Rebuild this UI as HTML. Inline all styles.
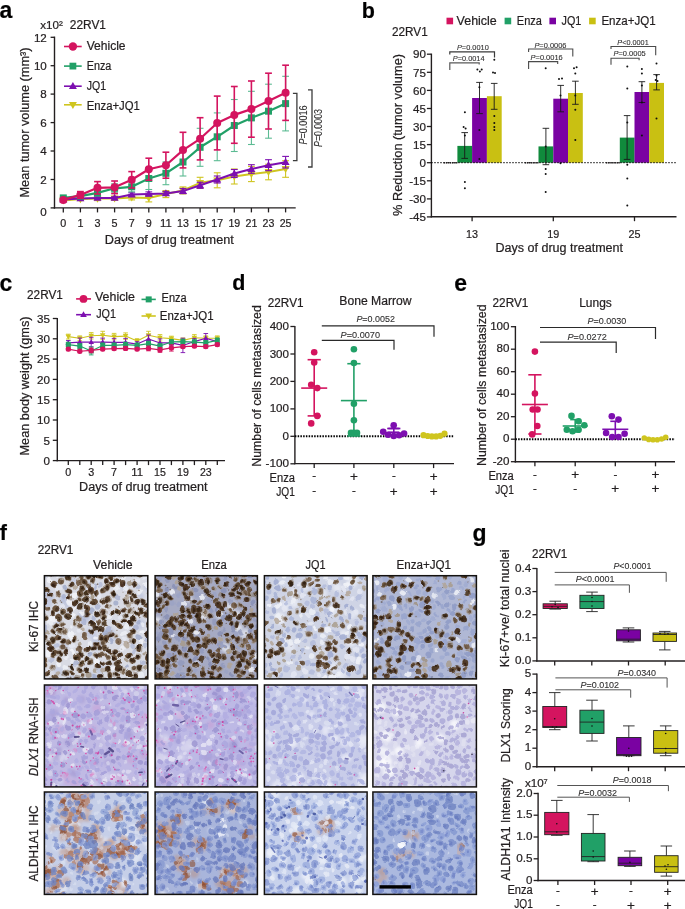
<!DOCTYPE html>
<html lang="en"><head><meta charset="utf-8"><title>Figure</title>
<style>html,body{margin:0;padding:0;background:#fff}svg{display:block}text{font-family:"Liberation Sans",sans-serif;stroke:#231f20;stroke-width:.22px}text.p{stroke-width:.1px}</style></head><body>
<svg width="685" height="909" viewBox="0 0 685 909" fill="#231f20">
<rect x="0" y="0" width="685" height="909" fill="#fff"/>
<g>
<text x="-0.5" y="18" font-size="23" font-weight="700" fill="#000">a</text>
<text x="40.2" y="28.9" font-size="11.5" textLength="22.6" lengthAdjust="spacingAndGlyphs">x10²</text>
<text x="69.8" y="28.9" font-size="12" textLength="36.2" lengthAdjust="spacingAndGlyphs">22RV1</text>
<line x1="54.5" y1="36.6" x2="54.5" y2="208.6" stroke="#231f20" stroke-width="1.4"/>
<line x1="53.8" y1="207.9" x2="295.7" y2="207.9" stroke="#231f20" stroke-width="1.4"/>
<line x1="50.6" y1="207.9" x2="54.5" y2="207.9" stroke="#231f20" stroke-width="1.3"/>
<text x="46.8" y="216.4" font-size="11.6" text-anchor="end">0</text>
<line x1="50.6" y1="179.5" x2="54.5" y2="179.5" stroke="#231f20" stroke-width="1.3"/>
<text x="46.8" y="183.7" font-size="11.6" text-anchor="end">2</text>
<line x1="50.6" y1="151" x2="54.5" y2="151" stroke="#231f20" stroke-width="1.3"/>
<text x="46.8" y="155.2" font-size="11.6" text-anchor="end">4</text>
<line x1="50.6" y1="122.6" x2="54.5" y2="122.6" stroke="#231f20" stroke-width="1.3"/>
<text x="46.8" y="126.8" font-size="11.6" text-anchor="end">6</text>
<line x1="50.6" y1="94.1" x2="54.5" y2="94.1" stroke="#231f20" stroke-width="1.3"/>
<text x="46.8" y="98.3" font-size="11.6" text-anchor="end">8</text>
<line x1="50.6" y1="65.7" x2="54.5" y2="65.7" stroke="#231f20" stroke-width="1.3"/>
<text x="46.8" y="69.9" font-size="11.6" text-anchor="end">10</text>
<line x1="50.6" y1="37.3" x2="54.5" y2="37.3" stroke="#231f20" stroke-width="1.3"/>
<text x="46.8" y="41.5" font-size="11.6" text-anchor="end">12</text>
<line x1="63.3" y1="207.9" x2="63.3" y2="212.4" stroke="#231f20" stroke-width="1.3"/>
<text x="63.3" y="227.3" font-size="11.6" text-anchor="middle" textLength="6" lengthAdjust="spacingAndGlyphs">0</text>
<line x1="80.4" y1="207.9" x2="80.4" y2="212.4" stroke="#231f20" stroke-width="1.3"/>
<text x="80.4" y="227.3" font-size="11.6" text-anchor="middle" textLength="6" lengthAdjust="spacingAndGlyphs">1</text>
<line x1="97.5" y1="207.9" x2="97.5" y2="212.4" stroke="#231f20" stroke-width="1.3"/>
<text x="97.5" y="227.3" font-size="11.6" text-anchor="middle" textLength="6" lengthAdjust="spacingAndGlyphs">3</text>
<line x1="114.6" y1="207.9" x2="114.6" y2="212.4" stroke="#231f20" stroke-width="1.3"/>
<text x="114.6" y="227.3" font-size="11.6" text-anchor="middle" textLength="6" lengthAdjust="spacingAndGlyphs">5</text>
<line x1="131.7" y1="207.9" x2="131.7" y2="212.4" stroke="#231f20" stroke-width="1.3"/>
<text x="131.7" y="227.3" font-size="11.6" text-anchor="middle" textLength="6" lengthAdjust="spacingAndGlyphs">7</text>
<line x1="148.8" y1="207.9" x2="148.8" y2="212.4" stroke="#231f20" stroke-width="1.3"/>
<text x="148.8" y="227.3" font-size="11.6" text-anchor="middle" textLength="6" lengthAdjust="spacingAndGlyphs">9</text>
<line x1="165.9" y1="207.9" x2="165.9" y2="212.4" stroke="#231f20" stroke-width="1.3"/>
<text x="165.9" y="227.3" font-size="11.6" text-anchor="middle" textLength="11.8" lengthAdjust="spacingAndGlyphs">11</text>
<line x1="183" y1="207.9" x2="183" y2="212.4" stroke="#231f20" stroke-width="1.3"/>
<text x="183" y="227.3" font-size="11.6" text-anchor="middle" textLength="11.8" lengthAdjust="spacingAndGlyphs">13</text>
<line x1="200.1" y1="207.9" x2="200.1" y2="212.4" stroke="#231f20" stroke-width="1.3"/>
<text x="200.1" y="227.3" font-size="11.6" text-anchor="middle" textLength="11.8" lengthAdjust="spacingAndGlyphs">15</text>
<line x1="217.2" y1="207.9" x2="217.2" y2="212.4" stroke="#231f20" stroke-width="1.3"/>
<text x="217.2" y="227.3" font-size="11.6" text-anchor="middle" textLength="11.8" lengthAdjust="spacingAndGlyphs">17</text>
<line x1="234.3" y1="207.9" x2="234.3" y2="212.4" stroke="#231f20" stroke-width="1.3"/>
<text x="234.3" y="227.3" font-size="11.6" text-anchor="middle" textLength="11.8" lengthAdjust="spacingAndGlyphs">19</text>
<line x1="251.4" y1="207.9" x2="251.4" y2="212.4" stroke="#231f20" stroke-width="1.3"/>
<text x="251.4" y="227.3" font-size="11.6" text-anchor="middle" textLength="11.8" lengthAdjust="spacingAndGlyphs">21</text>
<line x1="268.5" y1="207.9" x2="268.5" y2="212.4" stroke="#231f20" stroke-width="1.3"/>
<text x="268.5" y="227.3" font-size="11.6" text-anchor="middle" textLength="11.8" lengthAdjust="spacingAndGlyphs">23</text>
<line x1="285.6" y1="207.9" x2="285.6" y2="212.4" stroke="#231f20" stroke-width="1.3"/>
<text x="285.6" y="227.3" font-size="11.6" text-anchor="middle" textLength="11.8" lengthAdjust="spacingAndGlyphs">25</text>
<text x="104.8" y="244.3" font-size="12" textLength="129" lengthAdjust="spacingAndGlyphs">Days of drug treatment</text>
<text font-size="12" textLength="150" lengthAdjust="spacingAndGlyphs" transform="translate(28.8 197.5) rotate(-90)">Mean tumor volume (mm³)</text>
<line x1="63.3" y1="199.4" x2="63.3" y2="201.4" stroke="#cfc51f" stroke-width="1.1"/>
<line x1="59.9" y1="199.4" x2="66.7" y2="199.4" stroke="#cfc51f" stroke-width="1.1"/>
<line x1="59.9" y1="201.4" x2="66.7" y2="201.4" stroke="#cfc51f" stroke-width="1.1"/>
<line x1="80.4" y1="197.6" x2="80.4" y2="200.6" stroke="#cfc51f" stroke-width="1.1"/>
<line x1="77" y1="197.6" x2="83.8" y2="197.6" stroke="#cfc51f" stroke-width="1.1"/>
<line x1="77" y1="200.6" x2="83.8" y2="200.6" stroke="#cfc51f" stroke-width="1.1"/>
<line x1="97.5" y1="196.6" x2="97.5" y2="200.6" stroke="#cfc51f" stroke-width="1.1"/>
<line x1="94.1" y1="196.6" x2="100.9" y2="196.6" stroke="#cfc51f" stroke-width="1.1"/>
<line x1="94.1" y1="200.6" x2="100.9" y2="200.6" stroke="#cfc51f" stroke-width="1.1"/>
<line x1="114.6" y1="196.4" x2="114.6" y2="200.4" stroke="#cfc51f" stroke-width="1.1"/>
<line x1="111.2" y1="196.4" x2="118" y2="196.4" stroke="#cfc51f" stroke-width="1.1"/>
<line x1="111.2" y1="200.4" x2="118" y2="200.4" stroke="#cfc51f" stroke-width="1.1"/>
<line x1="131.7" y1="194.9" x2="131.7" y2="199.9" stroke="#cfc51f" stroke-width="1.1"/>
<line x1="128.3" y1="194.9" x2="135.1" y2="194.9" stroke="#cfc51f" stroke-width="1.1"/>
<line x1="128.3" y1="199.9" x2="135.1" y2="199.9" stroke="#cfc51f" stroke-width="1.1"/>
<line x1="148.8" y1="193.9" x2="148.8" y2="201.9" stroke="#cfc51f" stroke-width="1.1"/>
<line x1="145.4" y1="193.9" x2="152.2" y2="193.9" stroke="#cfc51f" stroke-width="1.1"/>
<line x1="145.4" y1="201.9" x2="152.2" y2="201.9" stroke="#cfc51f" stroke-width="1.1"/>
<line x1="165.9" y1="190.6" x2="165.9" y2="197.6" stroke="#cfc51f" stroke-width="1.1"/>
<line x1="162.5" y1="190.6" x2="169.3" y2="190.6" stroke="#cfc51f" stroke-width="1.1"/>
<line x1="162.5" y1="197.6" x2="169.3" y2="197.6" stroke="#cfc51f" stroke-width="1.1"/>
<line x1="183" y1="186.9" x2="183" y2="193.9" stroke="#cfc51f" stroke-width="1.1"/>
<line x1="179.6" y1="186.9" x2="186.4" y2="186.9" stroke="#cfc51f" stroke-width="1.1"/>
<line x1="179.6" y1="193.9" x2="186.4" y2="193.9" stroke="#cfc51f" stroke-width="1.1"/>
<line x1="200.1" y1="177.3" x2="200.1" y2="188.3" stroke="#cfc51f" stroke-width="1.1"/>
<line x1="196.7" y1="177.3" x2="203.5" y2="177.3" stroke="#cfc51f" stroke-width="1.1"/>
<line x1="196.7" y1="188.3" x2="203.5" y2="188.3" stroke="#cfc51f" stroke-width="1.1"/>
<line x1="217.2" y1="172.8" x2="217.2" y2="187.8" stroke="#cfc51f" stroke-width="1.1"/>
<line x1="213.8" y1="172.8" x2="220.6" y2="172.8" stroke="#cfc51f" stroke-width="1.1"/>
<line x1="213.8" y1="187.8" x2="220.6" y2="187.8" stroke="#cfc51f" stroke-width="1.1"/>
<line x1="234.3" y1="169" x2="234.3" y2="184" stroke="#cfc51f" stroke-width="1.1"/>
<line x1="230.9" y1="169" x2="237.7" y2="169" stroke="#cfc51f" stroke-width="1.1"/>
<line x1="230.9" y1="184" x2="237.7" y2="184" stroke="#cfc51f" stroke-width="1.1"/>
<line x1="251.4" y1="166.4" x2="251.4" y2="181.6" stroke="#cfc51f" stroke-width="1.1"/>
<line x1="248" y1="166.4" x2="254.8" y2="166.4" stroke="#cfc51f" stroke-width="1.1"/>
<line x1="248" y1="181.6" x2="254.8" y2="181.6" stroke="#cfc51f" stroke-width="1.1"/>
<line x1="268.5" y1="164.2" x2="268.5" y2="179.8" stroke="#cfc51f" stroke-width="1.1"/>
<line x1="265.1" y1="164.2" x2="271.9" y2="164.2" stroke="#cfc51f" stroke-width="1.1"/>
<line x1="265.1" y1="179.8" x2="271.9" y2="179.8" stroke="#cfc51f" stroke-width="1.1"/>
<line x1="285.6" y1="160.7" x2="285.6" y2="177.3" stroke="#cfc51f" stroke-width="1.1"/>
<line x1="282.2" y1="160.7" x2="289" y2="160.7" stroke="#cfc51f" stroke-width="1.1"/>
<line x1="282.2" y1="177.3" x2="289" y2="177.3" stroke="#cfc51f" stroke-width="1.1"/>
<polyline points="63.3,200.4 80.4,199.1 97.5,198.6 114.6,198.4 131.7,197.4 148.8,197.9 165.9,194.1 183,190.4 200.1,182.8 217.2,180.3 234.3,176.5 251.4,174 268.5,172 285.6,169" fill="none" stroke="#cfc51f" stroke-width="2" stroke-linejoin="round"/>
<path d="M63.3 204.5L67.3 197.5L59.3 197.5Z" fill="#cfc51f"/>
<path d="M80.4 203.2L84.4 196.2L76.4 196.2Z" fill="#cfc51f"/>
<path d="M97.5 202.7L101.5 195.7L93.5 195.7Z" fill="#cfc51f"/>
<path d="M114.6 202.5L118.6 195.5L110.6 195.5Z" fill="#cfc51f"/>
<path d="M131.7 201.5L135.7 194.5L127.7 194.5Z" fill="#cfc51f"/>
<path d="M148.8 202L152.8 195L144.8 195Z" fill="#cfc51f"/>
<path d="M165.9 198.2L169.9 191.2L161.9 191.2Z" fill="#cfc51f"/>
<path d="M183 194.5L187 187.5L179 187.5Z" fill="#cfc51f"/>
<path d="M200.1 186.9L204.1 179.9L196.1 179.9Z" fill="#cfc51f"/>
<path d="M217.2 184.4L221.2 177.4L213.2 177.4Z" fill="#cfc51f"/>
<path d="M234.3 180.6L238.3 173.6L230.3 173.6Z" fill="#cfc51f"/>
<path d="M251.4 178.1L255.4 171.1L247.4 171.1Z" fill="#cfc51f"/>
<path d="M268.5 176.1L272.5 169.1L264.5 169.1Z" fill="#cfc51f"/>
<path d="M285.6 173.1L289.6 166.1L281.6 166.1Z" fill="#cfc51f"/>
<line x1="63.3" y1="198.6" x2="63.3" y2="200.6" stroke="#7d0fb0" stroke-width="1.1"/>
<line x1="59.9" y1="198.6" x2="66.7" y2="198.6" stroke="#7d0fb0" stroke-width="1.1"/>
<line x1="59.9" y1="200.6" x2="66.7" y2="200.6" stroke="#7d0fb0" stroke-width="1.1"/>
<line x1="80.4" y1="197.4" x2="80.4" y2="199.4" stroke="#7d0fb0" stroke-width="1.1"/>
<line x1="77" y1="197.4" x2="83.8" y2="197.4" stroke="#7d0fb0" stroke-width="1.1"/>
<line x1="77" y1="199.4" x2="83.8" y2="199.4" stroke="#7d0fb0" stroke-width="1.1"/>
<line x1="97.5" y1="196.7" x2="97.5" y2="199.1" stroke="#7d0fb0" stroke-width="1.1"/>
<line x1="94.1" y1="196.7" x2="100.9" y2="196.7" stroke="#7d0fb0" stroke-width="1.1"/>
<line x1="94.1" y1="199.1" x2="100.9" y2="199.1" stroke="#7d0fb0" stroke-width="1.1"/>
<line x1="114.6" y1="196.7" x2="114.6" y2="199.1" stroke="#7d0fb0" stroke-width="1.1"/>
<line x1="111.2" y1="196.7" x2="118" y2="196.7" stroke="#7d0fb0" stroke-width="1.1"/>
<line x1="111.2" y1="199.1" x2="118" y2="199.1" stroke="#7d0fb0" stroke-width="1.1"/>
<line x1="131.7" y1="192.8" x2="131.7" y2="196.4" stroke="#7d0fb0" stroke-width="1.1"/>
<line x1="128.3" y1="192.8" x2="135.1" y2="192.8" stroke="#7d0fb0" stroke-width="1.1"/>
<line x1="128.3" y1="196.4" x2="135.1" y2="196.4" stroke="#7d0fb0" stroke-width="1.1"/>
<line x1="148.8" y1="191.9" x2="148.8" y2="195.9" stroke="#7d0fb0" stroke-width="1.1"/>
<line x1="145.4" y1="191.9" x2="152.2" y2="191.9" stroke="#7d0fb0" stroke-width="1.1"/>
<line x1="145.4" y1="195.9" x2="152.2" y2="195.9" stroke="#7d0fb0" stroke-width="1.1"/>
<line x1="165.9" y1="191.4" x2="165.9" y2="195.4" stroke="#7d0fb0" stroke-width="1.1"/>
<line x1="162.5" y1="191.4" x2="169.3" y2="191.4" stroke="#7d0fb0" stroke-width="1.1"/>
<line x1="162.5" y1="195.4" x2="169.3" y2="195.4" stroke="#7d0fb0" stroke-width="1.1"/>
<line x1="183" y1="188.6" x2="183" y2="193.6" stroke="#7d0fb0" stroke-width="1.1"/>
<line x1="179.6" y1="188.6" x2="186.4" y2="188.6" stroke="#7d0fb0" stroke-width="1.1"/>
<line x1="179.6" y1="193.6" x2="186.4" y2="193.6" stroke="#7d0fb0" stroke-width="1.1"/>
<line x1="200.1" y1="182.3" x2="200.1" y2="188.3" stroke="#7d0fb0" stroke-width="1.1"/>
<line x1="196.7" y1="182.3" x2="203.5" y2="182.3" stroke="#7d0fb0" stroke-width="1.1"/>
<line x1="196.7" y1="188.3" x2="203.5" y2="188.3" stroke="#7d0fb0" stroke-width="1.1"/>
<line x1="217.2" y1="176" x2="217.2" y2="183" stroke="#7d0fb0" stroke-width="1.1"/>
<line x1="213.8" y1="176" x2="220.6" y2="176" stroke="#7d0fb0" stroke-width="1.1"/>
<line x1="213.8" y1="183" x2="220.6" y2="183" stroke="#7d0fb0" stroke-width="1.1"/>
<line x1="234.3" y1="169.5" x2="234.3" y2="177.5" stroke="#7d0fb0" stroke-width="1.1"/>
<line x1="230.9" y1="169.5" x2="237.7" y2="169.5" stroke="#7d0fb0" stroke-width="1.1"/>
<line x1="230.9" y1="177.5" x2="237.7" y2="177.5" stroke="#7d0fb0" stroke-width="1.1"/>
<line x1="251.4" y1="164.7" x2="251.4" y2="173.3" stroke="#7d0fb0" stroke-width="1.1"/>
<line x1="248" y1="164.7" x2="254.8" y2="164.7" stroke="#7d0fb0" stroke-width="1.1"/>
<line x1="248" y1="173.3" x2="254.8" y2="173.3" stroke="#7d0fb0" stroke-width="1.1"/>
<line x1="268.5" y1="159.7" x2="268.5" y2="170.7" stroke="#7d0fb0" stroke-width="1.1"/>
<line x1="265.1" y1="159.7" x2="271.9" y2="159.7" stroke="#7d0fb0" stroke-width="1.1"/>
<line x1="265.1" y1="170.7" x2="271.9" y2="170.7" stroke="#7d0fb0" stroke-width="1.1"/>
<line x1="285.6" y1="156.4" x2="285.6" y2="168" stroke="#7d0fb0" stroke-width="1.1"/>
<line x1="282.2" y1="156.4" x2="289" y2="156.4" stroke="#7d0fb0" stroke-width="1.1"/>
<line x1="282.2" y1="168" x2="289" y2="168" stroke="#7d0fb0" stroke-width="1.1"/>
<polyline points="63.3,199.6 80.4,198.4 97.5,197.9 114.6,197.9 131.7,194.6 148.8,193.9 165.9,193.4 183,191.1 200.1,185.3 217.2,179.5 234.3,173.5 251.4,169 268.5,165.2 285.6,162.2" fill="none" stroke="#7d0fb0" stroke-width="2" stroke-linejoin="round"/>
<path d="M63.3 195.5L67.3 202.5L59.3 202.5Z" fill="#7d0fb0"/>
<path d="M80.4 194.3L84.4 201.3L76.4 201.3Z" fill="#7d0fb0"/>
<path d="M97.5 193.8L101.5 200.8L93.5 200.8Z" fill="#7d0fb0"/>
<path d="M114.6 193.8L118.6 200.8L110.6 200.8Z" fill="#7d0fb0"/>
<path d="M131.7 190.5L135.7 197.5L127.7 197.5Z" fill="#7d0fb0"/>
<path d="M148.8 189.8L152.8 196.8L144.8 196.8Z" fill="#7d0fb0"/>
<path d="M165.9 189.3L169.9 196.3L161.9 196.3Z" fill="#7d0fb0"/>
<path d="M183 187L187 194L179 194Z" fill="#7d0fb0"/>
<path d="M200.1 181.2L204.1 188.2L196.1 188.2Z" fill="#7d0fb0"/>
<path d="M217.2 175.4L221.2 182.4L213.2 182.4Z" fill="#7d0fb0"/>
<path d="M234.3 169.4L238.3 176.4L230.3 176.4Z" fill="#7d0fb0"/>
<path d="M251.4 164.9L255.4 171.9L247.4 171.9Z" fill="#7d0fb0"/>
<path d="M268.5 161.1L272.5 168.1L264.5 168.1Z" fill="#7d0fb0"/>
<path d="M285.6 158.1L289.6 165.1L281.6 165.1Z" fill="#7d0fb0"/>
<line x1="63.3" y1="196.4" x2="63.3" y2="199.4" stroke="#5cbb93" stroke-width="1.1"/>
<line x1="59.9" y1="196.4" x2="66.7" y2="196.4" stroke="#5cbb93" stroke-width="1.1"/>
<line x1="59.9" y1="199.4" x2="66.7" y2="199.4" stroke="#5cbb93" stroke-width="1.1"/>
<line x1="80.4" y1="194.1" x2="80.4" y2="198.1" stroke="#5cbb93" stroke-width="1.1"/>
<line x1="77" y1="194.1" x2="83.8" y2="194.1" stroke="#5cbb93" stroke-width="1.1"/>
<line x1="77" y1="198.1" x2="83.8" y2="198.1" stroke="#5cbb93" stroke-width="1.1"/>
<line x1="97.5" y1="189.9" x2="97.5" y2="195.9" stroke="#5cbb93" stroke-width="1.1"/>
<line x1="94.1" y1="189.9" x2="100.9" y2="189.9" stroke="#5cbb93" stroke-width="1.1"/>
<line x1="94.1" y1="195.9" x2="100.9" y2="195.9" stroke="#5cbb93" stroke-width="1.1"/>
<line x1="114.6" y1="183.8" x2="114.6" y2="192.8" stroke="#5cbb93" stroke-width="1.1"/>
<line x1="111.2" y1="183.8" x2="118" y2="183.8" stroke="#5cbb93" stroke-width="1.1"/>
<line x1="111.2" y1="192.8" x2="118" y2="192.8" stroke="#5cbb93" stroke-width="1.1"/>
<line x1="131.7" y1="181.8" x2="131.7" y2="191.8" stroke="#5cbb93" stroke-width="1.1"/>
<line x1="128.3" y1="181.8" x2="135.1" y2="181.8" stroke="#5cbb93" stroke-width="1.1"/>
<line x1="128.3" y1="191.8" x2="135.1" y2="191.8" stroke="#5cbb93" stroke-width="1.1"/>
<line x1="148.8" y1="167.5" x2="148.8" y2="189.5" stroke="#5cbb93" stroke-width="1.1"/>
<line x1="145.4" y1="167.5" x2="152.2" y2="167.5" stroke="#5cbb93" stroke-width="1.1"/>
<line x1="145.4" y1="189.5" x2="152.2" y2="189.5" stroke="#5cbb93" stroke-width="1.1"/>
<line x1="165.9" y1="161.9" x2="165.9" y2="184.7" stroke="#5cbb93" stroke-width="1.1"/>
<line x1="162.5" y1="161.9" x2="169.3" y2="161.9" stroke="#5cbb93" stroke-width="1.1"/>
<line x1="162.5" y1="184.7" x2="169.3" y2="184.7" stroke="#5cbb93" stroke-width="1.1"/>
<line x1="183" y1="148" x2="183" y2="176" stroke="#5cbb93" stroke-width="1.1"/>
<line x1="179.6" y1="148" x2="186.4" y2="148" stroke="#5cbb93" stroke-width="1.1"/>
<line x1="179.6" y1="176" x2="186.4" y2="176" stroke="#5cbb93" stroke-width="1.1"/>
<line x1="200.1" y1="128.3" x2="200.1" y2="166.3" stroke="#5cbb93" stroke-width="1.1"/>
<line x1="196.7" y1="128.3" x2="203.5" y2="128.3" stroke="#5cbb93" stroke-width="1.1"/>
<line x1="196.7" y1="166.3" x2="203.5" y2="166.3" stroke="#5cbb93" stroke-width="1.1"/>
<line x1="217.2" y1="112.9" x2="217.2" y2="160.7" stroke="#5cbb93" stroke-width="1.1"/>
<line x1="213.8" y1="112.9" x2="220.6" y2="112.9" stroke="#5cbb93" stroke-width="1.1"/>
<line x1="213.8" y1="160.7" x2="220.6" y2="160.7" stroke="#5cbb93" stroke-width="1.1"/>
<line x1="234.3" y1="99.5" x2="234.3" y2="151.5" stroke="#5cbb93" stroke-width="1.1"/>
<line x1="230.9" y1="99.5" x2="237.7" y2="99.5" stroke="#5cbb93" stroke-width="1.1"/>
<line x1="230.9" y1="151.5" x2="237.7" y2="151.5" stroke="#5cbb93" stroke-width="1.1"/>
<line x1="251.4" y1="91.3" x2="251.4" y2="144.5" stroke="#5cbb93" stroke-width="1.1"/>
<line x1="248" y1="91.3" x2="254.8" y2="91.3" stroke="#5cbb93" stroke-width="1.1"/>
<line x1="248" y1="144.5" x2="254.8" y2="144.5" stroke="#5cbb93" stroke-width="1.1"/>
<line x1="268.5" y1="84.2" x2="268.5" y2="138.2" stroke="#5cbb93" stroke-width="1.1"/>
<line x1="265.1" y1="84.2" x2="271.9" y2="84.2" stroke="#5cbb93" stroke-width="1.1"/>
<line x1="265.1" y1="138.2" x2="271.9" y2="138.2" stroke="#5cbb93" stroke-width="1.1"/>
<line x1="285.6" y1="76.3" x2="285.6" y2="130.9" stroke="#5cbb93" stroke-width="1.1"/>
<line x1="282.2" y1="76.3" x2="289" y2="76.3" stroke="#5cbb93" stroke-width="1.1"/>
<line x1="282.2" y1="130.9" x2="289" y2="130.9" stroke="#5cbb93" stroke-width="1.1"/>
<polyline points="63.3,197.9 80.4,196.1 97.5,192.9 114.6,188.3 131.7,186.8 148.8,178.5 165.9,173.3 183,162 200.1,147.3 217.2,136.8 234.3,125.5 251.4,117.9 268.5,111.2 285.6,103.6" fill="none" stroke="#21a067" stroke-width="2.2" stroke-linejoin="round"/>
<rect x="59.8" y="194.4" width="7" height="7" fill="#21a067"/>
<rect x="76.9" y="192.6" width="7" height="7" fill="#21a067"/>
<rect x="94" y="189.4" width="7" height="7" fill="#21a067"/>
<rect x="111.1" y="184.8" width="7" height="7" fill="#21a067"/>
<rect x="128.2" y="183.3" width="7" height="7" fill="#21a067"/>
<rect x="145.3" y="175" width="7" height="7" fill="#21a067"/>
<rect x="162.4" y="169.8" width="7" height="7" fill="#21a067"/>
<rect x="179.5" y="158.5" width="7" height="7" fill="#21a067"/>
<rect x="196.6" y="143.8" width="7" height="7" fill="#21a067"/>
<rect x="213.7" y="133.3" width="7" height="7" fill="#21a067"/>
<rect x="230.8" y="122" width="7" height="7" fill="#21a067"/>
<rect x="247.9" y="114.4" width="7" height="7" fill="#21a067"/>
<rect x="265" y="107.7" width="7" height="7" fill="#21a067"/>
<rect x="282.1" y="100.1" width="7" height="7" fill="#21a067"/>
<line x1="63.3" y1="198.4" x2="63.3" y2="201.4" stroke="#d4145f" stroke-width="1.6"/>
<line x1="59.9" y1="198.4" x2="66.7" y2="198.4" stroke="#d4145f" stroke-width="1.6"/>
<line x1="59.9" y1="201.4" x2="66.7" y2="201.4" stroke="#d4145f" stroke-width="1.6"/>
<line x1="80.4" y1="191.6" x2="80.4" y2="198.2" stroke="#d4145f" stroke-width="1.6"/>
<line x1="77" y1="191.6" x2="83.8" y2="191.6" stroke="#d4145f" stroke-width="1.6"/>
<line x1="77" y1="198.2" x2="83.8" y2="198.2" stroke="#d4145f" stroke-width="1.6"/>
<line x1="97.5" y1="181.6" x2="97.5" y2="194" stroke="#d4145f" stroke-width="1.6"/>
<line x1="94.1" y1="181.6" x2="100.9" y2="181.6" stroke="#d4145f" stroke-width="1.6"/>
<line x1="94.1" y1="194" x2="100.9" y2="194" stroke="#d4145f" stroke-width="1.6"/>
<line x1="114.6" y1="181" x2="114.6" y2="193.6" stroke="#d4145f" stroke-width="1.6"/>
<line x1="111.2" y1="181" x2="118" y2="181" stroke="#d4145f" stroke-width="1.6"/>
<line x1="111.2" y1="193.6" x2="118" y2="193.6" stroke="#d4145f" stroke-width="1.6"/>
<line x1="131.7" y1="171.6" x2="131.7" y2="188" stroke="#d4145f" stroke-width="1.6"/>
<line x1="128.3" y1="171.6" x2="135.1" y2="171.6" stroke="#d4145f" stroke-width="1.6"/>
<line x1="128.3" y1="188" x2="135.1" y2="188" stroke="#d4145f" stroke-width="1.6"/>
<line x1="148.8" y1="158.2" x2="148.8" y2="180.2" stroke="#d4145f" stroke-width="1.6"/>
<line x1="145.4" y1="158.2" x2="152.2" y2="158.2" stroke="#d4145f" stroke-width="1.6"/>
<line x1="145.4" y1="180.2" x2="152.2" y2="180.2" stroke="#d4145f" stroke-width="1.6"/>
<line x1="165.9" y1="152.2" x2="165.9" y2="178.2" stroke="#d4145f" stroke-width="1.6"/>
<line x1="162.5" y1="152.2" x2="169.3" y2="152.2" stroke="#d4145f" stroke-width="1.6"/>
<line x1="162.5" y1="178.2" x2="169.3" y2="178.2" stroke="#d4145f" stroke-width="1.6"/>
<line x1="183" y1="132.3" x2="183" y2="167.9" stroke="#d4145f" stroke-width="1.6"/>
<line x1="179.6" y1="132.3" x2="186.4" y2="132.3" stroke="#d4145f" stroke-width="1.6"/>
<line x1="179.6" y1="167.9" x2="186.4" y2="167.9" stroke="#d4145f" stroke-width="1.6"/>
<line x1="200.1" y1="117.7" x2="200.1" y2="159.9" stroke="#d4145f" stroke-width="1.6"/>
<line x1="196.7" y1="117.7" x2="203.5" y2="117.7" stroke="#d4145f" stroke-width="1.6"/>
<line x1="196.7" y1="159.9" x2="203.5" y2="159.9" stroke="#d4145f" stroke-width="1.6"/>
<line x1="217.2" y1="96.1" x2="217.2" y2="149.9" stroke="#d4145f" stroke-width="1.6"/>
<line x1="213.8" y1="96.1" x2="220.6" y2="96.1" stroke="#d4145f" stroke-width="1.6"/>
<line x1="213.8" y1="149.9" x2="220.6" y2="149.9" stroke="#d4145f" stroke-width="1.6"/>
<line x1="234.3" y1="86.5" x2="234.3" y2="143.3" stroke="#d4145f" stroke-width="1.6"/>
<line x1="230.9" y1="86.5" x2="237.7" y2="86.5" stroke="#d4145f" stroke-width="1.6"/>
<line x1="230.9" y1="143.3" x2="237.7" y2="143.3" stroke="#d4145f" stroke-width="1.6"/>
<line x1="251.4" y1="81" x2="251.4" y2="137.2" stroke="#d4145f" stroke-width="1.6"/>
<line x1="248" y1="81" x2="254.8" y2="81" stroke="#d4145f" stroke-width="1.6"/>
<line x1="248" y1="137.2" x2="254.8" y2="137.2" stroke="#d4145f" stroke-width="1.6"/>
<line x1="268.5" y1="73.2" x2="268.5" y2="129" stroke="#d4145f" stroke-width="1.6"/>
<line x1="265.1" y1="73.2" x2="271.9" y2="73.2" stroke="#d4145f" stroke-width="1.6"/>
<line x1="265.1" y1="129" x2="271.9" y2="129" stroke="#d4145f" stroke-width="1.6"/>
<line x1="285.6" y1="65.2" x2="285.6" y2="120.4" stroke="#d4145f" stroke-width="1.6"/>
<line x1="282.2" y1="65.2" x2="289" y2="65.2" stroke="#d4145f" stroke-width="1.6"/>
<line x1="282.2" y1="120.4" x2="289" y2="120.4" stroke="#d4145f" stroke-width="1.6"/>
<polyline points="63.3,199.9 80.4,194.9 97.5,187.8 114.6,187.3 131.7,179.8 148.8,169.2 165.9,165.2 183,150.1 200.1,138.8 217.2,123 234.3,114.9 251.4,109.1 268.5,101.1 285.6,92.8" fill="none" stroke="#d4145f" stroke-width="2.2" stroke-linejoin="round"/>
<circle cx="63.3" cy="199.9" r="4" fill="#d4145f"/>
<circle cx="80.4" cy="194.9" r="4" fill="#d4145f"/>
<circle cx="97.5" cy="187.8" r="4" fill="#d4145f"/>
<circle cx="114.6" cy="187.3" r="4" fill="#d4145f"/>
<circle cx="131.7" cy="179.8" r="4" fill="#d4145f"/>
<circle cx="148.8" cy="169.2" r="4" fill="#d4145f"/>
<circle cx="165.9" cy="165.2" r="4" fill="#d4145f"/>
<circle cx="183" cy="150.1" r="4" fill="#d4145f"/>
<circle cx="200.1" cy="138.8" r="4" fill="#d4145f"/>
<circle cx="217.2" cy="123" r="4" fill="#d4145f"/>
<circle cx="234.3" cy="114.9" r="4" fill="#d4145f"/>
<circle cx="251.4" cy="109.1" r="4" fill="#d4145f"/>
<circle cx="268.5" cy="101.1" r="4" fill="#d4145f"/>
<circle cx="285.6" cy="92.8" r="4" fill="#d4145f"/>
<line x1="64" y1="46.5" x2="81.7" y2="46.5" stroke="#d4145f" stroke-width="1.6"/>
<circle cx="72.9" cy="46.5" r="4.2" fill="#d4145f"/>
<text x="86.7" y="50.3" font-size="12" textLength="38.9" lengthAdjust="spacingAndGlyphs">Vehicle</text>
<line x1="64" y1="66.1" x2="81.7" y2="66.1" stroke="#21a067" stroke-width="1.6"/>
<rect x="69.5" y="62.7" width="6.8" height="6.8" fill="#21a067"/>
<text x="86.7" y="70.4" font-size="12" textLength="24.6" lengthAdjust="spacingAndGlyphs">Enza</text>
<line x1="64" y1="86.2" x2="81.7" y2="86.2" stroke="#7d0fb0" stroke-width="1.6"/>
<path d="M72.9 82.1L76.9 89.1L68.9 89.1Z" fill="#7d0fb0"/>
<text x="86.7" y="89.9" font-size="12" textLength="19.3" lengthAdjust="spacingAndGlyphs">JQ1</text>
<line x1="64" y1="104.8" x2="81.7" y2="104.8" stroke="#cfc51f" stroke-width="1.6"/>
<path d="M72.9 108.9L76.9 101.9L68.9 101.9Z" fill="#cfc51f"/>
<text x="86.7" y="109.8" font-size="12" textLength="53.2" lengthAdjust="spacingAndGlyphs">Enza+JQ1</text>
<polyline points="292.9,93.3 296.9,93.3 296.9,160.7 292.9,160.7" fill="none" stroke="#3c3c3c" stroke-width="1.3"/>
<polyline points="308,89.8 312,89.8 312,167 308,167" fill="none" stroke="#3c3c3c" stroke-width="1.3"/>
<text font-size="10" textLength="39" lengthAdjust="spacingAndGlyphs" fill="#333" transform="translate(306.5 144.5) rotate(-90)" class="p"><tspan font-style="italic">P</tspan>=0.0016</text>
<text font-size="10" textLength="38" lengthAdjust="spacingAndGlyphs" fill="#333" transform="translate(322.2 147) rotate(-90)" class="p"><tspan font-style="italic">P</tspan>=0.0003</text>
</g>
<g>
<text x="361.8" y="17.6" font-size="21.5" font-weight="700" fill="#000">b</text>
<text x="392" y="35.7" font-size="12" textLength="35.7" lengthAdjust="spacingAndGlyphs">22RV1</text>
<rect x="446.5" y="17.7" width="6.6" height="6.6" fill="#d4145f"/>
<text x="456.6" y="24.5" font-size="12.6" textLength="40.2" lengthAdjust="spacingAndGlyphs">Vehicle</text>
<rect x="504.6" y="17.7" width="6.6" height="6.6" fill="#21a067"/>
<text x="516.8" y="24.5" font-size="12.6" textLength="25.1" lengthAdjust="spacingAndGlyphs">Enza</text>
<rect x="549.4" y="17.7" width="6.6" height="6.6" fill="#7a02a2"/>
<text x="561.5" y="24.5" font-size="12.6" textLength="19.8" lengthAdjust="spacingAndGlyphs">JQ1</text>
<rect x="589.1" y="17.7" width="6.6" height="6.6" fill="#c9c012"/>
<text x="601.4" y="24.5" font-size="12.6" textLength="54.3" lengthAdjust="spacingAndGlyphs">Enza+JQ1</text>
<line x1="431.4" y1="53.6" x2="431.4" y2="217.4" stroke="#231f20" stroke-width="1.4"/>
<line x1="430.7" y1="216.7" x2="676.5" y2="216.7" stroke="#231f20" stroke-width="1.4"/>
<line x1="426.9" y1="216.9" x2="431.4" y2="216.9" stroke="#231f20" stroke-width="1.3"/>
<text x="426" y="221.1" font-size="11.6" text-anchor="end">-45</text>
<line x1="426.9" y1="198.9" x2="431.4" y2="198.9" stroke="#231f20" stroke-width="1.3"/>
<text x="426" y="203.1" font-size="11.6" text-anchor="end">-30</text>
<line x1="426.9" y1="180.8" x2="431.4" y2="180.8" stroke="#231f20" stroke-width="1.3"/>
<text x="426" y="185" font-size="11.6" text-anchor="end">-15</text>
<line x1="426.9" y1="162.7" x2="431.4" y2="162.7" stroke="#231f20" stroke-width="1.3"/>
<text x="426" y="166.9" font-size="11.6" text-anchor="end">0</text>
<line x1="426.9" y1="144.6" x2="431.4" y2="144.6" stroke="#231f20" stroke-width="1.3"/>
<text x="426" y="148.8" font-size="11.6" text-anchor="end">15</text>
<line x1="426.9" y1="126.5" x2="431.4" y2="126.5" stroke="#231f20" stroke-width="1.3"/>
<text x="426" y="130.7" font-size="11.6" text-anchor="end">30</text>
<line x1="426.9" y1="108.5" x2="431.4" y2="108.5" stroke="#231f20" stroke-width="1.3"/>
<text x="426" y="112.7" font-size="11.6" text-anchor="end">45</text>
<line x1="426.9" y1="90.4" x2="431.4" y2="90.4" stroke="#231f20" stroke-width="1.3"/>
<text x="426" y="94.6" font-size="11.6" text-anchor="end">60</text>
<line x1="426.9" y1="72.3" x2="431.4" y2="72.3" stroke="#231f20" stroke-width="1.3"/>
<text x="426" y="76.5" font-size="11.6" text-anchor="end">75</text>
<line x1="426.9" y1="54.2" x2="431.4" y2="54.2" stroke="#231f20" stroke-width="1.3"/>
<text x="426" y="58.4" font-size="11.6" text-anchor="end">90</text>
<text font-size="12" textLength="162" lengthAdjust="spacingAndGlyphs" transform="translate(401.8 216) rotate(-90)">% Reduction (tumor volume)</text>
<text x="495.5" y="251.6" font-size="12" textLength="127.5" lengthAdjust="spacingAndGlyphs">Days of drug treatment</text>
<line x1="472.1" y1="216.7" x2="472.1" y2="221.2" stroke="#231f20" stroke-width="1.3"/>
<text x="472.1" y="237.8" font-size="11.6" text-anchor="middle" textLength="12" lengthAdjust="spacingAndGlyphs">13</text>
<rect x="457.4" y="145.9" width="14.8" height="16.8" fill="#108a3c"/>
<rect x="472.1" y="98" width="14.8" height="64.7" fill="#7a02a2"/>
<rect x="486.9" y="96.2" width="14.8" height="66.5" fill="#c9c012"/>
<line x1="553.3" y1="216.7" x2="553.3" y2="221.2" stroke="#231f20" stroke-width="1.3"/>
<text x="553.3" y="237.8" font-size="11.6" text-anchor="middle" textLength="12" lengthAdjust="spacingAndGlyphs">19</text>
<rect x="538.5" y="146.4" width="14.8" height="16.3" fill="#108a3c"/>
<rect x="553.3" y="98.7" width="14.8" height="64" fill="#7a02a2"/>
<rect x="568" y="93" width="14.8" height="69.7" fill="#c9c012"/>
<line x1="634.5" y1="216.7" x2="634.5" y2="221.2" stroke="#231f20" stroke-width="1.3"/>
<text x="634.5" y="237.8" font-size="11.6" text-anchor="middle" textLength="12" lengthAdjust="spacingAndGlyphs">25</text>
<rect x="619.8" y="137.6" width="14.8" height="25.1" fill="#108a3c"/>
<rect x="634.5" y="92" width="14.8" height="70.7" fill="#7a02a2"/>
<rect x="649.2" y="82.9" width="14.8" height="79.8" fill="#c9c012"/>
<line x1="431.4" y1="162.7" x2="676.5" y2="162.7" stroke="#000" stroke-width="1.2" stroke-dasharray="1.2 1.8"/>
<line x1="443.6" y1="162.7" x2="457.4" y2="162.7" stroke="#231f20" stroke-width="1.6" stroke-dasharray="1.4 0.7"/>
<line x1="524.8" y1="162.7" x2="538.5" y2="162.7" stroke="#231f20" stroke-width="1.6" stroke-dasharray="1.4 0.7"/>
<line x1="606" y1="162.7" x2="619.8" y2="162.7" stroke="#231f20" stroke-width="1.6" stroke-dasharray="1.4 0.7"/>
<line x1="464.7" y1="132.6" x2="464.7" y2="158.4" stroke="#1a1a1a" stroke-width="0.9"/>
<line x1="461.4" y1="132.6" x2="468" y2="132.6" stroke="#1a1a1a" stroke-width="0.9"/>
<line x1="461.4" y1="158.4" x2="468" y2="158.4" stroke="#1a1a1a" stroke-width="0.9"/>
<line x1="479.5" y1="82.4" x2="479.5" y2="113.6" stroke="#1a1a1a" stroke-width="0.9"/>
<line x1="476.2" y1="82.4" x2="482.8" y2="82.4" stroke="#1a1a1a" stroke-width="0.9"/>
<line x1="476.2" y1="113.6" x2="482.8" y2="113.6" stroke="#1a1a1a" stroke-width="0.9"/>
<line x1="494.2" y1="83.4" x2="494.2" y2="109.3" stroke="#1a1a1a" stroke-width="0.9"/>
<line x1="490.9" y1="83.4" x2="497.5" y2="83.4" stroke="#1a1a1a" stroke-width="0.9"/>
<line x1="490.9" y1="109.3" x2="497.5" y2="109.3" stroke="#1a1a1a" stroke-width="0.9"/>
<line x1="545.9" y1="128.3" x2="545.9" y2="164.7" stroke="#1a1a1a" stroke-width="0.9"/>
<line x1="542.6" y1="128.3" x2="549.2" y2="128.3" stroke="#1a1a1a" stroke-width="0.9"/>
<line x1="542.6" y1="164.7" x2="549.2" y2="164.7" stroke="#1a1a1a" stroke-width="0.9"/>
<line x1="560.7" y1="85.4" x2="560.7" y2="111.8" stroke="#1a1a1a" stroke-width="0.9"/>
<line x1="557.4" y1="85.4" x2="564" y2="85.4" stroke="#1a1a1a" stroke-width="0.9"/>
<line x1="557.4" y1="111.8" x2="564" y2="111.8" stroke="#1a1a1a" stroke-width="0.9"/>
<line x1="575.4" y1="81.2" x2="575.4" y2="104.3" stroke="#1a1a1a" stroke-width="0.9"/>
<line x1="572.1" y1="81.2" x2="578.7" y2="81.2" stroke="#1a1a1a" stroke-width="0.9"/>
<line x1="572.1" y1="104.3" x2="578.7" y2="104.3" stroke="#1a1a1a" stroke-width="0.9"/>
<line x1="627.1" y1="115.6" x2="627.1" y2="159.4" stroke="#1a1a1a" stroke-width="0.9"/>
<line x1="623.8" y1="115.6" x2="630.4" y2="115.6" stroke="#1a1a1a" stroke-width="0.9"/>
<line x1="623.8" y1="159.4" x2="630.4" y2="159.4" stroke="#1a1a1a" stroke-width="0.9"/>
<line x1="641.9" y1="81.7" x2="641.9" y2="102.5" stroke="#1a1a1a" stroke-width="0.9"/>
<line x1="638.6" y1="81.7" x2="645.2" y2="81.7" stroke="#1a1a1a" stroke-width="0.9"/>
<line x1="638.6" y1="102.5" x2="645.2" y2="102.5" stroke="#1a1a1a" stroke-width="0.9"/>
<line x1="656.6" y1="74.6" x2="656.6" y2="89.9" stroke="#1a1a1a" stroke-width="0.9"/>
<line x1="653.3" y1="74.6" x2="659.9" y2="74.6" stroke="#1a1a1a" stroke-width="0.9"/>
<line x1="653.3" y1="89.9" x2="659.9" y2="89.9" stroke="#1a1a1a" stroke-width="0.9"/>
<circle cx="464.9" cy="112.3" r="1" fill="#111"/>
<circle cx="463.6" cy="127" r="1" fill="#111"/>
<circle cx="465.6" cy="128.6" r="1" fill="#111"/>
<circle cx="464.9" cy="135.6" r="1" fill="#111"/>
<circle cx="464.9" cy="182" r="1" fill="#111"/>
<circle cx="464.9" cy="188.3" r="1" fill="#111"/>
<circle cx="477.4" cy="69.6" r="1" fill="#111"/>
<circle cx="479.9" cy="71.6" r="1" fill="#111"/>
<circle cx="481.7" cy="69.6" r="1" fill="#111"/>
<circle cx="479.4" cy="87.2" r="1" fill="#111"/>
<circle cx="479.4" cy="130" r="1" fill="#111"/>
<circle cx="479.4" cy="158.9" r="1" fill="#111"/>
<circle cx="494.3" cy="59.8" r="1" fill="#111"/>
<circle cx="493" cy="72.4" r="1" fill="#111"/>
<circle cx="495" cy="72.9" r="1" fill="#111"/>
<circle cx="494.3" cy="116" r="1" fill="#111"/>
<circle cx="494.3" cy="123" r="1" fill="#111"/>
<circle cx="494.3" cy="127" r="1" fill="#111"/>
<circle cx="494.3" cy="130" r="1" fill="#111"/>
<circle cx="545.7" cy="68.3" r="1" fill="#111"/>
<circle cx="545.7" cy="169" r="1" fill="#111"/>
<circle cx="545.7" cy="174" r="1" fill="#111"/>
<circle cx="545.7" cy="192.1" r="1" fill="#111"/>
<circle cx="545.7" cy="146.4" r="1" fill="#111"/>
<circle cx="559" cy="79.1" r="1" fill="#111"/>
<circle cx="562" cy="78.4" r="1" fill="#111"/>
<circle cx="560.5" cy="95.5" r="1" fill="#111"/>
<circle cx="560.5" cy="163.2" r="1" fill="#111"/>
<circle cx="574" cy="68.3" r="1" fill="#111"/>
<circle cx="576.6" cy="67.3" r="1" fill="#111"/>
<circle cx="575.3" cy="73.6" r="1" fill="#111"/>
<circle cx="575.3" cy="95.5" r="1" fill="#111"/>
<circle cx="575.3" cy="109.8" r="1" fill="#111"/>
<circle cx="575.3" cy="140.1" r="1" fill="#111"/>
<circle cx="627.3" cy="66.6" r="1" fill="#111"/>
<circle cx="627.3" cy="88.4" r="1" fill="#111"/>
<circle cx="627.3" cy="122.5" r="1" fill="#111"/>
<circle cx="627.3" cy="164.7" r="1" fill="#111"/>
<circle cx="627.3" cy="178.5" r="1" fill="#111"/>
<circle cx="627.3" cy="205.4" r="1" fill="#111"/>
<circle cx="641.9" cy="69.1" r="1" fill="#111"/>
<circle cx="641.9" cy="73.4" r="1" fill="#111"/>
<circle cx="641.9" cy="85.4" r="1" fill="#111"/>
<circle cx="641.9" cy="102.5" r="1" fill="#111"/>
<circle cx="641.9" cy="135.6" r="1" fill="#111"/>
<circle cx="656.5" cy="63.6" r="1" fill="#111"/>
<circle cx="656.5" cy="75.4" r="1" fill="#111"/>
<circle cx="655.7" cy="79.9" r="1" fill="#111"/>
<circle cx="657.5" cy="81" r="1" fill="#111"/>
<circle cx="656.5" cy="118.6" r="1" fill="#111"/>
<polyline points="449.8,54.6 449.8,51.8 494.5,51.8 494.5,57.4" fill="none" stroke="#3a3a3a" stroke-width="1.2"/>
<text x="456.9" y="50" font-size="7.7" textLength="31.9" lengthAdjust="spacingAndGlyphs" fill="#333" class="p"><tspan font-style="italic">P</tspan>=0.0010</text>
<polyline points="449.8,69.9 449.8,62.9 479.2,62.9 479.2,64.4" fill="none" stroke="#5a5a5a" stroke-width="1.2"/>
<text x="452.8" y="60.8" font-size="7.7" textLength="31.7" lengthAdjust="spacingAndGlyphs" fill="#333" class="p"><tspan font-style="italic">P</tspan>=0.0014</text>
<polyline points="528.6,52 528.6,49 572.8,49 572.8,56.5" fill="none" stroke="#4a4a4a" stroke-width="1.1"/>
<text x="534.4" y="47.7" font-size="7.8" textLength="32.1" lengthAdjust="spacingAndGlyphs" fill="#333" class="p"><tspan font-style="italic">P</tspan>=0.0006</text>
<polyline points="528.6,69.1 528.6,61.6 557.7,61.6 557.7,64.1" fill="none" stroke="#4a4a4a" stroke-width="1.1"/>
<text x="530.6" y="59.8" font-size="7.8" textLength="32.1" lengthAdjust="spacingAndGlyphs" fill="#333" class="p"><tspan font-style="italic">P</tspan>=0.0016</text>
<polyline points="611,49 611,46.5 655.7,46.5 655.7,55.3" fill="none" stroke="#4a4a4a" stroke-width="1.1"/>
<text x="617.3" y="44.5" font-size="7.6" textLength="31.4" lengthAdjust="spacingAndGlyphs" fill="#333" class="p"><tspan font-style="italic">P</tspan>&lt;0.0001</text>
<polyline points="611,64.8 611,58.3 639.1,58.3 639.1,60.3" fill="none" stroke="#4a4a4a" stroke-width="1.1"/>
<text x="613.5" y="55.8" font-size="7.8" textLength="32.2" lengthAdjust="spacingAndGlyphs" fill="#333" class="p"><tspan font-style="italic">P</tspan>=0.0005</text>
</g>
<g>
<text x="-0.5" y="290.6" font-size="23" font-weight="700" fill="#000">c</text>
<text x="27.1" y="298.9" font-size="12" textLength="35.7" lengthAdjust="spacingAndGlyphs">22RV1</text>
<line x1="57.3" y1="317.9" x2="57.3" y2="461.3" stroke="#231f20" stroke-width="1.4"/>
<line x1="56.6" y1="460.6" x2="225" y2="460.6" stroke="#231f20" stroke-width="1.4"/>
<line x1="52.8" y1="460.6" x2="57.3" y2="460.6" stroke="#231f20" stroke-width="1.3"/>
<text x="50" y="464.8" font-size="11.6" text-anchor="end">0</text>
<line x1="52.8" y1="440.3" x2="57.3" y2="440.3" stroke="#231f20" stroke-width="1.3"/>
<text x="50" y="444.5" font-size="11.6" text-anchor="end">5</text>
<line x1="52.8" y1="420" x2="57.3" y2="420" stroke="#231f20" stroke-width="1.3"/>
<text x="50" y="424.2" font-size="11.6" text-anchor="end">10</text>
<line x1="52.8" y1="399.7" x2="57.3" y2="399.7" stroke="#231f20" stroke-width="1.3"/>
<text x="50" y="403.9" font-size="11.6" text-anchor="end">15</text>
<line x1="52.8" y1="379.4" x2="57.3" y2="379.4" stroke="#231f20" stroke-width="1.3"/>
<text x="50" y="383.6" font-size="11.6" text-anchor="end">20</text>
<line x1="52.8" y1="359.1" x2="57.3" y2="359.1" stroke="#231f20" stroke-width="1.3"/>
<text x="50" y="363.3" font-size="11.6" text-anchor="end">25</text>
<line x1="52.8" y1="338.8" x2="57.3" y2="338.8" stroke="#231f20" stroke-width="1.3"/>
<text x="50" y="343" font-size="11.6" text-anchor="end">30</text>
<line x1="52.8" y1="318.5" x2="57.3" y2="318.5" stroke="#231f20" stroke-width="1.3"/>
<text x="50" y="322.7" font-size="11.6" text-anchor="end">35</text>
<line x1="68.3" y1="460.6" x2="68.3" y2="465.1" stroke="#231f20" stroke-width="1.3"/>
<text x="68.3" y="475.9" font-size="11.6" text-anchor="middle" textLength="6" lengthAdjust="spacingAndGlyphs">0</text>
<line x1="79.8" y1="460.6" x2="79.8" y2="465.1" stroke="#231f20" stroke-width="1.3"/>
<line x1="91.2" y1="460.6" x2="91.2" y2="465.1" stroke="#231f20" stroke-width="1.3"/>
<text x="91.2" y="475.9" font-size="11.6" text-anchor="middle" textLength="6" lengthAdjust="spacingAndGlyphs">3</text>
<line x1="102.7" y1="460.6" x2="102.7" y2="465.1" stroke="#231f20" stroke-width="1.3"/>
<line x1="114.1" y1="460.6" x2="114.1" y2="465.1" stroke="#231f20" stroke-width="1.3"/>
<text x="114.1" y="475.9" font-size="11.6" text-anchor="middle" textLength="6" lengthAdjust="spacingAndGlyphs">7</text>
<line x1="125.6" y1="460.6" x2="125.6" y2="465.1" stroke="#231f20" stroke-width="1.3"/>
<line x1="137.1" y1="460.6" x2="137.1" y2="465.1" stroke="#231f20" stroke-width="1.3"/>
<text x="137.1" y="475.9" font-size="11.6" text-anchor="middle" textLength="11.8" lengthAdjust="spacingAndGlyphs">11</text>
<line x1="148.5" y1="460.6" x2="148.5" y2="465.1" stroke="#231f20" stroke-width="1.3"/>
<line x1="160" y1="460.6" x2="160" y2="465.1" stroke="#231f20" stroke-width="1.3"/>
<text x="160" y="475.9" font-size="11.6" text-anchor="middle" textLength="11.8" lengthAdjust="spacingAndGlyphs">15</text>
<line x1="171.4" y1="460.6" x2="171.4" y2="465.1" stroke="#231f20" stroke-width="1.3"/>
<line x1="182.9" y1="460.6" x2="182.9" y2="465.1" stroke="#231f20" stroke-width="1.3"/>
<text x="182.9" y="475.9" font-size="11.6" text-anchor="middle" textLength="11.8" lengthAdjust="spacingAndGlyphs">19</text>
<line x1="194.4" y1="460.6" x2="194.4" y2="465.1" stroke="#231f20" stroke-width="1.3"/>
<line x1="205.8" y1="460.6" x2="205.8" y2="465.1" stroke="#231f20" stroke-width="1.3"/>
<text x="205.8" y="475.9" font-size="11.6" text-anchor="middle" textLength="11.8" lengthAdjust="spacingAndGlyphs">23</text>
<line x1="217.3" y1="460.6" x2="217.3" y2="465.1" stroke="#231f20" stroke-width="1.3"/>
<text x="79.1" y="491" font-size="12" textLength="128.5" lengthAdjust="spacingAndGlyphs">Days of drug treatment</text>
<text font-size="12" textLength="139" lengthAdjust="spacingAndGlyphs" transform="translate(29.4 455.5) rotate(-90)">Mean body weight (gms)</text>
<line x1="68.3" y1="334.2" x2="68.3" y2="339" stroke="#cfc51f" stroke-width="0.9"/>
<line x1="66" y1="334.2" x2="70.6" y2="334.2" stroke="#cfc51f" stroke-width="0.9"/>
<line x1="66" y1="339" x2="70.6" y2="339" stroke="#cfc51f" stroke-width="0.9"/>
<line x1="79.8" y1="335.9" x2="79.8" y2="340.7" stroke="#cfc51f" stroke-width="0.9"/>
<line x1="77.5" y1="335.9" x2="82.1" y2="335.9" stroke="#cfc51f" stroke-width="0.9"/>
<line x1="77.5" y1="340.7" x2="82.1" y2="340.7" stroke="#cfc51f" stroke-width="0.9"/>
<line x1="91.2" y1="332.6" x2="91.2" y2="339" stroke="#cfc51f" stroke-width="0.9"/>
<line x1="88.9" y1="332.6" x2="93.5" y2="332.6" stroke="#cfc51f" stroke-width="0.9"/>
<line x1="88.9" y1="339" x2="93.5" y2="339" stroke="#cfc51f" stroke-width="0.9"/>
<line x1="102.7" y1="331.3" x2="102.7" y2="339.3" stroke="#cfc51f" stroke-width="0.9"/>
<line x1="100.4" y1="331.3" x2="105" y2="331.3" stroke="#cfc51f" stroke-width="0.9"/>
<line x1="100.4" y1="339.3" x2="105" y2="339.3" stroke="#cfc51f" stroke-width="0.9"/>
<line x1="114.1" y1="333.4" x2="114.1" y2="339.8" stroke="#cfc51f" stroke-width="0.9"/>
<line x1="111.8" y1="333.4" x2="116.4" y2="333.4" stroke="#cfc51f" stroke-width="0.9"/>
<line x1="111.8" y1="339.8" x2="116.4" y2="339.8" stroke="#cfc51f" stroke-width="0.9"/>
<line x1="125.6" y1="332.9" x2="125.6" y2="339.3" stroke="#cfc51f" stroke-width="0.9"/>
<line x1="123.3" y1="332.9" x2="127.9" y2="332.9" stroke="#cfc51f" stroke-width="0.9"/>
<line x1="123.3" y1="339.3" x2="127.9" y2="339.3" stroke="#cfc51f" stroke-width="0.9"/>
<line x1="137.1" y1="338.7" x2="137.1" y2="343.5" stroke="#cfc51f" stroke-width="0.9"/>
<line x1="134.8" y1="338.7" x2="139.4" y2="338.7" stroke="#cfc51f" stroke-width="0.9"/>
<line x1="134.8" y1="343.5" x2="139.4" y2="343.5" stroke="#cfc51f" stroke-width="0.9"/>
<line x1="148.5" y1="331.3" x2="148.5" y2="339.3" stroke="#cfc51f" stroke-width="0.9"/>
<line x1="146.2" y1="331.3" x2="150.8" y2="331.3" stroke="#cfc51f" stroke-width="0.9"/>
<line x1="146.2" y1="339.3" x2="150.8" y2="339.3" stroke="#cfc51f" stroke-width="0.9"/>
<line x1="160" y1="334.6" x2="160" y2="341" stroke="#cfc51f" stroke-width="0.9"/>
<line x1="157.7" y1="334.6" x2="162.3" y2="334.6" stroke="#cfc51f" stroke-width="0.9"/>
<line x1="157.7" y1="341" x2="162.3" y2="341" stroke="#cfc51f" stroke-width="0.9"/>
<line x1="171.4" y1="336.2" x2="171.4" y2="341" stroke="#cfc51f" stroke-width="0.9"/>
<line x1="169.1" y1="336.2" x2="173.7" y2="336.2" stroke="#cfc51f" stroke-width="0.9"/>
<line x1="169.1" y1="341" x2="173.7" y2="341" stroke="#cfc51f" stroke-width="0.9"/>
<line x1="182.9" y1="338" x2="182.9" y2="342.8" stroke="#cfc51f" stroke-width="0.9"/>
<line x1="180.6" y1="338" x2="185.2" y2="338" stroke="#cfc51f" stroke-width="0.9"/>
<line x1="180.6" y1="342.8" x2="185.2" y2="342.8" stroke="#cfc51f" stroke-width="0.9"/>
<line x1="194.4" y1="334.6" x2="194.4" y2="341" stroke="#cfc51f" stroke-width="0.9"/>
<line x1="192.1" y1="334.6" x2="196.7" y2="334.6" stroke="#cfc51f" stroke-width="0.9"/>
<line x1="192.1" y1="341" x2="196.7" y2="341" stroke="#cfc51f" stroke-width="0.9"/>
<line x1="205.8" y1="335.9" x2="205.8" y2="340.7" stroke="#cfc51f" stroke-width="0.9"/>
<line x1="203.5" y1="335.9" x2="208.1" y2="335.9" stroke="#cfc51f" stroke-width="0.9"/>
<line x1="203.5" y1="340.7" x2="208.1" y2="340.7" stroke="#cfc51f" stroke-width="0.9"/>
<line x1="217.3" y1="335.9" x2="217.3" y2="340.7" stroke="#cfc51f" stroke-width="0.9"/>
<line x1="215" y1="335.9" x2="219.6" y2="335.9" stroke="#cfc51f" stroke-width="0.9"/>
<line x1="215" y1="340.7" x2="219.6" y2="340.7" stroke="#cfc51f" stroke-width="0.9"/>
<polyline points="68.3,336.6 79.8,338.3 91.2,335.8 102.7,335.3 114.1,336.6 125.6,336.1 137.1,341.1 148.5,335.3 160,337.8 171.4,338.6 182.9,340.4 194.4,337.8 205.8,338.3 217.3,338.3" fill="none" stroke="#cfc51f" stroke-width="1.1" stroke-linejoin="round"/>
<path d="M68.3 339.5L71 334.6L65.5 334.6Z" fill="#cfc51f"/>
<path d="M79.8 341.2L82.5 336.3L77 336.3Z" fill="#cfc51f"/>
<path d="M91.2 338.7L94 333.8L88.5 333.8Z" fill="#cfc51f"/>
<path d="M102.7 338.2L105.4 333.3L99.9 333.3Z" fill="#cfc51f"/>
<path d="M114.1 339.5L116.9 334.6L111.4 334.6Z" fill="#cfc51f"/>
<path d="M125.6 339L128.3 334.1L122.8 334.1Z" fill="#cfc51f"/>
<path d="M137.1 344L139.8 339.1L134.3 339.1Z" fill="#cfc51f"/>
<path d="M148.5 338.2L151.3 333.3L145.8 333.3Z" fill="#cfc51f"/>
<path d="M160 340.7L162.7 335.8L157.2 335.8Z" fill="#cfc51f"/>
<path d="M171.4 341.5L174.2 336.6L168.7 336.6Z" fill="#cfc51f"/>
<path d="M182.9 343.2L185.7 338.4L180.2 338.4Z" fill="#cfc51f"/>
<path d="M194.4 340.7L197.1 335.8L191.6 335.8Z" fill="#cfc51f"/>
<path d="M205.8 341.2L208.6 336.3L203.1 336.3Z" fill="#cfc51f"/>
<path d="M217.3 341.2L220 336.3L214.5 336.3Z" fill="#cfc51f"/>
<line x1="68.3" y1="340.5" x2="68.3" y2="345.3" stroke="#7d0fb0" stroke-width="0.9"/>
<line x1="66" y1="340.5" x2="70.6" y2="340.5" stroke="#7d0fb0" stroke-width="0.9"/>
<line x1="66" y1="345.3" x2="70.6" y2="345.3" stroke="#7d0fb0" stroke-width="0.9"/>
<line x1="79.8" y1="338.1" x2="79.8" y2="346.1" stroke="#7d0fb0" stroke-width="0.9"/>
<line x1="77.5" y1="338.1" x2="82.1" y2="338.1" stroke="#7d0fb0" stroke-width="0.9"/>
<line x1="77.5" y1="346.1" x2="82.1" y2="346.1" stroke="#7d0fb0" stroke-width="0.9"/>
<line x1="91.2" y1="337.3" x2="91.2" y2="346.9" stroke="#7d0fb0" stroke-width="0.9"/>
<line x1="88.9" y1="337.3" x2="93.5" y2="337.3" stroke="#7d0fb0" stroke-width="0.9"/>
<line x1="88.9" y1="346.9" x2="93.5" y2="346.9" stroke="#7d0fb0" stroke-width="0.9"/>
<line x1="102.7" y1="338.1" x2="102.7" y2="346.1" stroke="#7d0fb0" stroke-width="0.9"/>
<line x1="100.4" y1="338.1" x2="105" y2="338.1" stroke="#7d0fb0" stroke-width="0.9"/>
<line x1="100.4" y1="346.1" x2="105" y2="346.1" stroke="#7d0fb0" stroke-width="0.9"/>
<line x1="114.1" y1="338.4" x2="114.1" y2="346.4" stroke="#7d0fb0" stroke-width="0.9"/>
<line x1="111.8" y1="338.4" x2="116.4" y2="338.4" stroke="#7d0fb0" stroke-width="0.9"/>
<line x1="111.8" y1="346.4" x2="116.4" y2="346.4" stroke="#7d0fb0" stroke-width="0.9"/>
<line x1="125.6" y1="338.4" x2="125.6" y2="346.4" stroke="#7d0fb0" stroke-width="0.9"/>
<line x1="123.3" y1="338.4" x2="127.9" y2="338.4" stroke="#7d0fb0" stroke-width="0.9"/>
<line x1="123.3" y1="346.4" x2="127.9" y2="346.4" stroke="#7d0fb0" stroke-width="0.9"/>
<line x1="137.1" y1="341.7" x2="137.1" y2="346.5" stroke="#7d0fb0" stroke-width="0.9"/>
<line x1="134.8" y1="341.7" x2="139.4" y2="341.7" stroke="#7d0fb0" stroke-width="0.9"/>
<line x1="134.8" y1="346.5" x2="139.4" y2="346.5" stroke="#7d0fb0" stroke-width="0.9"/>
<line x1="148.5" y1="335.1" x2="148.5" y2="343.1" stroke="#7d0fb0" stroke-width="0.9"/>
<line x1="146.2" y1="335.1" x2="150.8" y2="335.1" stroke="#7d0fb0" stroke-width="0.9"/>
<line x1="146.2" y1="343.1" x2="150.8" y2="343.1" stroke="#7d0fb0" stroke-width="0.9"/>
<line x1="160" y1="338.9" x2="160" y2="346.9" stroke="#7d0fb0" stroke-width="0.9"/>
<line x1="157.7" y1="338.9" x2="162.3" y2="338.9" stroke="#7d0fb0" stroke-width="0.9"/>
<line x1="157.7" y1="346.9" x2="162.3" y2="346.9" stroke="#7d0fb0" stroke-width="0.9"/>
<line x1="171.4" y1="340.5" x2="171.4" y2="345.3" stroke="#7d0fb0" stroke-width="0.9"/>
<line x1="169.1" y1="340.5" x2="173.7" y2="340.5" stroke="#7d0fb0" stroke-width="0.9"/>
<line x1="169.1" y1="345.3" x2="173.7" y2="345.3" stroke="#7d0fb0" stroke-width="0.9"/>
<line x1="182.9" y1="338.2" x2="182.9" y2="352.6" stroke="#7d0fb0" stroke-width="0.9"/>
<line x1="180.6" y1="338.2" x2="185.2" y2="338.2" stroke="#7d0fb0" stroke-width="0.9"/>
<line x1="180.6" y1="352.6" x2="185.2" y2="352.6" stroke="#7d0fb0" stroke-width="0.9"/>
<line x1="194.4" y1="338.4" x2="194.4" y2="344.8" stroke="#7d0fb0" stroke-width="0.9"/>
<line x1="192.1" y1="338.4" x2="196.7" y2="338.4" stroke="#7d0fb0" stroke-width="0.9"/>
<line x1="192.1" y1="344.8" x2="196.7" y2="344.8" stroke="#7d0fb0" stroke-width="0.9"/>
<line x1="205.8" y1="333.5" x2="205.8" y2="343.1" stroke="#7d0fb0" stroke-width="0.9"/>
<line x1="203.5" y1="333.5" x2="208.1" y2="333.5" stroke="#7d0fb0" stroke-width="0.9"/>
<line x1="203.5" y1="343.1" x2="208.1" y2="343.1" stroke="#7d0fb0" stroke-width="0.9"/>
<line x1="217.3" y1="339.2" x2="217.3" y2="344" stroke="#7d0fb0" stroke-width="0.9"/>
<line x1="215" y1="339.2" x2="219.6" y2="339.2" stroke="#7d0fb0" stroke-width="0.9"/>
<line x1="215" y1="344" x2="219.6" y2="344" stroke="#7d0fb0" stroke-width="0.9"/>
<polyline points="68.3,342.9 79.8,342.1 91.2,342.1 102.7,342.1 114.1,342.4 125.6,342.4 137.1,344.1 148.5,339.1 160,342.9 171.4,342.9 182.9,345.4 194.4,341.6 205.8,338.3 217.3,341.6" fill="none" stroke="#7d0fb0" stroke-width="1.1" stroke-linejoin="round"/>
<path d="M68.3 340L71 344.9L65.5 344.9Z" fill="#7d0fb0"/>
<path d="M79.8 339.2L82.5 344.1L77 344.1Z" fill="#7d0fb0"/>
<path d="M91.2 339.2L94 344.1L88.5 344.1Z" fill="#7d0fb0"/>
<path d="M102.7 339.2L105.4 344.1L99.9 344.1Z" fill="#7d0fb0"/>
<path d="M114.1 339.5L116.9 344.4L111.4 344.4Z" fill="#7d0fb0"/>
<path d="M125.6 339.5L128.3 344.4L122.8 344.4Z" fill="#7d0fb0"/>
<path d="M137.1 341.2L139.8 346.1L134.3 346.1Z" fill="#7d0fb0"/>
<path d="M148.5 336.2L151.3 341.1L145.8 341.1Z" fill="#7d0fb0"/>
<path d="M160 340L162.7 344.9L157.2 344.9Z" fill="#7d0fb0"/>
<path d="M171.4 340L174.2 344.9L168.7 344.9Z" fill="#7d0fb0"/>
<path d="M182.9 342.5L185.7 347.4L180.2 347.4Z" fill="#7d0fb0"/>
<path d="M194.4 338.7L197.1 343.6L191.6 343.6Z" fill="#7d0fb0"/>
<path d="M205.8 335.5L208.6 340.3L203.1 340.3Z" fill="#7d0fb0"/>
<path d="M217.3 338.7L220 343.6L214.5 343.6Z" fill="#7d0fb0"/>
<line x1="68.3" y1="342.2" x2="68.3" y2="347" stroke="#21a067" stroke-width="0.9"/>
<line x1="66" y1="342.2" x2="70.6" y2="342.2" stroke="#21a067" stroke-width="0.9"/>
<line x1="66" y1="347" x2="70.6" y2="347" stroke="#21a067" stroke-width="0.9"/>
<line x1="79.8" y1="343.7" x2="79.8" y2="348.5" stroke="#21a067" stroke-width="0.9"/>
<line x1="77.5" y1="343.7" x2="82.1" y2="343.7" stroke="#21a067" stroke-width="0.9"/>
<line x1="77.5" y1="348.5" x2="82.1" y2="348.5" stroke="#21a067" stroke-width="0.9"/>
<line x1="91.2" y1="346.9" x2="91.2" y2="354.9" stroke="#21a067" stroke-width="0.9"/>
<line x1="88.9" y1="346.9" x2="93.5" y2="346.9" stroke="#21a067" stroke-width="0.9"/>
<line x1="88.9" y1="354.9" x2="93.5" y2="354.9" stroke="#21a067" stroke-width="0.9"/>
<line x1="102.7" y1="343" x2="102.7" y2="347.8" stroke="#21a067" stroke-width="0.9"/>
<line x1="100.4" y1="343" x2="105" y2="343" stroke="#21a067" stroke-width="0.9"/>
<line x1="100.4" y1="347.8" x2="105" y2="347.8" stroke="#21a067" stroke-width="0.9"/>
<line x1="114.1" y1="343" x2="114.1" y2="347.8" stroke="#21a067" stroke-width="0.9"/>
<line x1="111.8" y1="343" x2="116.4" y2="343" stroke="#21a067" stroke-width="0.9"/>
<line x1="111.8" y1="347.8" x2="116.4" y2="347.8" stroke="#21a067" stroke-width="0.9"/>
<line x1="125.6" y1="342.2" x2="125.6" y2="347" stroke="#21a067" stroke-width="0.9"/>
<line x1="123.3" y1="342.2" x2="127.9" y2="342.2" stroke="#21a067" stroke-width="0.9"/>
<line x1="123.3" y1="347" x2="127.9" y2="347" stroke="#21a067" stroke-width="0.9"/>
<line x1="137.1" y1="343" x2="137.1" y2="347.8" stroke="#21a067" stroke-width="0.9"/>
<line x1="134.8" y1="343" x2="139.4" y2="343" stroke="#21a067" stroke-width="0.9"/>
<line x1="134.8" y1="347.8" x2="139.4" y2="347.8" stroke="#21a067" stroke-width="0.9"/>
<line x1="148.5" y1="341.2" x2="148.5" y2="346" stroke="#21a067" stroke-width="0.9"/>
<line x1="146.2" y1="341.2" x2="150.8" y2="341.2" stroke="#21a067" stroke-width="0.9"/>
<line x1="146.2" y1="346" x2="150.8" y2="346" stroke="#21a067" stroke-width="0.9"/>
<line x1="160" y1="343.7" x2="160" y2="348.5" stroke="#21a067" stroke-width="0.9"/>
<line x1="157.7" y1="343.7" x2="162.3" y2="343.7" stroke="#21a067" stroke-width="0.9"/>
<line x1="157.7" y1="348.5" x2="162.3" y2="348.5" stroke="#21a067" stroke-width="0.9"/>
<line x1="171.4" y1="339.5" x2="171.4" y2="344.3" stroke="#21a067" stroke-width="0.9"/>
<line x1="169.1" y1="339.5" x2="173.7" y2="339.5" stroke="#21a067" stroke-width="0.9"/>
<line x1="169.1" y1="344.3" x2="173.7" y2="344.3" stroke="#21a067" stroke-width="0.9"/>
<line x1="182.9" y1="339.2" x2="182.9" y2="344" stroke="#21a067" stroke-width="0.9"/>
<line x1="180.6" y1="339.2" x2="185.2" y2="339.2" stroke="#21a067" stroke-width="0.9"/>
<line x1="180.6" y1="344" x2="185.2" y2="344" stroke="#21a067" stroke-width="0.9"/>
<line x1="194.4" y1="339.7" x2="194.4" y2="344.5" stroke="#21a067" stroke-width="0.9"/>
<line x1="192.1" y1="339.7" x2="196.7" y2="339.7" stroke="#21a067" stroke-width="0.9"/>
<line x1="192.1" y1="344.5" x2="196.7" y2="344.5" stroke="#21a067" stroke-width="0.9"/>
<line x1="205.8" y1="340.5" x2="205.8" y2="345.3" stroke="#21a067" stroke-width="0.9"/>
<line x1="203.5" y1="340.5" x2="208.1" y2="340.5" stroke="#21a067" stroke-width="0.9"/>
<line x1="203.5" y1="345.3" x2="208.1" y2="345.3" stroke="#21a067" stroke-width="0.9"/>
<line x1="217.3" y1="338" x2="217.3" y2="342.8" stroke="#21a067" stroke-width="0.9"/>
<line x1="215" y1="338" x2="219.6" y2="338" stroke="#21a067" stroke-width="0.9"/>
<line x1="215" y1="342.8" x2="219.6" y2="342.8" stroke="#21a067" stroke-width="0.9"/>
<polyline points="68.3,344.6 79.8,346.1 91.2,350.9 102.7,345.4 114.1,345.4 125.6,344.6 137.1,345.4 148.5,343.6 160,346.1 171.4,341.9 182.9,341.6 194.4,342.1 205.8,342.9 217.3,340.4" fill="none" stroke="#21a067" stroke-width="1.1" stroke-linejoin="round"/>
<rect x="65.8" y="342.1" width="5" height="5" fill="#21a067"/>
<rect x="77.3" y="343.6" width="5" height="5" fill="#21a067"/>
<rect x="88.7" y="348.4" width="5" height="5" fill="#21a067"/>
<rect x="100.2" y="342.9" width="5" height="5" fill="#21a067"/>
<rect x="111.6" y="342.9" width="5" height="5" fill="#21a067"/>
<rect x="123.1" y="342.1" width="5" height="5" fill="#21a067"/>
<rect x="134.6" y="342.9" width="5" height="5" fill="#21a067"/>
<rect x="146" y="341.1" width="5" height="5" fill="#21a067"/>
<rect x="157.5" y="343.6" width="5" height="5" fill="#21a067"/>
<rect x="168.9" y="339.4" width="5" height="5" fill="#21a067"/>
<rect x="180.4" y="339.1" width="5" height="5" fill="#21a067"/>
<rect x="191.9" y="339.6" width="5" height="5" fill="#21a067"/>
<rect x="203.3" y="340.4" width="5" height="5" fill="#21a067"/>
<rect x="214.8" y="337.9" width="5" height="5" fill="#21a067"/>
<line x1="68.3" y1="347.5" x2="68.3" y2="350.7" stroke="#d4145f" stroke-width="0.9"/>
<line x1="66" y1="347.5" x2="70.6" y2="347.5" stroke="#d4145f" stroke-width="0.9"/>
<line x1="66" y1="350.7" x2="70.6" y2="350.7" stroke="#d4145f" stroke-width="0.9"/>
<line x1="79.8" y1="349.6" x2="79.8" y2="352.8" stroke="#d4145f" stroke-width="0.9"/>
<line x1="77.5" y1="349.6" x2="82.1" y2="349.6" stroke="#d4145f" stroke-width="0.9"/>
<line x1="77.5" y1="352.8" x2="82.1" y2="352.8" stroke="#d4145f" stroke-width="0.9"/>
<line x1="91.2" y1="348" x2="91.2" y2="352.8" stroke="#d4145f" stroke-width="0.9"/>
<line x1="88.9" y1="348" x2="93.5" y2="348" stroke="#d4145f" stroke-width="0.9"/>
<line x1="88.9" y1="352.8" x2="93.5" y2="352.8" stroke="#d4145f" stroke-width="0.9"/>
<line x1="102.7" y1="347.5" x2="102.7" y2="350.7" stroke="#d4145f" stroke-width="0.9"/>
<line x1="100.4" y1="347.5" x2="105" y2="347.5" stroke="#d4145f" stroke-width="0.9"/>
<line x1="100.4" y1="350.7" x2="105" y2="350.7" stroke="#d4145f" stroke-width="0.9"/>
<line x1="114.1" y1="347" x2="114.1" y2="350.2" stroke="#d4145f" stroke-width="0.9"/>
<line x1="111.8" y1="347" x2="116.4" y2="347" stroke="#d4145f" stroke-width="0.9"/>
<line x1="111.8" y1="350.2" x2="116.4" y2="350.2" stroke="#d4145f" stroke-width="0.9"/>
<line x1="125.6" y1="346.8" x2="125.6" y2="350" stroke="#d4145f" stroke-width="0.9"/>
<line x1="123.3" y1="346.8" x2="127.9" y2="346.8" stroke="#d4145f" stroke-width="0.9"/>
<line x1="123.3" y1="350" x2="127.9" y2="350" stroke="#d4145f" stroke-width="0.9"/>
<line x1="137.1" y1="347.5" x2="137.1" y2="350.7" stroke="#d4145f" stroke-width="0.9"/>
<line x1="134.8" y1="347.5" x2="139.4" y2="347.5" stroke="#d4145f" stroke-width="0.9"/>
<line x1="134.8" y1="350.7" x2="139.4" y2="350.7" stroke="#d4145f" stroke-width="0.9"/>
<line x1="148.5" y1="346" x2="148.5" y2="350.8" stroke="#d4145f" stroke-width="0.9"/>
<line x1="146.2" y1="346" x2="150.8" y2="346" stroke="#d4145f" stroke-width="0.9"/>
<line x1="146.2" y1="350.8" x2="150.8" y2="350.8" stroke="#d4145f" stroke-width="0.9"/>
<line x1="160" y1="347.5" x2="160" y2="352.3" stroke="#d4145f" stroke-width="0.9"/>
<line x1="157.7" y1="347.5" x2="162.3" y2="347.5" stroke="#d4145f" stroke-width="0.9"/>
<line x1="157.7" y1="352.3" x2="162.3" y2="352.3" stroke="#d4145f" stroke-width="0.9"/>
<line x1="171.4" y1="344.7" x2="171.4" y2="351.1" stroke="#d4145f" stroke-width="0.9"/>
<line x1="169.1" y1="344.7" x2="173.7" y2="344.7" stroke="#d4145f" stroke-width="0.9"/>
<line x1="169.1" y1="351.1" x2="173.7" y2="351.1" stroke="#d4145f" stroke-width="0.9"/>
<line x1="182.9" y1="345" x2="182.9" y2="348.2" stroke="#d4145f" stroke-width="0.9"/>
<line x1="180.6" y1="345" x2="185.2" y2="345" stroke="#d4145f" stroke-width="0.9"/>
<line x1="180.6" y1="348.2" x2="185.2" y2="348.2" stroke="#d4145f" stroke-width="0.9"/>
<line x1="194.4" y1="344.5" x2="194.4" y2="347.7" stroke="#d4145f" stroke-width="0.9"/>
<line x1="192.1" y1="344.5" x2="196.7" y2="344.5" stroke="#d4145f" stroke-width="0.9"/>
<line x1="192.1" y1="347.7" x2="196.7" y2="347.7" stroke="#d4145f" stroke-width="0.9"/>
<line x1="205.8" y1="345" x2="205.8" y2="348.2" stroke="#d4145f" stroke-width="0.9"/>
<line x1="203.5" y1="345" x2="208.1" y2="345" stroke="#d4145f" stroke-width="0.9"/>
<line x1="203.5" y1="348.2" x2="208.1" y2="348.2" stroke="#d4145f" stroke-width="0.9"/>
<line x1="217.3" y1="343" x2="217.3" y2="346.2" stroke="#d4145f" stroke-width="0.9"/>
<line x1="215" y1="343" x2="219.6" y2="343" stroke="#d4145f" stroke-width="0.9"/>
<line x1="215" y1="346.2" x2="219.6" y2="346.2" stroke="#d4145f" stroke-width="0.9"/>
<polyline points="68.3,349.1 79.8,351.2 91.2,350.4 102.7,349.1 114.1,348.6 125.6,348.4 137.1,349.1 148.5,348.4 160,349.9 171.4,347.9 182.9,346.6 194.4,346.1 205.8,346.6 217.3,344.6" fill="none" stroke="#d4145f" stroke-width="1.1" stroke-linejoin="round"/>
<circle cx="68.3" cy="349.1" r="2.7" fill="#d4145f"/>
<circle cx="79.8" cy="351.2" r="2.7" fill="#d4145f"/>
<circle cx="91.2" cy="350.4" r="2.7" fill="#d4145f"/>
<circle cx="102.7" cy="349.1" r="2.7" fill="#d4145f"/>
<circle cx="114.1" cy="348.6" r="2.7" fill="#d4145f"/>
<circle cx="125.6" cy="348.4" r="2.7" fill="#d4145f"/>
<circle cx="137.1" cy="349.1" r="2.7" fill="#d4145f"/>
<circle cx="148.5" cy="348.4" r="2.7" fill="#d4145f"/>
<circle cx="160" cy="349.9" r="2.7" fill="#d4145f"/>
<circle cx="171.4" cy="347.9" r="2.7" fill="#d4145f"/>
<circle cx="182.9" cy="346.6" r="2.7" fill="#d4145f"/>
<circle cx="194.4" cy="346.1" r="2.7" fill="#d4145f"/>
<circle cx="205.8" cy="346.6" r="2.7" fill="#d4145f"/>
<circle cx="217.3" cy="344.6" r="2.7" fill="#d4145f"/>
<line x1="76.1" y1="298.9" x2="91" y2="298.9" stroke="#d4145f" stroke-width="1.6"/>
<circle cx="83.5" cy="298.9" r="3.9" fill="#d4145f"/>
<text x="95" y="300.7" font-size="12" textLength="40" lengthAdjust="spacingAndGlyphs">Vehicle</text>
<line x1="141.5" y1="299.4" x2="155.8" y2="299.4" stroke="#21a067" stroke-width="1.6"/>
<rect x="145.7" y="296.4" width="6" height="6" fill="#21a067"/>
<text x="161.6" y="301.9" font-size="12" textLength="25.1" lengthAdjust="spacingAndGlyphs">Enza</text>
<line x1="76.1" y1="314.7" x2="91" y2="314.7" stroke="#7d0fb0" stroke-width="1.6"/>
<path d="M83.5 311.2L86.8 317.1L80.2 317.1Z" fill="#7d0fb0"/>
<text x="96.2" y="317.7" font-size="12" textLength="19.8" lengthAdjust="spacingAndGlyphs">JQ1</text>
<line x1="141.5" y1="316" x2="155.8" y2="316" stroke="#cfc51f" stroke-width="1.6"/>
<path d="M148.7 319.4L152 313.6L145.3 313.6Z" fill="#cfc51f"/>
<text x="159.8" y="320.3" font-size="12" textLength="53.8" lengthAdjust="spacingAndGlyphs">Enza+JQ1</text>
</g>
<g>
<text x="232.3" y="290.1" font-size="21.5" font-weight="700" fill="#000">d</text>
<text x="267.8" y="306.5" font-size="12" textLength="35.7" lengthAdjust="spacingAndGlyphs">22RV1</text>
<text x="339.3" y="304.7" font-size="12" textLength="72.3" lengthAdjust="spacingAndGlyphs">Bone Marrow</text>
<line x1="294.9" y1="326" x2="294.9" y2="464.3" stroke="#231f20" stroke-width="1.4"/>
<line x1="294.2" y1="463.6" x2="454" y2="463.6" stroke="#231f20" stroke-width="1.4"/>
<line x1="290.4" y1="463.8" x2="294.9" y2="463.8" stroke="#231f20" stroke-width="1.3"/>
<text x="289" y="467.2" font-size="11.6" text-anchor="end" textLength="23.5" lengthAdjust="spacingAndGlyphs">-100</text>
<line x1="290.4" y1="436.3" x2="294.9" y2="436.3" stroke="#231f20" stroke-width="1.3"/>
<text x="289" y="439.8" font-size="11.6" text-anchor="end">0</text>
<line x1="290.4" y1="408.9" x2="294.9" y2="408.9" stroke="#231f20" stroke-width="1.3"/>
<text x="289" y="412.4" font-size="11.6" text-anchor="end">100</text>
<line x1="290.4" y1="381.4" x2="294.9" y2="381.4" stroke="#231f20" stroke-width="1.3"/>
<text x="289" y="384.9" font-size="11.6" text-anchor="end">200</text>
<line x1="290.4" y1="354" x2="294.9" y2="354" stroke="#231f20" stroke-width="1.3"/>
<text x="289" y="357.5" font-size="11.6" text-anchor="end">300</text>
<line x1="290.4" y1="326.5" x2="294.9" y2="326.5" stroke="#231f20" stroke-width="1.3"/>
<text x="289" y="330" font-size="11.6" text-anchor="end">400</text>
<text font-size="12" textLength="161.5" lengthAdjust="spacingAndGlyphs" transform="translate(260.8 466.7) rotate(-90)">Number of cells metastasized</text>
<line x1="314.2" y1="463.6" x2="314.2" y2="468.1" stroke="#231f20" stroke-width="1.3"/>
<line x1="353.9" y1="463.6" x2="353.9" y2="468.1" stroke="#231f20" stroke-width="1.3"/>
<line x1="393.8" y1="463.6" x2="393.8" y2="468.1" stroke="#231f20" stroke-width="1.3"/>
<line x1="433.6" y1="463.6" x2="433.6" y2="468.1" stroke="#231f20" stroke-width="1.3"/>
<line x1="294.9" y1="436.3" x2="454" y2="436.3" stroke="#000" stroke-width="2" stroke-dasharray="1.5 1.25"/>
<line x1="314.2" y1="359.7" x2="314.2" y2="415.9" stroke="#d4145f" stroke-width="1.6"/>
<line x1="307.6" y1="359.7" x2="320.8" y2="359.7" stroke="#d4145f" stroke-width="1.6"/>
<line x1="307.6" y1="415.9" x2="320.8" y2="415.9" stroke="#d4145f" stroke-width="1.6"/>
<line x1="301.2" y1="388.1" x2="327.2" y2="388.1" stroke="#d4145f" stroke-width="1.6"/>
<circle cx="314.2" cy="352.2" r="3.3" fill="#d4145f"/>
<circle cx="314.2" cy="362.5" r="3.3" fill="#d4145f"/>
<circle cx="311.2" cy="384.8" r="3.3" fill="#d4145f"/>
<circle cx="317.3" cy="388.1" r="3.3" fill="#d4145f"/>
<circle cx="317.3" cy="415.9" r="3.3" fill="#d4145f"/>
<circle cx="311.2" cy="423.4" r="3.3" fill="#d4145f"/>
<line x1="353.9" y1="363.7" x2="353.9" y2="436" stroke="#21a067" stroke-width="1.6"/>
<line x1="347.3" y1="363.7" x2="360.5" y2="363.7" stroke="#21a067" stroke-width="1.6"/>
<line x1="347.3" y1="436" x2="360.5" y2="436" stroke="#21a067" stroke-width="1.6"/>
<line x1="340.9" y1="400.6" x2="366.9" y2="400.6" stroke="#21a067" stroke-width="1.6"/>
<circle cx="353.9" cy="349.2" r="3.3" fill="#21a067"/>
<circle cx="353.9" cy="363" r="3.3" fill="#21a067"/>
<circle cx="353.9" cy="403.8" r="3.3" fill="#21a067"/>
<circle cx="353.9" cy="420.2" r="3.3" fill="#21a067"/>
<circle cx="351" cy="432.9" r="3.3" fill="#21a067"/>
<circle cx="353.9" cy="432.9" r="3.3" fill="#21a067"/>
<circle cx="357" cy="432.9" r="3.3" fill="#21a067"/>
<line x1="393.8" y1="428.5" x2="393.8" y2="432.2" stroke="#7d0fb0" stroke-width="1.6"/>
<line x1="388.3" y1="428.5" x2="399.3" y2="428.5" stroke="#7d0fb0" stroke-width="1.6"/>
<line x1="388.3" y1="432.2" x2="399.3" y2="432.2" stroke="#7d0fb0" stroke-width="1.6"/>
<line x1="387.2" y1="428.5" x2="400.4" y2="428.5" stroke="#7d0fb0" stroke-width="1.6"/>
<circle cx="393.7" cy="425.3" r="3.3" fill="#7d0fb0"/>
<circle cx="383.2" cy="431.7" r="3.3" fill="#7d0fb0"/>
<circle cx="388" cy="434.7" r="3.3" fill="#7d0fb0"/>
<circle cx="393.7" cy="436" r="3.3" fill="#7d0fb0"/>
<circle cx="399.2" cy="435.2" r="3.3" fill="#7d0fb0"/>
<circle cx="404.1" cy="433.5" r="3.3" fill="#7d0fb0"/>
<line x1="433.6" y1="436.2" x2="433.6" y2="436.2" stroke="#cfc51f" stroke-width="1.6"/>
<circle cx="423.5" cy="435.2" r="3.1" fill="#cfc51f"/>
<circle cx="427.7" cy="436" r="3.1" fill="#cfc51f"/>
<circle cx="431.9" cy="436.4" r="3.1" fill="#cfc51f"/>
<circle cx="436.1" cy="436.4" r="3.1" fill="#cfc51f"/>
<circle cx="440.3" cy="435.8" r="3.1" fill="#cfc51f"/>
<circle cx="444.5" cy="433.7" r="3.1" fill="#cfc51f"/>
<polyline points="321.8,325.8 434,325.8 434,336.7" fill="none" stroke="#2a2a2a" stroke-width="1.2"/>
<text x="356.4" y="322.2" font-size="9.3" textLength="38.5" lengthAdjust="spacingAndGlyphs" fill="#333" class="p"><tspan font-style="italic">P</tspan>=0.0052</text>
<polyline points="321.8,340.4 394,340.4 394,349.8" fill="none" stroke="#2a2a2a" stroke-width="1.2"/>
<text x="340.6" y="338.4" font-size="9.6" textLength="39.4" lengthAdjust="spacingAndGlyphs" fill="#333" class="p"><tspan font-style="italic">P</tspan>=0.0070</text>
<text x="294.9" y="481.7" font-size="12" text-anchor="end" textLength="25.4" lengthAdjust="spacingAndGlyphs">Enza</text>
<text x="294.9" y="496" font-size="12" text-anchor="end" textLength="18.6" lengthAdjust="spacingAndGlyphs">JQ1</text>
<text x="314.2" y="479.2" font-size="11.5" text-anchor="middle">-</text>
<text x="314.2" y="493.8" font-size="11.5" text-anchor="middle">-</text>
<text x="353.9" y="481" font-size="13.5" text-anchor="middle">+</text>
<text x="353.9" y="493.8" font-size="11.5" text-anchor="middle">-</text>
<text x="393.8" y="479.2" font-size="11.5" text-anchor="middle">-</text>
<text x="393.8" y="495.6" font-size="13.5" text-anchor="middle">+</text>
<text x="433.6" y="481" font-size="13.5" text-anchor="middle">+</text>
<text x="433.6" y="495.6" font-size="13.5" text-anchor="middle">+</text>
</g>
<g>
<text x="454.3" y="291.2" font-size="23" font-weight="700" fill="#000">e</text>
<text x="492.6" y="307" font-size="12" textLength="35.7" lengthAdjust="spacingAndGlyphs">22RV1</text>
<text x="579.2" y="307" font-size="12" textLength="32.6" lengthAdjust="spacingAndGlyphs">Lungs</text>
<line x1="515.4" y1="326" x2="515.4" y2="462.5" stroke="#231f20" stroke-width="1.4"/>
<line x1="514.7" y1="461.8" x2="675" y2="461.8" stroke="#231f20" stroke-width="1.4"/>
<line x1="510.9" y1="461.7" x2="515.4" y2="461.7" stroke="#231f20" stroke-width="1.3"/>
<text x="509.5" y="464.9" font-size="11.6" text-anchor="end">-20</text>
<line x1="510.9" y1="439.2" x2="515.4" y2="439.2" stroke="#231f20" stroke-width="1.3"/>
<text x="509.5" y="442.4" font-size="11.6" text-anchor="end">0</text>
<line x1="510.9" y1="416.7" x2="515.4" y2="416.7" stroke="#231f20" stroke-width="1.3"/>
<text x="509.5" y="419.9" font-size="11.6" text-anchor="end">20</text>
<line x1="510.9" y1="394.2" x2="515.4" y2="394.2" stroke="#231f20" stroke-width="1.3"/>
<text x="509.5" y="397.4" font-size="11.6" text-anchor="end">40</text>
<line x1="510.9" y1="371.7" x2="515.4" y2="371.7" stroke="#231f20" stroke-width="1.3"/>
<text x="509.5" y="374.9" font-size="11.6" text-anchor="end">60</text>
<line x1="510.9" y1="349.2" x2="515.4" y2="349.2" stroke="#231f20" stroke-width="1.3"/>
<text x="509.5" y="352.4" font-size="11.6" text-anchor="end">80</text>
<line x1="510.9" y1="326.7" x2="515.4" y2="326.7" stroke="#231f20" stroke-width="1.3"/>
<text x="509.5" y="329.9" font-size="11.6" text-anchor="end">100</text>
<text font-size="12" textLength="161.5" lengthAdjust="spacingAndGlyphs" transform="translate(485.5 466) rotate(-90)">Number of cells metastasized</text>
<line x1="534.9" y1="461.8" x2="534.9" y2="466.3" stroke="#231f20" stroke-width="1.3"/>
<line x1="575.2" y1="461.8" x2="575.2" y2="466.3" stroke="#231f20" stroke-width="1.3"/>
<line x1="615.3" y1="461.8" x2="615.3" y2="466.3" stroke="#231f20" stroke-width="1.3"/>
<line x1="655.5" y1="461.8" x2="655.5" y2="466.3" stroke="#231f20" stroke-width="1.3"/>
<line x1="515.4" y1="439.2" x2="675" y2="439.2" stroke="#000" stroke-width="2" stroke-dasharray="1.5 1.25"/>
<line x1="534.9" y1="374.8" x2="534.9" y2="434" stroke="#d4145f" stroke-width="1.6"/>
<line x1="528.3" y1="374.8" x2="541.5" y2="374.8" stroke="#d4145f" stroke-width="1.6"/>
<line x1="528.3" y1="434" x2="541.5" y2="434" stroke="#d4145f" stroke-width="1.6"/>
<line x1="521.9" y1="404.5" x2="547.9" y2="404.5" stroke="#d4145f" stroke-width="1.6"/>
<circle cx="534.9" cy="351.6" r="3.3" fill="#d4145f"/>
<circle cx="534.9" cy="393.6" r="3.3" fill="#d4145f"/>
<circle cx="532.7" cy="409.5" r="3.3" fill="#d4145f"/>
<circle cx="537.5" cy="409.5" r="3.3" fill="#d4145f"/>
<circle cx="537.3" cy="426" r="3.3" fill="#d4145f"/>
<circle cx="532.2" cy="434.4" r="3.3" fill="#d4145f"/>
<line x1="575.2" y1="419.6" x2="575.2" y2="432" stroke="#21a067" stroke-width="1.6"/>
<line x1="570.2" y1="419.6" x2="580.2" y2="419.6" stroke="#21a067" stroke-width="1.6"/>
<line x1="570.2" y1="432" x2="580.2" y2="432" stroke="#21a067" stroke-width="1.6"/>
<line x1="562.7" y1="426" x2="587.7" y2="426" stroke="#21a067" stroke-width="1.6"/>
<circle cx="571.5" cy="415.9" r="3.3" fill="#21a067"/>
<circle cx="578.6" cy="421.3" r="3.3" fill="#21a067"/>
<circle cx="584.3" cy="425.3" r="3.3" fill="#21a067"/>
<circle cx="566.8" cy="429.7" r="3.3" fill="#21a067"/>
<circle cx="572.5" cy="431.3" r="3.3" fill="#21a067"/>
<circle cx="578.6" cy="429.7" r="3.3" fill="#21a067"/>
<line x1="615.3" y1="421.3" x2="615.3" y2="437" stroke="#7d0fb0" stroke-width="1.6"/>
<line x1="610.3" y1="421.3" x2="620.3" y2="421.3" stroke="#7d0fb0" stroke-width="1.6"/>
<line x1="610.3" y1="437" x2="620.3" y2="437" stroke="#7d0fb0" stroke-width="1.6"/>
<line x1="602.3" y1="429.3" x2="628.3" y2="429.3" stroke="#7d0fb0" stroke-width="1.6"/>
<circle cx="611.8" cy="416.2" r="3.3" fill="#7d0fb0"/>
<circle cx="618.5" cy="419.6" r="3.3" fill="#7d0fb0"/>
<circle cx="606.1" cy="433" r="3.3" fill="#7d0fb0"/>
<circle cx="612.2" cy="437" r="3.3" fill="#7d0fb0"/>
<circle cx="618.5" cy="437" r="3.3" fill="#7d0fb0"/>
<circle cx="624.6" cy="433.7" r="3.3" fill="#7d0fb0"/>
<line x1="655.5" y1="439" x2="655.5" y2="439" stroke="#cfc51f" stroke-width="1.6"/>
<circle cx="644.3" cy="438" r="2.8" fill="#cfc51f"/>
<circle cx="648.7" cy="439.4" r="2.8" fill="#cfc51f"/>
<circle cx="653" cy="439.8" r="2.8" fill="#cfc51f"/>
<circle cx="657.3" cy="439.8" r="2.8" fill="#cfc51f"/>
<circle cx="661.6" cy="439" r="2.8" fill="#cfc51f"/>
<circle cx="665.7" cy="437.3" r="2.8" fill="#cfc51f"/>
<polyline points="540,327.5 655.5,327.5 655.5,338.9" fill="none" stroke="#2a2a2a" stroke-width="1.2"/>
<text x="587.6" y="324.1" font-size="9.4" textLength="38.7" lengthAdjust="spacingAndGlyphs" fill="#333" class="p"><tspan font-style="italic">P</tspan>=0.0030</text>
<polyline points="540,342.2 616.2,342.2 616.2,353" fill="none" stroke="#2a2a2a" stroke-width="1.2"/>
<text x="567.5" y="339.5" font-size="9.5" textLength="39.3" lengthAdjust="spacingAndGlyphs" fill="#333" class="p"><tspan font-style="italic">P</tspan>=0.0272</text>
<text x="513.8" y="479.7" font-size="12" text-anchor="end" textLength="25.4" lengthAdjust="spacingAndGlyphs">Enza</text>
<text x="513.8" y="494.1" font-size="12" text-anchor="end" textLength="18.6" lengthAdjust="spacingAndGlyphs">JQ1</text>
<text x="534.9" y="477.5" font-size="11.5" text-anchor="middle">-</text>
<text x="534.9" y="491.5" font-size="11.5" text-anchor="middle">-</text>
<text x="575.2" y="479.3" font-size="13.5" text-anchor="middle">+</text>
<text x="575.2" y="491.5" font-size="11.5" text-anchor="middle">-</text>
<text x="615.3" y="477.5" font-size="11.5" text-anchor="middle">-</text>
<text x="615.3" y="493.3" font-size="13.5" text-anchor="middle">+</text>
<text x="655.5" y="479.3" font-size="13.5" text-anchor="middle">+</text>
<text x="655.5" y="493.3" font-size="13.5" text-anchor="middle">+</text>
</g>
<g>
<text x="472.6" y="540.6" font-size="23" font-weight="700" fill="#000">g</text>
<text x="532.1" y="557.6" font-size="12" textLength="35.2" lengthAdjust="spacingAndGlyphs">22RV1</text>
<line x1="536.9" y1="568" x2="536.9" y2="661.6" stroke="#231f20" stroke-width="1.4"/>
<line x1="536.2" y1="661" x2="685" y2="661" stroke="#231f20" stroke-width="1.4"/>
<line x1="532.4" y1="660.9" x2="536.9" y2="660.9" stroke="#231f20" stroke-width="1.3"/>
<text x="531.3" y="663.9" font-size="11.6" text-anchor="end" textLength="16.3" lengthAdjust="spacingAndGlyphs">0.0</text>
<line x1="532.4" y1="637.8" x2="536.9" y2="637.8" stroke="#231f20" stroke-width="1.3"/>
<text x="531.3" y="640.8" font-size="11.6" text-anchor="end" textLength="16.3" lengthAdjust="spacingAndGlyphs">0.1</text>
<line x1="532.4" y1="614.7" x2="536.9" y2="614.7" stroke="#231f20" stroke-width="1.3"/>
<text x="531.3" y="617.7" font-size="11.6" text-anchor="end" textLength="16.3" lengthAdjust="spacingAndGlyphs">0.2</text>
<line x1="532.4" y1="591.6" x2="536.9" y2="591.6" stroke="#231f20" stroke-width="1.3"/>
<text x="531.3" y="594.6" font-size="11.6" text-anchor="end" textLength="16.3" lengthAdjust="spacingAndGlyphs">0.3</text>
<line x1="532.4" y1="568.5" x2="536.9" y2="568.5" stroke="#231f20" stroke-width="1.3"/>
<text x="531.3" y="571.5" font-size="11.6" text-anchor="end" textLength="16.3" lengthAdjust="spacingAndGlyphs">0.4</text>
<line x1="554.7" y1="661" x2="554.7" y2="665.5" stroke="#231f20" stroke-width="1.3"/>
<line x1="591.8" y1="661" x2="591.8" y2="665.5" stroke="#231f20" stroke-width="1.3"/>
<line x1="628.5" y1="661" x2="628.5" y2="665.5" stroke="#231f20" stroke-width="1.3"/>
<line x1="665.2" y1="661" x2="665.2" y2="665.5" stroke="#231f20" stroke-width="1.3"/>
<text font-size="12" textLength="117.7" lengthAdjust="spacingAndGlyphs" transform="translate(509.3 667.2) rotate(-90)">Ki-67+ve/ total nuclei</text>
<line x1="555.2" y1="601.2" x2="555.2" y2="603.8" stroke="#222" stroke-width="0.9"/>
<line x1="555.2" y1="608.5" x2="555.2" y2="609.1" stroke="#222" stroke-width="0.9"/>
<line x1="549.4" y1="601.2" x2="561" y2="601.2" stroke="#222" stroke-width="0.9"/>
<line x1="549.4" y1="609.1" x2="561" y2="609.1" stroke="#222" stroke-width="0.9"/>
<rect x="543.1" y="603.8" width="24.2" height="4.7" fill="#d4145f" stroke="#222" stroke-width="0.9"/>
<line x1="543.1" y1="606.3" x2="567.3" y2="606.3" stroke="#222" stroke-width="0.9"/>
<circle cx="552" cy="606.8" r="0.8" fill="#111"/>
<circle cx="555.2" cy="604.5" r="0.8" fill="#111"/>
<circle cx="558" cy="607.5" r="0.8" fill="#111"/>
<line x1="592" y1="592.1" x2="592" y2="595.3" stroke="#222" stroke-width="0.9"/>
<line x1="592" y1="608.5" x2="592" y2="611.6" stroke="#222" stroke-width="0.9"/>
<line x1="586.2" y1="592.1" x2="597.8" y2="592.1" stroke="#222" stroke-width="0.9"/>
<line x1="586.2" y1="611.6" x2="597.8" y2="611.6" stroke="#222" stroke-width="0.9"/>
<rect x="579.9" y="595.3" width="24.1" height="13.2" fill="#21a067" stroke="#222" stroke-width="0.9"/>
<line x1="579.9" y1="601.6" x2="604" y2="601.6" stroke="#222" stroke-width="0.9"/>
<circle cx="592" cy="597.5" r="0.8" fill="#111"/>
<circle cx="592" cy="601.5" r="0.8" fill="#111"/>
<circle cx="592" cy="606" r="0.8" fill="#111"/>
<line x1="628.5" y1="627.9" x2="628.5" y2="629.8" stroke="#222" stroke-width="0.9"/>
<line x1="628.5" y1="640.8" x2="628.5" y2="642" stroke="#222" stroke-width="0.9"/>
<line x1="622.7" y1="627.9" x2="634.3" y2="627.9" stroke="#222" stroke-width="0.9"/>
<line x1="622.7" y1="642" x2="634.3" y2="642" stroke="#222" stroke-width="0.9"/>
<rect x="616.6" y="629.8" width="23.8" height="11" fill="#7a02a2" stroke="#222" stroke-width="0.9"/>
<line x1="616.6" y1="639.2" x2="640.4" y2="639.2" stroke="#222" stroke-width="0.9"/>
<circle cx="628.5" cy="631" r="0.8" fill="#111"/>
<circle cx="628.5" cy="641" r="0.8" fill="#111"/>
<line x1="664.8" y1="631.4" x2="664.8" y2="633" stroke="#222" stroke-width="0.9"/>
<line x1="664.8" y1="641.4" x2="664.8" y2="649.9" stroke="#222" stroke-width="0.9"/>
<line x1="659" y1="631.4" x2="670.5" y2="631.4" stroke="#222" stroke-width="0.9"/>
<line x1="659" y1="649.9" x2="670.5" y2="649.9" stroke="#222" stroke-width="0.9"/>
<rect x="653" y="633" width="23.5" height="8.4" fill="#c9c012" stroke="#222" stroke-width="0.9"/>
<line x1="653" y1="634.5" x2="676.5" y2="634.5" stroke="#222" stroke-width="0.9"/>
<circle cx="660" cy="633.5" r="0.8" fill="#111"/>
<circle cx="664.8" cy="634.3" r="0.8" fill="#111"/>
<circle cx="668" cy="633.8" r="0.8" fill="#111"/>
<polyline points="554.7,572.4 666.2,572.4 666.2,581.8" fill="none" stroke="#555" stroke-width="1"/>
<text x="613.4" y="568.6" font-size="9.2" textLength="38" lengthAdjust="spacingAndGlyphs" fill="#333" class="p"><tspan font-style="italic">P</tspan>&lt;0.0001</text>
<polyline points="554.7,584.9 629.4,584.9 629.4,592.8" fill="none" stroke="#555" stroke-width="1"/>
<text x="575.8" y="582.1" font-size="9.4" textLength="38.6" lengthAdjust="spacingAndGlyphs" fill="#333" class="p"><tspan font-style="italic">P</tspan>&lt;0.0001</text>
<line x1="536.9" y1="673.5" x2="536.9" y2="767.4" stroke="#231f20" stroke-width="1.4"/>
<line x1="536.2" y1="766.7" x2="685" y2="766.7" stroke="#231f20" stroke-width="1.4"/>
<line x1="532.4" y1="766.7" x2="536.9" y2="766.7" stroke="#231f20" stroke-width="1.3"/>
<text x="531.3" y="769.7" font-size="11.6" text-anchor="end">0</text>
<line x1="532.4" y1="748.2" x2="536.9" y2="748.2" stroke="#231f20" stroke-width="1.3"/>
<text x="531.3" y="751.2" font-size="11.6" text-anchor="end">1</text>
<line x1="532.4" y1="729.7" x2="536.9" y2="729.7" stroke="#231f20" stroke-width="1.3"/>
<text x="531.3" y="732.7" font-size="11.6" text-anchor="end">2</text>
<line x1="532.4" y1="711.1" x2="536.9" y2="711.1" stroke="#231f20" stroke-width="1.3"/>
<text x="531.3" y="714.1" font-size="11.6" text-anchor="end">3</text>
<line x1="532.4" y1="692.6" x2="536.9" y2="692.6" stroke="#231f20" stroke-width="1.3"/>
<text x="531.3" y="695.6" font-size="11.6" text-anchor="end">4</text>
<line x1="532.4" y1="674.1" x2="536.9" y2="674.1" stroke="#231f20" stroke-width="1.3"/>
<text x="531.3" y="677.1" font-size="11.6" text-anchor="end">5</text>
<line x1="554.7" y1="766.7" x2="554.7" y2="771.2" stroke="#231f20" stroke-width="1.3"/>
<line x1="591.8" y1="766.7" x2="591.8" y2="771.2" stroke="#231f20" stroke-width="1.3"/>
<line x1="628.5" y1="766.7" x2="628.5" y2="771.2" stroke="#231f20" stroke-width="1.3"/>
<line x1="665.2" y1="766.7" x2="665.2" y2="771.2" stroke="#231f20" stroke-width="1.3"/>
<text font-size="12" textLength="74.4" lengthAdjust="spacingAndGlyphs" transform="translate(509.6 762.6) rotate(-90)">DLX1 Scoring</text>
<line x1="554.8" y1="692.6" x2="554.8" y2="706.5" stroke="#222" stroke-width="0.9"/>
<line x1="554.8" y1="727.5" x2="554.8" y2="729.7" stroke="#222" stroke-width="0.9"/>
<line x1="549" y1="692.6" x2="560.5" y2="692.6" stroke="#222" stroke-width="0.9"/>
<line x1="549" y1="729.7" x2="560.5" y2="729.7" stroke="#222" stroke-width="0.9"/>
<rect x="542.8" y="706.5" width="23.9" height="21" fill="#d4145f" stroke="#222" stroke-width="0.9"/>
<line x1="542.8" y1="726.5" x2="566.7" y2="726.5" stroke="#222" stroke-width="0.9"/>
<circle cx="554.7" cy="718.8" r="0.8" fill="#111"/>
<circle cx="552.5" cy="727" r="0.8" fill="#111"/>
<circle cx="556.5" cy="727" r="0.8" fill="#111"/>
<line x1="592" y1="700.2" x2="592" y2="710.2" stroke="#222" stroke-width="0.9"/>
<line x1="592" y1="733.4" x2="592" y2="741" stroke="#222" stroke-width="0.9"/>
<line x1="586.2" y1="700.2" x2="597.8" y2="700.2" stroke="#222" stroke-width="0.9"/>
<line x1="586.2" y1="741" x2="597.8" y2="741" stroke="#222" stroke-width="0.9"/>
<rect x="579.9" y="710.2" width="24.1" height="23.2" fill="#21a067" stroke="#222" stroke-width="0.9"/>
<line x1="579.9" y1="722.1" x2="604" y2="722.1" stroke="#222" stroke-width="0.9"/>
<circle cx="592" cy="718.5" r="0.8" fill="#111"/>
<circle cx="592" cy="726" r="0.8" fill="#111"/>
<line x1="628.8" y1="725.9" x2="628.8" y2="737.5" stroke="#222" stroke-width="0.9"/>
<line x1="628.8" y1="755.7" x2="628.8" y2="755.7" stroke="#222" stroke-width="0.9"/>
<line x1="623" y1="725.9" x2="634.6" y2="725.9" stroke="#222" stroke-width="0.9"/>
<line x1="623" y1="755.7" x2="634.6" y2="755.7" stroke="#222" stroke-width="0.9"/>
<rect x="616.6" y="737.5" width="24.4" height="18.2" fill="#7a02a2" stroke="#222" stroke-width="0.9"/>
<line x1="616.6" y1="754.6" x2="641" y2="754.6" stroke="#222" stroke-width="0.9"/>
<circle cx="628.8" cy="748.2" r="0.8" fill="#111"/>
<circle cx="626.5" cy="756.2" r="0.8" fill="#111"/>
<circle cx="629" cy="756.4" r="0.8" fill="#111"/>
<circle cx="631.5" cy="756.2" r="0.8" fill="#111"/>
<line x1="665.7" y1="725.9" x2="665.7" y2="730.6" stroke="#222" stroke-width="0.9"/>
<line x1="665.7" y1="753.2" x2="665.7" y2="755.7" stroke="#222" stroke-width="0.9"/>
<line x1="659.9" y1="725.9" x2="671.5" y2="725.9" stroke="#222" stroke-width="0.9"/>
<line x1="659.9" y1="755.7" x2="671.5" y2="755.7" stroke="#222" stroke-width="0.9"/>
<rect x="653.6" y="730.6" width="24.2" height="22.6" fill="#c9c012" stroke="#222" stroke-width="0.9"/>
<line x1="653.6" y1="748.5" x2="677.8" y2="748.5" stroke="#222" stroke-width="0.9"/>
<circle cx="665.7" cy="733.5" r="0.8" fill="#111"/>
<circle cx="665.7" cy="748.5" r="0.8" fill="#111"/>
<circle cx="665.7" cy="752.5" r="0.8" fill="#111"/>
<polyline points="555.4,677.9 667.1,677.9 667.1,687.6" fill="none" stroke="#555" stroke-width="1"/>
<text x="617.5" y="676.3" font-size="9.4" textLength="38.6" lengthAdjust="spacingAndGlyphs" fill="#333" class="p"><tspan font-style="italic">P</tspan>=0.0340</text>
<polyline points="555.4,689.8 630.7,689.8 630.7,697.7" fill="none" stroke="#555" stroke-width="1"/>
<text x="580.5" y="687.6" font-size="9.4" textLength="38.6" lengthAdjust="spacingAndGlyphs" fill="#333" class="p"><tspan font-style="italic">P</tspan>=0.0102</text>
<line x1="538.1" y1="792.8" x2="538.1" y2="881.2" stroke="#231f20" stroke-width="1.4"/>
<line x1="537.4" y1="880.5" x2="685" y2="880.5" stroke="#231f20" stroke-width="1.4"/>
<line x1="533.6" y1="880.5" x2="538.1" y2="880.5" stroke="#231f20" stroke-width="1.3"/>
<text x="532.5" y="883.5" font-size="11.6" text-anchor="end">0</text>
<line x1="533.6" y1="858.8" x2="538.1" y2="858.8" stroke="#231f20" stroke-width="1.3"/>
<text x="532.5" y="861.8" font-size="11.6" text-anchor="end" textLength="16.3" lengthAdjust="spacingAndGlyphs">0.5</text>
<line x1="533.6" y1="837" x2="538.1" y2="837" stroke="#231f20" stroke-width="1.3"/>
<text x="532.5" y="840" font-size="11.6" text-anchor="end" textLength="16.3" lengthAdjust="spacingAndGlyphs">1.0</text>
<line x1="533.6" y1="815.2" x2="538.1" y2="815.2" stroke="#231f20" stroke-width="1.3"/>
<text x="532.5" y="818.2" font-size="11.6" text-anchor="end" textLength="16.3" lengthAdjust="spacingAndGlyphs">1.5</text>
<line x1="533.6" y1="793.5" x2="538.1" y2="793.5" stroke="#231f20" stroke-width="1.3"/>
<text x="532.5" y="796.5" font-size="11.6" text-anchor="end" textLength="16.3" lengthAdjust="spacingAndGlyphs">2.0</text>
<line x1="557.9" y1="880.5" x2="557.9" y2="885" stroke="#231f20" stroke-width="1.3"/>
<line x1="594.6" y1="880.5" x2="594.6" y2="885" stroke="#231f20" stroke-width="1.3"/>
<line x1="631" y1="880.5" x2="631" y2="885" stroke="#231f20" stroke-width="1.3"/>
<line x1="667.7" y1="880.5" x2="667.7" y2="885" stroke="#231f20" stroke-width="1.3"/>
<text x="524.9" y="787.1" font-size="11.5" textLength="22.9" lengthAdjust="spacingAndGlyphs">x10⁷</text>
<text font-size="12" textLength="102.7" lengthAdjust="spacingAndGlyphs" transform="translate(509.6 880.5) rotate(-90)">ALDH1A1 Intensity</text>
<line x1="556.8" y1="800.4" x2="556.8" y2="812.4" stroke="#222" stroke-width="0.9"/>
<line x1="556.8" y1="834.7" x2="556.8" y2="835.3" stroke="#222" stroke-width="0.9"/>
<line x1="551" y1="800.4" x2="562.6" y2="800.4" stroke="#222" stroke-width="0.9"/>
<line x1="551" y1="835.3" x2="562.6" y2="835.3" stroke="#222" stroke-width="0.9"/>
<rect x="544.7" y="812.4" width="24.2" height="22.3" fill="#d4145f" stroke="#222" stroke-width="0.9"/>
<line x1="544.7" y1="831.8" x2="568.9" y2="831.8" stroke="#222" stroke-width="0.9"/>
<circle cx="556.8" cy="823.7" r="0.8" fill="#111"/>
<circle cx="556.8" cy="832" r="0.8" fill="#111"/>
<line x1="593.2" y1="814.6" x2="593.2" y2="833.4" stroke="#222" stroke-width="0.9"/>
<line x1="593.2" y1="861" x2="593.2" y2="861.7" stroke="#222" stroke-width="0.9"/>
<line x1="587.4" y1="814.6" x2="599" y2="814.6" stroke="#222" stroke-width="0.9"/>
<line x1="587.4" y1="861.7" x2="599" y2="861.7" stroke="#222" stroke-width="0.9"/>
<rect x="581.4" y="833.4" width="23.6" height="27.6" fill="#21a067" stroke="#222" stroke-width="0.9"/>
<line x1="581.4" y1="856.6" x2="605" y2="856.6" stroke="#222" stroke-width="0.9"/>
<circle cx="593.2" cy="851" r="0.8" fill="#111"/>
<circle cx="593.2" cy="857" r="0.8" fill="#111"/>
<line x1="629.9" y1="851" x2="629.9" y2="857.3" stroke="#222" stroke-width="0.9"/>
<line x1="629.9" y1="865.7" x2="629.9" y2="866.4" stroke="#222" stroke-width="0.9"/>
<line x1="624.1" y1="851" x2="635.7" y2="851" stroke="#222" stroke-width="0.9"/>
<line x1="624.1" y1="866.4" x2="635.7" y2="866.4" stroke="#222" stroke-width="0.9"/>
<rect x="618.1" y="857.3" width="23.6" height="8.4" fill="#7a02a2" stroke="#222" stroke-width="0.9"/>
<line x1="618.1" y1="863.2" x2="641.7" y2="863.2" stroke="#222" stroke-width="0.9"/>
<circle cx="629.9" cy="862.4" r="0.8" fill="#111"/>
<line x1="666.4" y1="846" x2="666.4" y2="855.7" stroke="#222" stroke-width="0.9"/>
<line x1="666.4" y1="872.3" x2="666.4" y2="876.1" stroke="#222" stroke-width="0.9"/>
<line x1="660.6" y1="846" x2="672.1" y2="846" stroke="#222" stroke-width="0.9"/>
<line x1="660.6" y1="876.1" x2="672.1" y2="876.1" stroke="#222" stroke-width="0.9"/>
<rect x="654.6" y="855.7" width="23.5" height="16.6" fill="#c9c012" stroke="#222" stroke-width="0.9"/>
<line x1="654.6" y1="866.7" x2="678.1" y2="866.7" stroke="#222" stroke-width="0.9"/>
<circle cx="665" cy="866" r="0.8" fill="#111"/>
<circle cx="668" cy="864.8" r="0.8" fill="#111"/>
<circle cx="666.4" cy="869.3" r="0.8" fill="#111"/>
<polyline points="557.3,785.5 668.4,785.5 668.4,791.2" fill="none" stroke="#555" stroke-width="1"/>
<text x="612.8" y="783.4" font-size="9.4" textLength="38.6" lengthAdjust="spacingAndGlyphs" fill="#333" class="p"><tspan font-style="italic">P</tspan>=0.0018</text>
<polyline points="557.3,797.2 629.4,797.2 629.4,801.9" fill="none" stroke="#555" stroke-width="1"/>
<text x="578.3" y="795.6" font-size="9.4" textLength="38.6" lengthAdjust="spacingAndGlyphs" fill="#333" class="p"><tspan font-style="italic">P</tspan>=0.0032</text>
<text x="532.8" y="894" font-size="12" text-anchor="end" textLength="25.4" lengthAdjust="spacingAndGlyphs">Enza</text>
<text x="532.8" y="908.1" font-size="12" text-anchor="end" textLength="18.6" lengthAdjust="spacingAndGlyphs">JQ1</text>
<text x="557.9" y="894.3" font-size="11.5" text-anchor="middle">-</text>
<text x="557.9" y="907.9" font-size="11.5" text-anchor="middle">-</text>
<text x="594.6" y="896.1" font-size="13.5" text-anchor="middle">+</text>
<text x="594.6" y="907.9" font-size="11.5" text-anchor="middle">-</text>
<text x="631" y="894.3" font-size="11.5" text-anchor="middle">-</text>
<text x="631" y="909.7" font-size="13.5" text-anchor="middle">+</text>
<text x="667.7" y="896.1" font-size="13.5" text-anchor="middle">+</text>
<text x="667.7" y="909.7" font-size="13.5" text-anchor="middle">+</text>
</g>
<g>
<text x="-0.3" y="540" font-size="21.5" font-weight="700" fill="#000">f</text>
<text x="37.7" y="553.9" font-size="12" textLength="35.7" lengthAdjust="spacingAndGlyphs">22RV1</text>
<text x="93" y="569" font-size="12" textLength="39.7" lengthAdjust="spacingAndGlyphs">Vehicle</text>
<text x="201.2" y="569" font-size="12" textLength="25.7" lengthAdjust="spacingAndGlyphs">Enza</text>
<text x="305.5" y="569" font-size="12" textLength="20" lengthAdjust="spacingAndGlyphs">JQ1</text>
<text x="396.5" y="569" font-size="12" textLength="54.5" lengthAdjust="spacingAndGlyphs">Enza+JQ1</text>
<text font-size="12" textLength="51" lengthAdjust="spacingAndGlyphs" transform="translate(37.5 652) rotate(-90)">Ki-67 IHC</text>
<text font-size="12" textLength="78.5" lengthAdjust="spacingAndGlyphs" transform="translate(37.5 776) rotate(-90)"><tspan font-style="italic">DLX1</tspan> RNA-ISH</text>
<text font-size="12" textLength="76" lengthAdjust="spacingAndGlyphs" transform="translate(37.5 881.5) rotate(-90)">ALDH1A1 IHC</text>
<defs><filter id="bl" x="-40%" y="-40%" width="180%" height="180%"><feTurbulence type="fractalNoise" baseFrequency="0.11" numOctaves="2" seed="3" result="n"/><feDisplacementMap in="SourceGraphic" in2="n" scale="4" xChannelSelector="R" yChannelSelector="G"/><feGaussianBlur stdDeviation="0.55"/></filter>
<filter id="b2" x="-60%" y="-60%" width="220%" height="220%"><feGaussianBlur stdDeviation="1.6"/></filter>
<filter id="b0" x="-40%" y="-40%" width="180%" height="180%"><feGaussianBlur stdDeviation="0.45"/></filter>
<clipPath id="cp0"><rect x="44.4" y="575.7" width="103.4" height="103.2"/></clipPath>
<clipPath id="cp1"><rect x="155.1" y="575.7" width="102.3" height="103.2"/></clipPath>
<clipPath id="cp2"><rect x="264.4" y="575.7" width="102.7" height="103.2"/></clipPath>
<clipPath id="cp3"><rect x="372.9" y="575.7" width="103.5" height="103.2"/></clipPath>
<clipPath id="cp4"><rect x="44.4" y="685" width="103.4" height="101.9"/></clipPath>
<clipPath id="cp5"><rect x="155.1" y="685" width="102.3" height="101.9"/></clipPath>
<clipPath id="cp6"><rect x="264.4" y="685" width="102.7" height="101.9"/></clipPath>
<clipPath id="cp7"><rect x="372.9" y="685" width="103.5" height="101.9"/></clipPath>
<clipPath id="cp8"><rect x="44.4" y="792" width="103.4" height="102.4"/></clipPath>
<clipPath id="cp9"><rect x="155.1" y="792" width="102.3" height="102.4"/></clipPath>
<clipPath id="cp10"><rect x="264.4" y="792" width="102.7" height="102.4"/></clipPath>
<clipPath id="cp11"><rect x="372.9" y="792" width="103.5" height="102.4"/></clipPath>
</defs>
<g clip-path="url(#cp0)" fill="none" stroke-linecap="round">
<rect x="44.4" y="575.7" width="103.4" height="103.2" fill="#d9dbe4"/>
<g filter="url(#b2)">
<path stroke="#b3bedd" stroke-opacity="0.5" stroke-width="4.5" d="M111.1 639.4l3.2 0.6"/>
<path stroke="#b3bedd" stroke-opacity="0.5" stroke-width="5" d="M63.1 597l0.5 3.4"/>
<path stroke="#b3bedd" stroke-opacity="0.5" stroke-width="5.5" d="M123.7 584.9l0.3 2.7"/>
<path stroke="#b3bedd" stroke-opacity="0.5" stroke-width="6" d="M73.2 580.5l0.9 0.7"/>
<path stroke="#b3bedd" stroke-opacity="0.5" stroke-width="6.5" d="M64.8 646l-2.2 0.2M94.5 646.2l0.4 1.4"/>
<path stroke="#b3bedd" stroke-opacity="0.5" stroke-width="7" d="M87.7 584.7l-0.1 0.1"/>
<path stroke="#b3bedd" stroke-opacity="0.5" stroke-width="8" d="M57.6 670.4l2.7 1.5M147 586.7l0.9 1.1"/>
<path stroke="#b3bedd" stroke-opacity="0.5" stroke-width="9" d="M89.9 633l2.2 1.4M140.6 622.7l-0.6 2.8M85.7 618.5l-2.5 0.6M138.4 678.3l-0.4 1.2"/>
<path stroke="#b3bedd" stroke-opacity="0.5" stroke-width="9.5" d="M47.3 603.8l0.1 0.1"/>
<path stroke="#b3bedd" stroke-opacity="0.5" stroke-width="10" d="M43.5 593.6l2 0.3"/>
<path stroke="#a9b5d8" stroke-opacity="0.5" stroke-width="5" d="M140.3 594.8l1.5 1.5"/>
<path stroke="#a9b5d8" stroke-opacity="0.5" stroke-width="5.5" d="M63 598.8l-0.5 1.6"/>
<path stroke="#a9b5d8" stroke-opacity="0.5" stroke-width="6" d="M57.9 620.6l0.4 1M49.5 594.1l1.6 3.8"/>
<path stroke="#a9b5d8" stroke-opacity="0.5" stroke-width="6.5" d="M66.6 604.5l0.8 0.3"/>
<path stroke="#a9b5d8" stroke-opacity="0.5" stroke-width="7" d="M95.6 640.4l3.6 1.7M86.1 616l-5 0"/>
<path stroke="#a9b5d8" stroke-opacity="0.5" stroke-width="8" d="M90.5 676.2l1.2 0.8M110.4 632l-0.8 2.3"/>
<path stroke="#a9b5d8" stroke-opacity="0.5" stroke-width="8.5" d="M101.1 669.2l-1.7 0.2"/>
<path stroke="#a9b5d8" stroke-opacity="0.5" stroke-width="11" d="M72 680.4l0.5 0.8"/>
</g>
<g filter="url(#bl)">
<path stroke="#85725c" stroke-opacity="0.5" stroke-width="3.5" d="M87 669.3l-0.4 2.8M42.6 612.6l-0.3 2.5M95.9 666.5l2.9 0.3"/>
<path stroke="#85725c" stroke-opacity="0.5" stroke-width="4" d="M125.2 610.4l-3.3 0.1M131.8 599.6l0.5 3.3M65.1 640.6l-3.4 0.7M69.6 596.1l1 2.5M71.6 666.5l0.6 2M69 609.5l0.7 2.2M58.6 658.6l0.6 3.2M135.9 596.2l-2.1 0.3"/>
<path stroke="#85725c" stroke-opacity="0.5" stroke-width="4.5" d="M90.9 622.8l1.8 1.6M70.6 672.4l1.3 1.2M117.4 581.3l-2.1 0.6M52.5 584.3l2 1.5M148.4 624.1l0.2 2.7M129.9 622.1l1.4 1.4M41.9 583.7l0.9 1.9M110.1 674.4l0.1 1.8M138.5 573.7l1.6 0.6M105.4 572.8l0.9 1.4"/>
<path stroke="#85725c" stroke-opacity="0.5" stroke-width="5" d="M128.3 673.6l1.6 0.8M70 680.1l-2.5 0.6M74.7 638.6l-0.7 1.9M115.6 623.5l-1.3 0.1M97.7 643.9l-2.7 0.3M138.9 656.1l-1 2.3"/>
<path stroke="#85725c" stroke-opacity="0.5" stroke-width="5.5" d="M44.9 638l0 1.2M49.7 594.8l0.9 0.3M108.2 670.1l-1.3 0.4M54.3 653.8l-1.3 1M146.2 604.6l1.6 0.8M112.7 593.5l1.4 1.8M140.7 609.2l0.2 0.9M104.9 680.5l0.5 0.5M67.3 590.5l2.1 0.6M149.4 609.5l1.8 0.1"/>
<path stroke="#85725c" stroke-opacity="0.5" stroke-width="6" d="M81 605.8l-0.3 1.1M86.7 609l0.1 0.6M133.7 619.3l-0 0.1M81.2 662.8l0.5 1.1"/>
<path stroke="#85725c" stroke-opacity="0.5" stroke-width="6.5" d="M133.1 640.3l-0.2 0.9M103.3 611.7l-0.1 0.3M107 587.4l-0.4 0.9M68.1 577.8l0.7 0.3M41.5 593.1l0.5 0.3M80.4 593.7l0.1 0.7"/>
<path stroke="#85725c" stroke-opacity="0.5" stroke-width="7" d="M135.2 675.4l-0.2 0M84.1 582.2l0.2 0.3M138.9 648.2l-0 0.3M148.4 657.3l-0 0.2M103.4 601l-0.6 0.4M108 599l0.3 0.5M109.9 635l-0.3 0.2"/>
<path stroke="#85725c" stroke-opacity="0.5" stroke-width="7.5" d="M94.6 575.5l0.1 0M73.6 574.4l0.2 0.2M52.8 640l-0.1 0.2"/>
<path stroke="#7a6852" stroke-opacity="0.5" stroke-width="3.5" d="M102.4 676.4l-2.7 0.3M49.3 672.8l-2.4 1"/>
<path stroke="#7a6852" stroke-opacity="0.5" stroke-width="4" d="M122.6 620.6l2.6 0.3M101.9 662.9l2.3 1.2M108.7 650.6l1.6 1.7M52.9 611.6l-0.1 2.9M107.1 579.7l-0.5 2.4"/>
<path stroke="#7a6852" stroke-opacity="0.5" stroke-width="4.5" d="M125.3 599.9l0.4 3.2M120.9 654.5l-1.6 1.1M117.4 668l1.7 1M66.8 649.6l-1.5 2.5M88.6 648.2l-2.1 2M122.9 581.4l-0.4 3"/>
<path stroke="#7a6852" stroke-opacity="0.5" stroke-width="5" d="M86.1 593.2l-0.7 0.7M103.5 590.8l-1.3 0.3M46.8 589.6l-2.8 0.2M96.7 627l-1.5 0.6M80.8 653.5l0.7 0.9M104.2 622.2l0.3 1.2M125.7 680.2l-2.4 0.4M112.6 655.6l1.4 2M136 613l1.5 0.3M47.9 643.4l1.9 1.2M127 615.1l-2.2 1.2"/>
<path stroke="#7a6852" stroke-opacity="0.5" stroke-width="5.5" d="M93.7 580.7l-0.4 1.6M96.4 654.9l0.4 0.9M58.3 637.1l-0.4 0.4M75.6 602.1l-1.1 0.6M44.6 680.7l0.5 0.2M58.3 616.4l1.4 1.5M132.7 631.3l1 0.2M109.5 663l-0.9 0.5M147.8 634.1l-1 0.4M150.1 577.2l0.2 0.7M59.5 629.9l2 0.7"/>
<path stroke="#7a6852" stroke-opacity="0.5" stroke-width="6" d="M101.3 628.5l-0.7 1.5M90.8 662.1l-0.3 0.1M63.3 611.6l-0.2 0.5M150.4 588l0 0.2M148.4 678.7l-0.1 0.3M42.3 673.4l-0.2 0.1"/>
<path stroke="#7a6852" stroke-opacity="0.5" stroke-width="6.5" d="M146.5 614.3l-0.5 0.6M117 663.3l-0.3 0.1M76.9 656.1l-0.7 0.3"/>
<path stroke="#7a6852" stroke-opacity="0.5" stroke-width="7" d="M65.3 673.1l0.1 0M41.9 632.6l-0.3 0.2M77.3 679.8l-0.6 0.2M88.8 576.1l-0.5 0.4M138.9 668.1l0.2 0.5"/>
<path stroke="#7a6852" stroke-opacity="0.5" stroke-width="7.5" d="M86.3 613.9l0 0.2"/>
<path stroke="#8c7a65" stroke-opacity="0.5" stroke-width="3.5" d="M109.2 577.4l2.4 0.5M114.2 571.8l1.4 2.3"/>
<path stroke="#8c7a65" stroke-opacity="0.5" stroke-width="4" d="M51 574.1l0.1 2M103.5 647.4l2.3 0.8M116.1 611.2l1.9 1M96.1 591.8l0.6 2.1"/>
<path stroke="#8c7a65" stroke-opacity="0.5" stroke-width="4.5" d="M141.4 600.2l2.9 1.5M99.4 646.8l0.6 1.4M118 678.8l0.9 2.2M56.5 608.1l-1.7 0.9M118 625.5l2.7 1.5M149.6 644.3l1.4 2.7M138.1 601.4l-2.5 1.4M44.3 657.5l1.8 2.8M85.6 658l-0.1 2.2M50.7 649.4l2.4 0.2"/>
<path stroke="#8c7a65" stroke-opacity="0.5" stroke-width="5" d="M56.8 624.9l-2 1.6M92.7 631.3l-1.2 0.5M106.3 636.8l-1.6 2.1M94.6 648.3l-1.8 0.4M51 681l1.9 0.5M110.4 583.8l0.8 0.9"/>
<path stroke="#8c7a65" stroke-opacity="0.5" stroke-width="5.5" d="M82 587.6l-0.3 2.2M66.5 616.1l1.7 1.1M130.2 654.5l-1.6 1.4M115.8 650.9l-0.6 1.2M53.2 631l0.9 0.6M111.8 612.9l-0.1 0.9M99.6 576.3l1.2 0.4M44 600.7l0.1 0.6M134.3 582.9l-0.6 0.6M93.2 601.3l1.3 1M71.8 584.4l-1.3 0.6M129.7 591.2l2.1 0.8M115.7 674l0.7 0.4M91.2 590.7l-0.6 0.8"/>
<path stroke="#8c7a65" stroke-opacity="0.5" stroke-width="6" d="M80.2 669.6l0 0.7M149 661.5l-0.7 0.8M120.9 574.4l-0.9 0.1M132.9 660.7l0.3 0.1M100.7 637.2l-0.1 0.6M45.5 617.5l-0.8 0.3M150.7 651.9l0.3 0.6M97.1 614.4l-0.1 0M44.3 665.4l-0.7 0.4"/>
<path stroke="#8c7a65" stroke-opacity="0.5" stroke-width="6.5" d="M131.7 680.1l1 0.6"/>
<path stroke="#8c7a65" stroke-opacity="0.5" stroke-width="7" d="M85.9 599.7l-0.2 0.1M59.5 653.8l0.3 0.1M103.9 616.6l-0.3 0.3M41.6 606.3l0.6 0.2"/>
<path stroke="#a19281" stroke-opacity="0.55" stroke-width="3.5" d="M117.2 641.9l1.8 0.9"/>
<path stroke="#a19281" stroke-opacity="0.55" stroke-width="4.5" d="M78.2 580.5l0.7 2.4M75.6 621.9l-0.5 1.4M105.8 656.2l1.9 1.1"/>
<path stroke="#a19281" stroke-opacity="0.55" stroke-width="5" d="M96.4 681l-0.2 0.4M108.6 606l-0.3 0.5M84.7 635.2l-0.3 1.5M131.1 573.1l1.1 1.2M79.8 599.3l0.6 0.4M80 625.5l-0.9 0.7"/>
<path stroke="#a19281" stroke-opacity="0.55" stroke-width="5.5" d="M81.4 577.1l-0.1 0.2M133.9 668.7l-0.3 0.1M87.8 585.5l0.4 0.3M58.4 593.1l-0 0.9M47.8 608.6l0.1 0"/>
<path stroke="#a19281" stroke-opacity="0.55" stroke-width="6" d="M115.4 636.5l-0.1 0"/>
<path stroke="#a19281" stroke-opacity="0.55" stroke-width="6.5" d="M103.2 642.4l0.1 0"/>
<path stroke="#a19281" stroke-opacity="0.55" stroke-width="7" d="M131 610.5l0.1 0"/>
<path stroke="#9a8a77" stroke-opacity="0.55" stroke-width="4" d="M55.1 600.6l-1.2 0.9"/>
<path stroke="#9a8a77" stroke-opacity="0.55" stroke-width="4.5" d="M98.6 621.5l0.9 1.8M82.9 675l-0.8 1.5"/>
<path stroke="#9a8a77" stroke-opacity="0.55" stroke-width="5" d="M68.3 642.2l0.5 0.4M78.5 618.3l1.1 0.5M63.1 647.4l-1.7 0.3M61.4 623.2l0.3 0.5M79 648.6l0.7 0.4"/>
<path stroke="#9a8a77" stroke-opacity="0.55" stroke-width="5.5" d="M55 677.6l0.7 0.7M52.2 667.4l-0.3 0.6M149.3 593l0.6 1.1"/>
<path stroke="#9a8a77" stroke-opacity="0.55" stroke-width="6" d="M61.5 580.5l-0.2 0.8M101.5 654.1l-0.2 0"/>
<path stroke="#9a8a77" stroke-opacity="0.55" stroke-width="6.5" d="M64.8 632.1l0.1 0M122.5 671.5l0.1 0M129.9 635.2l-0 0.3"/>
<path stroke="#b0a392" stroke-opacity="0.8" stroke-width="3.5" d="M82.2 629.3l1.8 0.2M126.9 595.8l-0 2.2"/>
<path stroke="#b0a392" stroke-opacity="0.8" stroke-width="4" d="M76.1 586.9l-1.4 0.9M58.4 673.3l-0.9 0.4"/>
<path stroke="#b0a392" stroke-opacity="0.8" stroke-width="4.5" d="M102.4 670.1l0.5 0.5"/>
<path stroke="#b0a392" stroke-opacity="0.8" stroke-width="5.5" d="M126.7 644.6l-0.5 0.1"/>
<path stroke="#9f907d" stroke-opacity="0.8" stroke-width="3" d="M144.5 652.9l-0.6 0.9M125.9 659.6l2.3 1.2"/>
<path stroke="#9f907d" stroke-opacity="0.8" stroke-width="3.5" d="M146.5 667.1l-1.8 1.3"/>
<path stroke="#9f907d" stroke-opacity="0.8" stroke-width="4" d="M128.8 583.1l0.9 0.9"/>
<path stroke="#9f907d" stroke-opacity="0.8" stroke-width="4.5" d="M92.2 595.8l-0.5 1.3M149.8 572.9l-0.2 0.4"/>
<path stroke="#9f907d" stroke-opacity="0.8" stroke-width="6" d="M88.6 675l-0.1 0"/>
<path stroke="#a89a88" stroke-opacity="0.8" stroke-width="3" d="M46.1 631l2.4 2"/>
<path stroke="#a89a88" stroke-opacity="0.8" stroke-width="3.5" d="M80.2 643.5l-0.6 0.6"/>
<path stroke="#a89a88" stroke-opacity="0.8" stroke-width="4" d="M129.1 604.9l-1 0.7"/>
<path stroke="#a89a88" stroke-opacity="0.8" stroke-width="4.5" d="M95 670.4l0 0.4"/>
<path stroke="#a9b2cf" stroke-opacity="0.8" stroke-width="3" d="M96.5 586l-1.1 2.4"/>
<path stroke="#a9b2cf" stroke-opacity="0.8" stroke-width="4" d="M45.2 626.5l-0 2.4M84.1 620.6l0.3 2M93.4 618.2l0.5 0.6"/>
<path stroke="#a9b2cf" stroke-opacity="0.8" stroke-width="4.5" d="M63.8 596.3l-0.2 0.2"/>
<path stroke="#a9b2cf" stroke-opacity="0.8" stroke-width="5" d="M97.3 606.8l0.1 0.5M108.8 628.3l-0.8 1.3M75.7 663l1.1 0.1M63.2 574.7l-1.2 0.1"/>
<path stroke="#a9b2cf" stroke-opacity="0.8" stroke-width="5.5" d="M142.8 663.2l0.1 0M117.6 597.1l0.7 0.4M146.6 639.3l1 0.1M135.9 627.3l0.1 0.2"/>
<path stroke="#9fa9c8" stroke-opacity="0.8" stroke-width="3" d="M139.2 621.4l-1.5 1.5"/>
<path stroke="#9fa9c8" stroke-opacity="0.8" stroke-width="3.5" d="M127 666.1l-1.3 1.2M110.8 640.9l0.6 1.5"/>
<path stroke="#9fa9c8" stroke-opacity="0.8" stroke-width="4" d="M64.6 586.8l0.3 0.9M149.8 599.2l0.6 0.7M137.4 636.3l2.1 0.9"/>
<path stroke="#9fa9c8" stroke-opacity="0.8" stroke-width="4.5" d="M90.6 654.3l-0.9 0.2"/>
<path stroke="#9fa9c8" stroke-opacity="0.8" stroke-width="5" d="M115.8 602.9l0.1 0M94.7 676.5l0.8 0.2"/>
<path stroke="#9fa9c8" stroke-opacity="0.8" stroke-width="5.5" d="M105.1 633l-0 0.1"/>
<path stroke="#9fa9c8" stroke-opacity="0.8" stroke-width="6" d="M91.7 610.5l-0.4 0.4"/>
<path stroke="#b3bbd6" stroke-opacity="0.8" stroke-width="2.5" d="M60.6 681l-1 1.9"/>
<path stroke="#b3bbd6" stroke-opacity="0.8" stroke-width="3" d="M89.8 680.3l1.2 1.9"/>
<path stroke="#b3bbd6" stroke-opacity="0.8" stroke-width="3.5" d="M134.4 650.2l-1.2 2.5"/>
<path stroke="#b3bbd6" stroke-opacity="0.8" stroke-width="4" d="M44.5 576.2l-0.4 0.6M100.5 584l0.2 1.2M146.3 644.8l-2.3 0.5M132.4 645.4l0.9 1"/>
<path stroke="#b3bbd6" stroke-opacity="0.8" stroke-width="4.5" d="M138.2 586.6l0.3 0.2"/>
<path stroke="#b3bbd6" stroke-opacity="0.8" stroke-width="5" d="M52 659l-0.2 0.5M57.1 645.7l-1.1 0.5M136.6 681.1l0.7 0"/>
<path stroke="#eef0f6" stroke-opacity="0.8" stroke-width="3" d="M142.5 623.8l0.6 1.9"/>
<path stroke="#eef0f6" stroke-opacity="0.8" stroke-width="3.5" d="M66.9 656.8l-1.6 1.2M70.9 626.9l-0 1.2M124 577.7l-0.9 1.3"/>
<path stroke="#eef0f6" stroke-opacity="0.8" stroke-width="4" d="M150.9 671l-0.4 0.5M124.5 633.1l-1.8 0.8M140.2 591.3l-1.1 1.4M122.7 647.4l-1.6 1.9"/>
<path stroke="#eef0f6" stroke-opacity="0.8" stroke-width="4.5" d="M49 621.8l1 1.5M71.7 660.9l-0.1 0M127.1 626.4l-1 0.6"/>
<path stroke="#eef0f6" stroke-opacity="0.8" stroke-width="5" d="M65.3 666.9l-0.2 0.3M89.3 643l0.5 0.9M125.1 588l1.1 0.6M109.8 616.8l-0.4 0.7"/>
<path stroke="#eef0f6" stroke-opacity="0.8" stroke-width="5.5" d="M116.2 587.7l-0.5 0.2"/>
<path stroke="#eef0f6" stroke-opacity="0.8" stroke-width="6.5" d="M140.7 675.2l0.1 0"/>
<path stroke="#f5f6fa" stroke-opacity="0.8" stroke-width="3" d="M143.1 631.8l-2.2 0.5M94.6 637l2 0"/>
<path stroke="#f5f6fa" stroke-opacity="0.8" stroke-width="3.5" d="M41.8 644.5l1.8 0.4M140.9 641l0.4 1.4M80.8 613l0.8 1.1M56.3 575.4l1 0.5M75.5 607.5l-1.9 1.1"/>
<path stroke="#f5f6fa" stroke-opacity="0.8" stroke-width="4" d="M49 579.9l1.2 1.2M58.2 664.7l0.7 0.5M73 651.4l1.5 2.2M114.1 668.1l-1.6 0.3"/>
<path stroke="#f5f6fa" stroke-opacity="0.8" stroke-width="4.5" d="M73.3 615.3l0.1 0.1"/>
<path stroke="#f5f6fa" stroke-opacity="0.8" stroke-width="5" d="M48.2 653.5l0 0.2"/>
<path stroke="#f5f6fa" stroke-opacity="0.8" stroke-width="5.5" d="M146.4 584.8l0.2 0.6M69 602l0.5 1M74.4 595.4l-0.1 0.1M96.7 661.3l-0.3 0.3"/>
<path stroke="#f5f6fa" stroke-opacity="0.8" stroke-width="6.5" d="M52.9 618.9l0.1 0.1M71 635.2l0.2 0.2"/>
<path stroke="#e6e9f2" stroke-opacity="0.8" stroke-width="2.5" d="M145.5 577.1l-1.5 1.3"/>
<path stroke="#e6e9f2" stroke-opacity="0.8" stroke-width="3" d="M63.6 606.4l-2 0.6"/>
<path stroke="#e6e9f2" stroke-opacity="0.8" stroke-width="3.5" d="M99.7 595.2l-0.2 2.3M124.5 638.5l1.1 1.6"/>
<path stroke="#e6e9f2" stroke-opacity="0.8" stroke-width="4" d="M120.7 617.6l-0.8 0.1M136.9 580.4l2.5 0.3"/>
<path stroke="#e6e9f2" stroke-opacity="0.8" stroke-width="4.5" d="M78.9 631.4l0.2 0"/>
<path stroke="#e6e9f2" stroke-opacity="0.8" stroke-width="5" d="M72.8 646l-0.4 0.2M110.6 679.7l-0.1 1.7"/>
<path stroke="#e6e9f2" stroke-opacity="0.8" stroke-width="5.5" d="M59.3 588l-1 0.7"/>
<path stroke="#e6e9f2" stroke-opacity="0.8" stroke-width="6" d="M84.5 681.7l0.1 0"/>
<path stroke="#463322" stroke-opacity="0.92" stroke-width="2.5" d="M125 600.3l0.3 2.5"/>
<path stroke="#463322" stroke-opacity="0.92" stroke-width="3" d="M118 678.1l0.9 2M92.8 574.8l2.3 1.8M134 618.1l-0.5 1.9M93.5 631l-2.6 1.1M46.1 617.9l-1.7 0.6M95.1 647.9l-2.7 0.6"/>
<path stroke="#463322" stroke-opacity="0.92" stroke-width="3.5" d="M111.6 611.4l-0.2 2.4M101.4 676l-1.7 0.2M142.2 600.5l1.6 0.8M112.7 593.3l1.2 1.5M57.4 625l-2.3 1.8M58.4 653.5l2.9 1.2M72.1 665.9l0.8 2.9M85.9 612.1l0.4 3.1"/>
<path stroke="#463322" stroke-opacity="0.92" stroke-width="4" d="M80.4 605.1l-0.6 2.4M131 599.3l0.3 1.9M86.8 669.2l-0.3 1.9M80.6 653.7l0.5 0.7M104.2 572.2l1.6 2.4M109.6 662.9l-2.2 1.1M147.6 656.8l-0.1 2.2"/>
<path stroke="#463322" stroke-opacity="0.92" stroke-width="4.5" d="M66.8 650.9l-0.9 1.6M44.9 680.4l0.3 0.1M137.9 601.1l-1 0.5M150.7 652.7l0.2 0.3M115.2 623.5l-0.6 0M106.5 581.4l-0.1 0.3"/>
<path stroke="#463322" stroke-opacity="0.92" stroke-width="5" d="M135.6 676.2l-0.2 0M98 614.1l-1.2 0.5M67.3 577.6l0.1 0.1"/>
<path stroke="#463322" stroke-opacity="0.92" stroke-width="5.5" d="M95.8 627.6l-0.4 0.1M52.8 639.8l-0.4 0.6M70.1 609.8l0.1 0.2"/>
<path stroke="#463322" stroke-opacity="0.92" stroke-width="6" d="M118 668l0.5 0.3M67.9 680.4l0.1 0M148.2 633.5l-0.2 0.1"/>
<path stroke="#644c35" stroke-opacity="0.92" stroke-width="2.5" d="M99 646.2l0.9 2.2M95.8 655.2l1.1 2.2"/>
<path stroke="#644c35" stroke-opacity="0.92" stroke-width="3" d="M64.9 672.1l1.5 1.4M120.7 573.9l-1.9 0.3M42.1 613l-0.3 2.5M91.5 662.1l-2.2 0.7M131.4 679.4l1.8 1M59 629.6l2.2 0.8"/>
<path stroke="#644c35" stroke-opacity="0.92" stroke-width="3.5" d="M98.3 576.2l3.3 1M52.9 612.1l-0.1 1.3M48 644l1.4 0.9M50.9 681.6l1.3 0.4M110.7 583l2 2.3"/>
<path stroke="#644c35" stroke-opacity="0.92" stroke-width="4" d="M86.6 592.8l-0.7 0.7M103.6 590.8l-1.4 0.3M145.7 605.1l1.2 0.6M107.8 586.5l-0.5 1.2M127.3 615.1l-1.2 0.7M96.2 591.5l0.5 2"/>
<path stroke="#644c35" stroke-opacity="0.92" stroke-width="4.5" d="M44.6 636.6l0 2.1M116.7 580.5l-2.4 0.6M101.2 636.8l-0.2 1.4M105.1 622l0.4 1.5M48.1 673.4l-1.2 0.5M69.2 596.3l0.2 0.5M81.6 663l0.7 1.5"/>
<path stroke="#644c35" stroke-opacity="0.92" stroke-width="5" d="M45.9 589.4l-1.1 0.1M63.2 611.5l-0.1 0.2M114 656.6l0.4 0.5M116.3 611.2l0.9 0.5"/>
<path stroke="#644c35" stroke-opacity="0.92" stroke-width="5.5" d="M129.6 655.1l-0.7 0.6M119.2 625.6l1.2 0.6M110.3 674.5l0 0.9"/>
<path stroke="#644c35" stroke-opacity="0.92" stroke-width="6" d="M87.1 607.9l0.1 0.8M55.6 608.4l-0.1 0.1M58.2 636.7l-0.4 0.4M106.1 638.2l-0.5 0.7M44.5 659.3l0.3 0.6M130 592.6l0.3 0.1M79.9 593.1l0.1 0.5"/>
<path stroke="#644c35" stroke-opacity="0.92" stroke-width="6.5" d="M104.6 648l0.2 0.1M141.1 609.9l0.1 0.4M58.4 617.3l0.2 0.3M114.2 573.3l0.3 0.4"/>
<path stroke="#644c35" stroke-opacity="0.92" stroke-width="7" d="M90.6 590.3l0.1 0"/>
<path stroke="#5a422d" stroke-opacity="0.92" stroke-width="3" d="M79.8 669.3l0.1 2.5M77.9 680.3l-1.8 0.5M101.4 663.2l2 1M103.7 610.7l-0.6 1.8M73.6 573.7l1.2 2M149.6 644.4l1.2 2.3M103.9 616.5l-1.3 1.4M111.6 635.2l-1.8 1.2"/>
<path stroke="#5a422d" stroke-opacity="0.92" stroke-width="3.5" d="M52.4 630.9l2.2 1.3M70.9 672.6l2.1 1.9M123.8 621l1.9 0.2M74.3 638.6l-0.7 1.8M41.4 605.9l2 0.6M149.3 609.8l1.7 0.1"/>
<path stroke="#5a422d" stroke-opacity="0.92" stroke-width="4" d="M93.9 580.1l-0.6 2M124.8 610.3l-1 0M43.1 632.3l-2.2 1.2M55.2 652.8l-2.2 1.7M42.1 583.7l1 2.2M136 612.9l2.3 0.5M96.8 665.7l1.8 0.2"/>
<path stroke="#5a422d" stroke-opacity="0.92" stroke-width="4.5" d="M132.7 660.6l0.7 0.2M110.6 577.4l0.4 0.1"/>
<path stroke="#5a422d" stroke-opacity="0.92" stroke-width="5" d="M84.5 581.8l0.2 0.3M88.4 648.4l-1 1M96.6 643.9l-0.8 0.1M148.5 678.6l-0.8 1.4M86.1 658.9l-0 0.4M150.2 577.4l0.4 1.5M41.1 593.9l0.4 0.3"/>
<path stroke="#5a422d" stroke-opacity="0.92" stroke-width="5.5" d="M63.3 641.1l-0.3 0M139 574.4l0.9 0.3M41.7 674l-0.5 0.2M122.7 582.8l-0 0.1M59.3 660.2l0.1 0.5"/>
<path stroke="#5a422d" stroke-opacity="0.92" stroke-width="6" d="M94.4 601.5l0.4 0.3M44 664.9l-0.3 0.2"/>
<path stroke="#5a422d" stroke-opacity="0.92" stroke-width="6.5" d="M54.1 584.2l0.3 0.2M76.3 656.9l0.1 0"/>
<path stroke="#4f3926" stroke-opacity="0.92" stroke-width="2.5" d="M115.8 673.7l2 1.2"/>
<path stroke="#4f3926" stroke-opacity="0.92" stroke-width="3" d="M115.9 650.1l-1.3 2.5"/>
<path stroke="#4f3926" stroke-opacity="0.92" stroke-width="3.5" d="M81.3 587.3l-0.2 1.6M148.9 662.1l-0.9 1M44.6 599.6l0.5 2.7M124.5 679.8l-1.4 0.2M150.4 586.4l0.2 2.6"/>
<path stroke="#4f3926" stroke-opacity="0.92" stroke-width="4" d="M134.2 639.6l-0.5 2.2M108.6 669.5l-1.7 0.5M134.2 582.9l-0.8 0.7M139.1 647.1l-0.4 2.7M138.2 657.4l-0.5 1M67.4 590.9l2.9 0.8M135.6 595.7l-1.2 0.2"/>
<path stroke="#4f3926" stroke-opacity="0.92" stroke-width="4.5" d="M51.1 574.3l0 0.7M109.1 650.8l0.5 0.5M146.7 614l-0.8 0.9M148.6 624.7l0.1 1.6M72.2 584.1l-0.9 0.4M138.9 667l0.6 1.4"/>
<path stroke="#4f3926" stroke-opacity="0.92" stroke-width="5" d="M49.9 594.3l0.1 0M120.4 655.1l-0.6 0.4M89 576.2l-0.5 0.4M130.5 623.1l0.7 0.7M75.8 602.3l-1 0.5M102.8 601.2l-0.4 0.3M107.4 598.8l0.4 0.8"/>
<path stroke="#4f3926" stroke-opacity="0.92" stroke-width="5.5" d="M91.2 622.9l1 0.8M67.1 616.2l1.2 0.8M131.9 631.2l0.8 0.1M51.4 649l0.3 0"/>
<path stroke="#4f3926" stroke-opacity="0.92" stroke-width="6" d="M128.5 673.7l0.7 0.3M85.6 599.7l-0.5 0.3M117.8 662.8l-0.8 0.3M105.6 681.5l0.6 0.7"/>
<path stroke="#4f3926" stroke-opacity="0.92" stroke-width="6.5" d="M101 629.2l0.1 0"/>
<path stroke="#644d38" stroke-opacity="0.88" stroke-width="3" d="M131.2 609.5l-0.8 1.5M107.9 605.5l-0.7 1.1M79 599l1.1 0.8"/>
<path stroke="#644d38" stroke-opacity="0.88" stroke-width="4" d="M81.5 577.4l-0.4 1.2M134.2 667.8l-0.4 0.2M87.1 585.6l0.4 0.4"/>
<path stroke="#644d38" stroke-opacity="0.88" stroke-width="4.5" d="M131.2 573.7l0.1 0.1"/>
<path stroke="#644d38" stroke-opacity="0.88" stroke-width="5" d="M55.2 677.2l0.8 0.7M62.8 646.8l0.1 0"/>
<path stroke="#644d38" stroke-opacity="0.88" stroke-width="5.5" d="M101.4 654.5l-0.3 0.1"/>
<path stroke="#644d38" stroke-opacity="0.88" stroke-width="6" d="M60.9 581.4l-0 0.1"/>
<path stroke="#6f5842" stroke-opacity="0.88" stroke-width="2.5" d="M75 621.5l-0.6 1.7"/>
<path stroke="#6f5842" stroke-opacity="0.88" stroke-width="3" d="M116.3 636.5l-1.2 0.4M82.5 674.7l-0.7 1.3"/>
<path stroke="#6f5842" stroke-opacity="0.88" stroke-width="3.5" d="M130 634.7l-0.2 1.7"/>
<path stroke="#6f5842" stroke-opacity="0.88" stroke-width="4" d="M96.6 680.4l-0.8 1.5M47.6 608l-0.8 0.5M62.2 623.9l0.4 0.6"/>
<path stroke="#6f5842" stroke-opacity="0.88" stroke-width="4.5" d="M103.3 642.3l0 0.3M84.4 635.2l-0.3 1.6M149.7 592.8l0.4 0.7"/>
<path stroke="#6f5842" stroke-opacity="0.88" stroke-width="5" d="M98.7 621.9l0.2 0.4M80.1 624.9l-0.4 0.3"/>
<path stroke="#6f5842" stroke-opacity="0.88" stroke-width="5.5" d="M78.8 581.8l0.2 0.8M79.8 649.3l0.8 0.4"/>
<path stroke="#7a634d" stroke-opacity="0.88" stroke-width="2.5" d="M52.2 666.2l-0.7 1.5M65.2 631.3l0.6 1.7"/>
<path stroke="#7a634d" stroke-opacity="0.88" stroke-width="4" d="M53.9 601l-0.1 0.1M105.8 656.7l1.9 1.1M122.6 671.7l0.1 0.8"/>
<path stroke="#7a634d" stroke-opacity="0.88" stroke-width="4.5" d="M68.4 641.6l0.7 0.6M78.3 619l0.7 0.3M58.4 593.4l-0 0.6"/>
<path stroke="#7a634d" stroke-opacity="0.88" stroke-width="5.5" d="M118.3 641.8l0.3 0.2"/>
<path stroke="#54402c" stroke-opacity="0.85" stroke-width="2" d="M131.3 598.8l0.4 2.8M70.4 673.9l1.1 1M73.9 573.5l1.3 2M93.4 631.7l-1.9 0.8M49.9 674.4l-2 0.8M107.1 598.2l0.9 1.7M57.8 658.3l0.3 1.5"/>
<path stroke="#54402c" stroke-opacity="0.85" stroke-width="2.5" d="M80.8 606.8l-0.2 0.8M52.2 573.3l0.1 1.2M86.8 670l-0.2 1.4M45.4 590.2l-1.8 0.1M110 578.3l1.1 0.2M136 583.6l-1.8 1.6M105.3 621.6l0.4 1.6M119.7 626.2l0.9 0.5M106.2 637.9l-0.6 0.7M43.2 681.4l1.2 0.4M105.3 573.2l0.8 1.2M116.6 611.8l2.2 1.1M80.1 593.4l0.4 2.2"/>
<path stroke="#54402c" stroke-opacity="0.85" stroke-width="3" d="M66.1 616.2l1 0.7M111.5 611.6l-0.1 1.2M119.9 654.5l-0.8 0.5M103.1 589.8l-1.2 0.3M44.2 601l0.4 2.1M95.5 626.6l-1 0.4M54.2 654.5l-0.4 0.3M53.5 641.3l-0.6 1M57.6 617.5l0.7 0.8M117.6 663.4l-0.6 0.3M106.2 680.1l0.7 0.8M81.9 662.1l0.4 0.8M103.8 600.1l-1.2 0.9M67.7 578.5l1.1 0.5M40.2 593.3l0.5 0.3"/>
<path stroke="#54402c" stroke-opacity="0.85" stroke-width="3.5" d="M92.1 580l-0.3 1M80.8 670.3l0 0.6M103.6 648l1.4 0.5M123.7 681.6l-0.7 0.1M62.6 612.5l-0.2 0.5M110.1 663.5l-1 0.6M147.2 657.6l-0.1 1.1"/>
<path stroke="#54402c" stroke-opacity="0.85" stroke-width="4" d="M82.3 589.3l-0 0.3M83.4 581.2l0.5 0.9M46.5 618.5l-1 0.3M140.5 574.6l0.8 0.3"/>
<path stroke="#54402c" stroke-opacity="0.85" stroke-width="4.5" d="M129.3 672.3l0.3 0.2M107.4 668.9l0.1 0M104.4 616.2l0.1 0M132.7 631.4l0.6 0.1"/>
<path stroke="#3e2b1b" stroke-opacity="0.85" stroke-width="1.5" d="M74.2 639.6l-0.7 1.8"/>
<path stroke="#3e2b1b" stroke-opacity="0.85" stroke-width="2" d="M126.7 601.8l0.2 1.4M98.5 648l0.5 1.3M42.4 611.8l-0.3 2.4M64.3 641.7l-1.8 0.3M146.6 613.4l-1 1.2M136 613l1.7 0.3M114.7 572.5l1.1 1.8M132.4 678.5l1.2 0.7M60.3 628.9l1.1 0.4"/>
<path stroke="#3e2b1b" stroke-opacity="0.85" stroke-width="2.5" d="M46.1 636.5l0 1.3M133.5 638.7l-0.5 2.1M54.2 632.1l0.7 0.4M90 576l-1.8 1.4M101.1 662.5l1.2 0.6M87.4 599.7l-1.1 0.6M112.2 656.3l1 1.4M151.1 644l0.6 1.1M109.5 674.4l0 1M98.9 613.1l-1.7 0.7M73.3 667.9l0.4 1.4M42.2 674.2l-0.9 0.4M115.7 673.4l1.2 0.7M136.2 596.8l-1.4 0.2M97.4 666.6l2.5 0.2"/>
<path stroke="#3e2b1b" stroke-opacity="0.85" stroke-width="3" d="M91.2 622.4l1.1 0.9M85.4 592.9l-0.3 0.3M69.2 679.8l-0.7 0.2M96.8 642.9l-0.9 0.1M148.6 609.6l1.3 0M150.2 578.6l0.2 0.8M75.5 657.7l-0.4 0.2"/>
<path stroke="#3e2b1b" stroke-opacity="0.85" stroke-width="3.5" d="M142.3 602.2l0.6 0.3M123.7 621.3l1 0.1M132.4 659.8l1.4 0.4M117.7 580.9l-1.5 0.4M148.1 624.6l0 0.1M138.6 667.5l0.6 1.4M107.2 588.5l-0.2 0.4M94.8 648.2l-0.6 0.1M41.9 606.8l1.4 0.4M106 580l-0.1 0.3"/>
<path stroke="#3e2b1b" stroke-opacity="0.85" stroke-width="4" d="M113.5 593.6l0.4 0.5M141.7 609.9l0.3 0.9M88.9 647.6l-0.1 0.1M147.5 634.9l-0.6 0.3"/>
<path stroke="#3e2b1b" stroke-opacity="0.85" stroke-width="4.5" d="M129.9 656l-0.2 0.2M133.2 618.3l-0.1 0.5M148.4 680.3l0.1 0"/>
<path stroke="#3e2b1b" stroke-opacity="0.85" stroke-width="5" d="M149.8 653.3l0.1 0M86.9 659.1l0.1 0"/>
<path stroke="#4a3423" stroke-opacity="0.85" stroke-width="2" d="M135.9 674.7l-2.5 0.3M149 660.4l-1.6 1.8M99.8 576.5l1.8 0.5M101.2 675.2l-1.5 0.1M76.5 678.9l-1.2 0.3M118.8 679.1l0.8 1.8M109.9 650.9l1.2 1.3M92 573.4l2.1 1.7M101.2 636.6l-0.3 1.8M137.8 646.7l-0.2 1.3M151.1 588.4l0.1 1.3M110.4 583.6l0.9 1.1M43.6 665.8l-1.2 0.7"/>
<path stroke="#4a3423" stroke-opacity="0.85" stroke-width="2.5" d="M101.2 629.4l-0.5 1.1M124 611.1l-2.5 0.1M79.8 653.7l1.1 1.4M89.7 663.2l-1.3 0.4M59.3 637.2l-0.7 0.7M59.5 652.9l1.9 0.8M43.8 658.5l0.7 1.1M68.2 596l0.8 1.8M47.4 644.9l1.3 0.8M137.4 656.3l-0.7 1.7"/>
<path stroke="#4a3423" stroke-opacity="0.85" stroke-width="3" d="M85.5 606.8l0.3 2.2M42.7 632.6l-0.9 0.5M53.9 584.2l1.7 1.2M92.3 602.4l1.5 1.2M129.5 622.6l0.7 0.6M57.9 624.8l-1.7 1.3M74.6 602.5l-1.1 0.5M53.1 612.8l-0.1 2M126.6 615.4l-0.4 0.2M122 583.7l-0.1 0.9M95.4 591.5l0.1 0.3M112.1 634.2l-1.4 1"/>
<path stroke="#4a3423" stroke-opacity="0.85" stroke-width="3.5" d="M66.1 673.9l0.2 0.2M116.5 651l-0.6 1.2M116.5 669.4l1.2 0.7M103 612.6l0.1 0M57.7 609.6l-1 0.6M147.3 603.9l1.2 0.6M71.3 584.8l-0.2 0.1M41.5 583.2l0.6 1.3M114.8 623.4l-1.3 0.1M69.3 610.9l0.3 1.1M52.4 681.7l0.2 0.1M87.3 614.8l0 0.4M67.9 590.7l1.6 0.5"/>
<path stroke="#4a3423" stroke-opacity="0.85" stroke-width="4" d="M49.5 594.5l0.9 0.3M119.5 573.9l-1.1 0.2M97.7 655.7l0.1 0.3M50.1 649.7l0.6 0.1"/>
<path stroke="#4a3423" stroke-opacity="0.85" stroke-width="4.5" d="M66.5 651.4l-0.2 0.3M137 602.9l-0.5 0.3M129.9 592.6l0.5 0.2"/>
<path stroke="#4a3423" stroke-opacity="0.85" stroke-width="5" d="M90.7 590.1l-0 0.1"/>
<path stroke="#58422e" stroke-opacity="0.6" stroke-width="1" d="M117.5 642.1l1.1 0.5M84.1 635l-0.2 1M62.8 646.1l-1.1 0.2"/>
<path stroke="#58422e" stroke-opacity="0.6" stroke-width="1.5" d="M81.8 578.1l-0.2 0.8M79.7 582l0.1 0.5M96.4 680.8l-0.6 1.1M53.4 666l-0.6 1.1M61.5 581.4l-0.5 1.7M49.1 606.7l-1.2 0.8"/>
<path stroke="#58422e" stroke-opacity="0.6" stroke-width="2" d="M53.9 677.7l1 1M69.7 641.8l0.5 0.4M130.1 610.7l-0.3 0.5M108.2 605.9l-0.2 0.3M132 572.9l0.9 1M149.7 592l0.5 1M81.2 626.1l-0.8 0.7"/>
<path stroke="#58422e" stroke-opacity="0.6" stroke-width="2.5" d="M54.9 600.5l-0.8 0.7M82.8 675.2l-0.5 0.9"/>
<path stroke="#58422e" stroke-opacity="0.6" stroke-width="3" d="M58.8 593.3l-0 0.3"/>
<path stroke="#4f3a27" stroke-opacity="0.6" stroke-width="1.5" d="M134.6 668.9l-0.5 0.2M122.8 670.4l0.1 0.7M61.8 623.9l0.6 0.9M101.2 655l-1 0.2"/>
<path stroke="#4f3a27" stroke-opacity="0.6" stroke-width="2" d="M77.6 618.3l0.1 0M64.1 631.6l0.3 0.9M116.1 636.8l-0.3 0.1M75 622.3l-0.2 0.6M98.6 622.5l0.2 0.3M79.7 648l0.6 0.3"/>
<path stroke="#4f3a27" stroke-opacity="0.6" stroke-width="2.5" d="M86.5 584.8l0.4 0.4M79.5 599.5l0.3 0.2"/>
<path stroke="#4f3a27" stroke-opacity="0.6" stroke-width="3" d="M102.5 643l0.1 0.7M106.9 656.8l0.4 0.2"/>
<path stroke="#4f3a27" stroke-opacity="0.6" stroke-width="3.5" d="M128.5 634.6l-0 0.3"/>
<path stroke="#24170c" stroke-opacity="0.7" stroke-width="1" d="M123.7 610.9l-0.9 0M101.2 663.9l1 0.5M110.7 578l1.1 0.2M57 607.7l-1 0.5M42.5 583.2l0.4 0.9M76.6 601.2l-1.1 0.5"/>
<path stroke="#24170c" stroke-opacity="0.7" stroke-width="1.5" d="M115.5 651.4l-0.5 1M99.1 577l1.1 0.3M83.9 581.3l0.6 1.2M105.3 648l0.4 0.1M102.6 589.7l-0.8 0.2M104.5 611.4l-0.4 1.1M57.9 625.1l-1.7 1.3M62.1 611.6l-0.2 0.6M49.6 673.4l-1.5 0.6M151.3 644.8l0.9 1.7M43.5 680.6l0.4 0.1M107.4 587.2l-0.1 0.3M110.2 662.2l-1.5 0.8M80.7 662.6l0.6 1.4M127.6 615.5l-0.9 0.5M41.9 673.9l-1.4 0.6M86.2 613.4l0.1 1M134.1 595.2l-0.5 0.1M97.6 665.4l0.5 0"/>
<path stroke="#24170c" stroke-opacity="0.7" stroke-width="2" d="M81.6 607.2l-0 0.1M92.7 581.3l-0 0.2M134.7 675.5l-0.3 0M66.5 616.2l1 0.7M87.5 668.7l-0.2 1.7M43.1 632.9l-0.3 0.1M47.2 589.2l-1.4 0.1M116.6 581.4l-1.4 0.4M53.5 653l-0.8 0.7M92.1 631.4l-0.4 0.2M111 674.6l0 0.6M138.2 602.3l-0.3 0.1M74.2 640l-0.3 0.7M135.5 612.5l0.4 0.1M94 649l-0.5 0.1M138.4 656.8l-0.6 1.2M114.9 611.6l1.3 0.7M151.6 577.6l0 0.1M80 592.8l0.2 1.1"/>
<path stroke="#24170c" stroke-opacity="0.7" stroke-width="2.5" d="M133.2 640.9l-0.1 0.3M86.9 600l-1 0.5M95.5 626.9l0.1 0M62.4 641.2l-0.2 0M94.9 576.2l0.9 0.7M52.6 585l1 0.7M134.7 584.3l0.1 0M113.8 594.1l0.4 0.4M59.1 636.7l-0.1 0.1M73.9 575.7l0.2 0.3M119.7 625.7l0.6 0.3M137.9 647.2l-0.1 0.5M47.6 644.1l0.5 0.3M76.4 656.7l-1.1 0.5"/>
<path stroke="#24170c" stroke-opacity="0.7" stroke-width="3" d="M99.5 630.1l-0 0.1M64.2 672.9l0.5 0.4M41.6 614.1l-0.1 0.5M67.6 681l-0.4 0.1M103.6 617.3l0.1 0M114.3 622.3l-0.2 0M105.8 572l0.4 0.6M71.4 666l0.2 0.6M129.3 592.7l0.2 0.1"/>
<path stroke="#24170c" stroke-opacity="0.7" stroke-width="3.5" d="M101.6 638.8l0.1 0M130.7 622.7l0.2 0.2M147.5 678.1l0.1 0"/>
<path stroke="#2e1d10" stroke-opacity="0.7" stroke-width="1" d="M44.2 638l0 1.2M129.3 673.2l1.2 0.6M132.2 660.4l1 0.3M147.7 625.2l0.1 0.9M103.8 622.2l0.4 1.4M125 680.8l-1 0.1M70.4 611l0.3 0.9M69.1 592.3l1.1 0.3"/>
<path stroke="#2e1d10" stroke-opacity="0.7" stroke-width="1.5" d="M81.8 587.3l-0.1 1.1M149.6 661.1l-0.3 0.4M86.8 594.2l-0.7 0.7M124.9 601.4l0 0.3M52.8 631.2l1 0.6M130.4 600.7l0.1 0.5M142.6 600.6l0.9 0.4M89.3 576.1l-0.9 0.7M122.7 620.8l1.9 0.2M118.5 678l0.6 1.3M108 650.7l1.1 1.2M145.9 604.4l0.6 0.3M145.4 613.3l-0.8 0.9M93.7 602.6l0.3 0.2M67.5 649.3l-1 1.6M79.8 653.3l0.7 0.9M90.4 662.9l-0.7 0.2M139.6 668l0.4 0.8M58.8 617.8l0.6 0.7M118.2 662.4l-0.7 0.3M140.1 574.7l0.4 0.1M88.1 649l-1 0.9M147.1 632.9l-0.4 0.2M147.1 656.9l-0 0.5M130.6 679l1.1 0.6M106.1 599l0.8 1.6M124.3 582.9l-0.1 0.7M42.2 605.2l0.5 0.1M60.9 628.8l0.4 0.1"/>
<path stroke="#2e1d10" stroke-opacity="0.7" stroke-width="2" d="M86 608.6l0 0.2M129.8 655.8l-1 0.8M48.7 595.4l0.5 0.2M120.1 655l-0.5 0.3M78 679.6l0.1 0M72 673.8l0.3 0.3M99.9 646.6l0.4 1.1M133.8 618.5l-0.3 1.1M70.9 584.2l-1 0.5M140.4 608.3l0.2 0.6M45.3 618.3l-0.6 0.2M53.7 640.1l-0.7 1.1M59.3 653.8l1.6 0.7M43.4 658.7l0.1 0.1M104.6 681.8l0.6 0.7M132.7 631.1l1.4 0.2M52.4 611.5l-0 1M68.9 596.7l0.3 0.8M51.5 682.7l0.8 0.2M102 601.2l-0.3 0.2M50.5 649.2l1.4 0.1M95.4 593l0.1 0.5"/>
<path stroke="#2e1d10" stroke-opacity="0.7" stroke-width="2.5" d="M80.8 669.9l0.1 0M101.3 676.1l-0.4 0M120.1 574l-0.6 0.1M119.3 669.8l0.1 0M97.4 655.8l0.1 0.1M112.8 657.2l0.7 1M150.8 587.8l0.1 0.9M151.5 651.1l0.3 0.6M97 613.4l-0.8 0.3M113.5 572.3l0.4 0.6M67.5 577.8l0.1 0M115.7 674.4l0.4 0.2M149.3 610.6l1.2 0M41.7 592.5l0.1 0.1"/>
<path stroke="#2e1d10" stroke-opacity="0.7" stroke-width="3" d="M52.2 576.1l0.1 0M111.3 613.2l-0 0.1M105.7 639.2l-0.1 0.1M97 643.5l-0.7 0.1M112.2 583l0.4 0.5M86.8 659l-0 0.6M59.4 658.8l0.1 0.4M43.5 664.3l0.1 0M106.7 582.5l-0 0.1M90.9 589.9l-0.3 0.4"/>
<path stroke="#2e1d10" stroke-opacity="0.7" stroke-width="3.5" d="M91.1 622.2l0.2 0.2M45.5 601.2l0 0.3M108.2 668.9l-0.3 0.1M110.1 636.5l-0.1 0"/>
</g>
<g filter="url(#b0)">
<path stroke="#4a3420" stroke-opacity="0.6" stroke-width="0.5" d="M123 592.1l0 0.5M58.7 578.8l0.5 0.1M59.6 615.1l-0.5 0M121.2 649.1l0.6 0.3"/>
<path stroke="#4a3420" stroke-opacity="0.6" stroke-width="1" d="M123.6 617l0.3 0.2M118.6 606.5l0.2 0.6M124.7 607.7l0.8 0.4M88.9 653.3l-0.1 0M99.5 657.4l-0.2 0.2M88.9 658.3l-0.5 0.5M105.5 611.8l-0.1 0.2M78.2 640.2l-0.2 0.5M125.9 595.7l0.5 0.2M59.6 593l0.8 0.4M149.9 609.6l-0.1 0.1M60.5 610.3l0.1 0"/>
<path stroke="#4a3420" stroke-opacity="0.6" stroke-width="1.5" d="M61.5 602.2l0.1 0M43.1 647.2l-0.2 0.2M68.9 666.3l0.2 0.2M133 661.1l0.1 0M63.3 627.7l0.3 0.1M44.3 591.8l0 0.1M148.9 645.6l0.1 0M97.7 584.1l-0.3 0.2M69.5 643.3l0.1 0"/>
<path stroke="#6b523a" stroke-opacity="0.6" stroke-width="0.5" d="M84.6 664.9l-0.2 0.5"/>
<path stroke="#6b523a" stroke-opacity="0.6" stroke-width="1" d="M118.7 625.5l0.2 0M88.5 624.9l0.2 0.4M85 596.4l0.1 0.2M128.2 642.6l-0.1 0.7M147.5 606.3l0 0.1M45.2 595.7l-0 0.1M144.6 601.5l-0.1 0.1M66.2 647.5l-0.2 0M122 582.6l0.3 0.2M135.8 584.1l0.1 0"/>
<path stroke="#6b523a" stroke-opacity="0.6" stroke-width="1.5" d="M78.8 645.2l0.2 0.1M139 590.6l-0.1 0M86.3 611.2l0.1 0M110.9 605.5l0.2 0.2M93.9 627.9l0.1 0M133.6 607.8l0.1 0"/>
<path stroke="#5a422c" stroke-opacity="0.6" stroke-width="0.5" d="M55.4 602.4l0.5 0.3"/>
<path stroke="#5a422c" stroke-opacity="0.6" stroke-width="1" d="M98.5 631.6l-0.2 0.1M66.8 608.9l-0 0.2M138.1 607.9l-0.1 0.1M60.4 600.6l-0.1 0.5M70.8 607.6l0.2 0.5M136.9 654.1l-0.2 0.1M105.8 668.4l0.1 0.3M116.8 630.4l0.3 0M56.8 602.6l0.2 0.6M104.7 680.9l-0.1 0.1M63 627.9l0.1 0M93.3 600.9l0.1 0.6"/>
<path stroke="#5a422c" stroke-opacity="0.6" stroke-width="1.5" d="M87.2 575.3l0.2 0.1M149.8 632.9l-0.1 0M146.7 617.3l0.2 0M139.6 617.5l0.1 0M146.3 614.7l-0.2 0.2"/>
</g>
</g>
<g clip-path="url(#cp1)" fill="none" stroke-linecap="round">
<rect x="155.1" y="575.7" width="102.3" height="103.2" fill="#a6aac3"/>
<g filter="url(#b2)">
<path stroke="#e4e7f0" stroke-opacity="0.8" stroke-width="6" d="M195.9 664l0.3 0.1"/>
<path stroke="#e4e7f0" stroke-opacity="0.8" stroke-width="6.5" d="M222.1 614.1l-2.4 1.7"/>
<path stroke="#e4e7f0" stroke-opacity="0.8" stroke-width="7" d="M245.5 632.1l-1.9 2.4"/>
<path stroke="#e4e7f0" stroke-opacity="0.8" stroke-width="8" d="M224.8 647.5l2 1.4"/>
<path stroke="#e4e7f0" stroke-opacity="0.8" stroke-width="9.5" d="M231.5 606.1l-0.6 0.6"/>
<path stroke="#eceef4" stroke-opacity="0.8" stroke-width="5.5" d="M189.7 599.6l-0.7 0M158.4 619.9l-2.5 0.2M237.4 613.3l-0.8 2.1"/>
<path stroke="#eceef4" stroke-opacity="0.8" stroke-width="7" d="M238.8 627.6l-1.2 0.6"/>
<path stroke="#eceef4" stroke-opacity="0.8" stroke-width="9.5" d="M203.7 614.9l0.1 0.1"/>
</g>
<g filter="url(#bl)">
<path stroke="#8c7a65" stroke-opacity="0.5" stroke-width="4" d="M227.7 634.4l-2.8 0M182.4 608.5l-0.8 2.4M209.6 649.8l-0.2 2.9M154.1 648l-1.1 1.7M248.5 583.3l-0.6 2M234.4 589.5l-1.7 1.3"/>
<path stroke="#8c7a65" stroke-opacity="0.5" stroke-width="4.5" d="M190.5 582.4l1.6 2.2M257.7 636.6l0.4 2.3M206.2 589.6l1.2 2M214.3 654l-2.7 1.8M228 574.2l2.3 1M189.9 660.8l1.5 0.3M248.6 617.5l0.9 1.9"/>
<path stroke="#8c7a65" stroke-opacity="0.5" stroke-width="5" d="M202.8 672.6l0.2 2M172.1 680.1l-2.5 0.5M203.1 574.3l0.8 0.9M254.8 580.8l1.5 2.2M236.5 682.2l1.9 0"/>
<path stroke="#8c7a65" stroke-opacity="0.5" stroke-width="5.5" d="M237.4 585.9l-1.1 1M210.8 672.2l1 0M194 608.6l0.1 1.5M243.8 653l1.8 0.9M195.5 664.9l1.1 0.2M209.4 626.5l0.2 0.6M190 633.9l0.1 2M218 655.7l0.4 1.1M219.4 604.3l0 1.8M160 584.6l-0.5 1.3M196.4 651.4l-1 1.2M254.5 614.7l-2 0.3"/>
<path stroke="#8c7a65" stroke-opacity="0.5" stroke-width="6" d="M259.9 642.8l0.2 0.2M167 672.3l-0.8 0.9M215.1 667.5l0.3 0.2M232.6 647.9l0 0.1"/>
<path stroke="#8c7a65" stroke-opacity="0.5" stroke-width="6.5" d="M220.1 623.1l-0.5 0.4M258.1 606.6l0.9 0M162.5 652.7l-0.2 0.5M184.3 593.2l0.1 0M253.1 572.4l-0.1 0.1"/>
<path stroke="#8c7a65" stroke-opacity="0.5" stroke-width="7.5" d="M160.7 600.4l-0 0.1M169.4 623l0.1 0"/>
<path stroke="#7a6852" stroke-opacity="0.5" stroke-width="4" d="M186.2 586.1l-0.7 1.9M241.7 587l1.3 2.2M196.8 573.1l-2 0.4M218.1 612.6l1.4 2.2M167.6 659.8l-0.7 2.4M190.2 648.3l1.3 2.6M233.5 652.3l3.2 1.3M153 598l-0.3 2M180 583.3l2.7 1.5M237.8 592.1l3.5 0.5"/>
<path stroke="#7a6852" stroke-opacity="0.5" stroke-width="4.5" d="M181.8 576.9l-1.1 1.2M248.5 599.4l-3 0.2M232 622.9l-0.8 1.8M179 652l1.7 1.8M161.2 675.1l0.5 1.8M157.7 662.1l-0.3 1.7"/>
<path stroke="#7a6852" stroke-opacity="0.5" stroke-width="5" d="M256.8 670l1.3 0.4M234.4 612.4l0.2 1.6M239.5 617l-1 0.9M199.4 646.5l-0.3 1.5M232.4 593.7l-1.2 0.1M181.7 615.7l1.3 1.4M249.2 661.5l-0.3 1.5M222.4 608.1l-0.1 1.1"/>
<path stroke="#7a6852" stroke-opacity="0.5" stroke-width="5.5" d="M216.6 579.5l0.6 1.2M193.5 602.8l0.5 0.1M172 618.5l-0.8 1.5M255.8 661.8l0.6 0.4M196.6 638.6l1 1.8M155.8 674.9l0.2 0.7M257.5 632.3l-1.4 0.3M228.3 617.6l1 0.5M153.2 610l1.1 0.9"/>
<path stroke="#7a6852" stroke-opacity="0.5" stroke-width="6" d="M238.6 663.8l0.4 1.1M215.6 660.4l0.4 0.2M188.4 579.4l-0.3 0.1M199 610.1l1 0.1M163.9 635.8l1.3 0.8M243 672.2l-1.1 1.3M236.7 624.3l-0.5 1.3M249.1 636.3l1.3 0.3M192.9 628.3l-0.9 0.8"/>
<path stroke="#7a6852" stroke-opacity="0.5" stroke-width="6.5" d="M243.5 659.6l0.8 0.2M245.2 622.9l0.7 0.1M210.1 616.2l0.1 0.1M168 576l0.1 0.1M188.1 610.5l0.9 0.5M213.5 641.2l0.3 0.2"/>
<path stroke="#7a6852" stroke-opacity="0.5" stroke-width="7" d="M189.7 669.7l-0.1 0.7M260 615l-0.1 0.2M174.4 657.7l0.2 0.6M168 666.4l-0.5 0.5M238.6 639.3l-0.7 0.3"/>
<path stroke="#7a6852" stroke-opacity="0.5" stroke-width="7.5" d="M257.3 594.2l-0.2 0"/>
<path stroke="#85725c" stroke-opacity="0.5" stroke-width="3.5" d="M166.6 625.5l-2.7 1.5M243.8 608l2.8 0.8"/>
<path stroke="#85725c" stroke-opacity="0.5" stroke-width="4" d="M176.2 618.1l1.5 1.3M179.6 634.5l2.6 0.1M167 595.3l-2.2 0.9M200.3 630l1.8 2.5M201.4 657.6l-1.2 1.8M227.1 583.7l-2 0.3M233 635.8l1.2 1.7"/>
<path stroke="#85725c" stroke-opacity="0.5" stroke-width="4.5" d="M159.1 608.7l-0.9 1.8M190.5 616l-2.5 0M208.5 605.7l-1.8 1M186.4 598.3l1.7 0.4M188.6 573.2l-2.4 0.6M223.7 655.5l-0.8 3.1M151.8 677.9l1.1 3M195.7 679.3l0.9 2.2M169.7 597.8l1.9 0.8"/>
<path stroke="#85725c" stroke-opacity="0.5" stroke-width="5" d="M259.4 588.1l-0.7 1.2M236.8 597.5l2.2 0.6M204.2 643.5l1.3 2.1M243 613.1l-0.9 1.2M162.8 661l0.1 2.7M259 674.3l0.7 1.1M186.1 625.4l1 1.2M209.2 594.7l2.3 0.7M239.8 656l-1.9 0.4"/>
<path stroke="#85725c" stroke-opacity="0.5" stroke-width="5.5" d="M210.8 677.7l0.6 0.4M167.2 602.1l0.1 1.3M250.4 675.2l1.5 0.5M224.2 603.9l-0 0.5M221 595l2 1.2M256.8 573.5l1.8 0.3M198.5 614.8l-0.4 0.9M251.1 625.7l-0.7 0.4"/>
<path stroke="#85725c" stroke-opacity="0.5" stroke-width="6" d="M157.2 603.7l0.1 0.2M208.9 640.7l-0.6 1.2M173.8 626.1l-0.3 1.5M185.6 654.4l-0.4 1.2M217.6 677.8l-0.3 0.2M198.5 619.2l0.5 1.6M232.6 658l-0.2 0.2M253.9 681.5l-0.9 1.5M192.5 639.4l0.4 0.5"/>
<path stroke="#85725c" stroke-opacity="0.5" stroke-width="6.5" d="M252.3 651.6l0 0.5M243.8 581.7l-0.2 0.1M200.6 583l0.1 0M155.9 581.1l0.3 0.8M182.3 622.5l-0.3 0.9"/>
<path stroke="#85725c" stroke-opacity="0.5" stroke-width="7" d="M237.2 670.6l0.2 0.1"/>
<path stroke="#85725c" stroke-opacity="0.5" stroke-width="7.5" d="M174.7 647.7l-0.1 0.2M207.6 580.6l0.1 0.2M259.5 599.1l0.2 0.1"/>
<path stroke="#9a8a77" stroke-opacity="0.55" stroke-width="3.5" d="M165.9 646.3l2.2 1.8M248.4 588.1l0.8 2.2"/>
<path stroke="#9a8a77" stroke-opacity="0.55" stroke-width="4" d="M205.6 620.8l-2.4 0.8M154 584.9l-0.2 1.5M216.8 571.7l1.9 1.2M233.7 604.5l1 1.4M186 630.6l-1.8 0.6"/>
<path stroke="#9a8a77" stroke-opacity="0.55" stroke-width="4.5" d="M153.2 639.7l-0.8 1.8M160.5 589.3l-1.1 2.2M246.2 667.3l1.2 0.3"/>
<path stroke="#9a8a77" stroke-opacity="0.55" stroke-width="5" d="M244.1 574.6l-1.6 1M233.8 681.1l-1.6 1M239.9 605.6l1.7 1M219.5 586.1l0.9 0.7M260.4 618.9l-1.3 1.7M244.2 591.7l1.3 1.2M236.1 578.5l-0.1 0.6M153.1 661.3l0 1.1"/>
<path stroke="#9a8a77" stroke-opacity="0.55" stroke-width="6" d="M250.2 594.2l0.3 0.4M155.2 656.6l-0.5 0.1M190.9 592.4l0 0.8M153 627.5l0.4 0.7"/>
<path stroke="#9a8a77" stroke-opacity="0.55" stroke-width="6.5" d="M234.3 573.2l-0.1 0.1M159.8 658.6l0.4 0.1"/>
<path stroke="#9a8a77" stroke-opacity="0.55" stroke-width="7" d="M162 681.9l0.1 0"/>
<path stroke="#a19281" stroke-opacity="0.55" stroke-width="3.5" d="M153 665.2l-0.2 2.4M217.5 650.1l1.8 1.2M195.1 674.3l-2.8 1.2"/>
<path stroke="#a19281" stroke-opacity="0.55" stroke-width="4" d="M245 639.6l0.5 1.7M188.3 674.6l-1.6 0.9M203.1 666.9l0.1 2.2M238.2 675.9l2.2 1.2M215.2 599.6l1.9 0.4M248.1 646l0.7 1.9M163.7 606l-1.9 1.9"/>
<path stroke="#a19281" stroke-opacity="0.55" stroke-width="4.5" d="M169.3 639.8l-0.4 1.8M174.5 664.6l0.9 0.5M253 657.2l-1 0.4M247.9 678.9l-1.1 0.3M167.1 677.7l-1.3 1.5"/>
<path stroke="#a19281" stroke-opacity="0.55" stroke-width="5" d="M200.4 602.9l-0.4 0.8M213 587.4l0.3 1M229.6 609.5l0.3 0.7M166.1 631l-1.5 0.1"/>
<path stroke="#a19281" stroke-opacity="0.55" stroke-width="5.5" d="M253.6 641l-0.2 0.1M153.2 576.8l-0.1 0.2"/>
<path stroke="#a19281" stroke-opacity="0.55" stroke-width="6" d="M188.2 644.1l0.1 0M242.8 645.1l-0.1 0.2M220.3 669.2l-0.4 0.4M203.3 587.4l0.3 0M204.4 638.7l0.5 0.5"/>
<path stroke="#a19281" stroke-opacity="0.55" stroke-width="6.5" d="M228.5 640.5l0.3 0.2M195.4 580.2l0.2 0.1"/>
<path stroke="#a19281" stroke-opacity="0.55" stroke-width="7" d="M205.1 612.7l-0 0.1M156.3 623.8l0.1 0"/>
<path stroke="#b0a392" stroke-opacity="0.8" stroke-width="3" d="M252.1 609.6l-1 1.7M178 581.5l-1.9 1.2"/>
<path stroke="#b0a392" stroke-opacity="0.8" stroke-width="4" d="M176.8 613.6l-1.9 0.7M172.9 673.2l-0.5 0.8M175.2 576.8l-1.4 1.4"/>
<path stroke="#b0a392" stroke-opacity="0.8" stroke-width="4.5" d="M229.4 664.8l-0.2 0.6M178.2 588.2l1.1 0.5"/>
<path stroke="#b0a392" stroke-opacity="0.8" stroke-width="5" d="M220.4 640l0.1 0.4"/>
<path stroke="#9f907d" stroke-opacity="0.8" stroke-width="3" d="M224 678.8l1.8 2.5"/>
<path stroke="#9f907d" stroke-opacity="0.8" stroke-width="3.5" d="M209.8 574.3l1 0.5"/>
<path stroke="#9f907d" stroke-opacity="0.8" stroke-width="4" d="M208.3 635.7l-0.5 0.2"/>
<path stroke="#9f907d" stroke-opacity="0.8" stroke-width="4.5" d="M229 651.1l-1.1 0.7"/>
<path stroke="#a89a88" stroke-opacity="0.8" stroke-width="3.5" d="M179.4 627.3l0.6 1.1"/>
<path stroke="#a89a88" stroke-opacity="0.8" stroke-width="4" d="M215.4 627.8l0.6 0.1"/>
<path stroke="#a89a88" stroke-opacity="0.8" stroke-width="5.5" d="M182.6 643.1l-0.1 0.3"/>
<path stroke="#878fb4" stroke-opacity="0.8" stroke-width="2.5" d="M216.4 608.2l-0.4 2.3"/>
<path stroke="#878fb4" stroke-opacity="0.8" stroke-width="3" d="M224.1 646.1l1.6 0.7M206.9 681.6l1.6 0.7"/>
<path stroke="#878fb4" stroke-opacity="0.8" stroke-width="3.5" d="M172.9 585.5l1.9 1.4M206.9 659l1 0.8M160.3 669.5l-1.6 0.4M230.5 673.8l1.8 1.5M183.2 677.9l-1.1 2.1"/>
<path stroke="#878fb4" stroke-opacity="0.8" stroke-width="4" d="M210.4 663.5l0.7 0.4M153.1 619.4l0.7 0.8M202.5 678.5l-0.3 0.7M253.3 601.7l-0.7 0.9M161.8 621.4l-0.1 0.8M166.8 589.1l-0.1 0.7M161.7 628.1l-0.8 0"/>
<path stroke="#878fb4" stroke-opacity="0.8" stroke-width="4.5" d="M248.1 575.1l1.1 0.6M220.1 633.5l-0.4 0.3M250.1 631l0.1 0.1M258.6 626l-1.6 0.4M166.2 616.4l-0.5 0.9M158 638.5l0.6 0.7"/>
<path stroke="#878fb4" stroke-opacity="0.8" stroke-width="5" d="M195.7 589.5l0.2 0.5M195.7 658.2l-0.8 0.5M184 648.2l0.4 0.1M223.1 617.2l-0 1.6M177.2 676.4l0.9 1.1M232.7 627.6l0.6 1.3"/>
<path stroke="#878fb4" stroke-opacity="0.8" stroke-width="5.5" d="M223.9 590.6l-0.5 0.2M184.7 638.4l0.3 0.1"/>
<path stroke="#878fb4" stroke-opacity="0.8" stroke-width="6" d="M170.4 631.1l-0.1 0.1"/>
<path stroke="#9199bc" stroke-opacity="0.8" stroke-width="3" d="M224 628.9l-1.1 1.9M253.9 619.4l1.5 1.2M163.5 642l0.8 2.4"/>
<path stroke="#9199bc" stroke-opacity="0.8" stroke-width="3.5" d="M163.7 573.8l-0.9 0.9M182.3 674.1l-1.6 0M240.7 631.7l1.3 2"/>
<path stroke="#9199bc" stroke-opacity="0.8" stroke-width="4" d="M178 572.2l-1.2 1.6"/>
<path stroke="#9199bc" stroke-opacity="0.8" stroke-width="4.5" d="M167 608.7l-0.2 0.7M211.1 610.2l0.3 0.4M225.1 578.4l-0 0.1M214.4 621.8l0.1 1.4M202.3 651.1l-0.3 0.3"/>
<path stroke="#9199bc" stroke-opacity="0.8" stroke-width="5" d="M222.8 665.5l-0.1 0.1M167.3 580.2l0 0.3M177.3 638.3l0.3 0.9M230.5 601.3l0.4 0.6"/>
<path stroke="#9199bc" stroke-opacity="0.8" stroke-width="5.5" d="M169.1 655.5l0.1 0M180.8 662.8l0.1 0.3"/>
<path stroke="#9199bc" stroke-opacity="0.8" stroke-width="6" d="M160.7 634.9l-0.4 0.3"/>
<path stroke="#9199bc" stroke-opacity="0.8" stroke-width="6.5" d="M220.1 645.6l0.1 0"/>
<path stroke="#9ba3c4" stroke-opacity="0.8" stroke-width="2.5" d="M157.2 632.8l-2.1 0.1"/>
<path stroke="#9ba3c4" stroke-opacity="0.8" stroke-width="3" d="M260.5 664.2l-1.2 1.6"/>
<path stroke="#9ba3c4" stroke-opacity="0.8" stroke-width="3.5" d="M195.3 643.8l-0.9 1.1M190.5 681.1l-2.2 0.2M257.8 647.1l-2.1 1.5M214.6 593.3l0.8 2.6M224.9 613.7l1.5 1"/>
<path stroke="#9ba3c4" stroke-opacity="0.8" stroke-width="4" d="M226.5 671l-0.4 1.1M154.2 592.1l-1 1.3M196 670.3l0.8 0.5M198.6 594.5l-2.6 0.1"/>
<path stroke="#9ba3c4" stroke-opacity="0.8" stroke-width="4.5" d="M238 647.2l-0.1 0.9M178.7 595.5l-0.8 0.4M208.7 600.8l1.8 0M195.4 625.8l0 0.8M180.2 668.5l0.5 0.4M159.8 577.2l-0.1 0.9M173.9 652.5l-0.3 1.6"/>
<path stroke="#9ba3c4" stroke-opacity="0.8" stroke-width="5" d="M171.9 602.6l0.3 0.7M178.4 604l-0.6 0.7"/>
<path stroke="#9ba3c4" stroke-opacity="0.8" stroke-width="5.5" d="M159.8 648l-0 0.4"/>
<path stroke="#9ba3c4" stroke-opacity="0.8" stroke-width="6" d="M236.4 633.2l0 0.2"/>
<path stroke="#eef0f6" stroke-opacity="0.8" stroke-width="4" d="M158.3 594.6l-0 1.3"/>
<path stroke="#eef0f6" stroke-opacity="0.8" stroke-width="5.5" d="M183.8 603.6l0.8 0M190.4 621.3l-0.4 0.3"/>
<path stroke="#eef0f6" stroke-opacity="0.8" stroke-width="6" d="M257.5 655.7l0.1 0.4"/>
<path stroke="#f5f6fa" stroke-opacity="0.8" stroke-width="4" d="M195.4 631.6l1.4 0.2"/>
<path stroke="#f5f6fa" stroke-opacity="0.8" stroke-width="4.5" d="M250.4 669l1 2"/>
<path stroke="#f5f6fa" stroke-opacity="0.8" stroke-width="5" d="M202.2 597.6l0.3 0.7"/>
<path stroke="#f5f6fa" stroke-opacity="0.8" stroke-width="5.5" d="M172.1 591.9l0.1 0.2"/>
<path stroke="#e6e9f2" stroke-opacity="0.8" stroke-width="3" d="M173.9 635.6l-2 0.3"/>
<path stroke="#463322" stroke-opacity="0.92" stroke-width="2.5" d="M254.8 581.1l1.4 2.2"/>
<path stroke="#463322" stroke-opacity="0.92" stroke-width="3" d="M160.9 599.7l-0.4 1.8M233.5 652.3l1.7 0.7"/>
<path stroke="#463322" stroke-opacity="0.92" stroke-width="3.5" d="M166.4 595.2l-1.9 0.8M225.1 602.8l-0.2 3.2M237 624.1l-0.7 2M180.3 583.2l2.1 1.1M193.2 627.9l-2.2 1.9"/>
<path stroke="#463322" stroke-opacity="0.92" stroke-width="4" d="M191.7 583.1l0.8 1.1M239.6 663.8l0.5 1.3M181.9 577.3l-1.2 1.4M227.8 574.9l2.1 0.9M251.5 625.5l-1.6 0.9"/>
<path stroke="#463322" stroke-opacity="0.92" stroke-width="4.5" d="M194.1 602.1l1 0.2M242.3 588.1l0.2 0.3M206.7 590.7l0.5 0.8M187.5 597.3l0.6 0.1M171.2 680.7l-2.4 0.5M198.9 619.2l0.6 1.7M232.4 594.4l-1.9 0.2M182 616.4l0.2 0.2M153.3 610l0.6 0.5"/>
<path stroke="#463322" stroke-opacity="0.92" stroke-width="5" d="M215.3 660.4l1.6 0.9M196.3 573l-1.5 0.3M201.1 581.4l0.5 1.8M246.8 599.4l-0.3 0"/>
<path stroke="#463322" stroke-opacity="0.92" stroke-width="5.5" d="M239.1 617.9l-0.3 0.2M160.7 675.1l0.2 0.6"/>
<path stroke="#463322" stroke-opacity="0.92" stroke-width="6" d="M186.1 587.1l-0.3 0.7M244.6 653.7l0.3 0.2M198.4 615l-0.2 0.6"/>
<path stroke="#463322" stroke-opacity="0.92" stroke-width="6.5" d="M153 648.1l0.1 0M168.8 576.3l0.1 0.1M228.8 617.7l0.2 0.1"/>
<path stroke="#5a422d" stroke-opacity="0.92" stroke-width="2.5" d="M231.3 622.1l-0.9 2.2M227.6 583.5l-2.5 0.4"/>
<path stroke="#5a422d" stroke-opacity="0.92" stroke-width="3" d="M200.3 629.9l1.3 1.8M156 602.8l1.4 2.7M188.5 573.8l-2.4 0.7"/>
<path stroke="#5a422d" stroke-opacity="0.92" stroke-width="3.5" d="M252.3 651.3l0.1 1.6M208.4 606l-2.3 1.3M222.3 595.3l1.3 0.8M207.5 579.2l0.5 2M186.7 625.1l1.6 1.9M208.5 595.4l2.9 0.9"/>
<path stroke="#5a422d" stroke-opacity="0.92" stroke-width="4" d="M166.1 625.5l-0.9 0.5M164 636.8l1.6 1M216.5 579.6l0.7 1.4M219 676.3l-2 1.9M168.4 660.5l-0.6 2.1M168 666.1l-0.9 0.9M238.9 638.4l-1.9 1M254 615.1l-1.4 0.2"/>
<path stroke="#5a422d" stroke-opacity="0.92" stroke-width="4.5" d="M259.4 588.3l-0.4 0.7M256.4 670l2 0.6M185.8 654.1l-0.4 1.2M247.9 583.7l-0.3 0.8M184.5 593.3l0.7 0.9M160.1 584.8l-0.5 1.2M170.5 597.8l0.4 0.2M157.6 662.3l-0.1 0.9"/>
<path stroke="#5a422d" stroke-opacity="0.92" stroke-width="5" d="M242.4 659.1l1.2 0.4M238.1 586l-1.4 1.4M202.6 672.4l0.1 1.5M213.1 654.5l-1.2 0.8M182.3 622.2l-0.6 1.8"/>
<path stroke="#5a422d" stroke-opacity="0.92" stroke-width="5.5" d="M189.4 616.8l-1 0M255.9 662.6l0.5 0.3M243.1 672.9l0.1 0M199.2 646.4l0.1 0M257 632.2l0.1 0M253.6 572.3l-0.2 0.4M248.1 617.1l0.6 1.2M213.8 641.5l0.4 0.2"/>
<path stroke="#5a422d" stroke-opacity="0.92" stroke-width="6" d="M155.9 675.4l0.2 0.5M152.5 598.3l-0.1 0.9"/>
<path stroke="#5a422d" stroke-opacity="0.92" stroke-width="6.5" d="M169.4 623.5l0.1 0.2"/>
<path stroke="#4f3926" stroke-opacity="0.92" stroke-width="3" d="M227.5 634.8l-2.1 0M188.9 668.1l-0.3 3M250.6 675.7l2.3 0.8"/>
<path stroke="#4f3926" stroke-opacity="0.92" stroke-width="3.5" d="M210.2 676.5l2.7 2M244 581.2l-2.4 1.7M209.2 640.6l-1 2M209.4 615.5l1.4 1.6M258.8 673.5l1.8 2.8M195.8 679.4l0.7 1.8M232.3 636.1l1.2 1.7M238.5 592.7l1.9 0.3"/>
<path stroke="#4f3926" stroke-opacity="0.92" stroke-width="4" d="M218.2 612.9l0.6 0.8M257.4 573.8l1.7 0.2M173.6 626.2l-0.3 1.7M163.1 652l-0.8 2.2M244.7 608.8l1.5 0.4"/>
<path stroke="#4f3926" stroke-opacity="0.92" stroke-width="4.5" d="M180 634.6l2.1 0.1M243.6 613.3l-0.7 0.9M209.9 650.5l-0 0.6M190.6 648.9l0.3 0.6M214.2 666.6l0.9 0.6M155.4 581l0.5 1.2M253.7 681.3l-0.8 1.2M192.1 638.4l0.9 1.2M232.3 646l0.4 2.1"/>
<path stroke="#4f3926" stroke-opacity="0.92" stroke-width="5" d="M199.3 609.9l0.4 0.1M182.3 609.3l-0.3 0.9M204.7 644.9l0.2 0.3M259.3 614.7l-0.2 0.4M201.8 658.1l-0.6 1M162.9 662l0.1 1.4M152.8 679.4l0.5 1.4M218.5 603.7l0 2M239.5 656.4l-0.3 0.1"/>
<path stroke="#4f3926" stroke-opacity="0.92" stroke-width="5.5" d="M257.5 636.9l0.2 1.1M171.2 619l0.1 0M236.6 670.7l0.2 0.2M197 639.3l0.3 0.6M190.6 633.7l0.1 1.3M218.9 655.3l0.1 0.4"/>
<path stroke="#4f3926" stroke-opacity="0.92" stroke-width="6.5" d="M194.3 609l0 0.4M174.5 648.1l-0.2 0.2"/>
<path stroke="#644c35" stroke-opacity="0.92" stroke-width="3" d="M237.5 597.2l1.8 0.5M178.9 651.7l1.7 1.8M224.3 655.7l-0.5 2.2M188.7 661.5l2.3 0.4"/>
<path stroke="#644c35" stroke-opacity="0.92" stroke-width="3.5" d="M259.3 642.2l0.9 1M209.2 671.9l3.1 0.1M174.3 657.2l0.3 1.3M232.5 657.7l-1 1.4M258.9 598.4l2.3 0.6M233.9 588.9l-1 0.8"/>
<path stroke="#644c35" stroke-opacity="0.92" stroke-width="4" d="M175.9 618.3l1.6 1.4M159.6 609.5l-0.8 1.6M203.6 573.5l1.1 1.3M187.7 610.4l0.8 0.4M236.7 681.6l2.4 0"/>
<path stroke="#644c35" stroke-opacity="0.92" stroke-width="4.5" d="M166.9 602.7l0 0.9M195.4 664.9l1.8 0.3M208.8 626.8l0.4 1.5M258.3 593.2l-1.5 0.2"/>
<path stroke="#644c35" stroke-opacity="0.92" stroke-width="5" d="M258.9 607.3l0.6 0M167.4 671.6l-0.8 1M245.4 622.6l0.1 0M249 636.7l1.4 0.3M248.8 661.3l-0.3 1.8"/>
<path stroke="#644c35" stroke-opacity="0.92" stroke-width="5.5" d="M188.7 578.9l-0.6 0.1M234 613l0.2 1.2M222.1 609.4l-0 0.1"/>
<path stroke="#644c35" stroke-opacity="0.92" stroke-width="6" d="M220.2 622.4l-0.7 0.5M196.5 652.6l-0.1 0.1"/>
<path stroke="#6f5842" stroke-opacity="0.88" stroke-width="3" d="M200.1 602l-1.4 2.7M153.2 639.9l-0.7 1.5M212 587.1l0.4 1.2M152.9 665.7l-0.1 1.2M240.4 606l0.9 0.5M253.3 656.7l-1.9 0.9M202.8 667.4l0 1.1M194.7 675.3l-1.9 0.8"/>
<path stroke="#6f5842" stroke-opacity="0.88" stroke-width="3.5" d="M244.7 574.5l-1.3 0.8M230.3 609l0.2 0.6M238.3 676.8l1.2 0.7M247.6 645.6l0.6 1.7M217.2 650l2.2 1.4"/>
<path stroke="#6f5842" stroke-opacity="0.88" stroke-width="4" d="M205.2 620.5l-1 0.3M165.5 646.5l1.3 1.1M190.8 593.3l0 0.7M215.2 600.3l0.7 0.2M235.1 572.2l-0.5 1M245.2 592.1l0.4 0.4M235.5 578.9l-0.2 1"/>
<path stroke="#6f5842" stroke-opacity="0.88" stroke-width="4.5" d="M174.3 664.9l0.9 0.5M217.5 572.6l0.6 0.4"/>
<path stroke="#6f5842" stroke-opacity="0.88" stroke-width="5" d="M165.1 630.9l-0.6 0"/>
<path stroke="#6f5842" stroke-opacity="0.88" stroke-width="5.5" d="M205.1 639.4l0.2 0.2M234 605.1l0.4 0.7"/>
<path stroke="#7a634d" stroke-opacity="0.88" stroke-width="2.5" d="M205.5 611.2l-0.1 2M157.3 624.1l-1.5 0.1M218.8 585.8l1.4 1.1M226.7 640.1l2 1.3"/>
<path stroke="#7a634d" stroke-opacity="0.88" stroke-width="3" d="M152.9 660l0 3.1"/>
<path stroke="#7a634d" stroke-opacity="0.88" stroke-width="3.5" d="M188 643.1l0.9 0.7M202.7 587.6l0.9 0.1"/>
<path stroke="#7a634d" stroke-opacity="0.88" stroke-width="4" d="M220.2 668.8l-1.6 1.4M232.3 680.8l-0.2 0.1M246.3 667l1.4 0.3M159.1 657.9l0.8 0.2M166 677.2l-0.8 0.9"/>
<path stroke="#7a634d" stroke-opacity="0.88" stroke-width="4.5" d="M162.9 681.9l-1.7 0.2M153.8 576.8l-0.2 0.6"/>
<path stroke="#7a634d" stroke-opacity="0.88" stroke-width="5" d="M254.2 639.9l-0.6 0.2"/>
<path stroke="#7a634d" stroke-opacity="0.88" stroke-width="5.5" d="M245.2 640.7l0.1 0.5M160 590.7l-0.2 0.5"/>
<path stroke="#644d38" stroke-opacity="0.88" stroke-width="2.5" d="M243.1 644.7l-0.5 1.6M164 605.6l-1.6 1.6M186.4 630.5l-2.3 0.8"/>
<path stroke="#644d38" stroke-opacity="0.88" stroke-width="3" d="M168.9 639.9l-0.2 1.1M153.7 585.2l-0.3 2.1M188.1 674.7l-1.6 0.9"/>
<path stroke="#644d38" stroke-opacity="0.88" stroke-width="3.5" d="M261.2 619.1l-1.1 1.5M194.5 579l1.5 1.2"/>
<path stroke="#644d38" stroke-opacity="0.88" stroke-width="4" d="M249.4 593.7l0.1 0.1M247.7 679.7l-0.1 0M153.1 627.5l0.3 0.4"/>
<path stroke="#644d38" stroke-opacity="0.88" stroke-width="5" d="M156 656.1l-1.3 0.4M249.4 589.5l0.2 0.6"/>
<path stroke="#54402c" stroke-opacity="0.85" stroke-width="1.5" d="M259.1 586.8l-0.9 1.5M170.2 623.3l0.7 1.8"/>
<path stroke="#54402c" stroke-opacity="0.85" stroke-width="2" d="M244.3 671.5l-0.8 0.9M195.1 664.4l2.3 0.4M163.8 652.6l-0.6 1.6M219.6 654.4l0.6 1.6M232.6 635.4l0.8 1.1"/>
<path stroke="#54402c" stroke-opacity="0.85" stroke-width="2.5" d="M190.7 583.6l1.2 1.7M252.6 650.2l0.1 1.7M190.1 668.7l-0.1 1.1M204.5 644.6l0.9 1.5M173.4 618.3l-1.2 2.2M254.6 662.6l1.6 1M239 584.9l-1.6 1.6M201.5 658.6l-0.5 0.7M257.6 608l1.8 0M208.6 651l-0.1 1M243.2 623.5l1.1 0.2M199.7 620.7l0.4 1.3M199.8 647.4l-0.2 0.9M232.8 653.4l1.4 0.6M213.8 665.8l0.6 0.4M247.8 617.3l0.3 0.7"/>
<path stroke="#54402c" stroke-opacity="0.85" stroke-width="3" d="M180.1 633.7l0.5 0M241.9 612.8l-0.2 0.3M196.6 572.7l-1.4 0.3M243.6 654.5l0.7 0.3M167.4 667.4l-0.2 0.2M232.8 659.4l-0.2 0.3M208 580.9l0.1 0.2M184.4 594l1.3 1.6M230.3 618.9l0.2 0.1M210.5 596.1l0.9 0.3M190.2 660l0.4 0.1"/>
<path stroke="#54402c" stroke-opacity="0.85" stroke-width="3.5" d="M182.5 608.4l-0.5 1.4M201.4 631.1l0.9 1.3M179.2 651.2l0.8 0.9M182.6 622.6l-0.4 1.1M169 597.5l0.5 0.2"/>
<path stroke="#54402c" stroke-opacity="0.85" stroke-width="4" d="M198.9 609.6l0.1 0M165.2 635.7l0.3 0.2M166.7 671.3l-0.2 0.3M257.5 593.9l-0.3 0M152.8 647.9l-0.2 0.3M224.7 657.9l-0 0.1M180.5 616l0.7 0.8"/>
<path stroke="#54402c" stroke-opacity="0.85" stroke-width="4.5" d="M208.6 641.6l-0.2 0.3M173.5 658.8l0 0.1M186.8 573.5l-0.3 0.1"/>
<path stroke="#54402c" stroke-opacity="0.85" stroke-width="5" d="M208.2 606.8l-0.1 0.1"/>
<path stroke="#3e2b1b" stroke-opacity="0.85" stroke-width="1.5" d="M209.9 676.6l1.6 1.2M167.6 575.1l1.5 1.1"/>
<path stroke="#3e2b1b" stroke-opacity="0.85" stroke-width="2" d="M250.1 675.9l1.4 0.5M189.4 615.7l-2.2 0M193.7 609.1l0.1 2.6M245.3 608.7l1.7 0.5M160.2 601.3l-0.3 1.7M153.6 598.9l-0.2 1.2"/>
<path stroke="#3e2b1b" stroke-opacity="0.85" stroke-width="2.5" d="M190.1 578.9l-1.5 0.4M165.8 594.7l-2.2 0.9M241.1 587.2l0.5 0.9M208.7 673.1l2.5 0M256.1 573.4l1.4 0.2M237.2 625.1l-0.3 0.9M256.2 633.4l-0.9 0.2M249.3 662.5l-0.2 0.9M212.6 641.6l0.9 0.4"/>
<path stroke="#3e2b1b" stroke-opacity="0.85" stroke-width="3" d="M241.9 660.5l0.5 0.2M215.2 659.3l1 0.6M165.6 625.2l-0.9 0.5M217.1 580.6l0.2 0.4M222 595l1.5 0.9M256.7 669.4l1.9 0.6M207.8 625.7l0.5 1.7M219.7 677.7l-1.4 1.3M198.4 638.7l0.1 0.2M185.9 625.4l0.4 0.5M196.8 651.3l-0.2 0.2M234.7 589.8l-0.4 0.3M238.3 592l0.9 0.1M192.2 628.5l-1.1 1M237.6 681.3l1.5 0"/>
<path stroke="#3e2b1b" stroke-opacity="0.85" stroke-width="3.5" d="M220.5 622l-0.2 0.2M201.8 672.5l0.1 0.9M228.5 575.1l0.1 0M185.3 654.6l-0.3 0.8M156.4 581.7l0.5 1.2"/>
<path stroke="#3e2b1b" stroke-opacity="0.85" stroke-width="4" d="M205.5 591.9l0.4 0.6M169.6 679.5l-1.1 0.2M252.1 573.2l-0.2 0.3M251.3 626.2l-0.8 0.4"/>
<path stroke="#3e2b1b" stroke-opacity="0.85" stroke-width="4.5" d="M239.3 665.1l0.2 0.4M168.4 660.3l-0.1 0.4M196.7 615.4l-0 0.1M157 661.7l-0.1 0.6"/>
<path stroke="#4a3423" stroke-opacity="0.85" stroke-width="2" d="M236.1 596.7l1.5 0.4M235.4 670l0.9 0.8M181.4 577.1l-1 1.1M213.7 655.1l-1.1 0.7M231.9 622.2l-0.9 2.2M162.6 661.7l0.1 2.5M258.2 674.3l0.7 1.1M239.5 656.7l-2.1 0.5M233.7 646.2l0.4 2"/>
<path stroke="#4a3423" stroke-opacity="0.85" stroke-width="2.5" d="M259.2 641.9l1.6 1.7M260.7 614.3l-1 1.7M157.5 602l1.1 2.2M174.6 626.5l-0.1 0.7M155.6 675.6l0.4 1.3M159.7 673.6l0.7 2.5M248.1 582.5l-0.6 2M232.6 595l-1.8 0.2M194.8 679.9l0.8 2M193.2 637.9l0.9 1.2M153 608.2l1.7 1.4M187.9 611.2l1.8 1M252.5 614l-1.7 0.3"/>
<path stroke="#4a3423" stroke-opacity="0.85" stroke-width="3" d="M177 617.9l0.4 0.3M227.5 634.7l-1.7 0M166.6 602.7l0.1 1.5M225.3 604.6l-0.1 1.2M242.1 581.5l-0.2 0.2M209.2 615.1l1.1 1.3M240.7 616.6l-1.2 1.1M190.9 647.8l0.7 1.5M260.9 597.6l0.3 0.1M253.1 682.4l-0.3 0.4M180.5 584.4l1.8 0.9M223.4 609.5l-0.1 1.3"/>
<path stroke="#4a3423" stroke-opacity="0.85" stroke-width="3.5" d="M158 610.9l0.1 0M194.4 601.6l0.7 0.1M247 600.1l-0.4 0M190.2 634l0 0.3M203.5 574.3l0.6 0.7M255 581l0.8 1.3M152.5 678.7l0.4 1M159.7 585.1l-0.1 0.2"/>
<path stroke="#4a3423" stroke-opacity="0.85" stroke-width="4" d="M258.8 636.7l0.1 0.8M186 586.4l-0.3 0.7M218.2 613.9l0.3 0.4M233.6 614.5l0.1 0M188.3 599l0.1 0M174.8 647.1l-0.4 0.5M238.5 639.7l-0.8 0.4"/>
<path stroke="#4a3423" stroke-opacity="0.85" stroke-width="4.5" d="M199.8 581.8l0.2 0.6M227.4 583.5l-0.6 0.1M219.1 605.2l0 0.3M249 635.9l0.1 0"/>
<path stroke="#58422e" stroke-opacity="0.6" stroke-width="1" d="M248.8 645.8l0.4 1"/>
<path stroke="#58422e" stroke-opacity="0.6" stroke-width="1.5" d="M188.4 643l0.8 0.6M232.4 680.7l-0.9 0.6M156.8 623l-1.2 0.1M244.2 592.4l1 0.9M204.3 639.2l1.4 1.4M248.9 588.5l0.5 1.3"/>
<path stroke="#58422e" stroke-opacity="0.6" stroke-width="2" d="M243.3 574.5l-0.3 0.2M200.5 602.9l-0.2 0.4M174.2 665.4l0.2 0.1M212.7 589l0 0.1M188.6 675.2l-1.5 0.8M230.3 608.4l0.2 0.5M234.9 572l-0.3 0.5M165.3 632.2l-1.8 0.1M216.5 573.2l0.4 0.3M159 658.2l0.5 0.1M193.4 674.8l-0.4 0.2"/>
<path stroke="#58422e" stroke-opacity="0.6" stroke-width="2.5" d="M235.2 604.6l0.3 0.5M152.6 576.6l-0.3 0.8"/>
<path stroke="#58422e" stroke-opacity="0.6" stroke-width="3" d="M152.7 661.6l0 0.7M184.7 630.9l-0.1 0"/>
<path stroke="#4f3a27" stroke-opacity="0.6" stroke-width="1" d="M204.4 611.9l-0 1.2M202.1 667.1l0 1"/>
<path stroke="#4f3a27" stroke-opacity="0.6" stroke-width="1.5" d="M168.3 639.1l-0.2 1M205.1 619.8l-0.8 0.3M202.6 588.2l1.1 0.1M220.1 586.6l0.5 0.4M192.3 593.6l0 1.1M163 681.1l-1.3 0.1M163.6 607.1l-1 1"/>
<path stroke="#4f3a27" stroke-opacity="0.6" stroke-width="2" d="M243.2 644.4l-0 0.1M220.3 669l-0.2 0.2M249.8 594.2l0.6 0.7M244.2 639.3l0.3 1.1M165.7 645.9l0.7 0.6M159.5 590.7l0.1 0M239.5 605l1.5 0.9M248.1 679.7l-0.9 0.3M238.7 676.2l0.4 0.2M259.5 619.9l-0.4 0.5M153.5 627.9l0.3 0.6M166.1 678.4l-0.7 0.8"/>
<path stroke="#4f3a27" stroke-opacity="0.6" stroke-width="2.5" d="M155.1 586.1l-0.1 0.7M152.4 665.5l-0 0.4M155 655.2l-1.2 0.3M252.6 656.7l-0.9 0.4M245.8 666.9l1.1 0.2M227.4 641.4l0.1 0M193.6 578.6l0.7 0.5"/>
<path stroke="#4f3a27" stroke-opacity="0.6" stroke-width="3" d="M253 639.4l-0.3 0.1M215.8 599.6l0.7 0.1M235.8 579.7l-0 0.1"/>
<path stroke="#4f3a27" stroke-opacity="0.6" stroke-width="3.5" d="M152.2 640.1l-0.1 0.2M219.6 649.1l0.1 0.1"/>
<path stroke="#24170c" stroke-opacity="0.7" stroke-width="1" d="M228.2 633.8l-1.3 0M237.7 597.3l0.9 0.3M218.4 656.1l0.5 1.5"/>
<path stroke="#24170c" stroke-opacity="0.7" stroke-width="1.5" d="M176.1 618.2l0.8 0.7M258.5 638.3l0.1 0.7M220.4 621.9l-1.5 1M258.6 587.1l-0.4 0.6M167.1 625.2l-1.3 0.7M249.8 675.3l1.1 0.4M216.3 580.5l0.5 1M192.9 602.1l1.2 0.2M204.1 643.6l0.4 0.7M170.7 618.9l-0.5 0.9M241.9 587.1l0.4 0.8M210.9 672.6l1.3 0M256.7 669l0.8 0.3M207.9 642l-0.3 0.6M187.2 598.3l0.6 0.1M172.4 625.1l-0.2 1.2M174.3 657.6l0.3 1.1M173.3 647.5l-0.2 0.3M155.8 675.7l0.2 0.4M159.8 599.8l-0.1 0.4M162.6 662.2l0 0.6M189.2 635.3l0 0.3M223.2 657.9l-0.2 0.7M186.8 625.2l1.1 1.4M252.9 626.1l-1.7 1M208.2 594.3l0.9 0.3M250.5 636.6l0.5 0.1M182 584.1l1.4 0.8M239.3 592.6l1.5 0.2"/>
<path stroke="#24170c" stroke-opacity="0.7" stroke-width="2" d="M191.2 583.9l0.1 0.2M259.8 642.1l0.2 0.2M189.6 616.4l-1.5 0M236.6 586.8l-0.8 0.8M182.6 576.6l-0.9 1.1M228 575.7l1.1 0.5M163.4 651.8l-0.6 1.5M188.4 574.4l0.1 0M197.3 615.2l-0.5 1.2M226.1 584.1l0.1 0M233.7 646.7l0.1 0.4M159.5 584.8l-0.4 1.1M197.4 651.3l0.1 0M158.2 662.4l-0 0.1"/>
<path stroke="#24170c" stroke-opacity="0.7" stroke-width="2.5" d="M211.1 678l0.1 0M252.5 652.4l0 0.6M158.1 610l-0.1 0.3M180 633.7l1 0M208.2 605.8l-1 0.6M195.5 663.5l0.8 0.2M167.3 662l-0.1 0.4M189 649.9l0.6 1.1M208.5 581.5l0.2 0.9M248.6 582.9l-0.2 0.7M184.2 593.5l0.8 1M214.6 666.5l1 0.6M187.5 610.1l0.8 0.4M170.6 598l0.1 0"/>
<path stroke="#24170c" stroke-opacity="0.7" stroke-width="3" d="M188.8 579.4l-0.6 0.2M155.7 602.9l0.2 0.4M234.8 612.1l0.1 0.4M219 676.3l-0.6 0.5M198.1 645.5l-0.1 0.4M203.8 574.6l0.1 0.1M255.7 581.7l0.3 0.5M182.6 623.3l-0.2 0.7M254 614.4l-0.2 0"/>
<path stroke="#24170c" stroke-opacity="0.7" stroke-width="3.5" d="M231.5 623.8l-0 0.1"/>
<path stroke="#2e1d10" stroke-opacity="0.7" stroke-width="1" d="M242.7 581.5l-1.3 0.9M201 659.1l-0.9 1.4M206.5 591.6l0.4 0.7M185.1 654.7l-0.4 1.1M245.7 607.7l1.1 0.3M209.3 625.5l0.2 0.8M156.5 580.9l0.5 1.2"/>
<path stroke="#2e1d10" stroke-opacity="0.7" stroke-width="1.5" d="M241.7 659.7l1.3 0.4M224.1 603.9l-0.1 1.6M200.9 630.8l0.3 0.4M195.2 573.7l-0.7 0.2M218.7 613.3l0.4 0.6M237.1 670.1l0.4 0.4M209.7 651.6l-0.1 1.4M203.2 674.5l0 0.3M237.1 624.6l-0.2 0.4M171 680.5l-0.8 0.2M213.6 655.4l-0.6 0.4M199.4 619.5l0.5 1.4M198.1 638.7l0.3 0.4M153.4 648.6l-0.8 1.2M238.5 638.5l-1.2 0.6M233.3 653.8l0.9 0.4M153.9 678.4l0.3 0.7M192 639l0.2 0.3M151.6 597.1l-0.2 1.3"/>
<path stroke="#2e1d10" stroke-opacity="0.7" stroke-width="2" d="M214.4 659.7l0.2 0.1M166.6 603.5l0 0.5M165.6 636.3l0.3 0.2M185.3 588l-0.1 0.3M244.3 671.8l-0.8 0.9M200.4 580.8l0.4 1.6M167 670.9l-0.9 1.1M244.2 623.5l1.4 0.2M258.2 573.1l0.8 0.1M240.2 618.4l-0.5 0.5M247.1 598.7l-0.2 0M169 575.3l0.2 0.2M178.9 652l1 1.1M258.2 631.4l-0.4 0.1M233.3 594l-1.5 0.2M228.4 617.4l0.2 0.1M253.7 572.3l0.1 0M182.4 615.1l0.6 0.6M218.9 603.3l0 0.3M239.7 655.4l-0.4 0.1M248.9 618.6l0.1 0.2M234.1 589.1l-1.1 0.8M236.8 680.8l0.9 0"/>
<path stroke="#2e1d10" stroke-opacity="0.7" stroke-width="2.5" d="M239.8 664.3l0.1 0.3M189.4 669.8l-0.1 0.9M182.9 610.1l-0.2 0.7M165.6 596.7l-0.9 0.4M258.9 613.4l-0.2 0.4M194.4 609.6l0 0.9M221.9 594.7l0.7 0.4M258.3 592.7l-0.7 0.1M167.6 667.3l-0.6 0.6M231.3 656.8l-0.7 0.9M260.5 599.7l0.7 0.2M253.5 682l-0.5 0.9M197.5 681.5l0.1 0.1M188.7 660.1l0.6 0.1M152.8 610.4l0.1 0.1M232.6 635.8l0.6 0.9M248.1 661.9l-0.2 1.1M215 642l0.3 0.1M192.5 629.6l-0.1 0.1"/>
<path stroke="#2e1d10" stroke-opacity="0.7" stroke-width="3" d="M243.5 614.9l-0.3 0.4M255.7 662.3l0.1 0.1M259.2 606.1l0.6 0M243.7 654.2l0.5 0.2M210.5 615.7l0.2 0.3M259.9 676.3l0.3 0.4M160.2 674.6l0.2 0.7M170 622.7l0.3 0.7"/>
<path stroke="#2e1d10" stroke-opacity="0.7" stroke-width="3.5" d="M198.4 609.3l0.1 0M221.3 608.7l-0 0.3"/>
</g>
<g filter="url(#b0)">
<path stroke="#4a3420" stroke-opacity="0.6" stroke-width="0.5" d="M227 588.2l0.2 0.5M250.8 632.1l0.1 0.5"/>
<path stroke="#4a3420" stroke-opacity="0.6" stroke-width="1" d="M155.3 659.1l0.2 0.4M208.8 668.2l0.1 0.6M250.6 606.7l0.1 0M230.1 639.3l-0 0.1M186.1 587.6l-0.1 0.5M250.8 583.3l-0.3 0.1M226.5 623.4l-0.5 0.1M238.1 583.5l-0.2 0.1M256.8 616.4l0.4 0.1M180.8 637.5l0.1 0M218.5 656.5l0.1 0M159.7 668.7l-0.1 0.1M159.1 660.6l0.1 0.2M244 614.7l0.4 0.1"/>
<path stroke="#4a3420" stroke-opacity="0.6" stroke-width="1.5" d="M187.6 587.8l0 0.3M259.4 615.5l-0.1 0M161.5 614.9l0.1 0M180.7 630.7l0.1 0M177.2 659l0.1 0.1M245 626.6l-0.1 0.1M228.4 620.6l0 0.1M232.9 652.8l0.2 0.1M218.3 598.3l-0.1 0.1M190.8 600.7l0.1 0M196.6 576.2l-0.2 0.2M245.8 633l0.5 0"/>
<path stroke="#6b523a" stroke-opacity="0.6" stroke-width="1" d="M175.3 655.2l0.1 0.1M164.5 602.8l-0.1 0M212.8 630.7l-0.3 0.1M257 654.7l0.2 0.1M158.5 641.8l0 0.2M217.6 649.6l-0.6 0.1M192.3 588.9l0.1 0M175 657.6l-0.1 0.1"/>
<path stroke="#6b523a" stroke-opacity="0.6" stroke-width="1.5" d="M250.9 661.8l-0.1 0.3M252.4 576.2l0.1 0M165.8 585.4l-0.4 0M183.3 665.9l0.1 0.4M173.2 653.9l-0.1 0.1M192.8 594.8l0.1 0M180.6 675.1l0.4 0.2M191.8 617.6l0.1 0"/>
<path stroke="#5a422c" stroke-opacity="0.6" stroke-width="0.5" d="M182.8 647.4l-0.1 0.6"/>
<path stroke="#5a422c" stroke-opacity="0.6" stroke-width="1" d="M188.7 581.3l-0.2 0M181.4 617.5l0.1 0M212.4 599.9l-0.4 0.4M155.1 585.5l0.1 0.3M167 637.1l0.1 0.8M175.6 658.9l0.1 0.3M221.3 635.5l0.2 0.6M228.7 589.7l-0.1 0.6M167.8 587.6l0.1 0.1M180.8 576.3l-0.3 0.1M231.4 649.4l0.1 0M235.1 640.6l0.4 0.1M159.1 627.9l0.4 0.5M183.5 593.1l0.3 0.1"/>
<path stroke="#5a422c" stroke-opacity="0.6" stroke-width="1.5" d="M226.1 618.5l0.3 0.1M159.7 625.1l0.1 0.1M257.6 632.7l-0.4 0M231.4 578l-0.1 0M238.1 655.8l0.3 0.2M170.2 589.6l0 0.1M225.6 613l0.2 0.4M195.8 676.2l0.2 0.2M220.9 668.9l-0.3 0.1M188.1 650.7l-0.1 0"/>
<path stroke="#5a422c" stroke-opacity="0.6" stroke-width="2" d="M212.4 666.9l0.1 0"/>
<path stroke="#c9a46a" stroke-opacity="0.7" stroke-width="0.5" d="M242.2 668.8l-0.3 0.5"/>
<path stroke="#c9a46a" stroke-opacity="0.7" stroke-width="1" d="M238.7 645.4l0.1 0M241.5 646l-0.1 0.2M224.9 647.3l-0.4 0.3M219.4 645.6l0.6 0.3M247.3 648.1l0.1 0.3M246.9 665.6l0.3 0.2"/>
<path stroke="#c9a46a" stroke-opacity="0.7" stroke-width="1.5" d="M231.2 642.8l0.2 0M216.7 627.7l-0.1 0M228.2 652.6l0.1 0"/>
<path stroke="#b8935c" stroke-opacity="0.7" stroke-width="1" d="M236.4 648.4l0.6 0.5M216.7 663.3l-0.2 0.3M251.6 657.2l0.1 0M243.4 644.5l0.2 0.1"/>
</g>
</g>
<g clip-path="url(#cp2)" fill="none" stroke-linecap="round">
<rect x="264.4" y="575.7" width="102.7" height="103.2" fill="#cfd4e5"/>
<g filter="url(#b2)">
<path stroke="#edf0f8" stroke-opacity="0.6" stroke-width="6.5" d="M306.1 587.2l-2.8 1"/>
<path stroke="#edf0f8" stroke-opacity="0.6" stroke-width="7" d="M333.7 665.4l-0.3 3.2M354.7 612.5l-2.3 2.7"/>
<path stroke="#edf0f8" stroke-opacity="0.6" stroke-width="7.5" d="M341.9 673.8l0.1 3.5M323.5 593.1l-0.4 0.1"/>
<path stroke="#edf0f8" stroke-opacity="0.6" stroke-width="8.5" d="M285.6 605.3l-0.7 0"/>
<path stroke="#edf0f8" stroke-opacity="0.6" stroke-width="9" d="M280.8 619.7l-1 0.1"/>
<path stroke="#edf0f8" stroke-opacity="0.6" stroke-width="10" d="M290.2 647l-0.2 0.4"/>
<path stroke="#f3f5fa" stroke-opacity="0.6" stroke-width="4.5" d="M339.8 672.6l-1.1 2.5"/>
<path stroke="#f3f5fa" stroke-opacity="0.6" stroke-width="5.5" d="M352.2 576.5l2.4 2"/>
<path stroke="#f3f5fa" stroke-opacity="0.6" stroke-width="6.5" d="M321.7 653.4l-0.1 1.2M294.1 591.8l-0.7 2.2M349.1 642.3l2.9 1.2M294.7 600.8l-0.2 3.5"/>
<path stroke="#f3f5fa" stroke-opacity="0.6" stroke-width="7" d="M343.5 633.2l-0.9 1.9"/>
<path stroke="#f3f5fa" stroke-opacity="0.6" stroke-width="8" d="M337.1 587.2l0.4 1.1"/>
<path stroke="#f3f5fa" stroke-opacity="0.6" stroke-width="8.5" d="M332.8 610.2l-0.8 1.2M285.2 639.2l-0.4 1.4"/>
<path stroke="#f3f5fa" stroke-opacity="0.6" stroke-width="10.5" d="M351.7 582.6l-0.4 0.2"/>
<path stroke="#f3f5fa" stroke-opacity="0.6" stroke-width="11" d="M279.3 617.9l0.3 0.2"/>
</g>
<g filter="url(#bl)">
<path stroke="#7a6852" stroke-opacity="0.5" stroke-width="4" d="M263.4 650l2.3 1.6"/>
<path stroke="#7a6852" stroke-opacity="0.5" stroke-width="4.5" d="M350.2 650.7l-1.1 1.4M303.8 609l-0.9 2.6"/>
<path stroke="#7a6852" stroke-opacity="0.5" stroke-width="5" d="M295.2 622l1.8 1.4M279.3 632.5l-2.4 0.7"/>
<path stroke="#7a6852" stroke-opacity="0.5" stroke-width="5.5" d="M291.2 582.1l-0.5 0.3"/>
<path stroke="#7a6852" stroke-opacity="0.5" stroke-width="6" d="M263.2 644.8l-0.8 1.3"/>
<path stroke="#7a6852" stroke-opacity="0.5" stroke-width="6.5" d="M327.9 642.8l0.6 1.1M281.2 649.6l-0 0.5M351.5 668.3l-0.4 0.2"/>
<path stroke="#7a6852" stroke-opacity="0.5" stroke-width="7" d="M366.2 634.5l0.1 0"/>
<path stroke="#7a6852" stroke-opacity="0.5" stroke-width="7.5" d="M354.9 630.1l-0.1 0.2"/>
<path stroke="#85725c" stroke-opacity="0.5" stroke-width="4" d="M317.3 618.2l-1.3 2.1M263.8 637.2l-3.1 1.1M273.1 673.8l2.9 0.7"/>
<path stroke="#85725c" stroke-opacity="0.5" stroke-width="4.5" d="M353.2 635.8l-1.5 0.6M270.1 584.9l-1.7 1.6"/>
<path stroke="#85725c" stroke-opacity="0.5" stroke-width="5.5" d="M333.8 649l1.1 0.6M326.9 665.2l-2.2 0.3"/>
<path stroke="#8c7a65" stroke-opacity="0.5" stroke-width="3.5" d="M313.9 647.8l1.5 2.8M357.1 641l-2.4 1"/>
<path stroke="#8c7a65" stroke-opacity="0.5" stroke-width="4.5" d="M278 652.6l-2.3 0.5M269.5 656.5l1.9 0.6M319.2 662.3l-1.5 2.3"/>
<path stroke="#8c7a65" stroke-opacity="0.5" stroke-width="5.5" d="M304.8 582.5l-0.2 2M328.3 649.3l-0.2 0.4"/>
<path stroke="#8c7a65" stroke-opacity="0.5" stroke-width="6.5" d="M335.9 605l-0.1 0.1M271.5 650.6l0.3 1.1"/>
<path stroke="#a19281" stroke-opacity="0.55" stroke-width="3.5" d="M290.6 613.3l-2.2 1.1M353.7 580.9l-1.8 1.9"/>
<path stroke="#a19281" stroke-opacity="0.55" stroke-width="4" d="M318 579.5l-2.5 0.4M297.1 610.1l-0.2 2.5M312.4 582.8l-2 2.3M336.1 666.5l-2.4 1M339.1 611.1l2.7 1.3"/>
<path stroke="#a19281" stroke-opacity="0.55" stroke-width="4.5" d="M336.2 582.8l-0.8 0.4M285.3 589.2l-1.4 0.7M360.7 627.4l0.9 0.1M277.7 643.6l2.1 1M326 657.8l-1.6 0.3"/>
<path stroke="#a19281" stroke-opacity="0.55" stroke-width="5" d="M365.2 675.6l-0.9 1.8M343 597.2l-0.4 0.3M333.7 598.8l-0.1 1.6M335.2 641.8l0.6 0.5M278.4 598.7l-0.6 1.4"/>
<path stroke="#a19281" stroke-opacity="0.55" stroke-width="5.5" d="M369.5 614.5l-0.8 1.1M316.5 574l0.1 0.9M370.4 640.4l-0.2 0.6M307.6 579l-0.1 0.7M342.2 625.2l0.6 1.2M309.7 593.6l-0.3 0.6"/>
<path stroke="#a19281" stroke-opacity="0.55" stroke-width="6" d="M284.3 618.5l0.5 0.5M319.3 657.4l-0.8 0.4M369.1 645.8l-0.8 0.6"/>
<path stroke="#a19281" stroke-opacity="0.55" stroke-width="7" d="M308.5 633.8l-0.1 0"/>
<path stroke="#9a8a77" stroke-opacity="0.55" stroke-width="3" d="M295.5 590.2l0 2.7"/>
<path stroke="#9a8a77" stroke-opacity="0.55" stroke-width="3.5" d="M305 624.9l-2.5 1"/>
<path stroke="#9a8a77" stroke-opacity="0.55" stroke-width="4" d="M287.7 637.5l1.5 0.7M317.5 585.5l1.5 0.2M354.6 575.4l-1 2.1M301.6 663.6l1.5 0.2"/>
<path stroke="#9a8a77" stroke-opacity="0.55" stroke-width="5" d="M328.1 603.7l-1.3 1.5M279.1 679.2l-1 1.6M319.2 602.8l0.4 0.8M265.1 623.3l-1.4 0.6M273.1 600.7l0.1 0.6"/>
<path stroke="#9a8a77" stroke-opacity="0.55" stroke-width="5.5" d="M320.3 630.3l1.6 0.1"/>
<path stroke="#9a8a77" stroke-opacity="0.55" stroke-width="6" d="M337 658l-0.6 0.7M330.2 672.2l-0.5 0.3"/>
<path stroke="#9a8a77" stroke-opacity="0.55" stroke-width="6.5" d="M348 640.3l0 0.2M320.4 591.5l-0 0.1M296.2 596.7l0.2 0.1"/>
<path stroke="#a89a88" stroke-opacity="0.8" stroke-width="2" d="M329.7 622.7l-0.7 2"/>
<path stroke="#a89a88" stroke-opacity="0.8" stroke-width="2.5" d="M284.5 653.6l-1.5 1.2M321.5 596.7l-1.4 1.5"/>
<path stroke="#a89a88" stroke-opacity="0.8" stroke-width="3" d="M267.8 630.1l1.2 0.6M337 614.7l-1.8 1.2M320.9 646.4l-0.1 1.1"/>
<path stroke="#a89a88" stroke-opacity="0.8" stroke-width="3.5" d="M283.6 659.6l0.8 1.1M339.5 663.3l-0.4 0.5M261.2 590l2.2 0.2"/>
<path stroke="#a89a88" stroke-opacity="0.8" stroke-width="4" d="M261.6 608.9l2 0M329.5 637.1l2 0.5M318.9 669.7l-0.9 0.1"/>
<path stroke="#a89a88" stroke-opacity="0.8" stroke-width="4.5" d="M364.9 588.6l-0.2 0.3M321 652.7l1.4 0.9"/>
<path stroke="#a89a88" stroke-opacity="0.8" stroke-width="5" d="M269 675.2l0.8 0.2M298.5 668.2l0.1 0M335.4 624.3l-0.2 0.7"/>
<path stroke="#9f907d" stroke-opacity="0.8" stroke-width="2.5" d="M283.5 624.6l0.2 1.9"/>
<path stroke="#9f907d" stroke-opacity="0.8" stroke-width="3" d="M266.6 639.4l1.2 1.1M278.3 662.3l0.9 1.3"/>
<path stroke="#9f907d" stroke-opacity="0.8" stroke-width="3.5" d="M308.8 679.5l-1.8 0.5"/>
<path stroke="#9f907d" stroke-opacity="0.8" stroke-width="4.5" d="M299.6 605.1l0.8 0.2M360.8 616.5l-0.1 0.2M294.1 651.8l-0.6 0.1M293.2 576.2l0.2 0.2"/>
<path stroke="#9f907d" stroke-opacity="0.8" stroke-width="6" d="M366.9 577.5l0 0.2M290 594.2l-0 0.1"/>
<path stroke="#b0a392" stroke-opacity="0.8" stroke-width="3" d="M327.9 595.9l-1.3 1.1M271.2 642.4l1.2 1.7M301.3 573.3l-1.6 0.7M277.9 637.8l-0.8 1.3M346.5 620.8l1.2 1.1"/>
<path stroke="#b0a392" stroke-opacity="0.8" stroke-width="3.5" d="M360.1 583.1l0.5 0.4M283.3 596.9l0.8 2.2"/>
<path stroke="#b0a392" stroke-opacity="0.8" stroke-width="4" d="M350 592.6l-2 0.7"/>
<path stroke="#b0a392" stroke-opacity="0.8" stroke-width="4.5" d="M279.9 669.5l-0.2 0.3M321.1 609.7l0.4 0.2M276.2 620.9l0.9 0.9"/>
<path stroke="#a6b1d5" stroke-opacity="0.8" stroke-width="3" d="M320.6 680.4l-1.8 0.1M301 629.8l-1.8 0"/>
<path stroke="#a6b1d5" stroke-opacity="0.8" stroke-width="3.5" d="M268.5 576.9l-0.1 1.2M270.9 617.5l1.7 0.1M341.2 578.3l-1.7 0.1M295 680.5l0.2 1.1M285.8 644l0.3 1.4M261.2 655.8l1.8 0.7M329.5 661.2l1 0.4"/>
<path stroke="#a6b1d5" stroke-opacity="0.8" stroke-width="4" d="M266.8 597.6l-0.6 1.4M274.4 573.5l1.3 0.3M359.2 633.7l0.8 1.9M323.8 670.1l0.3 1M274.6 594.6l1.5 1.8M261.3 627.8l0.7 2.5M341.5 645l0.7 2.1M284 634.7l-0.1 0.6M347.9 673.5l1.8 1.1"/>
<path stroke="#a6b1d5" stroke-opacity="0.8" stroke-width="4.5" d="M302.2 650.5l-0.4 0.6M356.7 654.2l0 0.5M329.7 587l0.1 1.2M332.5 572.9l-0.4 0.1M337.3 681.2l-0.2 0.1"/>
<path stroke="#a6b1d5" stroke-opacity="0.8" stroke-width="5" d="M358.6 671.9l-0.7 0.4M291.9 618.3l-0.8 1M337.9 633.5l-1.1 0.2"/>
<path stroke="#a6b1d5" stroke-opacity="0.8" stroke-width="5.5" d="M314.7 591.2l-0.3 1M287.7 629.4l-0.3 0.4"/>
<path stroke="#a6b1d5" stroke-opacity="0.8" stroke-width="6" d="M313.3 599.6l0.5 0.3"/>
<path stroke="#9ca8ce" stroke-opacity="0.8" stroke-width="2.5" d="M325.7 618.4l1.1 1.8"/>
<path stroke="#9ca8ce" stroke-opacity="0.8" stroke-width="3" d="M349.7 615.5l-0 2.5"/>
<path stroke="#9ca8ce" stroke-opacity="0.8" stroke-width="3.5" d="M288.9 571.9l0.2 2.5M273.2 626.6l-1.5 0.4M313.9 664.5l-1.3 0M366.2 660.1l-1.6 1.7M270.2 663.4l0.2 1.3"/>
<path stroke="#9ca8ce" stroke-opacity="0.8" stroke-width="4" d="M361.6 576.1l-0.4 1.5M340.7 619.2l1.3 0.7M330.7 613.6l-1.1 1.3M351.8 607.3l0.7 2.3M351.7 587.5l-0.2 0.6M272.1 668.4l2.4 0.8M273.7 609.4l0.5 1.4"/>
<path stroke="#9ca8ce" stroke-opacity="0.8" stroke-width="4.5" d="M294.3 629.5l-0.5 0.8M345.8 606l-0.5 0.1M359.8 666.5l0.4 1.4M323.4 625.6l-0.4 0.4M343.8 636.4l-1.6 0.1M363.8 638.2l-0.5 1.2"/>
<path stroke="#9ca8ce" stroke-opacity="0.8" stroke-width="5" d="M363.8 656l0.1 0M276.2 581.6l-0.1 0.1M365.1 619.4l0.5 0.1M262.4 681.2l-0.5 1M330.9 654.7l-1.1 0.4"/>
<path stroke="#9ca8ce" stroke-opacity="0.8" stroke-width="5.5" d="M277.8 588.1l0.9 0.4M300 635.3l-0.6 0.7M370 652.2l-0.6 0.2M282 640.3l0.2 0.3"/>
<path stroke="#b0badb" stroke-opacity="0.8" stroke-width="2.5" d="M268.1 612l-1.2 1.8"/>
<path stroke="#b0badb" stroke-opacity="0.8" stroke-width="3" d="M325.1 585.7l-1.3 2.2M291.5 607.4l-1.7 0.2M282.5 674.3l-1.8 0.9M271.5 636.8l1.7 0.9M332.7 631.2l0.9 1.3"/>
<path stroke="#b0badb" stroke-opacity="0.8" stroke-width="3.5" d="M341.6 671.1l1.5 0.8M302.6 588.8l-0.3 1.6M369.9 596.9l-0.9 2.7M293.6 656.5l-2 0.5M370 663.6l0.2 1.2M367.1 625.6l0.1 2.1"/>
<path stroke="#b0badb" stroke-opacity="0.8" stroke-width="4" d="M265.1 671.9l-1.1 0.4M264.1 582.1l-1.4 1M286.2 602.9l-0.2 0.6M346.1 664.9l-1.5 2.1M368.7 671.9l0.5 0.9M261.9 574.5l0.2 1.1M300.4 656.6l-0.5 0.4"/>
<path stroke="#b0badb" stroke-opacity="0.8" stroke-width="4.5" d="M362.2 649.7l-0.7 0.4M355.8 621.5l0.3 1.9M336.8 592.8l-0.2 2.1M264.3 664.5l-0.1 1.1M305.2 641.7l-1.1 0.1M295.8 663.4l0.5 0M312.9 605.5l-0.8 0.5"/>
<path stroke="#b0badb" stroke-opacity="0.8" stroke-width="5" d="M308.2 662.5l-1.2 0.2M314.8 636.1l0 1.3M285.8 681.2l0.1 0M307.1 603.1l-0.3 0.8M268.9 591.2l0 0.7M317 613.9l0.1 0M326.1 610.8l0.3 1.3"/>
<path stroke="#b0badb" stroke-opacity="0.8" stroke-width="5.5" d="M313.1 643.9l-0.3 0.1M322.8 572.7l-0.5 0.1M301.6 678.6l0.2 0.7M308.7 628.6l0 0.1"/>
<path stroke="#b0badb" stroke-opacity="0.8" stroke-width="6" d="M311.9 672.4l-0.1 0.2M286.2 669l-0.1 0.4M358.8 596.9l-0.3 0.3"/>
<path stroke="#f5f6fa" stroke-opacity="0.8" stroke-width="3" d="M313.5 627.1l1.2 1.4"/>
<path stroke="#f5f6fa" stroke-opacity="0.8" stroke-width="3.5" d="M360.1 644.5l2.2 0.2M345.5 680.9l-1.2 0.2M270.7 604.8l-1 0.5"/>
<path stroke="#f5f6fa" stroke-opacity="0.8" stroke-width="4" d="M279.1 605.2l-1.8 1.5M350.1 627l-0 1M272.3 680l-0 1.4M331.7 608.3l0.5 1.5"/>
<path stroke="#f5f6fa" stroke-opacity="0.8" stroke-width="4.5" d="M324.9 677l-1.1 1.3M283.9 576.3l0.3 0M369.6 582.5l0.2 1M347.5 584.6l-2 1M311.8 681.1l1.5 1.7M359 658.8l-0.8 2.1"/>
<path stroke="#f5f6fa" stroke-opacity="0.8" stroke-width="5" d="M298.1 641l-0.5 0.4M309 573.2l0.3 0.3"/>
<path stroke="#f5f6fa" stroke-opacity="0.8" stroke-width="6" d="M327.9 629.7l-0.4 0.4M333 677.5l-0.5 0M346.4 577.1l0.1 0"/>
<path stroke="#f5f6fa" stroke-opacity="0.8" stroke-width="6.5" d="M368.5 681l0.1 0.2"/>
<path stroke="#e6e9f2" stroke-opacity="0.8" stroke-width="3" d="M299.7 583.8l-1.4 0.3M311.6 623.1l-1.7 0.4"/>
<path stroke="#e6e9f2" stroke-opacity="0.8" stroke-width="3.5" d="M352.7 598.1l-1.5 1.9M345.4 611.3l0.7 2.5M370.3 605.2l-2.2 0.7M307.4 614.4l1.6 1.9"/>
<path stroke="#e6e9f2" stroke-opacity="0.8" stroke-width="4" d="M342.7 588.5l1.7 1.8M349.4 571.4l-0.3 2.5M318.5 674.8l-0.4 0.6"/>
<path stroke="#e6e9f2" stroke-opacity="0.8" stroke-width="4.5" d="M355.4 681.4l-0.6 1.8"/>
<path stroke="#e6e9f2" stroke-opacity="0.8" stroke-width="5" d="M369.2 572.1l0.6 0.7M302.5 595.5l0.1 0M305.5 670.1l-0 1.8M356.8 649.1l-0.7 0.2M284.3 608.5l0.7 0.7M356.4 612.1l0.6 0"/>
<path stroke="#e6e9f2" stroke-opacity="0.8" stroke-width="5.5" d="M347.1 656.2l0.3 0.5M294.1 673.9l-0.2 0.1M358.9 591.3l-0.1 0.4"/>
<path stroke="#e6e9f2" stroke-opacity="0.8" stroke-width="6.5" d="M352.2 659.8l0.1 0"/>
<path stroke="#eef0f6" stroke-opacity="0.8" stroke-width="3" d="M305.9 647.7l2.4 0.4M261.6 617.2l-0.1 1.8M347.8 632.6l-1.6 0.7"/>
<path stroke="#eef0f6" stroke-opacity="0.8" stroke-width="3.5" d="M300.8 615.5l1.2 1.2M362.1 605.6l2 1"/>
<path stroke="#eef0f6" stroke-opacity="0.8" stroke-width="4" d="M289.2 662.4l0.9 0.4M322.3 635.3l1.8 1.1M337.8 674.8l-0.1 0.8"/>
<path stroke="#eef0f6" stroke-opacity="0.8" stroke-width="4.5" d="M322 641.7l0.3 0.1M293.8 600.9l-0.6 0.2M279 615l-1.6 1.3M329.7 581.3l0.8 1.2"/>
<path stroke="#eef0f6" stroke-opacity="0.8" stroke-width="5" d="M339.1 572.7l1.3 1.1"/>
<path stroke="#eef0f6" stroke-opacity="0.8" stroke-width="5.5" d="M311.7 655.8l-0.1 0.4M326.1 577.2l0.1 0.5M291.3 642.1l0 0.3M282.4 583l0.4 0"/>
<path stroke="#eef0f6" stroke-opacity="0.8" stroke-width="6.5" d="M312.2 611.6l0.1 0"/>
<path stroke="#463322" stroke-opacity="0.92" stroke-width="2.5" d="M294.6 621.8l2.3 1.8"/>
<path stroke="#463322" stroke-opacity="0.92" stroke-width="3.5" d="M279.3 631.6l-2.7 0.8M354.8 629.5l-0.7 1.6M349.6 650.3l-1.2 1.5"/>
<path stroke="#463322" stroke-opacity="0.92" stroke-width="4.5" d="M263.2 644.6l-0.5 0.8M262 637l-1 0.3"/>
<path stroke="#463322" stroke-opacity="0.92" stroke-width="5" d="M305 583.9l-0 0.4"/>
<path stroke="#463322" stroke-opacity="0.92" stroke-width="5.5" d="M335.8 605.4l-0 0.1"/>
<path stroke="#4f3926" stroke-opacity="0.92" stroke-width="4" d="M269.3 584.6l-1 0.9"/>
<path stroke="#4f3926" stroke-opacity="0.92" stroke-width="4.5" d="M281.9 649.6l-0 0.3"/>
<path stroke="#4f3926" stroke-opacity="0.92" stroke-width="5" d="M290.6 583l-0.2 0.2M278 652.8l-1.9 0.4"/>
<path stroke="#4f3926" stroke-opacity="0.92" stroke-width="6.5" d="M351.1 668.7l-0.2 0.1"/>
<path stroke="#644c35" stroke-opacity="0.92" stroke-width="3.5" d="M353.8 635.4l-1.9 0.8"/>
<path stroke="#644c35" stroke-opacity="0.92" stroke-width="4" d="M333.8 649l1.3 0.7M356.5 640.1l-2.5 1M274.6 673.6l1.4 0.3"/>
<path stroke="#644c35" stroke-opacity="0.92" stroke-width="4.5" d="M329 643.9l0.3 0.6"/>
<path stroke="#644c35" stroke-opacity="0.92" stroke-width="5" d="M303.7 609.6l-0.3 0.7"/>
<path stroke="#644c35" stroke-opacity="0.92" stroke-width="5.5" d="M326.2 665.3l-1.3 0.2"/>
<path stroke="#5a422d" stroke-opacity="0.92" stroke-width="3" d="M263.3 649.3l2.3 1.6"/>
<path stroke="#5a422d" stroke-opacity="0.92" stroke-width="4" d="M271 649.8l0.6 2.5M364.4 633.6l2 1.1M269.1 655.5l2.2 0.7"/>
<path stroke="#5a422d" stroke-opacity="0.92" stroke-width="5.5" d="M314.7 647.8l0.7 1.3M316 619.6l0.1 0M327.7 649.1l-0.1 0.1"/>
<path stroke="#5a422d" stroke-opacity="0.92" stroke-width="6.5" d="M319 663.9l0.1 0"/>
<path stroke="#6f5842" stroke-opacity="0.88" stroke-width="2.5" d="M333.6 598.2l-0.1 2.3M330.3 671.9l-1.5 1M309.3 593l-0.8 1.9"/>
<path stroke="#6f5842" stroke-opacity="0.88" stroke-width="3" d="M284.5 618.8l0.9 0.8"/>
<path stroke="#6f5842" stroke-opacity="0.88" stroke-width="3.5" d="M369.6 640l-0.6 1.5"/>
<path stroke="#6f5842" stroke-opacity="0.88" stroke-width="4" d="M288.5 637l0.3 0.1"/>
<path stroke="#6f5842" stroke-opacity="0.88" stroke-width="4.5" d="M289.6 613l-0.1 0M336.7 658.1l-0.7 0.9"/>
<path stroke="#6f5842" stroke-opacity="0.88" stroke-width="5.5" d="M319.4 657l-0.6 0.3"/>
<path stroke="#644d38" stroke-opacity="0.88" stroke-width="3" d="M369.7 614.6l-0.9 1.2M365.1 676.2l-0.8 1.6M335.5 666.7l-2.8 1.2M326.5 657.7l-2.5 0.4M295.6 595.8l1 1M279.2 598.5l-0.7 1.7"/>
<path stroke="#644d38" stroke-opacity="0.88" stroke-width="3.5" d="M369.5 645.8l-1.9 1.4"/>
<path stroke="#644d38" stroke-opacity="0.88" stroke-width="4" d="M352.9 581.7l-0.8 0.8M341.9 624.4l0.9 1.9M317.3 585.9l1.6 0.2"/>
<path stroke="#644d38" stroke-opacity="0.88" stroke-width="4.5" d="M302 663l0.8 0.1"/>
<path stroke="#644d38" stroke-opacity="0.88" stroke-width="5" d="M265.1 623l-0.9 0.4M334.7 641.7l0.7 0.6"/>
<path stroke="#644d38" stroke-opacity="0.88" stroke-width="5.5" d="M278.7 643.8l0.2 0.1"/>
<path stroke="#644d38" stroke-opacity="0.88" stroke-width="6" d="M348.3 640.3l0 0.1"/>
<path stroke="#7a634d" stroke-opacity="0.88" stroke-width="2.5" d="M297.4 610.3l-0.1 2M295.5 590.5l0 2.3"/>
<path stroke="#7a634d" stroke-opacity="0.88" stroke-width="3" d="M279.3 678.9l-0.7 1.2M284.9 589.3l-1.4 0.7"/>
<path stroke="#7a634d" stroke-opacity="0.88" stroke-width="3.5" d="M327.5 603.5l-0.9 1.1M343.3 596.6l-1.1 0.9M316.7 574.3l0.1 0.6M318.1 579.6l-1.4 0.2M312.2 583.2l-1 1.1M319.7 630.2l2.7 0.2M354.8 575.6l-0.8 1.7"/>
<path stroke="#7a634d" stroke-opacity="0.88" stroke-width="4" d="M361 628.2l0.1 0M321 591.3l-0.6 1.4"/>
<path stroke="#7a634d" stroke-opacity="0.88" stroke-width="4.5" d="M318.6 602l0.6 1.4M308.5 578.3l-0.2 1.2M339.5 611.7l1.2 0.6"/>
<path stroke="#7a634d" stroke-opacity="0.88" stroke-width="5" d="M304.2 625.5l-1 0.4M308.8 633.9l-0.3 0M273.4 600.4l0 0.2"/>
<path stroke="#7a634d" stroke-opacity="0.88" stroke-width="6" d="M336 582l-0.4 0.2"/>
<path stroke="#3e2b1b" stroke-opacity="0.85" stroke-width="2" d="M276.8 653l-1.3 0.3M313.3 646.7l1 2M268.6 657l2 0.6"/>
<path stroke="#3e2b1b" stroke-opacity="0.85" stroke-width="2.5" d="M290.5 581.9l-1.5 1.1M355.5 630.9l-0.4 0.9"/>
<path stroke="#3e2b1b" stroke-opacity="0.85" stroke-width="3" d="M294.4 622.3l0.8 0.6M348.6 651.6l-0.7 0.9M353.7 635l-0.3 0.1M364.3 633.6l0.6 0.3"/>
<path stroke="#3e2b1b" stroke-opacity="0.85" stroke-width="3.5" d="M264 649l1.4 0.9M305.6 582.9l0.1 0M304 610.2l-0.1 0.3"/>
<path stroke="#54402c" stroke-opacity="0.85" stroke-width="3" d="M328 643.6l0.5 0.8M281.5 650.4l-0 0.3M355.4 639.6l-0.8 0.3M327.2 663.9l-0.6 0.1M262.9 637.1l-2 0.7"/>
<path stroke="#54402c" stroke-opacity="0.85" stroke-width="3.5" d="M278.5 631.7l-0.5 0.2M318 663.7l-0.1 0.1"/>
<path stroke="#54402c" stroke-opacity="0.85" stroke-width="4" d="M268.9 586.4l-0.4 0.4"/>
<path stroke="#4a3423" stroke-opacity="0.85" stroke-width="2" d="M332.8 649l2.3 1.2M262.8 644.9l-0.7 1.1"/>
<path stroke="#4a3423" stroke-opacity="0.85" stroke-width="2.5" d="M336.2 603.6l-0.8 1.2M352.7 668.8l-2.2 0.9M274.7 673.1l1.6 0.4"/>
<path stroke="#4a3423" stroke-opacity="0.85" stroke-width="3" d="M271.4 649.9l0.1 0.4"/>
<path stroke="#4a3423" stroke-opacity="0.85" stroke-width="4" d="M328.4 648.8l-0.2 0.4"/>
<path stroke="#4a3423" stroke-opacity="0.85" stroke-width="4.5" d="M316.5 618.5l-0.3 0.4"/>
<path stroke="#4f3a27" stroke-opacity="0.6" stroke-width="1" d="M320.8 656.5l-1.1 0.5M360.6 628.5l1.5 0.2M277.6 643.4l0.9 0.4M320.6 590.6l-0.5 1.2"/>
<path stroke="#4f3a27" stroke-opacity="0.6" stroke-width="1.5" d="M285.6 617.8l0.6 0.5M290.2 614.2l-0.7 0.3M297.2 610.9l-0.1 1.2M329.4 672.4l-1 0.7M309.7 594.4l-0.4 1.1"/>
<path stroke="#4f3a27" stroke-opacity="0.6" stroke-width="2" d="M343.9 597l-0.4 0.3M355.6 576.1l0.1 0M348.4 638.9l0.2 1.2M334.7 642.5l1.2 1.1"/>
<path stroke="#4f3a27" stroke-opacity="0.6" stroke-width="2.5" d="M321 630l1.1 0.1"/>
<path stroke="#4f3a27" stroke-opacity="0.6" stroke-width="3" d="M320.1 602.2l0.1 0M335.7 668.2l-0.3 0.1"/>
<path stroke="#58422e" stroke-opacity="0.6" stroke-width="1" d="M307.4 577.1l-0.2 1.1"/>
<path stroke="#58422e" stroke-opacity="0.6" stroke-width="1.5" d="M326.5 603.5l-1 1.2M304 624l-0.7 0.3M312.8 583.8l-1.2 1.3M340.4 612.3l0.8 0.4M301.1 663.1l1.2 0.1M272.2 599.3l0.4 2.1"/>
<path stroke="#58422e" stroke-opacity="0.6" stroke-width="2" d="M364.7 675.3l-0.3 0.6M264.1 622.6l-1.3 0.5M353.8 580.6l-0.6 0.6M317.8 586.3l1.7 0.2M336.5 657.4l-1.1 1.4"/>
<path stroke="#58422e" stroke-opacity="0.6" stroke-width="2.5" d="M369.1 614.9l-0.6 0.9M336.6 581.8l-1.1 0.5M279.8 678.7l0.1 0M308.7 634.8l0.1 0M370.4 640.1l-0.3 0.7M343.2 625l0.5 1.1M296.2 590.7l0 0.3M288.3 636.2l0.9 0.4M325.8 656.9l-1.3 0.2"/>
<path stroke="#58422e" stroke-opacity="0.6" stroke-width="3" d="M316.1 574.8l0.1 0.6M318.2 580l-0.2 0M284.8 590.1l0.1 0M333.1 599.9l-0 0.6M368 646.8l-0.3 0.3M295.7 595.4l0.1 0M278 598.9l-0.3 0.7"/>
<path stroke="#24170c" stroke-opacity="0.7" stroke-width="1" d="M355.5 639.9l-1.1 0.4"/>
<path stroke="#24170c" stroke-opacity="0.7" stroke-width="1.5" d="M336.2 605.7l-0.2 0.3M355.4 629.1l-0.5 1.1M315.1 649.3l0.6 1.3M316.9 618.6l-0.2 0.4M302.4 610l-0.6 1.8M326.1 664.1l-0.5 0.1M327.2 648.6l-0.7 1.2"/>
<path stroke="#24170c" stroke-opacity="0.7" stroke-width="2" d="M295.7 624.2l0.1 0.1M271.8 651.2l0.2 0.9M349.7 649.6l-1 1.2M270 585.5l-0.4 0.4M350.1 669l-0.6 0.2M274.8 674.8l1.2 0.3"/>
<path stroke="#24170c" stroke-opacity="0.7" stroke-width="2.5" d="M364.9 633.3l0.1 0.1M280.6 648.6l-0 0.9"/>
<path stroke="#24170c" stroke-opacity="0.7" stroke-width="3" d="M291.9 583.5l-0.6 0.5M261.8 637.3l0.1 0"/>
<path stroke="#2e1d10" stroke-opacity="0.7" stroke-width="1" d="M334.4 648.4l1 0.6"/>
<path stroke="#2e1d10" stroke-opacity="0.7" stroke-width="1.5" d="M327.4 641.7l1 1.7M277.6 653.6l-1.3 0.3"/>
<path stroke="#2e1d10" stroke-opacity="0.7" stroke-width="2" d="M265.2 651l0.1 0.1M305.3 582.5l-0.1 0.9M270.5 656.7l0.1 0"/>
<path stroke="#2e1d10" stroke-opacity="0.7" stroke-width="2.5" d="M262.6 644.9l-0.1 0.1"/>
<path stroke="#2e1d10" stroke-opacity="0.7" stroke-width="3" d="M278.3 632.3l-0.4 0.1M352.3 635.3l0.1 0M318.8 662.4l-0.4 0.7"/>
</g>
<g filter="url(#b0)">
<path stroke="#6b523a" stroke-opacity="0.5" stroke-width="1" d="M345 659.5l0.5 0.4M283.8 619l0.1 0M364.4 589l0.1 0.2M319.4 666.9l0.1 0M290.9 610.9l-0 0.6M305.1 646.8l0.1 0M294.3 587.5l0 0.1M341.9 591l0.3 0.3"/>
<path stroke="#6b523a" stroke-opacity="0.5" stroke-width="1.5" d="M304.6 653.4l0.1 0M291.8 660l-0.1 0M279.9 621.1l0.1 0.2M357.5 644l0.1 0M300.8 599.4l0.1 0"/>
<path stroke="#4a3420" stroke-opacity="0.5" stroke-width="1" d="M322.4 621.7l-0.2 0.7M303.1 605.5l-0.1 0.3M298.6 645.9l0.4 0.1M366.5 644.9l0.1 0M300.5 650.5l0.3 0.3M291.5 646.1l-0.2 0.2M331.5 617.6l0.3 0.3M324.5 596.6l0 0.3M363.7 611.7l0.1 0"/>
<path stroke="#4a3420" stroke-opacity="0.5" stroke-width="1.5" d="M266.6 650.4l-0.2 0M334 674.5l0 0.1"/>
<path stroke="#5a422c" stroke-opacity="0.5" stroke-width="1" d="M366.6 651.5l0.7 0.4M307.5 620.8l0.1 0.2M300.7 628.4l-0.1 0.2M332.6 605.9l-0 0.1M324.7 588.4l0.3 0.4"/>
<path stroke="#5a422c" stroke-opacity="0.5" stroke-width="1.5" d="M334.7 650.9l0.1 0"/>
</g>
</g>
<g clip-path="url(#cp3)" fill="none" stroke-linecap="round">
<rect x="372.9" y="575.7" width="103.5" height="103.2" fill="#b0b8d5"/>
<g filter="url(#bl)">
<path stroke="#7a6852" stroke-opacity="0.5" stroke-width="3.5" d="M378.9 631.8l1.1 2.3"/>
<path stroke="#7a6852" stroke-opacity="0.5" stroke-width="4" d="M477.9 673.1l0.2 2.3M402.7 585.1l2.3 1.4M426.6 612.3l2.8 0.4"/>
<path stroke="#7a6852" stroke-opacity="0.5" stroke-width="4.5" d="M406.6 634.1l2.1 0.4M429.4 588.3l-1.9 2.5M427.8 600l-0.9 1.6M401.6 652.6l-1.9 1.5"/>
<path stroke="#7a6852" stroke-opacity="0.5" stroke-width="5" d="M381.6 649.2l0.3 1.1M387.2 642.6l1.1 2.4M442.4 632.8l-1.5 2.3M395.6 669.9l-0.1 1.7M387.3 675.8l-1.1 0.4M411.7 583.8l-0.6 1.3M390.3 637.4l-0 2.5M375.4 622l-1 1"/>
<path stroke="#7a6852" stroke-opacity="0.5" stroke-width="5.5" d="M403.1 647.1l0.2 1.2M415.4 597l1.5 0.7M423.6 675.5l1.6 0.4M475 608l1.8 0.9"/>
<path stroke="#7a6852" stroke-opacity="0.5" stroke-width="6" d="M394.4 588.1l0.2 0.4M441.1 644.5l-0.4 0.1M381.6 617.8l0.5 0.1M444.2 616.4l0.2 0M428.7 639.5l-0.4 0.3"/>
<path stroke="#7a6852" stroke-opacity="0.5" stroke-width="6.5" d="M377.6 574.9l-0.1 0.2M463.9 575l0.3 0.9"/>
<path stroke="#7a6852" stroke-opacity="0.5" stroke-width="7" d="M422.8 681.1l-0.2 0"/>
<path stroke="#85725c" stroke-opacity="0.5" stroke-width="4" d="M478.6 636.1l-2 2.3M376.3 617.2l-2 0.2M377.7 653.6l1.2 1.6M459.3 630.3l-1.5 2.5M371.5 572.4l-0.7 2"/>
<path stroke="#85725c" stroke-opacity="0.5" stroke-width="4.5" d="M388.1 616.9l1.6 0.2M451.6 638.1l2.2 0.4"/>
<path stroke="#85725c" stroke-opacity="0.5" stroke-width="5" d="M410.9 613.9l-0.9 1.2M398.5 623.8l-0.1 1.2M402.1 632.7l-1.1 1.1M414 664.2l-1.1 1.3"/>
<path stroke="#85725c" stroke-opacity="0.5" stroke-width="5.5" d="M399.1 600.2l1.2 1.9M411.9 638.2l0.5 0.5M459.1 648l0.4 0.4M456.9 667.7l1.1 0.2"/>
<path stroke="#85725c" stroke-opacity="0.5" stroke-width="6" d="M424.9 583.9l0 0.1M375.7 669l-0.4 0.4M418.3 664.3l0.2 0.1M436.9 631l0 0.2"/>
<path stroke="#85725c" stroke-opacity="0.5" stroke-width="6.5" d="M436.2 668l-0.8 0.6M465.3 662.8l-0.1 0.9M372.1 627.5l-0.1 0.9"/>
<path stroke="#8c7a65" stroke-opacity="0.5" stroke-width="3.5" d="M416.6 678.6l-1 2.5M452.4 668l1.1 2.7"/>
<path stroke="#8c7a65" stroke-opacity="0.5" stroke-width="4.5" d="M390.7 658.5l-2.3 1.6M467.9 589.6l0.7 2.6M425.6 606.9l3.1 0.1M395.8 628.7l2.5 0.7"/>
<path stroke="#8c7a65" stroke-opacity="0.5" stroke-width="5" d="M390.9 581.9l-1.6 1.7M462.8 617.5l-0 2.4M385.2 681.1l2.3 0.1"/>
<path stroke="#8c7a65" stroke-opacity="0.5" stroke-width="5.5" d="M399.1 660.1l-2 0.8M370.7 677.5l-0.9 1.2"/>
<path stroke="#8c7a65" stroke-opacity="0.5" stroke-width="6" d="M389.5 670.7l0.3 0.2"/>
<path stroke="#8c7a65" stroke-opacity="0.5" stroke-width="6.5" d="M409.9 648.7l0.4 0.1M459.5 678.2l0.4 0.4"/>
<path stroke="#8c7a65" stroke-opacity="0.5" stroke-width="7" d="M385.6 631.1l-0.5 0.1"/>
<path stroke="#9a8a77" stroke-opacity="0.55" stroke-width="3" d="M473.6 678.4l-0.8 2.6"/>
<path stroke="#9a8a77" stroke-opacity="0.55" stroke-width="3.5" d="M454.6 655l-0.9 2.3"/>
<path stroke="#9a8a77" stroke-opacity="0.55" stroke-width="4" d="M401.9 680.1l-0.6 1.6"/>
<path stroke="#9a8a77" stroke-opacity="0.55" stroke-width="4.5" d="M383.3 595.7l-0.2 2.5M479.6 681.2l-0.9 0.4"/>
<path stroke="#9a8a77" stroke-opacity="0.55" stroke-width="5" d="M374.7 606.6l-1.9 0.3M419.1 671l-2 0.1M390.4 575.3l2 0.8"/>
<path stroke="#9a8a77" stroke-opacity="0.55" stroke-width="5.5" d="M388.1 665l0.6 0.6M470.4 649.7l-0.2 0.4"/>
<path stroke="#9a8a77" stroke-opacity="0.55" stroke-width="6" d="M376.9 646.6l0.1 0.3M466.3 646.3l0.2 0.4"/>
<path stroke="#9a8a77" stroke-opacity="0.55" stroke-width="7" d="M449.7 644.6l0.1 0"/>
<path stroke="#a19281" stroke-opacity="0.55" stroke-width="4" d="M422.9 598.2l-1.6 1.3M459.2 605.7l2.1 1.7M465.1 668.6l-0.6 1.4M479.8 655.5l-1.5 1.5"/>
<path stroke="#a19281" stroke-opacity="0.55" stroke-width="4.5" d="M408.3 599.4l0.9 1.9M384.4 583.7l-0.4 2.2M390.5 629.3l1.8 0.7M458.3 612.8l1.7 1.3"/>
<path stroke="#a19281" stroke-opacity="0.55" stroke-width="5" d="M380 667.5l-0 0.6M434.2 573.5l1.3 0.1M404.7 641.1l0 1M445 577l0.2 0.9M375.4 676.6l0.1 2"/>
<path stroke="#a19281" stroke-opacity="0.55" stroke-width="5.5" d="M454.4 620l0.3 0.6"/>
<path stroke="#a19281" stroke-opacity="0.55" stroke-width="6" d="M468 610.8l0.5 1"/>
<path stroke="#b0a392" stroke-opacity="0.8" stroke-width="2.5" d="M460.4 598.7l-2 0.7"/>
<path stroke="#b0a392" stroke-opacity="0.8" stroke-width="3" d="M423.6 669.5l1.7 1.9"/>
<path stroke="#b0a392" stroke-opacity="0.8" stroke-width="3.5" d="M438.5 622.8l0.3 1.4M470 605.1l0.6 1.9"/>
<path stroke="#b0a392" stroke-opacity="0.8" stroke-width="4" d="M444.7 584.7l0.9 0.9M390.1 621.6l1.1 0.3"/>
<path stroke="#b0a392" stroke-opacity="0.8" stroke-width="5" d="M425 664.6l0.1 0.9M390.1 611.3l-0.2 0.6"/>
<path stroke="#a89a88" stroke-opacity="0.8" stroke-width="2.5" d="M441 572l-1.5 1.1"/>
<path stroke="#a89a88" stroke-opacity="0.8" stroke-width="3.5" d="M449.9 584.6l1.3 0.8M470.4 638.7l-0.3 1.2M370.9 660.8l0.4 0.4"/>
<path stroke="#a89a88" stroke-opacity="0.8" stroke-width="4.5" d="M475.2 585.4l-0.1 0"/>
<path stroke="#a89a88" stroke-opacity="0.8" stroke-width="5" d="M434.7 641.9l0.3 0M449.3 664l-0.7 0.2"/>
<path stroke="#9f907d" stroke-opacity="0.8" stroke-width="2.5" d="M453.2 632.6l-0.9 1.3"/>
<path stroke="#9f907d" stroke-opacity="0.8" stroke-width="3" d="M398.5 615.2l-1.4 0.2M469.2 623.1l-0.8 2.2"/>
<path stroke="#9f907d" stroke-opacity="0.8" stroke-width="3.5" d="M415.3 603.9l1.6 0.5M424 658.7l1.9 1.8"/>
<path stroke="#9f907d" stroke-opacity="0.8" stroke-width="4" d="M457.3 673.6l0.5 0"/>
<path stroke="#8c98c4" stroke-opacity="0.8" stroke-width="3" d="M391 648.2l2 0.7M412.7 670.2l-2.4 0M374.3 655.5l-1.8 0.3"/>
<path stroke="#8c98c4" stroke-opacity="0.8" stroke-width="3.5" d="M412 627.9l0.2 2.5M472.2 672.4l-1.7 1.6M380.6 680.8l-1.9 1.7M371.6 596.7l-1 1.1M453.4 572.1l-1.1 0.5M420.4 636.7l1.3 0.8M444.7 647.4l0.7 1.5"/>
<path stroke="#8c98c4" stroke-opacity="0.8" stroke-width="4" d="M454 606.6l0.2 1.4M420.4 609.9l1.5 0.7M424.2 641.5l-1.9 0.6M394.8 677.8l-2.4 0.6M448.3 621.4l-1.1 1.4M477.7 627.9l0.5 0.8M428.8 628.1l0.7 0.8M381.2 640.3l0.9 1.6M458 659.8l-0.5 0.6M404.2 657.1l-0.5 2M437.2 602.5l1.6 1.7M377.2 610.2l0.8 0.3M462.8 657.9l1.3 0.8M371.8 671.7l-1.6 2"/>
<path stroke="#8c98c4" stroke-opacity="0.8" stroke-width="4.5" d="M422.7 647l0 0.5M428.6 622.6l-0.1 0.2M447.3 634.9l-1.2 0.7M472 654.8l1.3 1.1M409 662.4l-2.1 0.1M478 575.3l1.7 0.3M402.9 667.4l-0.4 0.3M477.6 651.5l-1.6 0.2M447.1 627.1l-0.6 0.3M406.6 679.8l0.9 0.1M439.3 680.1l0.3 0.8"/>
<path stroke="#8c98c4" stroke-opacity="0.8" stroke-width="5" d="M440.6 675l0.7 0.4M413.4 657.6l0.1 0M391.3 598l0.9 0.6M411.6 608.6l-0.1 0.2M474.7 623l0.6 0.3M431.7 632.9l0.1 0M423.6 603.4l-1 1.2"/>
<path stroke="#8c98c4" stroke-opacity="0.8" stroke-width="5.5" d="M452.9 612.8l-0.2 0.2M428.3 654.3l0.4 0.2M472.6 595.6l0.7 0.3M467 653.5l0.2 0.5M479.3 665.4l0 0.1"/>
<path stroke="#8c98c4" stroke-opacity="0.8" stroke-width="6" d="M464.2 674.7l0.1 0.4M397.1 638.3l0.3 0M447.2 592.3l0.1 0.1M447.4 604.4l0.1 0"/>
<path stroke="#8c98c4" stroke-opacity="0.8" stroke-width="6.5" d="M370.5 591l0.1 0"/>
<path stroke="#96a2cc" stroke-opacity="0.8" stroke-width="3" d="M417.3 586.6l-1.1 1.2M429.9 676.1l1.7 1M435 613.8l1.2 1.6M370.9 584.7l-1.5 0.9"/>
<path stroke="#96a2cc" stroke-opacity="0.8" stroke-width="3.5" d="M465.4 601.1l-1 1.6M417.9 573.5l2.4 0.8M441.8 605.8l0.8 2.4M399.8 606.4l0.8 1.9M405.4 605.8l0.2 1.5M453 589.6l-0.3 1.7M386.9 572.8l1.1 1.2"/>
<path stroke="#96a2cc" stroke-opacity="0.8" stroke-width="4" d="M430.8 645.1l-1 0.6M459.6 582.7l-0.8 0.2M413.7 621.4l-0.9 0.3M432.6 659.3l-0 1.4M377.7 598.6l-1.7 1.5M441.1 664.2l1.5 1.6M404.9 626.9l0.2 0.8M448.3 610l0.6 0.1"/>
<path stroke="#96a2cc" stroke-opacity="0.8" stroke-width="4.5" d="M398 584.1l0.4 0.2M423.6 630.1l0.1 0.8M474.1 660.3l0.8 0.2M388.8 603.2l0.3 0.6M429.8 669l0 0.2M479.1 581.2l-0.6 0.6M444.8 641.4l0.6 1.5M431.4 650.1l0.4 1M406.3 651.6l-0.4 0.1M419.2 623.5l-1 1"/>
<path stroke="#96a2cc" stroke-opacity="0.8" stroke-width="5" d="M439.9 588.5l-1.4 0.5M465.7 628.2l0.2 0.5M451.4 597.5l1.3 0M479.4 589.7l-1.3 0.4M447 654.3l0.1 0M417.2 641l1 1"/>
<path stroke="#96a2cc" stroke-opacity="0.8" stroke-width="5.5" d="M476.8 616.3l-0.8 0M459.3 572.9l-0.5 0.6M394.5 652.9l0.1 0M437.6 577.6l0.1 0"/>
<path stroke="#96a2cc" stroke-opacity="0.8" stroke-width="6" d="M472.4 632.2l0.4 0.4M404 616.1l0 0.2"/>
<path stroke="#a0abd2" stroke-opacity="0.8" stroke-width="3" d="M376.9 587.7l-0.2 1.9M400.3 674.2l1.3 2M397.4 646.4l-1.3 1M448.8 677.6l-2.4 0.7M465.4 595.9l-1.3 1.3M409 592.4l1 2M382.8 603l1.8 1.4"/>
<path stroke="#a0abd2" stroke-opacity="0.8" stroke-width="3.5" d="M420 632.3l-1.7 0.7M472.7 667.1l-1 0.7M416.7 646l-0.9 1.6M370.7 611.7l-1.5 0.8M373.5 634.3l-1.1 0.4M417.4 579.2l2.1 0.6M459.8 587.3l2.7 1.2M433.4 618.9l-1.7 0.3"/>
<path stroke="#a0abd2" stroke-opacity="0.8" stroke-width="4" d="M421.9 619.9l1.8 0.3M434.6 582.2l0.4 0.9M441.9 657.5l-1.5 0.1M466.1 583.2l-0.7 1.9M373 579.2l-2.4 0.9M426.4 634.9l1 0.5M419.2 591.3l-1.2 0.6M464.4 641l-1.9 0.2M451.1 576.5l-1.4 2.1M470 616.8l1 1.7M387.7 589l-1.8 1.7M434.2 607.1l-0.9 0.9M436.3 635.4l0.8 1.2"/>
<path stroke="#a0abd2" stroke-opacity="0.8" stroke-width="4.5" d="M378.2 661.8l0.4 0.5M428.8 574.2l-0.3 1.4M457.7 626l-0.4 0.8M407.6 621.7l0.6 0.9M408 572.9l0.3 0.9M381.2 673.3l0.3 0.7M417.1 653.1l0.1 0.4M431.7 601.7l0.3 0.4M469 659.5l-0.3 0.4"/>
<path stroke="#a0abd2" stroke-opacity="0.8" stroke-width="5" d="M372.6 649.5l-0.3 0M443.1 596.2l0.7 1.2M381.6 624.1l0.3 0.2M425.5 593.6l-0.6 0"/>
<path stroke="#a0abd2" stroke-opacity="0.8" stroke-width="5.5" d="M383.4 609.2l0.3 0.8M400.3 576.1l-0.1 0.1M478.4 598.7l0.7 0.1M469.7 681.2l-0.9 0.3M386.1 578.8l-0.8 0.6M460.5 653.7l0.3 0.3M385.5 654.6l-0.1 0"/>
<path stroke="#a0abd2" stroke-opacity="0.8" stroke-width="6" d="M417.1 614.4l0.1 0.4"/>
<path stroke="#a0abd2" stroke-opacity="0.8" stroke-width="6.5" d="M479.3 645.7l0.1 0"/>
<path stroke="#f5f6fa" stroke-opacity="0.8" stroke-width="3.5" d="M472.9 601.6l-1.3 0.7M376.6 640.2l-1 1.1"/>
<path stroke="#f5f6fa" stroke-opacity="0.8" stroke-width="4" d="M473.4 644.9l0.1 1.2"/>
<path stroke="#f5f6fa" stroke-opacity="0.8" stroke-width="4.5" d="M452.2 680.3l0.9 0.3M395.3 606l-0.3 1.5"/>
<path stroke="#f5f6fa" stroke-opacity="0.8" stroke-width="5" d="M407.7 674.1l1.3 0.5M457 592.5l-0.1 0.1M376.7 582.7l0.3 0"/>
<path stroke="#f5f6fa" stroke-opacity="0.8" stroke-width="5.5" d="M402.4 593.2l0.9 0.6"/>
<path stroke="#eef0f6" stroke-opacity="0.8" stroke-width="2.5" d="M436.8 649l0.2 2.1"/>
<path stroke="#eef0f6" stroke-opacity="0.8" stroke-width="3.5" d="M471.9 579.2l0.6 1.6"/>
<path stroke="#eef0f6" stroke-opacity="0.8" stroke-width="4" d="M379 592.6l-1.2 1.8"/>
<path stroke="#eef0f6" stroke-opacity="0.8" stroke-width="4.5" d="M407.5 579.4l1.3 0.8"/>
<path stroke="#eef0f6" stroke-opacity="0.8" stroke-width="5.5" d="M435 595.3l-0.6 0.5"/>
<path stroke="#e6e9f2" stroke-opacity="0.8" stroke-width="4" d="M469.6 573.7l0.9 2.2"/>
<path stroke="#e6e9f2" stroke-opacity="0.8" stroke-width="4.5" d="M457.5 639.7l1 1.1"/>
<path stroke="#e6e9f2" stroke-opacity="0.8" stroke-width="5.5" d="M419 657.9l-0.3 0.5"/>
<path stroke="#5a422d" stroke-opacity="0.92" stroke-width="3" d="M380.5 617.2l2.4 0.5M457.1 668.3l2.4 0.4M451 638.5l2.7 0.5"/>
<path stroke="#5a422d" stroke-opacity="0.92" stroke-width="3.5" d="M402.7 631.4l-2 2M412.2 583.9l-0.6 1.3M436.2 630.2l0.1 1.5M413.6 664.6l-1.1 1.4"/>
<path stroke="#5a422d" stroke-opacity="0.92" stroke-width="4" d="M423.3 681.1l-1.2 0"/>
<path stroke="#5a422d" stroke-opacity="0.92" stroke-width="4.5" d="M380.9 648.5l0.6 1.9M426.2 612.4l1.6 0.2"/>
<path stroke="#5a422d" stroke-opacity="0.92" stroke-width="5" d="M398.7 660l-1.5 0.6M463.7 574.9l0.6 1.6M397 629.7l1 0.3"/>
<path stroke="#5a422d" stroke-opacity="0.92" stroke-width="5.5" d="M387 675.7l-0.5 0.2"/>
<path stroke="#5a422d" stroke-opacity="0.92" stroke-width="6" d="M388.1 616.3l0.4 0"/>
<path stroke="#5a422d" stroke-opacity="0.92" stroke-width="6.5" d="M427.3 600.3l-0.2 0.3"/>
<path stroke="#463322" stroke-opacity="0.92" stroke-width="3" d="M410.9 613.7l-1.3 1.8M442.7 633l-1.3 1.9M377.2 573.9l-0.6 1.8"/>
<path stroke="#463322" stroke-opacity="0.92" stroke-width="3.5" d="M372.6 627.4l-0.1 1.3"/>
<path stroke="#463322" stroke-opacity="0.92" stroke-width="4" d="M388.9 670.5l2.2 1.3M386.4 681.1l0.9 0.1"/>
<path stroke="#463322" stroke-opacity="0.92" stroke-width="4.5" d="M475.7 607.5l0.7 0.4M390.1 638.3l-0 0.7"/>
<path stroke="#463322" stroke-opacity="0.92" stroke-width="5" d="M436.5 668l-1.2 0.9M390.2 582.5l-1.2 1.4M478 636.4l-0.1 0.2M427.2 607.5l0.9 0M458.7 630.7l-0.8 1.2"/>
<path stroke="#463322" stroke-opacity="0.92" stroke-width="5.5" d="M399.5 600.2l0.1 0.2M462.3 618.1l-0 0.3"/>
<path stroke="#463322" stroke-opacity="0.92" stroke-width="6" d="M378.2 653.8l0.5 0.7"/>
<path stroke="#463322" stroke-opacity="0.92" stroke-width="6.5" d="M402.6 647.9l0 0.1"/>
<path stroke="#4f3926" stroke-opacity="0.92" stroke-width="3" d="M428.6 588.6l-1.3 1.8"/>
<path stroke="#4f3926" stroke-opacity="0.92" stroke-width="3.5" d="M415.6 597.4l1.2 0.6M444.1 615.4l2.3 0.2M370.9 572.2l-0.6 1.8"/>
<path stroke="#4f3926" stroke-opacity="0.92" stroke-width="4" d="M399.1 622.5l-0.2 3M401.9 652.4l-1.2 0.9"/>
<path stroke="#4f3926" stroke-opacity="0.92" stroke-width="4.5" d="M407.4 634.5l0.4 0.1M375.8 617l-2.2 0.3"/>
<path stroke="#4f3926" stroke-opacity="0.92" stroke-width="5" d="M465.6 662l-0.1 1.6M478.4 673.9l0.1 0.7"/>
<path stroke="#4f3926" stroke-opacity="0.92" stroke-width="5.5" d="M410.1 648.4l0.9 0.3"/>
<path stroke="#4f3926" stroke-opacity="0.92" stroke-width="6" d="M387.7 643.4l0.3 0.7M428.2 639.4l-0.8 0.5"/>
<path stroke="#4f3926" stroke-opacity="0.92" stroke-width="6.5" d="M458.7 678.8l0.3 0.3"/>
<path stroke="#644c35" stroke-opacity="0.92" stroke-width="3" d="M458.9 646.6l2.5 2.1"/>
<path stroke="#644c35" stroke-opacity="0.92" stroke-width="3.5" d="M370.9 678.2l-1.3 1.8"/>
<path stroke="#644c35" stroke-opacity="0.92" stroke-width="4" d="M423.9 583.6l0.5 0.9M394.2 587.4l1 2.3M411.1 638l1.2 1.3M467.8 590.5l0.8 2.7M395.5 671l-0.1 1.2M418.1 664.2l1.6 1.1M385.4 630.5l-0.9 0.2"/>
<path stroke="#644c35" stroke-opacity="0.92" stroke-width="4.5" d="M374.6 622.5l-1.4 1.3"/>
<path stroke="#644c35" stroke-opacity="0.92" stroke-width="5" d="M417.2 679.1l-0.7 1.7M389.1 659.9l-1 0.7M423.8 675.5l1.6 0.4M375.9 669.3l-0.5 0.4"/>
<path stroke="#644c35" stroke-opacity="0.92" stroke-width="5.5" d="M379.9 632.8l0.2 0.5M402.9 586.2l1 0.6"/>
<path stroke="#644c35" stroke-opacity="0.92" stroke-width="6" d="M440.9 644.1l0.1 0"/>
<path stroke="#644c35" stroke-opacity="0.92" stroke-width="6.5" d="M452.2 669.9l0 0.1"/>
<path stroke="#644d38" stroke-opacity="0.88" stroke-width="3" d="M449.1 644.5l2.2 0.9"/>
<path stroke="#644d38" stroke-opacity="0.88" stroke-width="4" d="M434.2 572.9l0.8 0M391.6 576.3l0.5 0.2M445 576.5l0.2 1M458.5 613.8l0.7 0.6"/>
<path stroke="#644d38" stroke-opacity="0.88" stroke-width="4.5" d="M453.8 656.5l0.1 0M405.3 640.3l0 0.8M473.9 679.3l-0.3 1.1"/>
<path stroke="#644d38" stroke-opacity="0.88" stroke-width="5" d="M454.7 619.9l0.3 0.7M384.4 584.8l-0 0.2"/>
<path stroke="#644d38" stroke-opacity="0.88" stroke-width="5.5" d="M418.4 671.4l-0.6 0"/>
<path stroke="#7a634d" stroke-opacity="0.88" stroke-width="2.5" d="M422.1 597.7l-1.3 1.1M380.2 666.7l-0.1 1.5"/>
<path stroke="#7a634d" stroke-opacity="0.88" stroke-width="3" d="M409 599.7l0.5 1"/>
<path stroke="#7a634d" stroke-opacity="0.88" stroke-width="3.5" d="M468.1 611l0.4 0.9M375.7 675.7l0.1 2.7M479.7 655.4l-0.8 0.8"/>
<path stroke="#7a634d" stroke-opacity="0.88" stroke-width="4" d="M373.7 606.7l-0.6 0.1M460.4 606l0.9 0.7"/>
<path stroke="#7a634d" stroke-opacity="0.88" stroke-width="4.5" d="M390.7 629l1 0.4"/>
<path stroke="#7a634d" stroke-opacity="0.88" stroke-width="5" d="M382.5 596.8l-0.1 1M376.8 646.9l0.3 0.7"/>
<path stroke="#6f5842" stroke-opacity="0.88" stroke-width="2" d="M401.9 680.7l-0.8 2.1"/>
<path stroke="#6f5842" stroke-opacity="0.88" stroke-width="3.5" d="M465.8 667.8l-0.8 1.7M388.1 664.3l1.8 1.9M471.1 649.5l-0.4 0.6"/>
<path stroke="#6f5842" stroke-opacity="0.88" stroke-width="4" d="M480 680.9l-1.9 0.9"/>
<path stroke="#6f5842" stroke-opacity="0.88" stroke-width="5" d="M466.6 645.8l0.4 0.9"/>
<path stroke="#3e2b1b" stroke-opacity="0.85" stroke-width="1.5" d="M410.5 613l-1 1.4"/>
<path stroke="#3e2b1b" stroke-opacity="0.85" stroke-width="2" d="M378.3 652.9l1.1 1.5M390.9 637.6l-0 2.3M402 652.6l-1.5 1.2"/>
<path stroke="#3e2b1b" stroke-opacity="0.85" stroke-width="2.5" d="M398.5 624l-0 0.8M415.8 597.3l0.9 0.4M389.3 660l-1 0.7M428.6 638.8l-1.7 1"/>
<path stroke="#3e2b1b" stroke-opacity="0.85" stroke-width="3" d="M458.4 676.9l0.7 0.7M464.9 574.6l0.7 1.9M370.2 677.7l-0.6 0.8"/>
<path stroke="#3e2b1b" stroke-opacity="0.85" stroke-width="3.5" d="M375.4 670.2l-0.7 0.6M435.7 629.2l0 0.6"/>
<path stroke="#3e2b1b" stroke-opacity="0.85" stroke-width="4" d="M380.3 649.6l0.3 1M427.3 606.9l0.5 0M444.9 615.5l0.2 0M453 639.3l0.7 0.1"/>
<path stroke="#3e2b1b" stroke-opacity="0.85" stroke-width="4.5" d="M427.6 613.4l0.3 0"/>
<path stroke="#3e2b1b" stroke-opacity="0.85" stroke-width="5" d="M463.5 619.7l0.1 0"/>
<path stroke="#4a3423" stroke-opacity="0.85" stroke-width="2" d="M399.7 660.8l-1.3 0.5M441.2 633.5l-0.8 1.2M371.4 571.5l-0.5 1.5"/>
<path stroke="#4a3423" stroke-opacity="0.85" stroke-width="2.5" d="M376.9 617l-2.3 0.3M415.8 679l-0.4 1.1M417.8 663.3l1.3 1M375.2 623l-1.1 1"/>
<path stroke="#4a3423" stroke-opacity="0.85" stroke-width="3" d="M403.3 585.8l1.2 0.7M381.9 617.6l1 0.2M451.3 669.9l0.4 0.9M410.6 583.6l-0.3 0.6M396 630.5l0.9 0.2"/>
<path stroke="#4a3423" stroke-opacity="0.85" stroke-width="3.5" d="M398.8 600.6l0.1 0.1M407.9 635.7l1.1 0.2M441.9 643.5l-0.8 0.2M458.4 648.4l0.1 0M389.2 617.2l0.2 0"/>
<path stroke="#4a3423" stroke-opacity="0.85" stroke-width="4" d="M379.6 632.1l0.2 0.3M393.9 670.8l0.1 0M386 674.6l-0.6 0.2M458.4 630.4l-0.5 0.9M456.7 667.2l0.1 0M423.9 682.4l-0.7 0M427.3 601.1l-0.1 0.1"/>
<path stroke="#4a3423" stroke-opacity="0.85" stroke-width="4.5" d="M402.2 646.8l0 0.3M392.9 589.7l0.2 0.5M464.5 663.4l-0 0.5M428.6 589l-0.2 0.3"/>
<path stroke="#54402c" stroke-opacity="0.85" stroke-width="2" d="M385.6 629.9l-2.5 0.4M414 665l-1.3 1.6"/>
<path stroke="#54402c" stroke-opacity="0.85" stroke-width="2.5" d="M436.6 668.7l-0.9 0.7M378.6 574.5l-0.7 2.2"/>
<path stroke="#54402c" stroke-opacity="0.85" stroke-width="3" d="M423 581.9l1 1.7M476.6 636.3l-0.4 0.5M477.9 673.3l0 0.2M411.1 647l1.2 0.4M411 638l0.2 0.2M424 676.9l0.9 0.2M402.8 631.8l-0.2 0.2M388.3 669.9l0.7 0.4"/>
<path stroke="#54402c" stroke-opacity="0.85" stroke-width="3.5" d="M387.5 644.1l0.3 0.6M390.6 582.7l-0.4 0.5M373.5 626.3l-0.1 1.3M474.9 608.3l0.8 0.4M386.5 680.8l0.1 0"/>
<path stroke="#54402c" stroke-opacity="0.85" stroke-width="4" d="M467.1 592.4l0.1 0.3"/>
<path stroke="#58422e" stroke-opacity="0.6" stroke-width="1.5" d="M454.3 656.1l-0.7 1.7M401.5 679.6l-0.6 1.7"/>
<path stroke="#58422e" stroke-opacity="0.6" stroke-width="2" d="M406.1 640.2l0 0.1M445.8 576.1l0.3 1.2M376.1 675.7l0 1.2"/>
<path stroke="#58422e" stroke-opacity="0.6" stroke-width="2.5" d="M451.1 644.6l0.6 0.2M421.5 599.2l-0.7 0.5M472 650.6l-0.5 0.7"/>
<path stroke="#58422e" stroke-opacity="0.6" stroke-width="3" d="M478.7 679.8l-0.2 0.1"/>
<path stroke="#4f3a27" stroke-opacity="0.6" stroke-width="1" d="M465.5 646.9l0.7 1.5"/>
<path stroke="#4f3a27" stroke-opacity="0.6" stroke-width="1.5" d="M468.9 611l0.3 0.7M391.4 576.6l0.7 0.3M454.8 620.4l0.3 0.6M390.7 629.5l1 0.4M458.3 612.8l1.2 1"/>
<path stroke="#4f3a27" stroke-opacity="0.6" stroke-width="2" d="M372.9 607.2l-0.7 0.1M474.8 679l-0.2 0.6"/>
<path stroke="#4f3a27" stroke-opacity="0.6" stroke-width="2.5" d="M382.4 595.8l-0 0.5M376.7 647.7l0.4 0.9M379.4 666.9l-0.1 1M417.4 670.1l-0.2 0M464.3 668.2l-0.4 0.9M389.6 665.7l0.3 0.3"/>
<path stroke="#4f3a27" stroke-opacity="0.6" stroke-width="3" d="M409.5 599.5l0.3 0.6M433.7 573.6l0.7 0M384.9 584.6l-0 0.2"/>
<path stroke="#4f3a27" stroke-opacity="0.6" stroke-width="3.5" d="M460.3 605.6l0.1 0.1M478.3 655.2l-0.1 0.1"/>
<path stroke="#2e1d10" stroke-opacity="0.7" stroke-width="1" d="M442.4 633.5l-0.6 0.9M478.9 674.6l0.1 1M412 637.4l0.9 0.9M387.3 674.4l-0.9 0.3"/>
<path stroke="#2e1d10" stroke-opacity="0.7" stroke-width="1.5" d="M399.1 600.6l0.7 1.2M390.9 582.5l-0.6 0.6M408.3 635.5l0.6 0.1M416.3 595.8l1.7 0.8M468.6 589.9l0.3 0.9M459.9 646.7l0.4 0.4M378.5 574.1l-0.4 1.3"/>
<path stroke="#2e1d10" stroke-opacity="0.7" stroke-width="2" d="M436.1 666.9l-0.2 0.2M465.1 663.9l0.1 0M389.8 659.9l-0.2 0.1M395.5 671.1l-0.1 0.7M462.1 618.3l-0 0.6M459.9 631.5l-0.4 0.6M457.8 669l1.4 0.3M370.9 572.5l0.1 0"/>
<path stroke="#2e1d10" stroke-opacity="0.7" stroke-width="2.5" d="M381.3 648.2l0.3 1M409.5 646.9l1 0.3M401.1 631.5l-0.3 0.3M418.9 663.8l0.9 0.6M426.9 612.5l0.5 0.1M372 679l-0.4 0.6M385.5 630.5l-0.6 0.1"/>
<path stroke="#2e1d10" stroke-opacity="0.7" stroke-width="3" d="M398.3 660l-0.3 0.1M423.6 584.2l0.4 0.7M400.5 653.6l-0.4 0.3M435.8 629.3l0 0.3M375.2 622.9l-0.5 0.5"/>
<path stroke="#24170c" stroke-opacity="0.7" stroke-width="1" d="M413.3 665.5l-0.5 0.7"/>
<path stroke="#24170c" stroke-opacity="0.7" stroke-width="1.5" d="M401.8 646.1l0.3 1.7M388.8 644.5l0.4 0.8M410.8 613.6l-0.4 0.5M400.1 624.7l-0 0.5M417.4 679.1l-0.4 1.1M379.4 654.4l0.8 1.1M459 678.4l1 0.9M388.3 617.7l1.4 0.1M422.7 682l-1.4 0M444.9 616.2l0.7 0.1M411.9 584.3l-0.8 1.6M389.4 670.4l1.5 0.9"/>
<path stroke="#24170c" stroke-opacity="0.7" stroke-width="2" d="M478.2 637.2l-0.9 1M372.3 627l-0 0.2M379.1 632.5l0.3 0.8M423.9 675.9l0.4 0.1M376.7 668.7l-1 0.9M476.6 606.9l1.3 0.7M426.5 607.7l0.2 0M380.6 617.2l1.3 0.3M425.7 601.2l-0 0.1M452.9 669.7l0.1 0M389.8 637.1l-0 1.2M387.2 681.7l0.1 0M451.5 639.7l0.8 0.2M397.6 629.2l0.3 0.1"/>
<path stroke="#24170c" stroke-opacity="0.7" stroke-width="2.5" d="M394.1 587.3l0.5 1.2M440.8 644.2l-0.3 0.1M403 585.4l0.8 0.5M463.5 574.9l0.1 0.2"/>
<path stroke="#24170c" stroke-opacity="0.7" stroke-width="3" d="M428.9 588.9l-0.1 0.2M428.4 639.1l-0.3 0.2"/>
<path stroke="#24170c" stroke-opacity="0.7" stroke-width="3.5" d="M375.3 616.2l0.1 0"/>
</g>
<g filter="url(#b0)">
<path stroke="#4a3420" stroke-opacity="0.5" stroke-width="0.5" d="M383.9 613.6l0.4 0.4"/>
<path stroke="#4a3420" stroke-opacity="0.5" stroke-width="1" d="M464.7 673.2l0.2 0.1M376.2 639.8l-0.1 0M448.1 670.1l-0.1 0.6M432.2 677l-0.5 0.1M414.3 650.1l0.1 0.3M460.3 647.6l0 0.4M400.9 588.5l-0.2 0.1M442.5 587.5l0.4 0.1M426.3 602l-0.2 0.4"/>
<path stroke="#4a3420" stroke-opacity="0.5" stroke-width="2" d="M381.6 601.9l0.1 0"/>
<path stroke="#6b523a" stroke-opacity="0.5" stroke-width="1" d="M450.6 636l-0.1 0.2M402.4 585.5l-0.1 0.3M378 673.7l0.2 0.1M470.9 602.3l0.1 0M404.6 584.2l-0.2 0.5"/>
<path stroke="#6b523a" stroke-opacity="0.5" stroke-width="1.5" d="M416 616.4l0.1 0M405.8 662.9l-0.2 0.1M422.7 587.6l0.3 0.1M376.4 575.9l0.1 0M438.4 580.9l0.1 0M384.4 652l0.1 0M431.7 587.4l0 0.2"/>
<path stroke="#5a422c" stroke-opacity="0.5" stroke-width="1" d="M379.1 573.8l-0.4 0.1M398.9 633.9l-0.1 0M448.3 668.7l0.6 0.1M468 581.7l-0.1 0.5M403.6 580.6l0.3 0.6"/>
<path stroke="#5a422c" stroke-opacity="0.5" stroke-width="1.5" d="M468.8 636.9l0 0.2M381.6 625.8l0.1 0"/>
</g>
</g>
<g clip-path="url(#cp4)" fill="none" stroke-linecap="round">
<rect x="44.4" y="685" width="103.4" height="101.9" fill="#c0bae4"/>
<g filter="url(#b2)">
<path stroke="#dcdaf0" stroke-opacity="0.6" stroke-width="4.5" d="M78 734.1l2.5 0.6"/>
<path stroke="#dcdaf0" stroke-opacity="0.6" stroke-width="5.5" d="M60.9 780.1l-0.8 1.3"/>
<path stroke="#dcdaf0" stroke-opacity="0.6" stroke-width="6" d="M92.8 785l1.1 0M142.9 728l-0.5 0.7"/>
<path stroke="#dcdaf0" stroke-opacity="0.6" stroke-width="6.5" d="M122.4 690.2l-0.7 4.3M107.1 776.3l-2.4 0.5"/>
<path stroke="#dcdaf0" stroke-opacity="0.6" stroke-width="7" d="M105.8 737.7l2 1.3"/>
<path stroke="#dcdaf0" stroke-opacity="0.6" stroke-width="8" d="M61 756l-1.8 0.1"/>
<path stroke="#dcdaf0" stroke-opacity="0.6" stroke-width="9" d="M116.4 778l-2.7 0.3"/>
<path stroke="#dcdaf0" stroke-opacity="0.6" stroke-width="9.5" d="M63 754.1l1.2 0.5"/>
<path stroke="#e4e3f4" stroke-opacity="0.6" stroke-width="6.5" d="M77.6 735.7l0.2 0M144.3 736.1l1.4 0.1"/>
<path stroke="#e4e3f4" stroke-opacity="0.6" stroke-width="7" d="M93.5 770.5l0.1 0.2"/>
<path stroke="#e4e3f4" stroke-opacity="0.6" stroke-width="8" d="M88 788.3l2.6 0.3"/>
<path stroke="#e4e3f4" stroke-opacity="0.6" stroke-width="8.5" d="M59.5 718.8l2.2 2.1"/>
<path stroke="#e4e3f4" stroke-opacity="0.6" stroke-width="9.5" d="M51.2 758.8l2.4 0.5"/>
<path stroke="#a195d2" stroke-opacity="0.5" stroke-width="5" d="M108.5 761.3l-2.1 1.3"/>
<path stroke="#a195d2" stroke-opacity="0.5" stroke-width="6" d="M96.6 761.8l0 0.3M49.7 763.9l-1 0.1"/>
<path stroke="#a195d2" stroke-opacity="0.5" stroke-width="6.5" d="M67.7 742.3l2.1 0.4"/>
<path stroke="#a195d2" stroke-opacity="0.5" stroke-width="7.5" d="M81.8 699l-0.2 0.7M55.1 712.7l0 0.3"/>
<path stroke="#a195d2" stroke-opacity="0.5" stroke-width="11.5" d="M49.8 718.8l0.1 0"/>
<path stroke="#978bcb" stroke-opacity="0.5" stroke-width="5" d="M52 692.8l1.1 0.3"/>
<path stroke="#978bcb" stroke-opacity="0.5" stroke-width="5.5" d="M56.8 758.4l-1.9 0.9M66.2 699.8l-0.5 1.5"/>
<path stroke="#978bcb" stroke-opacity="0.5" stroke-width="6" d="M71.6 772.4l3.4 2"/>
<path stroke="#978bcb" stroke-opacity="0.5" stroke-width="6.5" d="M133.2 714.4l1 2.5"/>
<path stroke="#978bcb" stroke-opacity="0.5" stroke-width="7" d="M120.9 785.4l0.8 0.2"/>
<path stroke="#978bcb" stroke-opacity="0.5" stroke-width="7.5" d="M128.8 734l-0 1.9"/>
<path stroke="#978bcb" stroke-opacity="0.5" stroke-width="8.5" d="M105.2 710.3l0.1 0"/>
<path stroke="#978bcb" stroke-opacity="0.5" stroke-width="9" d="M58.5 751.5l-2.3 0.8"/>
<path stroke="#cf74bd" stroke-opacity="0.24" stroke-width="5.5" d="M128.9 786.1l2.1 0.8M51 684.1l-2.3 3.1"/>
<path stroke="#cf74bd" stroke-opacity="0.24" stroke-width="6" d="M129.7 758.7l1.2 2"/>
<path stroke="#cf74bd" stroke-opacity="0.24" stroke-width="7.5" d="M145.2 754.6l-1.9 0.8"/>
<path stroke="#cf74bd" stroke-opacity="0.24" stroke-width="8.5" d="M119 776.9l1 1"/>
<path stroke="#cf74bd" stroke-opacity="0.24" stroke-width="9" d="M50.5 690.2l-0 1.1"/>
<path stroke="#d77fc4" stroke-opacity="0.24" stroke-width="5.5" d="M66.8 778l0.1 3.8"/>
<path stroke="#d77fc4" stroke-opacity="0.24" stroke-width="6" d="M62.3 775.3l3.5 0.9"/>
<path stroke="#d77fc4" stroke-opacity="0.24" stroke-width="6.5" d="M93.2 728.2l-1.3 2.2"/>
<path stroke="#d77fc4" stroke-opacity="0.24" stroke-width="7" d="M59.4 728l1.6 1.7M144.8 717.1l-0.3 0.1"/>
<path stroke="#d77fc4" stroke-opacity="0.24" stroke-width="7.5" d="M76 782.9l-2.2 0.1"/>
<path stroke="#d77fc4" stroke-opacity="0.24" stroke-width="8.5" d="M140.7 723.8l0.5 0.3M97.3 708.2l-0.9 0.2"/>
</g>
<g filter="url(#bl)">
<path stroke="#9a92d0" stroke-opacity="0.8" stroke-width="3" d="M116.9 769.3l1.6 0.1M111.7 754.2l-1.4 1"/>
<path stroke="#9a92d0" stroke-opacity="0.8" stroke-width="3.5" d="M108.9 691.6l1.2 1.4M59.7 742.8l-0.9 1.1M66.9 743.4l1.6 1.1M116.1 697.5l-2.3 1.2M145.9 762.8l-0.3 1.2M121.9 708.9l1.3 0M104.5 686.6l0.4 1.5M124.4 684.2l1.8 0.2M121.2 726l0.3 1.5M151.4 773.1l-1.4 1.5M117.9 757.5l-0.4 1.1M68.3 704.7l-0.7 0.9"/>
<path stroke="#9a92d0" stroke-opacity="0.8" stroke-width="4" d="M112.8 761l1.8 0.8M43.8 783.9l-0.4 0.8M145.4 691.4l1.8 0.4M83.5 761.4l1 1.1M48.8 701.1l0.9 1.2M102.6 786.3l0.6 0.4"/>
<path stroke="#9a92d0" stroke-opacity="0.8" stroke-width="4.5" d="M94.9 702.5l1.6 0.1M139.8 762.2l1.1 0.3M60.3 779.1l-0.6 0.2M50.1 728.5l-0.1 0.8M76.9 727.5l-0.6 0.3M65.1 751.6l0.9 1.2M105.3 755.1l-0.6 0.8M59.9 687.1l-0.6 1M54.7 719.1l-0.4 1"/>
<path stroke="#9a92d0" stroke-opacity="0.8" stroke-width="5" d="M128 718l0 1.5M97.7 789.9l-0.1 0.1M48.3 789.1l0.2 0.4M47.7 683.1l0.7 1.3"/>
<path stroke="#9a92d0" stroke-opacity="0.8" stroke-width="5.5" d="M90.3 751.2l0.2 0.5M68.3 728.2l-0.1 0.9M85 785.2l0.1 0.8M119.4 782.7l-0.5 0.1M93 737.6l0.8 0M62.6 764.9l0 1M75.4 715.1l-0.8 0.2"/>
<path stroke="#a39cd8" stroke-opacity="0.8" stroke-width="3" d="M137.8 721.5l-2.1 0.8M132 704.8l0.2 1.9M94.4 745.1l-0.7 2M147.7 786.8l2 0.2M148.1 757l-1.3 1.8"/>
<path stroke="#a39cd8" stroke-opacity="0.8" stroke-width="3.5" d="M148 704.2l1.1 2.2M82.7 681.8l-1.5 0.4M46.6 754.6l1.5 1.1M100.3 721.4l-0.6 2.2M44.5 778.2l1.2 1.5M73.3 781.9l1.1 0.6M129.6 729.1l-1.2 2.1M104.3 772.6l-1.6 1M136.1 757.2l-1.1 1.5"/>
<path stroke="#a39cd8" stroke-opacity="0.8" stroke-width="4" d="M96.3 759.7l0.7 1.6M42.2 773l0.9 0.1M72.1 735.4l-1.8 0.9M107.4 718l-1.1 1.9M114.3 734.4l-0.1 0.9M116.4 787.1l-0.8 0.7M111.3 714.2l-0.3 0.7"/>
<path stroke="#a39cd8" stroke-opacity="0.8" stroke-width="4.5" d="M94.5 686.3l-1.2 0.8M116.8 714.1l1.1 0.9M54 684.4l1 0.8M51.1 767.3l-2 0.8M44.4 727.9l-0.2 0.4M138.1 708.6l-1.3 0.7M148.7 729.2l0.5 0.5M41.3 716.3l-0.1 1M136 698.1l-1.8 0M55.1 772.4l0.2 1.5"/>
<path stroke="#a39cd8" stroke-opacity="0.8" stroke-width="5" d="M58.6 753.7l0.1 0M142.2 738.2l0.2 0.2M128.3 698.7l0.3 1.1M85.5 757.2l-0.8 0M121.2 732l-0.1 0.4M135.7 684.8l-0.4 0.5"/>
<path stroke="#a39cd8" stroke-opacity="0.8" stroke-width="5.5" d="M129.9 754l-0.4 0.5M46.3 749.1l-0.3 1M45.5 687.7l-0.7 0.5M83.1 716.1l0.2 0.2M108.3 737.8l0.3 0.1M101.4 751.4l-0 0.1"/>
<path stroke="#a39cd8" stroke-opacity="0.8" stroke-width="6" d="M144.8 698.2l0.4 0.4M97.8 712.5l0.1 0.1M139.8 701.8l-0.3 0.3"/>
<path stroke="#b1ade1" stroke-opacity="0.8" stroke-width="2.5" d="M102.3 763.6l-0.7 2M61 771.3l1.7 1.3"/>
<path stroke="#b1ade1" stroke-opacity="0.8" stroke-width="3" d="M68.7 692.6l1 1.5M57.8 725l-1.7 0.5M133 736.3l-1.3 1M94.5 727.2l-0.5 2.2M53.4 777.3l1.2 1.9M118.9 763.3l1.2 1.2M116.5 721.1l1.8 0.5M76.7 684.5l1 1.9"/>
<path stroke="#b1ade1" stroke-opacity="0.8" stroke-width="3.5" d="M79.6 708.3l1.3 0.5M120.2 689l0.5 1.2M118.8 703.4l-2.2 1.5M48.2 717l1.8 0.1M135.4 750.6l-1.7 0.6M95.3 717.1l2.1 1.2M67.6 687.9l-2 0.8"/>
<path stroke="#b1ade1" stroke-opacity="0.8" stroke-width="4" d="M108 749.6l0.1 0.8M76.2 704.3l-2.4 0.8M54.8 763l0.6 0.6M86.2 767.2l0.8 0.3M76.9 759.9l0.7 1.3M99.5 780.6l0.2 1.1M108.1 742.7l-0.6 2M80.7 768.8l-0.7 0.3M75.8 690.9l-1.2 1.1M72 788.9l-0.9 0M42.1 754.1l-0.4 0.4M135.5 771.9l-0.1 1.2"/>
<path stroke="#b1ade1" stroke-opacity="0.8" stroke-width="4.5" d="M80.1 749.3l-0.9 0.4M95.1 754.7l0.3 0.2M123.8 746.6l-0.2 0M69.7 770.4l0 0.8M142.1 713.3l0.2 0.3M123.1 718.1l-0.6 1.5M43.3 744.8l-1.1 0.2M97.5 684.1l1.6 0.8M97.7 734.1l1.3 0.3M62 728.4l-0.1 0.1M130.9 788.6l-0.2 0"/>
<path stroke="#b1ade1" stroke-opacity="0.8" stroke-width="5" d="M58.7 697.2l-0.6 0M102.7 730.4l0.3 0.2M78.1 773.4l-0.1 0.6M97.1 696.2l0.3 0.5"/>
<path stroke="#b1ade1" stroke-opacity="0.8" stroke-width="5.5" d="M90.3 788.6l0.3 0.5M45.2 740.2l0.4 0.9M91.6 762.3l-0 0.3"/>
<path stroke="#b1ade1" stroke-opacity="0.8" stroke-width="6" d="M92.9 767.1l0.1 0M133.9 765.3l0.3 0.1"/>
<path stroke="#b1ade1" stroke-opacity="0.8" stroke-width="6.5" d="M79.5 699.6l0 0.1"/>
<path stroke="#aaa5dd" stroke-opacity="0.8" stroke-width="3" d="M88.4 771.5l2.2 0M67.1 778.9l1.1 2.3M46.5 760.5l2 1.3M80.9 741.4l-1.1 2"/>
<path stroke="#aaa5dd" stroke-opacity="0.8" stroke-width="3.5" d="M86.9 776.2l0.6 2.1M57.5 713l0.9 0.7M82.5 780.2l-2.5 1.2M43.5 766.1l2.3 0M76.9 720.1l2 1.1M126.5 734.6l-0.9 2.4M72.1 721.5l1.2 1.4M44.3 733.5l1.8 1.4M106 695.5l0.1 2.1M122.4 695.2l-1.3 1.8M52.1 696.9l2.5 0.5M89.5 733.1l-1.5 0.8"/>
<path stroke="#aaa5dd" stroke-opacity="0.8" stroke-width="4" d="M84.9 729.6l-0.8 0.5M149.2 752.3l0.9 1.2M87.6 706l-1.5 0.3M90.7 695l1.3 0.7M122.4 757.1l2.2 1.1M114.5 710.4l-1.4 0.1M85.5 740.8l0.8 0.2M119.2 751l-0.9 0.1M86.3 684.5l-0.4 1.9M84.3 690.2l-0.8 1.6"/>
<path stroke="#aaa5dd" stroke-opacity="0.8" stroke-width="4.5" d="M63.4 702.2l-0.9 1.6M122.7 701.9l1 0.2M136 788.4l0.8 0.1M141.9 751.9l0.2 1.3M53 737.1l-0.3 1.6M41.5 682.8l0.2 0.9M128.6 711.2l-1.7 0.4M68.2 719.2l0.4 0.5M52.8 710.9l-1 1.2"/>
<path stroke="#aaa5dd" stroke-opacity="0.8" stroke-width="5" d="M43.1 712.4l-0.2 0.1M90.1 714.9l-1.5 0.3M109 783.9l-0.2 0.8M63.6 715l-0.9 0.2M47.7 695.2l0.9 0.1M142.4 771.4l0.5 0.2M113.6 745.8l-1.1 0.2M88.4 699.7l0.3 1.3M42.2 698.4l-0.1 0.4M97.1 769.8l-0.1 0.2M42.8 692.6l-0.3 0.8"/>
<path stroke="#aaa5dd" stroke-opacity="0.8" stroke-width="5.5" d="M43.4 722.4l0.5 0.2M108.3 768.4l0.2 0.6"/>
<path stroke="#aaa5dd" stroke-opacity="0.8" stroke-width="6" d="M56.1 730.7l0.1 0.1"/>
<path stroke="#e8e7f5" stroke-opacity="0.8" stroke-width="2.5" d="M142 728.9l-1.2 0.2M92.2 780.3l-1 2.5"/>
<path stroke="#e8e7f5" stroke-opacity="0.8" stroke-width="3" d="M64.6 721l-0.7 2.6M145.8 722.6l0.6 0.1M115.3 727.8l-0.4 0.9M73.3 753.7l-0.8 0.2M119.8 681.2l-1.7 2.1"/>
<path stroke="#e8e7f5" stroke-opacity="0.8" stroke-width="3.5" d="M134.5 779l-0.5 0.5M73.9 765l-1.7 0.4M90.5 720.7l-0.1 1.8M119.2 741.2l-0.2 0.1"/>
<path stroke="#e8e7f5" stroke-opacity="0.8" stroke-width="4" d="M105.4 781.3l-1.1 0.1M69.8 700l1.2 0.2"/>
<path stroke="#e8e7f5" stroke-opacity="0.8" stroke-width="4.5" d="M49.5 744.6l-0.1 0.2M110.4 682.7l1.2 0.5M65.6 709.5l0.4 1.4M83.8 723.8l-0.4 0.5M53 784.8l0.3 0.2M78.1 736.7l-0.8 0.7M116 687.4l-1.7 0.1"/>
<path stroke="#e8e7f5" stroke-opacity="0.8" stroke-width="5" d="M128.2 782.2l-0.1 0.2M85.1 748.8l0.3 0.3M50.4 723.4l0.1 0M126.2 741.8l0.4 1.1"/>
<path stroke="#e8e7f5" stroke-opacity="0.8" stroke-width="5.5" d="M133 714.9l-0.1 0.5"/>
<path stroke="#d5d3ec" stroke-opacity="0.8" stroke-width="2" d="M109.5 703.5l1 1.8"/>
<path stroke="#d5d3ec" stroke-opacity="0.8" stroke-width="2.5" d="M61.6 692.1l0.9 0.9M103.3 699.4l-2.3 0.8M100.7 690.8l0.4 1.1M100.7 745.1l-0.7 0.9"/>
<path stroke="#d5d3ec" stroke-opacity="0.8" stroke-width="3" d="M132 744.8l-0.7 0.6M66.9 757.4l-1 1.2M146.2 683.1l0.6 0.9M141 782.9l-1.1 0.2M125.5 761.4l0.2 0.8M57.8 785.5l0.4 1.3"/>
<path stroke="#d5d3ec" stroke-opacity="0.8" stroke-width="3.5" d="M58.4 735.5l-0.2 0.4M93.7 774.6l1.4 1.7M141.3 776.6l-0.4 2M61.9 759.1l-0.4 0.9M54.4 749l0.4 1.2M54.2 755.1l-1.6 1.5M107.9 762.9l0.2 0.6"/>
<path stroke="#d5d3ec" stroke-opacity="0.8" stroke-width="4" d="M147.3 735.4l1.3 0.5M83.9 734.9l-1.1 0.2M51.2 691.3l0.9 1.4M125.7 691.4l-0.2 0.2"/>
<path stroke="#d5d3ec" stroke-opacity="0.8" stroke-width="4.5" d="M49.6 773.4l0.6 0.5M147 741l0.2 0.7M110.1 724.4l0 0.1"/>
<path stroke="#d5d3ec" stroke-opacity="0.8" stroke-width="5" d="M126.9 724.8l1.1 0.3M136.6 693.6l-0.3 0.1"/>
<path stroke="#d5d3ec" stroke-opacity="0.8" stroke-width="5.5" d="M74.7 742.7l0.1 0"/>
<path stroke="#dedcf1" stroke-opacity="0.8" stroke-width="2" d="M45 706.5l-1.1 1.3M124.6 788.4l1.5 0.5"/>
<path stroke="#dedcf1" stroke-opacity="0.8" stroke-width="2.5" d="M99.8 739.5l-1.9 0M64.2 788.6l1.6 0M71.1 682.6l1.9 0.4M118.3 774.6l1.8 0.9"/>
<path stroke="#dedcf1" stroke-opacity="0.8" stroke-width="3" d="M145 780.3l1.1 0.3M123.7 771.1l-0.6 0.6M108.2 788.5l-1.7 2.1"/>
<path stroke="#dedcf1" stroke-opacity="0.8" stroke-width="3.5" d="M106.4 711.3l-2.1 1.3M149.9 713.2l0.1 1.4M108.3 731.4l0.9 0.9M57.4 705.5l-1 0.3M145.4 747.8l0.5 1M103.4 706.6l-1.1 1M77.3 788.8l0.6 0.3"/>
<path stroke="#dedcf1" stroke-opacity="0.8" stroke-width="4" d="M139.3 746l-0.8 1.1M131.8 688.4l0.2 0.2M127.6 771.8l1.1 0M63 736l1.9 0.5M135.2 740.6l1.8 0.3"/>
<path stroke="#dedcf1" stroke-opacity="0.8" stroke-width="4.5" d="M72.5 710.3l0.1 0M63.7 683.2l-0.2 0.2M113.8 776.1l-1 0.5"/>
<path stroke="#dedcf1" stroke-opacity="0.8" stroke-width="5" d="M136.3 729.4l-0.6 0.1"/>
<path stroke="#dedcf1" stroke-opacity="0.8" stroke-width="5.5" d="M140.8 687.2l0.2 0.2M124.4 777.4l0.2 0.4"/>
</g>
<g filter="url(#b0)">
<path stroke="#5a4c96" stroke-opacity="0.8" stroke-width="2" d="M90.4 730.5l1.7 4"/>
<path stroke="#3f3578" stroke-opacity="0.8" stroke-width="1.5" d="M142.2 772.2l-3.3 0.4"/>
<path stroke="#3f3578" stroke-opacity="0.8" stroke-width="2" d="M51.4 782.4l-0.3 2.8M78.8 736.7l-4 0.3"/>
<path stroke="#3f3578" stroke-opacity="0.8" stroke-width="2.5" d="M56.5 786.4l-1.1 4.1M109.5 748.4l3.3 2.8"/>
<path stroke="#4b3f86" stroke-opacity="0.8" stroke-width="0.5" d="M103.3 781.4l2.9 0.9"/>
<path stroke="#4b3f86" stroke-opacity="0.8" stroke-width="1.5" d="M146.2 724.2l2.9 3.3M80.9 746.4l2.6 0.6M143.7 783.3l-1.2 2"/>
<path stroke="#4b3f86" stroke-opacity="0.8" stroke-width="2" d="M83.1 784.4l3.2 2.7"/>
<path stroke="#4b3f86" stroke-opacity="0.8" stroke-width="2.5" d="M109.2 751.7l-4 2.3"/>
<path stroke="#c92f95" stroke-opacity="0.8" stroke-width="1" d="M144.6 771.9l0.1 0.2M102.7 733.9l-0.5 0.4M136.7 742.1l-0.3 0.1M70.4 702.2l0.3 0.3M87.4 712.3l-0.4 0M138.6 714.6l0.2 0.1M65.9 763l0.5 0.3M93.1 699.8l0.3 0M50.2 687.9l-0 0.6M145.4 733.9l-0.1 0.1M56.1 690.4l-0.6 0.3M77.1 743.6l0.6 0.3M113.4 767.2l0.4 0.1M138.5 740.5l-0.2 0.6M43 775.5l-0.7 0.1M137.4 730.9l0.1 0.4M50.3 749.7l-0.1 0.6M142.3 717l-0.1 0.3M112.5 711.9l-0.1 0.3M61.1 775.9l-0.2 0"/>
<path stroke="#c92f95" stroke-opacity="0.8" stroke-width="1.5" d="M114 776.8l-0 0.4M76.9 766.5l-0.2 0.1M112.6 692.5l0.2 0.2M102 783.4l0.1 0M80.6 743.8l-0.1 0.1M134.3 736.7l0.1 0M103.6 692.1l-0.2 0.5M79.2 777.8l0.1 0.1M146.8 717.5l0.5 0.4M136.1 758.7l0.5 0M70.8 754.3l-0.4 0.4M63.2 719l0.1 0.5M77.9 746.3l-0.1 0M44.4 686.2l0.1 0M46.3 787.2l-0.3 0.2M88.2 770.4l-0.5 0M109.3 703.5l0 0.2M147 741.1l0.1 0M101 757.3l0.3 0.1M122.3 781.3l0.1 0.4"/>
<path stroke="#c92f95" stroke-opacity="0.8" stroke-width="2" d="M55.8 732.1l0.1 0M51.3 779.8l-0.1 0.1M143.7 746.2l0.1 0M97.8 753.5l0.1 0M78.7 715.3l0.1 0M72.6 725.4l0.1 0M128.1 756.4l0.1 0M111.6 755.3l0.1 0M56.3 753.5l-0.1 0"/>
<path stroke="#e04aa8" stroke-opacity="0.8" stroke-width="0.5" d="M136.8 768.6l0.6 0.2M43.8 682.8l-0 0.6"/>
<path stroke="#e04aa8" stroke-opacity="0.8" stroke-width="1" d="M86.7 749.3l0.3 0.8M90.9 760.8l-0.4 0M133.3 761.6l-0.1 0.1M147.7 752.4l0.2 0.2M128.9 751.7l0.2 0.5M67.9 757.5l0.5 0.1M129.6 755.6l0.4 0.6M129.3 695.2l0.5 0.7M61.3 762.3l0.3 0.3M104.7 684.3l-0.3 0.4M64.7 772.6l0.4 0.6M139.3 714.4l-0.5 0.4M89.2 728.8l0 0.1"/>
<path stroke="#e04aa8" stroke-opacity="0.8" stroke-width="1.5" d="M142 750.4l0.1 0.3M144.1 690.8l-0.5 0M140.5 774.8l-0.5 0.1M128.5 693.6l0.3 0.1M81.9 785.5l-0.6 0.1M133.4 755.9l0.1 0.5M128.8 702.2l0.6 0.3M115.4 743.5l0.1 0M68.5 738l0.1 0M96.2 752.9l-0.3 0.2M71.5 766.6l0.4 0.6M129.5 783.2l0.1 0M62.9 772.6l-0.2 0.3M59.8 744.4l-0.1 0.1M147.1 689.8l0.1 0.2M127.7 780.4l-0.3 0.2M72.4 714.7l-0.2 0.3M85.7 753.4l0.4 0.1M47.9 723.3l0.1 0.7M146.1 745.8l-0.2 0.2M91.2 785.8l0.1 0.2M138.6 687.6l-0.6 0.1M47.3 690.7l0.2 0.1M81.1 778.8l-0.1 0.2M61.4 765.7l0.1 0"/>
<path stroke="#e04aa8" stroke-opacity="0.8" stroke-width="2" d="M88.8 736.4l0.2 0M77.2 726.8l0.1 0M51 786.6l0 0.1M139.2 726.8l0.1 0.1"/>
<path stroke="#d63aa0" stroke-opacity="0.8" stroke-width="1" d="M127.2 712.5l0.5 0M126.8 720.7l0.1 0M101 783l0.9 0.1M55.5 773.4l-0.3 0.1M133.6 765.9l-0.4 0M78.4 687.3l-0.5 0.3M58.2 722.6l-0 0.6M68.7 750.2l-0.2 0.4M43.5 782l-0.1 1M51 783.1l0.2 0.3M97.1 779.8l-0.3 0M133.2 745.2l-0.4 0M72.1 729.8l-0.2 0.1M57.2 738.1l-0.2 0.1M112.4 775.9l0.4 0.2M142.8 753.9l0.5 0.2M136.1 689.8l0.1 0.1M77.9 768.9l-0.1 0.3M43.8 719.2l-0.4 0.5M134.2 715.1l-0 0.2M92.4 785.8l-0.2 0.3M83.7 724.9l0.3 0M115.3 685.8l0.7 0"/>
<path stroke="#d63aa0" stroke-opacity="0.8" stroke-width="1.5" d="M147.5 754.2l-0.4 0.4M46.4 768.7l0.2 0.4M50.2 764.8l0.1 0.5M148.5 749.1l0.4 0.4M90.5 684l0.2 0.4M86.4 762.1l0.1 0M122.7 775.2l0.1 0.2M112.3 778.7l-0 0.5M44.3 767.7l-0.2 0.2M111.1 778.9l0.1 0.2M79.8 766.3l-0.1 0.3M93.3 758l0.1 0M111.8 710l-0.6 0.1M98.4 752.3l-0.1 0.3M52.6 756.4l0.1 0M123.4 698.2l-0.2 0.3M74.7 711.4l0.3 0.1M51.4 700.8l0.1 0M114.8 769.1l0.2 0.5M141.2 698.2l-0.1 0.3M128.3 693.5l0.1 0M79.6 726.2l-0.3 0.5M92.2 718.9l0.1 0.3M63.2 690.4l0.1 0M146.6 781l0.1 0M117.9 780.7l0.2 0.4"/>
<path stroke="#d63aa0" stroke-opacity="0.8" stroke-width="2" d="M124.9 700l0.1 0M125.7 742.3l-0.1 0M133.6 701.5l0.1 0M55.2 737.8l-0.1 0.1M52.8 701.8l0.1 0M131.3 738.6l-0.2 0M54 703.3l0.1 0.1M61.6 718.8l0.1 0"/>
</g>
<g filter="url(#bl)">
<path stroke="#e66bb8" stroke-opacity="0.35" stroke-width="2" d="M113.5 742.2l1.2 0.4M47.8 693.9l-0.5 0.7M124.8 709.5l-0.3 0.9M110.9 719.6l0.4 1.2"/>
<path stroke="#e66bb8" stroke-opacity="0.35" stroke-width="2.5" d="M113.3 715.6l-0.2 0.2M65.3 773.2l1.1 1M43.5 687l0.2 0.8M146.7 715.2l-0.1 0.8"/>
<path stroke="#e66bb8" stroke-opacity="0.35" stroke-width="3" d="M131.3 747.7l-0.6 1M78 733.1l0.7 0.4M92.4 775.4l-0.3 0.1M95.1 697.7l0.8 1.3M89 720.6l-0.9 0.5M64.6 711l0.6 1.5"/>
<path stroke="#e66bb8" stroke-opacity="0.35" stroke-width="3.5" d="M51 733l0.2 0.5M114.6 735.8l0.1 0M92.8 773.9l-0.4 0M115 723.1l-0.3 0.8M94.8 762l-0.1 0.2"/>
<path stroke="#e66bb8" stroke-opacity="0.35" stroke-width="4" d="M124.9 744.7l0.3 0.4M102.2 732.3l-0.8 0M75.8 750.1l0.5 0.3M136.3 787.3l-0.3 0.2"/>
<path stroke="#e66bb8" stroke-opacity="0.35" stroke-width="4.5" d="M92.7 730.4l0.3 0.1"/>
</g>
</g>
<g clip-path="url(#cp5)" fill="none" stroke-linecap="round">
<rect x="155.1" y="685" width="102.3" height="101.9" fill="#bdb9e5"/>
<g filter="url(#b2)">
<path stroke="#dcdaf0" stroke-opacity="0.6" stroke-width="4.5" d="M201.4 702.8l0.9 1.4"/>
<path stroke="#dcdaf0" stroke-opacity="0.6" stroke-width="5" d="M248.6 727.5l0.3 1.5M191.3 702.7l-0.6 1.1"/>
<path stroke="#dcdaf0" stroke-opacity="0.6" stroke-width="6" d="M255 697.8l-0.1 0.1"/>
<path stroke="#dcdaf0" stroke-opacity="0.6" stroke-width="6.5" d="M181.5 755.3l0.5 2"/>
<path stroke="#dcdaf0" stroke-opacity="0.6" stroke-width="7" d="M157.1 775.7l2.1 1.4"/>
<path stroke="#dcdaf0" stroke-opacity="0.6" stroke-width="8.5" d="M217.1 709.1l2.1 2.5M179 712l1.6 2.3"/>
<path stroke="#dcdaf0" stroke-opacity="0.6" stroke-width="10.5" d="M164.9 739.2l0.1 0"/>
<path stroke="#e4e3f4" stroke-opacity="0.6" stroke-width="4.5" d="M162.6 703.5l2.2 0.3"/>
<path stroke="#e4e3f4" stroke-opacity="0.6" stroke-width="5" d="M165.7 757.1l0.1 1.8"/>
<path stroke="#e4e3f4" stroke-opacity="0.6" stroke-width="6.5" d="M193.3 744.3l-0.9 0.9"/>
<path stroke="#e4e3f4" stroke-opacity="0.6" stroke-width="7" d="M233.6 775.8l-3.7 0.5"/>
<path stroke="#e4e3f4" stroke-opacity="0.6" stroke-width="7.5" d="M162.1 758.3l-4.2 0.8"/>
<path stroke="#e4e3f4" stroke-opacity="0.6" stroke-width="9.5" d="M194.8 781.4l2.2 0"/>
<path stroke="#e4e3f4" stroke-opacity="0.6" stroke-width="10" d="M187.5 746.1l-1 1.3"/>
<path stroke="#978bcb" stroke-opacity="0.5" stroke-width="4.5" d="M216 756l1.1 2.3M250.8 770.9l1.4 1M190.8 783.7l1.4 0.5"/>
<path stroke="#978bcb" stroke-opacity="0.5" stroke-width="5" d="M178.4 706.8l2.2 1.4M178.4 738.9l-1.1 1.5M160.9 779.7l2.5 1.8"/>
<path stroke="#978bcb" stroke-opacity="0.5" stroke-width="5.5" d="M189.8 775.4l-0.6 0.8"/>
<path stroke="#978bcb" stroke-opacity="0.5" stroke-width="7" d="M155.5 734.7l-1.1 2.6M165.3 705.9l0.5 0"/>
<path stroke="#978bcb" stroke-opacity="0.5" stroke-width="7.5" d="M233.8 743.7l-1.5 1.6"/>
<path stroke="#978bcb" stroke-opacity="0.5" stroke-width="11" d="M207.3 756.8l0.1 0"/>
<path stroke="#a195d2" stroke-opacity="0.5" stroke-width="4" d="M254.3 716.6l2.2 0.3"/>
<path stroke="#a195d2" stroke-opacity="0.5" stroke-width="5.5" d="M233.2 749.9l0.1 0.8"/>
<path stroke="#a195d2" stroke-opacity="0.5" stroke-width="6" d="M243.6 710.5l-1.4 0.8"/>
<path stroke="#a195d2" stroke-opacity="0.5" stroke-width="6.5" d="M206.6 685.2l-3.6 1.9"/>
<path stroke="#a195d2" stroke-opacity="0.5" stroke-width="11" d="M217.7 694.3l0 0.1"/>
<path stroke="#d77fc4" stroke-opacity="0.24" stroke-width="5" d="M154.1 708.5l-1.6 0.3M252.2 744.7l-2.5 0.5"/>
<path stroke="#d77fc4" stroke-opacity="0.24" stroke-width="5.5" d="M208.7 688l-3.6 0.9"/>
<path stroke="#d77fc4" stroke-opacity="0.24" stroke-width="6" d="M255 722.7l0.2 0.1"/>
<path stroke="#d77fc4" stroke-opacity="0.24" stroke-width="7" d="M160 742.6l3 0.2"/>
<path stroke="#d77fc4" stroke-opacity="0.24" stroke-width="7.5" d="M198.4 720l-2.4 1"/>
<path stroke="#d77fc4" stroke-opacity="0.24" stroke-width="10" d="M165 779l0 0.1"/>
<path stroke="#cf74bd" stroke-opacity="0.24" stroke-width="4" d="M184.3 683.2l-1.7 1.7"/>
<path stroke="#cf74bd" stroke-opacity="0.24" stroke-width="4.5" d="M225.4 766.3l-0.9 1.5"/>
<path stroke="#cf74bd" stroke-opacity="0.24" stroke-width="7" d="M241.5 762.6l-1.8 0"/>
<path stroke="#cf74bd" stroke-opacity="0.24" stroke-width="7.5" d="M180.4 715.1l0 0.1M239.9 694.9l0.9 0.2"/>
<path stroke="#cf74bd" stroke-opacity="0.24" stroke-width="8" d="M210.3 724.7l0.1 0.3"/>
<path stroke="#cf74bd" stroke-opacity="0.24" stroke-width="9" d="M189 722.6l0.3 1.5"/>
</g>
<g filter="url(#bl)">
<path stroke="#aaa5dd" stroke-opacity="0.8" stroke-width="2.5" d="M256.5 710.9l2.2 0.6"/>
<path stroke="#aaa5dd" stroke-opacity="0.8" stroke-width="3" d="M188.9 724.5l-0.8 1.4M160.3 748.5l0.4 1.7M238.1 729l-1.2 1.4M222.5 728.8l1.2 2.1M163.4 701.6l1.3 1M211.1 711.4l-1.2 1.2M207.2 767.7l1.3 1.1"/>
<path stroke="#aaa5dd" stroke-opacity="0.8" stroke-width="3.5" d="M210.4 755.4l-1.6 0.4M155.3 714.3l-1.2 0.8M200.9 712.7l-1.8 0.4M205.6 716.8l-1.7 0.6M153.4 766.4l1 0.6M238.4 766.4l-1.6 1.1M178.9 735.3l0.4 1.8"/>
<path stroke="#aaa5dd" stroke-opacity="0.8" stroke-width="4" d="M213.9 746.6l0.5 1.5M252.7 737.3l-0 0.8M247.3 739.1l-0.6 0.1M175.4 778.8l-0.6 1M232.5 769.1l2.2 0.6M258.9 762.1l1.6 1.9"/>
<path stroke="#aaa5dd" stroke-opacity="0.8" stroke-width="4.5" d="M180.5 682.9l-0.4 0.1M201.2 756.8l-0.1 0.8M255.1 781.1l1.2 0.8M248.7 712.3l0.6 0.2M205.9 789.4l-0 0.1M253.8 693.8l-0.6 1.5M224.7 744l1.1 1M161 717l-1 0.4"/>
<path stroke="#aaa5dd" stroke-opacity="0.8" stroke-width="5" d="M244.8 723.5l-0 0.1M152.1 759.6l0.4 0.6M239 756.1l1.2 1.1M205.6 726l-0.4 0.9"/>
<path stroke="#aaa5dd" stroke-opacity="0.8" stroke-width="5.5" d="M210.7 781.7l0.9 0.5M195.8 731.8l-0.1 0.4M192.8 720.6l-0.4 0.4M167.5 760.9l-0.1 0.2M193.6 704.8l0.6 0.3"/>
<path stroke="#aaa5dd" stroke-opacity="0.8" stroke-width="6" d="M157.4 695.5l0 0.3M258.3 735.8l-0.1 0"/>
<path stroke="#9a92d0" stroke-opacity="0.8" stroke-width="3" d="M239.4 737.2l0.7 2.1M213.9 693.1l2.2 1.1M208.6 708l-1.7 0.5M189.8 682.7l2.3 0.1M159.4 686.1l-1.1 1.5"/>
<path stroke="#9a92d0" stroke-opacity="0.8" stroke-width="3.5" d="M191.7 766.9l-1.4 1.9M256.8 767.6l0.6 1.3M216.4 741.4l-0.4 1.7M252.5 786.7l-1.1 0.8M245.6 748.6l-2.9 0.8M151.6 707.6l2.3 1.5M255.7 771.9l-1.6 1.3M172 765.7l-1.5 2.6"/>
<path stroke="#9a92d0" stroke-opacity="0.8" stroke-width="4" d="M226.5 759.1l-0.8 0.2M179.9 729.6l-1.5 1M179.4 763.8l1.6 0.9M187.6 686.1l-1.7 0.8M232.3 786.5l-1.1 0.4M183.8 701.4l-1.6 0.3M250.4 686.8l-1.2 1M182.4 712.7l0.5 1.4M189.3 702.6l-1.9 0.1M152.5 687l-0 1.7M187.8 780.2l0.3 2.1M259.1 753.5l-0.6 0.3M233.9 743.9l1.4 1.8M260 716.9l-0.7 0.1M169.9 711.8l1.7 1M187.9 717l-1.6 1.1M256.3 698.5l1.9 1.5"/>
<path stroke="#9a92d0" stroke-opacity="0.8" stroke-width="4.5" d="M169.1 783.4l-0.6 1M196.1 686.5l-0.1 0.1M194.6 726.3l0.8 1.1M195.6 711.2l0.3 0.5M171.4 752.6l0.2 1.7M239.1 778.2l0 0.3M162.5 779.4l0.6 1.6M219.9 697.3l-1.7 0.9M212.5 776.8l0.5 0.5M166.2 728.5l0.6 0.2M215 761.8l-0.9 1.7M199.1 704.6l-0.3 1.7M230.6 756.5l0.7 1.6"/>
<path stroke="#9a92d0" stroke-opacity="0.8" stroke-width="5" d="M235.9 694.5l0.4 1.5M242.9 701l0.5 0M173.2 727.8l0.3 1.2M259.5 775.3l0.1 0"/>
<path stroke="#9a92d0" stroke-opacity="0.8" stroke-width="5.5" d="M196.4 780.6l0.1 0.5M226.5 766.4l-0.3 1.1M215.5 729.7l-0.6 0.4M153.5 744.4l0.6 0.8M218.6 689.2l-0.4 0"/>
<path stroke="#9a92d0" stroke-opacity="0.8" stroke-width="6" d="M232.3 687.3l-0.2 0.3M249.6 727.4l0.1 0M235.3 713.7l-0.6 0.2M194.6 743.5l-0.1 0.1M198.3 788.8l0.1 0M225.3 786.7l-0 0.3"/>
<path stroke="#a39cd8" stroke-opacity="0.8" stroke-width="3" d="M181.5 689.1l0.8 1.8M216.4 684.9l-2.5 0M166.9 766.4l-1.7 1.1M161.8 741.9l1.8 1.9M256 729.1l-0.2 1.7"/>
<path stroke="#a39cd8" stroke-opacity="0.8" stroke-width="3.5" d="M189.7 708.9l-0.2 1.8M197.3 762.3l-0.9 0.7M215.3 720.9l-2.5 1M208.7 686.2l-0 2.1M176.4 685.3l-1.5 1.6M250.7 750l-2.3 0.6M245.2 715.2l0.4 2.3"/>
<path stroke="#a39cd8" stroke-opacity="0.8" stroke-width="4" d="M207.2 698.8l-0.5 1.2M249.9 763.3l0.9 1.3M165.8 773.6l1.1 1.9M212.6 787.4l0.5 0.4M259.8 682.8l-1 0.1M246.1 706.9l1 0.8M223.2 752.8l-0.4 2.1"/>
<path stroke="#a39cd8" stroke-opacity="0.8" stroke-width="4.5" d="M178.5 741.3l-0.1 0.5M159.5 761.4l1.4 0.9M227.5 779.8l0.4 1M258.8 704.1l-1.1 1.3M244.5 781.5l-0.6 1.1M216.2 767.1l-0 0.4M219.2 723.8l-1.1 1"/>
<path stroke="#a39cd8" stroke-opacity="0.8" stroke-width="5" d="M218 714.4l-0.8 1.1M242.6 695l-0.6 0.1M165.3 713.6l0.1 0M226.3 736.9l0.1 0.1M232.3 774.4l-0.3 1M172.9 737.3l0.4 0.3M220 772.3l0.1 0M158.8 776.1l0.1 0M198.9 737.1l-0.1 0M224.7 721.9l0.3 1"/>
<path stroke="#a39cd8" stroke-opacity="0.8" stroke-width="5.5" d="M237.5 706.2l-0.4 0.8M230.8 709.7l-0.1 0.5M170.5 694.6l-0.5 0.1"/>
<path stroke="#a39cd8" stroke-opacity="0.8" stroke-width="6" d="M239.8 714l0 0.3"/>
<path stroke="#b1ade1" stroke-opacity="0.8" stroke-width="3" d="M200.3 699.7l1.5 1M251.6 703.5l-1.7 1.1M229.9 697.7l0.1 2M152.4 739l1.1 1.8"/>
<path stroke="#b1ade1" stroke-opacity="0.8" stroke-width="3.5" d="M197.8 695.6l-0.7 1.6M201.2 769.1l-2.9 0.4M187.1 771.2l-2.5 1.3M248.1 732.4l-0.4 2.7M221 737.3l-0.5 1.2M225.4 773.3l-0 2.2M255.8 685.8l-2.4 0.9M180.3 708.6l-1.3 1.1M185.2 730.8l-1.7 0.5"/>
<path stroke="#b1ade1" stroke-opacity="0.8" stroke-width="4" d="M177.8 768.8l-2.1 0.3M256 758.2l-0.7 0.2M229.8 730.3l-1.3 0.6M255.7 720.8l-0.5 0.7M221.2 693l1.8 0.7"/>
<path stroke="#b1ade1" stroke-opacity="0.8" stroke-width="4.5" d="M191.5 751.6l0.9 0.2M223.9 707.4l-1.6 0.9M190.7 733.3l-0.5 1.7M258.8 788.3l0.4 0.7M169.8 744.2l0.4 0.4M159.9 708.7l-0.4 0"/>
<path stroke="#b1ade1" stroke-opacity="0.8" stroke-width="5" d="M243.2 763l0.1 0M229.4 752.1l0.1 0M243.5 681.7l0.1 0M221.1 763.1l-0.1 1.2"/>
<path stroke="#b1ade1" stroke-opacity="0.8" stroke-width="5.5" d="M250.4 756.3l-1 0M237.9 750.2l-0.6 0.2M177.1 720.5l0.1 0M238.9 685.4l-0.5 0.5M163.4 683.4l0.9 0.2M218.8 788.1l0.1 0.1M252.7 743.3l0.1 0.2M167 706.7l0.2 0.1M158.1 784.9l0.5 0.7"/>
<path stroke="#b1ade1" stroke-opacity="0.8" stroke-width="6" d="M204.7 738.7l0.1 0M201.8 687.4l0.2 0M225.8 715.9l-0.1 0M245.7 691l0.1 0"/>
<path stroke="#dedcf1" stroke-opacity="0.8" stroke-width="2" d="M204.7 731.3l0.1 2"/>
<path stroke="#dedcf1" stroke-opacity="0.8" stroke-width="2.5" d="M164.2 721.9l-1.8 0.2M233 721.6l-2.4 0.4M205.3 782.9l-1.9 1.8M241.2 730.5l1.8 0.9M261.1 688.1l-1.2 0.1"/>
<path stroke="#dedcf1" stroke-opacity="0.8" stroke-width="3" d="M186.4 753.1l-2 1M219.7 749.1l0.6 0.5M208.9 762l0.3 1.3M185.6 787.6l0.1 0.6M245.8 768.7l-0.5 0.8M224.6 699.1l-0.6 1.9M177.9 748.8l0.1 0.8M198.7 774.5l0.6 0.4M187.1 763.5l-0.5 0.4"/>
<path stroke="#dedcf1" stroke-opacity="0.8" stroke-width="3.5" d="M197.7 748.6l0.1 0.2M223.9 682.2l0.6 0.1M159.4 730l0.4 1.6M237.9 723.3l2.3 0.7"/>
<path stroke="#dedcf1" stroke-opacity="0.8" stroke-width="4" d="M212 700.3l1.2 1.5M160.6 771.4l-2.1 0.2M206.3 775.1l-0.7 1.7M234.1 737.6l-1 0.5M154.5 723.3l-0.4 0.1M249.9 777.3l0.2 0.1M183.2 742.5l0.7 0"/>
<path stroke="#dedcf1" stroke-opacity="0.8" stroke-width="4.5" d="M234.8 762.2l-0.2 0.4M184 694.8l-0 0.1"/>
<path stroke="#dedcf1" stroke-opacity="0.8" stroke-width="5" d="M180.9 775.8l0.1 0M153.1 778.7l-0.7 0.4M179.9 757.9l-0.2 0.1M170.2 682.4l0.2 0.2"/>
<path stroke="#dedcf1" stroke-opacity="0.8" stroke-width="5.5" d="M212.3 736.8l0.1 0"/>
<path stroke="#e8e7f5" stroke-opacity="0.8" stroke-width="2.5" d="M158.6 700.5l-1.9 1.6M251.7 716.8l-2.1 1.3"/>
<path stroke="#e8e7f5" stroke-opacity="0.8" stroke-width="3" d="M192.4 787.1l0.3 1.3M154.3 752.3l-0.1 1.6M238.3 782.7l0.2 0.8M183.4 722l-0.6 1.1"/>
<path stroke="#e8e7f5" stroke-opacity="0.8" stroke-width="3.5" d="M201.3 723.3l-0.3 0.9M179 784.6l0.1 2.2M168.5 687.8l1.6 0.7M153.1 789.5l0.2 0"/>
<path stroke="#e8e7f5" stroke-opacity="0.8" stroke-width="4" d="M203.2 753l1.7 0.2M205.1 694.5l-0.6 0.7M220 780l1.7 0.5M239.2 772.2l-0.4 0.2"/>
<path stroke="#e8e7f5" stroke-opacity="0.8" stroke-width="4.5" d="M212.3 770.3l-0.3 0.3M215 706.8l0.3 0.1M243.6 775.1l1.4 0.4"/>
<path stroke="#e8e7f5" stroke-opacity="0.8" stroke-width="5" d="M204.2 745.4l-0.9 0.1M225.8 689.8l0.1 0"/>
<path stroke="#e8e7f5" stroke-opacity="0.8" stroke-width="5.5" d="M170.3 717.6l0.3 0M172.4 758.6l0.6 0.2"/>
<path stroke="#e8e7f5" stroke-opacity="0.8" stroke-width="6" d="M209.1 742.8l0.1 0"/>
<path stroke="#d5d3ec" stroke-opacity="0.8" stroke-width="2.5" d="M159.7 735.4l2.2 0.9M193 699.5l2 0.2M185.1 736.7l0 1.4M172.2 705.9l1.2 0.5"/>
<path stroke="#d5d3ec" stroke-opacity="0.8" stroke-width="3" d="M189.7 693.1l0.7 1.1"/>
<path stroke="#d5d3ec" stroke-opacity="0.8" stroke-width="3.5" d="M170.5 773.9l2.1 0.7M216.9 754.6l-0.8 0.4M163.4 692.7l-0.5 2.1M194.4 775.2l-0.8 1M244 787.7l1.1 1M153 731.8l0.4 0.1M249.4 697.5l0.3 0.4M170.2 701.2l-0.4 0M182.2 780.7l0.3 1.3"/>
<path stroke="#d5d3ec" stroke-opacity="0.8" stroke-width="4" d="M176.2 701.8l0.1 0.5M189.6 757.5l0.9 0.7M259.7 693l-1.4 0.1M165.7 739l0.1 0M256.4 747.4l1.1 1.8M164.8 749.9l0.1 0.5"/>
<path stroke="#d5d3ec" stroke-opacity="0.8" stroke-width="4.5" d="M177.6 696.6l0.3 0M189.6 742.1l-0.2 0.9M182.8 748.1l0.3 0.3M161.1 755.5l0.2 0.6M200 681.4l-1.1 1.1"/>
<path stroke="#d5d3ec" stroke-opacity="0.8" stroke-width="5" d="M195.7 717.8l0.6 0.6M164.9 789l-0.7 0.2"/>
</g>
<g filter="url(#b0)">
<path stroke="#4b3f86" stroke-opacity="0.8" stroke-width="1" d="M217.8 784.8l-3.7 2.1"/>
<path stroke="#4b3f86" stroke-opacity="0.8" stroke-width="1.5" d="M220.2 758.8l2.8 0.7M169.2 768l-2.5 2.9"/>
<path stroke="#4b3f86" stroke-opacity="0.8" stroke-width="2" d="M177.3 760.8l-1.3 2.9M232.1 778.5l4 3.4"/>
<path stroke="#3f3578" stroke-opacity="0.8" stroke-width="1" d="M194 683.5l1.6 1.2M163.9 748.3l3.2 0.9M175.9 724.3l3 2"/>
<path stroke="#3f3578" stroke-opacity="0.8" stroke-width="1.5" d="M184.9 720.9l-4.1 1.5"/>
<path stroke="#3f3578" stroke-opacity="0.8" stroke-width="2" d="M171.5 774.6l-5.3 2.9"/>
<path stroke="#5a4c96" stroke-opacity="0.8" stroke-width="2" d="M239.5 750.8l3.3 2.5"/>
<path stroke="#5a4c96" stroke-opacity="0.8" stroke-width="2.5" d="M173.2 705l4.7 0.6"/>
<path stroke="#d63aa0" stroke-opacity="0.8" stroke-width="0.5" d="M232.1 760.6l0.2 0.7"/>
<path stroke="#d63aa0" stroke-opacity="0.8" stroke-width="1" d="M159.9 768.6l-0.1 0.2M258.7 786.9l0 0.6M187.4 723.1l-0 0.3M259.3 785l0.3 0M182.1 696.3l-0.3 0.2M226.7 698.7l0.1 0.7M257.7 769l0.2 0.4M220 764.8l-0.3 0M199.4 754.2l-0.2 0.1"/>
<path stroke="#d63aa0" stroke-opacity="0.8" stroke-width="1.5" d="M191.3 690.2l0.1 0M234.4 746.3l0.6 0.3M251.4 756.2l-0.5 0.3M197.2 750.1l0.1 0M154.8 788.4l0.1 0M206.1 767l-0.2 0.3M170.1 689.4l0.3 0.1M211.9 750.4l0.2 0.1M236.3 770.6l0.1 0M164.7 687.7l-0.1 0.5M199 765.4l0.1 0.6M232.4 683.3l-0.1 0.1M209.9 752l0 0.1M189.2 760l-0.1 0.2M176.6 761.7l0.1 0M196.9 717l-0.3 0.5M226.2 704.4l-0.5 0M154.1 687.8l-0.3 0.1M191.6 696.7l0.1 0M156.3 740.3l-0 0.1"/>
<path stroke="#d63aa0" stroke-opacity="0.8" stroke-width="2" d="M203 778.6l0.1 0.1M234.6 780.3l0.1 0M202.7 781l-0.2 0.1"/>
<path stroke="#e04aa8" stroke-opacity="0.8" stroke-width="1" d="M232.1 787l-0.4 0.2M172 732.4l0.3 0.4M230.1 738.7l0.8 0M161.2 709.8l0.1 0.1M225.1 749.3l-0.1 0.2M220.8 754l-0.8 0.5M161.8 771.9l-0.2 0.4M172.9 779.2l0.1 0.1M169 752.4l0.6 0.5M182.5 763.6l-0.8 0.4M190.6 759.4l0.2 0.1M168.7 756.5l-0.3 0M168.2 684.6l0.1 0.1M233.4 693l0.1 0.3M195.1 696l0.2 0.3M210.1 707.1l-0.1 0.2M202.3 731.7l0.3 0.6M222.9 745.5l0.2 0.1M248.4 701.8l0.3 0.1M229.8 748.9l-0.1 0.3"/>
<path stroke="#e04aa8" stroke-opacity="0.8" stroke-width="1.5" d="M161.9 696.4l-0.1 0.5M233.2 696.6l0 0.1M220.4 733.6l-0.1 0.3M233.6 752.4l0.1 0M233.3 787.2l-0 0.2M212.8 777.1l0.1 0M249.9 758.4l0.6 0M220.2 698.6l0.4 0.5M253.4 761.6l0.1 0M189.7 753.2l0.1 0.2M215.2 699.7l0.2 0.1M231.7 683.1l0.1 0M241.1 741.6l0.1 0M156.6 705.3l-0.5 0.2M254.8 753.6l-0.2 0.3M233.6 714.8l0 0.6M184.4 704.3l0.1 0.2M195.3 721.7l-0.2 0.1M202.5 784.1l-0.5 0.1M205.1 768.7l0.1 0M177.6 687.8l0.1 0M210.4 688.8l0.2 0.3M222.4 725l0.6 0.3M218.9 723.7l0.1 0"/>
<path stroke="#e04aa8" stroke-opacity="0.8" stroke-width="2" d="M196.7 752.3l0.1 0M200.2 718.5l0.1 0M251.2 761.4l0.1 0M175.5 731.7l0.1 0"/>
<path stroke="#c92f95" stroke-opacity="0.8" stroke-width="0.5" d="M245.2 747.9l-0.4 0.6"/>
<path stroke="#c92f95" stroke-opacity="0.8" stroke-width="1" d="M234.7 700.1l-0.4 0.4M207.2 704.3l0.3 0.4M245.8 751.9l0.6 0.1M175.9 781.8l-0.1 0.1M223 772l0.4 0.5M218.4 733.4l0.1 0.2M233.4 689.5l-0.1 0.3M237 718.3l0.1 0.1M230.4 710.2l0.4 0.7M158.4 728.7l-0.6 0.5M256.5 684.2l0 0.2M243.6 761.4l0.1 0M244.8 724.3l0.5 0.5M172.7 765.6l-0.1 0.2M242.2 710.2l0.2 0M170 769.6l-0.2 0.4M169 755.1l0.5 0.1M239.4 720.1l-0.2 0.1M153.9 743.7l0.1 0.3"/>
<path stroke="#c92f95" stroke-opacity="0.8" stroke-width="1.5" d="M175.4 713.9l0.1 0M201.2 726.7l-0.4 0.4M221.2 736.7l0.1 0.2M195.4 733.5l0.1 0M177.7 695.3l0.4 0.1M253.3 758.3l-0.1 0M202.9 715.8l-0.1 0.2M195.5 684.1l-0.1 0.2M179.2 776.8l-0 0.1M210.1 772.4l-0.2 0.1M193.3 751.1l0.1 0M208 689.9l0.1 0M241.7 773.1l0.1 0M153.3 714.9l0.2 0M169 774.2l0.1 0.3M167.8 684.4l0.4 0.2M193.1 721.3l-0.5 0M227.6 779.2l0.2 0.2M174.4 734.6l-0.5 0.2"/>
<path stroke="#c92f95" stroke-opacity="0.8" stroke-width="2" d="M249.5 774.6l0 0.1M234 709.6l0.1 0M209.7 779l0.1 0M240.1 769.4l0.1 0M222.6 721.8l0.1 0.2"/>
</g>
<g filter="url(#bl)">
<path stroke="#e66bb8" stroke-opacity="0.35" stroke-width="2" d="M182.1 784.7l-0.6 0.7"/>
<path stroke="#e66bb8" stroke-opacity="0.35" stroke-width="2.5" d="M244 740.3l0.6 1.2M197.1 686.7l-1.3 0.9M234.5 688.6l0.5 0.6M171.6 741.2l0.8 0.3M232.1 739.9l1.1 0.7M235.6 732.5l0.5 0.1"/>
<path stroke="#e66bb8" stroke-opacity="0.35" stroke-width="3" d="M173.2 698.9l-0.2 0.9M216.5 761.6l-0.3 1.2M258.7 767.5l0.8 0.6M205.1 769.6l-0.1 0.7M171 739.3l0.1 0.1M157.1 741.5l0.2 0.3M156 713.9l1.1 0.5M248.6 726.7l-0 0.2M221.2 786.8l-0 0.1"/>
<path stroke="#e66bb8" stroke-opacity="0.35" stroke-width="3.5" d="M186.4 689.5l0.1 0M156.2 719l-0.1 1M168.4 692l0.2 0.1M157.4 771.5l0.4 0.1M206.4 776.6l0 0.1M219.6 786.4l-0.3 1M212 713.9l-0.7 1.1"/>
<path stroke="#e66bb8" stroke-opacity="0.35" stroke-width="4.5" d="M249.5 732.4l0 0.1"/>
</g>
</g>
<g clip-path="url(#cp6)" fill="none" stroke-linecap="round">
<rect x="264.4" y="685" width="102.7" height="101.9" fill="#c8cce9"/>
<g filter="url(#b2)">
<path stroke="#f4f5fb" stroke-opacity="0.7" stroke-width="6" d="M340.9 720.9l-0.2 0.3M332.6 737.9l3.5 0.4"/>
<path stroke="#f4f5fb" stroke-opacity="0.7" stroke-width="6.5" d="M271.9 741.7l-2.2 1.6"/>
<path stroke="#f4f5fb" stroke-opacity="0.7" stroke-width="7" d="M360.7 781.4l1 4.2"/>
<path stroke="#f4f5fb" stroke-opacity="0.7" stroke-width="7.5" d="M329.1 785.8l-0.7 0.1"/>
<path stroke="#f4f5fb" stroke-opacity="0.7" stroke-width="8" d="M293.2 743.2l-2.8 0.9"/>
<path stroke="#f4f5fb" stroke-opacity="0.7" stroke-width="8.5" d="M364.7 777.1l0.6 1.9"/>
<path stroke="#f4f5fb" stroke-opacity="0.7" stroke-width="10.5" d="M363 740l1.4 0.1M298.8 777.5l0.4 0.1"/>
<path stroke="#eef0f9" stroke-opacity="0.7" stroke-width="4.5" d="M305.6 699.4l-2.3 1.6M347.2 734.4l-1.2 1.2M321.8 707.3l0.4 2.1"/>
<path stroke="#eef0f9" stroke-opacity="0.7" stroke-width="5.5" d="M319.3 696l-0.6 1.5M311.7 713.9l-0.6 0.9"/>
<path stroke="#eef0f9" stroke-opacity="0.7" stroke-width="6" d="M319 777.3l2.6 0.9"/>
<path stroke="#eef0f9" stroke-opacity="0.7" stroke-width="6.5" d="M325.7 728.7l-0.4 3.3"/>
<path stroke="#eef0f9" stroke-opacity="0.7" stroke-width="7" d="M325.7 783.2l0.1 0"/>
<path stroke="#eef0f9" stroke-opacity="0.7" stroke-width="7.5" d="M347.8 757.5l-3.4 0.9"/>
<path stroke="#eef0f9" stroke-opacity="0.7" stroke-width="8" d="M278.4 785l-2.3 0.4"/>
<path stroke="#eef0f9" stroke-opacity="0.7" stroke-width="8.5" d="M292.7 785.9l-0.6 0.7M344.4 742l0.8 0.1"/>
<path stroke="#eef0f9" stroke-opacity="0.7" stroke-width="9.5" d="M358.7 693l-0.1 2.4"/>
</g>
<g filter="url(#bl)">
<path stroke="#9fa3d8" stroke-opacity="0.8" stroke-width="3" d="M333.1 738.4l1.2 1.5M312.3 698.8l1.8 0.9M348.9 772.1l0.9 1.4M312.9 689.2l0.8 1.5M271.6 689.6l-2.6 0.2M341.7 737.9l2.2 0.1M280.6 741.8l-1.5 1.2"/>
<path stroke="#9fa3d8" stroke-opacity="0.8" stroke-width="3.5" d="M338.6 700.4l1.8 2.1M278.5 722l-3.1 0.3M357.4 759.9l-2 0.3M274.8 698.5l-1.5 1.1M338.9 753.2l-0.4 2.3M285.4 699.8l-1.5 0.9M311.2 752.7l-1.5 1.6M290.1 723.9l1 2M330.6 751.6l-1.9 1.1M308.5 716.4l2 1.4"/>
<path stroke="#9fa3d8" stroke-opacity="0.8" stroke-width="4" d="M365.6 761.6l0.3 2.5M349 711.3l0.7 0.7M268.9 703.6l1.5 0.4M363.5 721.3l-2.3 0.3M316.6 684.1l-2.2 0.3M362.7 726.8l-1.6 1.3M305.9 687l1.7 0.3M347.9 717l0.1 2.5M305.1 695.1l2 1.4M280.6 710.1l1.2 1.7M319.3 787.4l0.8 2.2M338 743.7l-0.8 1.4M290.1 734.6l-0.1 1.1M267.3 785.9l0.1 0.7M370.3 746.1l-1.4 1.1M363.8 706.3l1.7 0.2M329.8 734l0.9 0.2"/>
<path stroke="#9fa3d8" stroke-opacity="0.8" stroke-width="4.5" d="M286.7 742.3l-1.9 0.6M265.9 761.3l0.6 1M364.5 685.1l0.7 1.8M343.7 769.1l-1.8 0.1M350.8 754.1l-0.1 0.2M332.6 746.4l-1.1 0.7M364 756.8l0.4 0.4M325.5 714.8l-0.3 0.1M274.6 755.9l0 0.7M296.9 734.4l-1 0.9M292.7 688.6l0.7 0.3M298.3 766.1l-0.6 0.7"/>
<path stroke="#9fa3d8" stroke-opacity="0.8" stroke-width="5" d="M368.2 711.4l1.3 0.2M273.6 712.4l-0.1 0.4M317.6 735.9l-0.4 0.8M309.5 773.2l0.9 0.3M301.6 779.9l0.2 0.3M345.6 761.7l0.4 0.1M340.2 723l0.2 0.5"/>
<path stroke="#9fa3d8" stroke-opacity="0.8" stroke-width="5.5" d="M333.7 763.6l-0.2 0.2M295.4 757.7l0 0.1M291.1 740.2l-0.2 1M283.4 786.7l-0.1 0M287.7 747.2l0.2 0.7M324.1 743l0.1 0.2M323 756l0.1 0.7M306.6 762.5l-1.1 0.1M310.1 788.5l0.3 0.9M311.3 742l-0.2 0"/>
<path stroke="#9fa3d8" stroke-opacity="0.8" stroke-width="6" d="M322.9 749l0.2 0M279.3 705.3l-0.5 0.3M368.2 728.3l0.1 0.1"/>
<path stroke="#afb4e2" stroke-opacity="0.8" stroke-width="3" d="M316.5 747l0.7 2M359.3 749.2l-0.5 1.8M340.4 778.2l1.4 0.9M315.2 716l-0.4 1.7M300 773.3l-2.1 1.1M347.7 730l1 2.1"/>
<path stroke="#afb4e2" stroke-opacity="0.8" stroke-width="3.5" d="M298.7 683.5l-1 2.3M304.4 767.3l1.5 1.5M320.3 710.2l-1.4 0.5M345.6 693.5l1.8 1.5M334.1 782.4l2.3 0.2M287.6 716.2l-1.6 0.4M354.9 774l1.2 1.4"/>
<path stroke="#afb4e2" stroke-opacity="0.8" stroke-width="4" d="M358.1 739.9l-0.8 0.8M329.4 757.4l-0.7 0.3M325.6 781.6l-0.7 2.4M350.9 778.5l-0.7 0.1M350.8 705.4l-0.7 1.1M268.5 716.8l1.2 1.2M301.2 758.3l-0.1 1.3M369.6 703.9l-0 0.7M284.4 762.1l1.6 1.8M324.7 776.6l-1.4 0.3M334.1 681.6l0 1M302 728.7l0.2 1.7M311.1 706.1l1.1 1.4M316 742.8l2.4 0.4"/>
<path stroke="#afb4e2" stroke-opacity="0.8" stroke-width="4.5" d="M342.2 730.9l-0.5 1.6M273.2 738.4l-0.6 1.6M326.7 694.2l1.8 0.3M307 732.8l-0 0.1M260.7 745.3l1.6 0.4M299.5 723l-0.6 0.8M307.9 747.3l1.4 1.3M370.2 733.9l-0 0.3M369 716.4l0.3 1.2M355.2 709.3l-0.1 0M301.7 699.3l0.5 0.3M337.9 709.6l-0.8 0.5M264 691.2l-0.2 0"/>
<path stroke="#afb4e2" stroke-opacity="0.8" stroke-width="5" d="M334 787.6l0.4 1.3M354.1 766.8l0.7 0.1M337.7 714.9l-0.4 1.1M354.9 688.8l0.1 1M331.8 772.7l0.5 1.1M317.3 755.1l0.1 0M301.8 713.4l-1 0.6M282.3 780.4l0.4 0.3M285.8 732.7l-0.2 0.7M348.1 738.9l0.6 0.1M264.8 725.3l-0.8 0.4"/>
<path stroke="#afb4e2" stroke-opacity="0.8" stroke-width="5.5" d="M352.5 734.4l0 0.4M280.2 754.8l-0.1 0.2M358 704.4l0.7 0.5M302.6 751.5l-0.4 0M275.7 683.3l-0.6 0.6M343.1 750.6l0.2 0.3M278.8 769.7l0.3 0.9M352.2 700l0 0.1"/>
<path stroke="#afb4e2" stroke-opacity="0.8" stroke-width="6" d="M293.5 778.7l-0 0.2M299.6 704.3l0.1 0M277.6 788l-0.2 0.4M294.5 716.8l0.1 0.3"/>
<path stroke="#a7acde" stroke-opacity="0.8" stroke-width="2.5" d="M326.4 686.2l1.7 1.3"/>
<path stroke="#a7acde" stroke-opacity="0.8" stroke-width="3" d="M274 762l2 1.7M360.3 766.3l-0.6 1.5M307.4 702.9l0.3 2.3M263.7 781.3l-1.9 0.8M320.8 682.4l1.4 1.3M262.6 704.4l-1.4 0.8"/>
<path stroke="#a7acde" stroke-opacity="0.8" stroke-width="3.5" d="M263.9 751.9l0.7 1M362.8 698.4l0.5 1M360 788.3l-2.3 1.4M369.4 696.7l-2.2 0.1M284.6 751.3l-1 1.2M291.3 695.5l2 0.2M320.3 696.3l1.3 0.8M290.4 709.8l0.1 1.3M261.7 788.9l1.2 0.9M319.9 690.9l1.1 0.3M282.9 727l-1.3 0.7M338.1 774.3l-0.2 1.9M352.6 748.3l0 2.6"/>
<path stroke="#a7acde" stroke-opacity="0.8" stroke-width="4" d="M264.7 719.8l-0.6 0.4M365.4 788.6l1.7 0.2M330.4 720.5l1.7 0.9M330.7 709.2l-0 1M313.7 782.2l-1.3 1.4M265.5 710.1l-1.5 1.1M320.6 727.5l-0.4 0.7M268 694.5l0.3 1.7M343.4 713.6l-1.5 0.2M271.5 723l1 0.7M325.4 705.9l0 2.3M294.1 704.7l0.8 0.4M318.9 774.3l-0.7 1.5M325.3 700.8l-0 2.4M352.7 785.4l-1 0.5M318.5 760.1l-2.2 0.9M369.7 740.2l-0.9 1.5M368.7 770l-0.8 2.1M318.9 715.8l1.8 0.1"/>
<path stroke="#a7acde" stroke-opacity="0.8" stroke-width="4.5" d="M290.9 764.4l1.3 0.5M261.8 685.6l0.4 0M344.6 742.1l0.2 0.9M355.5 695.5l1.1 0.3M317.3 703.4l-1.3 1.5M278.7 747.6l-0.6 1.8M287.5 756.3l-0.1 0.4M295.3 748.7l0.2 0.3M270.2 752.5l-0.7 0.4M318.8 781.1l0.9 1.4"/>
<path stroke="#a7acde" stroke-opacity="0.8" stroke-width="5" d="M300.4 788.2l0.8 0.1M293.8 770.2l0.1 0M360.8 781.3l1.1 0.8M340 760.1l0.5 1.2M339.7 687.9l0 1M323.7 737.9l0.5 0.1M279.9 715.9l0.3 0.9M288.2 685.3l0 0.4M357.8 731.4l0.1 0.4M347.1 789.2l0.1 0M293.8 788.3l-1.2 0.5M277.9 735.6l0.2 0.8M370.5 721.6l-0.1 1.2M354.4 714.4l-0.5 0.9M299.3 740.1l-0.7 0.2"/>
<path stroke="#a7acde" stroke-opacity="0.8" stroke-width="5.5" d="M342.9 784.8l0.2 0M327.2 789.2l-0.7 0.2M346.4 701.1l0.3 0.7M286.9 770.6l-0.8 0.5M311.4 735.6l0.7 0.2M336.7 731.3l0.6 0.6"/>
<path stroke="#a7acde" stroke-opacity="0.8" stroke-width="6" d="M281.2 775.1l0.1 0.1M287.8 692.1l-0.5 0"/>
<path stroke="#e6e8f5" stroke-opacity="0.75" stroke-width="2.5" d="M328.7 728.1l2.2 0.4M360.1 683.2l-1.2 1"/>
<path stroke="#e6e8f5" stroke-opacity="0.75" stroke-width="3" d="M307.8 711.3l-0.7 0.8M312.8 762.1l-1.5 1M362.7 740.2l2.1 0.6M333.3 688.5l-1.8 1M281.3 686l-0.9 0.6M315.7 769.2l-0.2 1.6M370 682.6l0.8 1.7"/>
<path stroke="#e6e8f5" stroke-opacity="0.75" stroke-width="3.5" d="M335 725.6l1.3 0.2M332.2 699.5l-0.8 0.6M305.9 721.3l-1.3 0.5M324.2 770.6l0.6 0.9M360.1 714.4l0.1 0.6M346.2 687.5l2.5 0.3M298.5 690.5l-1.3 0.3M335.1 693.2l0.9 0.1M363 690.6l-1.1 0.1M285.3 722.6l-0.5 0M366.6 780.6l0.6 0.1"/>
<path stroke="#e6e8f5" stroke-opacity="0.75" stroke-width="4" d="M268.4 778l0.2 1M311.4 726.6l-1 0.2M315.6 730.8l-0.5 0M325.9 761.2l-0.4 0.6M266.3 731.3l-1.1 0.4M362.8 745l-1.1 2M261.7 769.9l0.5 0.2"/>
<path stroke="#e6e8f5" stroke-opacity="0.75" stroke-width="4.5" d="M294.5 783.7l0.6 0.6"/>
<path stroke="#e6e8f5" stroke-opacity="0.75" stroke-width="5" d="M350.8 743.7l0.2 0.7M349.6 681.7l-0.4 1.2M280.2 761.1l-0.3 0.9"/>
<path stroke="#e6e8f5" stroke-opacity="0.75" stroke-width="5.5" d="M296.1 727.4l0.1 0.1M268.4 765.9l0.2 0.1"/>
<path stroke="#dee1f2" stroke-opacity="0.75" stroke-width="2.5" d="M361.2 734l1.5 1.3M355.1 723.9l2 0.5"/>
<path stroke="#dee1f2" stroke-opacity="0.75" stroke-width="3" d="M309.1 779.6l-1 2.2M272.9 744.6l-1.3 1.2M297.9 697.2l-1.4 0.8M360 773.3l1.1 2.4"/>
<path stroke="#dee1f2" stroke-opacity="0.75" stroke-width="3.5" d="M288.4 785.1l1.4 0.2M346 725.4l-1.9 0.7M313.1 777.6l1.5 0.2M334.7 703.4l0.1 1.5M304.9 786.4l1 0.3M330 779.6l-0.5 1.1M285 706.5l0.9 2M344.2 706.9l-2.4 1.4"/>
<path stroke="#dee1f2" stroke-opacity="0.75" stroke-width="4" d="M277 781.1l-1.1 2.1M269.3 683.9l0.7 0.5M337.9 768.5l-0.3 0.8M321.2 764.8l-0.4 1.6M365.7 750.9l0.2 0.3M318.8 720.1l-1.6 1.7M288.2 777.5l-0.3 0.9M268.9 734.3l0.7 1.5"/>
<path stroke="#dee1f2" stroke-opacity="0.75" stroke-width="4.5" d="M326 722.8l1.6 0.7M305.7 738.3l-0.1 0M274.2 732l-0.8 0.9M278.2 692.8l-0.5 1.8M302.6 744.4l-0.3 0.2M261.5 776.3l0.1 0.2"/>
<path stroke="#dee1f2" stroke-opacity="0.75" stroke-width="5" d="M262.9 737.6l0.3 0.6M263.3 698l0.4 0.1M273.2 772.7l0.4 0.1M366.9 775.1l0.6 0.3"/>
<path stroke="#dee1f2" stroke-opacity="0.75" stroke-width="5.5" d="M370.5 753.4l0.1 0.3"/>
</g>
<g filter="url(#b0)">
<path stroke="#5d5aa0" stroke-opacity="0.8" stroke-width="1" d="M274.8 686l3.1 1.5M315.8 730.2l-1.3 2.3M328.7 696.3l0.9 1.4"/>
<path stroke="#5d5aa0" stroke-opacity="0.8" stroke-width="1.5" d="M345.4 758.6l2.7 0.3M349.4 692.4l2.8 3.1"/>
<path stroke="#d63aa0" stroke-opacity="0.8" stroke-width="1" d="M298.6 788.7l-0.1 0.1M320.9 715.5l-0.2 0.4"/>
<path stroke="#d63aa0" stroke-opacity="0.8" stroke-width="1.5" d="M340.7 765.9l0 0.1M354.4 774.8l-0.2 0.1M268.2 686.9l-0.1 0.4"/>
<path stroke="#e04aa8" stroke-opacity="0.8" stroke-width="1" d="M330.4 766.7l-0.3 0.1"/>
<path stroke="#e04aa8" stroke-opacity="0.8" stroke-width="1.5" d="M273.8 731.7l0.3 0.1M353.5 693.8l0.4 0.2M335.3 784.6l-0.1 0.2"/>
<path stroke="#c92f95" stroke-opacity="0.8" stroke-width="1" d="M299.6 782.6l0.4 0.2M295.5 753.3l-0.7 0.1M269.3 758.4l0.3 0.5"/>
<path stroke="#c92f95" stroke-opacity="0.8" stroke-width="1.5" d="M285.7 757.2l-0.5 0.2M273.9 743l-0.2 0.1"/>
</g>
</g>
<g clip-path="url(#cp7)" fill="none" stroke-linecap="round">
<rect x="372.9" y="685" width="103.5" height="101.9" fill="#d6d6ec"/>
<g filter="url(#b2)">
<path stroke="#f8f9fc" stroke-opacity="0.75" stroke-width="7.5" d="M392.2 770l-2 0.7"/>
<path stroke="#f8f9fc" stroke-opacity="0.75" stroke-width="9" d="M382.2 751.4l4.4 1.6"/>
<path stroke="#f8f9fc" stroke-opacity="0.75" stroke-width="11" d="M380.5 762.7l0.2 1.2M381 707.4l-2.7 0.8M388.2 772.5l0.5 0.5"/>
<path stroke="#ffffff" stroke-opacity="0.75" stroke-width="7" d="M419.4 742l-0.7 1.5"/>
<path stroke="#ffffff" stroke-opacity="0.75" stroke-width="8" d="M439.6 737.7l1.3 0.7"/>
<path stroke="#ffffff" stroke-opacity="0.75" stroke-width="9" d="M396.4 711.5l-0.1 0.3"/>
<path stroke="#ffffff" stroke-opacity="0.75" stroke-width="9.5" d="M398.5 751.1l0.8 0.2M454.8 724.3l0.3 0.6"/>
<path stroke="#ffffff" stroke-opacity="0.75" stroke-width="10" d="M385 735.4l1.9 2"/>
<path stroke="#ffffff" stroke-opacity="0.75" stroke-width="10.5" d="M386.9 761.8l-0.9 0.2"/>
</g>
<g filter="url(#bl)">
<path stroke="#b1afdc" stroke-opacity="0.8" stroke-width="2.5" d="M468.7 708.2l1.7 1.5"/>
<path stroke="#b1afdc" stroke-opacity="0.8" stroke-width="3" d="M434.7 782.7l1.2 2.2M475.8 787.4l-1.3 1M431.5 731.8l-1.7 1.4M464.7 729.1l1.7 1.3M454.3 731.8l-1.5 1M433.9 711l-1.1 1.4M395.4 774.3l1.5 2.1M369.9 705.7l1.4 0.8M437 746.9l2.5 0.7M437.3 733.2l0.7 1.5M431.3 766.7l-0.7 2.3"/>
<path stroke="#b1afdc" stroke-opacity="0.8" stroke-width="3.5" d="M378.6 738.1l-1.2 0.8M415.4 779.7l-0.6 2.7M478 715.1l-2.5 0.3M476 777.2l-1.8 1.8M457.8 724.2l-0.5 2.5M421.9 752.9l-1.3 1.8M373.9 746l0.4 1.9M370.5 699.4l-1.1 0.1M446.4 756.6l-0.2 1.6M431.9 776.2l1.4 1.6M469 746.9l1.1 0.6M447 695.5l-0.4 2.4M437 706.8l2.1 0.7"/>
<path stroke="#b1afdc" stroke-opacity="0.8" stroke-width="4" d="M453.6 784.7l0.8 0.7M393.1 710.4l0.4 2M456.1 777.4l1.5 1.2M478.9 728.3l1.1 0.6M477.7 738.7l-0.7 0.7M386.8 710.2l1.7 0.9M377.2 782.3l-0.4 1M426.1 694.5l0.4 1M470 701.2l-0 1.3M468.9 740.3l-0.4 0.5M409.1 722l0.7 0.6M464.4 681.6l1.1 0.9"/>
<path stroke="#b1afdc" stroke-opacity="0.8" stroke-width="4.5" d="M476.1 703.4l-1 1.6M441.5 762.2l-1.1 1.2M457.4 742l-0.2 1.5M429.8 786.2l0.3 0.1M402.3 744.8l0.1 0.6M383.8 783.3l0.2 0.8M474.2 755.4l-1.3 0.9M417.7 702.9l-0.2 0.2M372.1 738.4l-0.2 0.2M458.5 700.3l-0.3 1.1M478 684.1l0.8 0M451.4 756.6l-0 0.8M431.3 738.4l0.9 1M449.9 681.8l1 0.5"/>
<path stroke="#b1afdc" stroke-opacity="0.8" stroke-width="5" d="M410 702.9l0.1 0.1M378.8 757.9l0.7 0.2M415.3 726.3l-0.7 0.5M410.3 685.1l-0.5 0.9"/>
<path stroke="#b1afdc" stroke-opacity="0.8" stroke-width="5.5" d="M463.3 783.6l-0.8 0.3M464.6 690.9l0.2 0.2M428.2 682.8l-0.6 0.9M470.6 684l-0 0.3M427.1 780.1l0.9 0.4M400.4 706.2l-0.1 0.5M405.3 682.2l0.2 0M415 788.1l-0 0.1"/>
<path stroke="#b1afdc" stroke-opacity="0.8" stroke-width="6" d="M405.9 709l0.2 0M377.4 770.5l-0.4 0M457.9 692l0.2 0.4"/>
<path stroke="#a9a6d7" stroke-opacity="0.8" stroke-width="3" d="M379.4 748.9l-1 2.3M392.7 778.6l-2.3 1.1M370.7 774.4l0.8 1.8M403.4 698.9l-1.4 1.1M477.6 748.8l-1.7 0.7M449.1 702.3l-0.4 2.4M458.3 737l-2.3 1"/>
<path stroke="#a9a6d7" stroke-opacity="0.8" stroke-width="3.5" d="M428.7 706.5l-0.3 1.1M463.2 767.1l-1.7 1.1M466 696.5l0 1.4M395.7 725.1l-1.2 1.2M376.5 789.8l-1.2 0.2M434 701.1l-0.7 2.1M404 739.7l2.2 0.7M419.7 785.2l1.8 0.1M434.2 684.5l2.5 1.7M399.7 752.3l-0.3 1.1M452 727l-1.1 1.2M473.5 760.6l1.4 0M406.9 755.1l-1.6 0.6M403 789.3l1.1 1M441.7 754.1l-1 1.5M396.3 788.7l-1.2 0"/>
<path stroke="#a9a6d7" stroke-opacity="0.8" stroke-width="4" d="M453.1 696.2l1.6 1M470.2 730.1l0.7 0.8M421.1 687.1l1.7 0M447.2 733l1.5 0.3M477.7 770.3l-1.2 0.9M467.2 789.3l-0.7 0.2M390.9 718.7l1 1.7M426.3 728.9l-0.3 2M375.9 717.3l-0.5 0.4M387 752.5l0.6 0.4M416.8 721.5l2 0.4M441.8 701.8l1 1.1M451 717.9l-2.1 1.5M375.1 685.9l-0 0.7M432.1 696.7l-0.8 1.7M420.9 769.3l1.5 1M406.9 766.6l0.5 2.2M398.8 690.6l0.6 0.8M403.8 782.2l2.1 0.5M400.3 779l0.3 0.6"/>
<path stroke="#a9a6d7" stroke-opacity="0.8" stroke-width="4.5" d="M451.4 707.8l1 0.8M421.2 692.4l0.5 0M411 695l0.2 0.4M381.4 765.1l0.4 0.1M465 749.3l-0.3 0.9M420.4 725.5l1.4 0M463.6 774.3l0.2 1M469.3 714.7l-0.2 0M423.2 734.3l-1.1 1M453.2 739.4l-1.2 0.8M447 788l1.3 0.3M371.6 682.9l-0.4 0.6"/>
<path stroke="#a9a6d7" stroke-opacity="0.8" stroke-width="5" d="M378.6 701.3l-0.7 0.4M431.8 719.9l0.3 0.4M432.2 761.4l-0 1.5M450.2 712.8l-0.1 0.1M411.4 773.1l-0.2 0.3M459.1 684.6l-0.6 0.5M446 687.3l0.1 0.6M428.1 688.3l0.9 0M442 720.8l1 0M387.1 765.1l-0.6 0.2M455.4 766.7l0.6 0.3"/>
<path stroke="#a9a6d7" stroke-opacity="0.8" stroke-width="5.5" d="M440.3 695.1l0.5 0.4M442.3 709.7l0.2 0.4M427.7 760.1l0.2 0.4M437.8 769l-0.7 0M395 769.4l-0.4 0.1M456.8 707.2l0.3 0.1"/>
<path stroke="#a9a6d7" stroke-opacity="0.8" stroke-width="6" d="M469.7 774.6l0.4 0.3M458.4 772.1l-0.1 0.4M428 774.3l-0.4 0.3M385.2 776.5l0.2 0.1M379.2 743.8l0.3 0.4"/>
<path stroke="#a9a6d7" stroke-opacity="0.8" stroke-width="6.5" d="M415.1 685l0.1 0"/>
<path stroke="#a19dd0" stroke-opacity="0.8" stroke-width="2.5" d="M385.8 697l-2.1 0.4M426.3 740.7l-2.2 0.1"/>
<path stroke="#a19dd0" stroke-opacity="0.8" stroke-width="3" d="M392.1 680.8l-1.7 1.8M409 717.6l-2.3 0.9M389.7 686.7l0.9 2M443.4 726.3l-2.1 0.7M442 738.2l-2.1 0.5M478.4 708.3l1.6 1.3M394.1 705.3l0.8 1.4M374.3 709.4l1.7 0.8"/>
<path stroke="#a19dd0" stroke-opacity="0.8" stroke-width="3.5" d="M443.2 769l0.3 2.2M448.3 775.3l0.9 2.8M405.7 691.1l-1.9 0.4M452 686.9l1.2 0.5M400.5 757.7l-0.8 1.9M391.5 783.5l0.2 2.6M412.8 709.9l-0.8 1.7M388.9 729.3l-1 0.9M377.6 690.4l2.3 1.2M461.3 788.4l-2 1M401.1 719.6l-2.1 0.5M445 750.2l1 0.6M444.3 762.9l2.4 0.9"/>
<path stroke="#a19dd0" stroke-opacity="0.8" stroke-width="4" d="M435 751.5l1.7 1M441.8 788l0.2 1M382.9 682.5l-1.3 0.6M415.7 738.1l-0.8 0.1M455.4 751.8l-1.2 0.1M380.2 709.2l1.8 0.7M467.7 756.1l-2.4 0.9M461.5 759.5l1 1.5M401.9 771.7l1.3 0.4M457 715.3l-0.1 1.1M464.3 705.3l-1.1 2.1M431.2 727l-0.6 0.2M381.2 716.7l-0.6 1.2M370.5 691.3l0.2 0.8M473.1 690.3l-0 0.9M381 733.8l0.7 1.3M388.3 703.5l1.4 0.4M394.6 738.8l0.8 0.1M418.6 710.5l-1.2 0.7"/>
<path stroke="#a19dd0" stroke-opacity="0.8" stroke-width="4.5" d="M438.5 715.3l-0.7 0.5M436.5 724.3l-0.3 0.4M396.3 684.5l-0.3 0.1M434 691l-0.3 1.5M438.8 773.9l0.3 0.6M443.2 780.4l0.1 0.6M426.1 720.4l-0.8 0.2M467.4 780.3l1 0.3M450.9 747.3l-0.2 0.8M441 686.9l-0.1 0.3M386.3 736.5l-0.1 0.3M416 698.3l-1.1 0.1M461.8 722.8l0.9 0"/>
<path stroke="#a19dd0" stroke-opacity="0.8" stroke-width="5" d="M388.1 770.5l0.4 0.5M418.4 774.4l-1.2 0.6M396.1 699.1l0.6 0M402.2 724.8l-0.9 0.6M475.4 696.9l-0.3 1M393.3 694.1l-1.5 0.1M405.6 775.5l-0.9 1.3M467.4 767.2l-0.3 0.5M399.1 713l0.7 1M424.1 711.6l0.7 0.9M463.2 734.9l0 0.1M420.7 716.7l-0.2 0.9M383.7 689.4l0.8 0.6M421.7 698.9l-1 0.2M457.5 756l1.2 0.2"/>
<path stroke="#a19dd0" stroke-opacity="0.8" stroke-width="5.5" d="M400.4 785.1l-0.1 0.3M462.6 716.4l0.3 0.4M445.7 741.9l-0.1 0.7M450 766.5l0.5 0.4M397.9 734l-0.1 0.1M466.5 761.5l0.2 0.2M372.3 714.4l-0.1 0.1M381.8 788.2l0.6 0.8"/>
<path stroke="#a19dd0" stroke-opacity="0.8" stroke-width="6" d="M407.6 760.8l0.4 0M421.5 777.1l-0.2 0.2M412.1 730.4l-0.3 0.2"/>
<path stroke="#e2e3f1" stroke-opacity="0.7" stroke-width="2.5" d="M432.6 744.3l-1.7 0.3"/>
<path stroke="#e2e3f1" stroke-opacity="0.7" stroke-width="3" d="M386.2 723.2l-1.6 2.2"/>
<path stroke="#e2e3f1" stroke-opacity="0.7" stroke-width="3.5" d="M386 741.9l0.4 2.1M413.7 753.7l-0 1.4"/>
<path stroke="#e2e3f1" stroke-opacity="0.7" stroke-width="4" d="M371.4 766.2l-0.5 0.5M427.6 752.9l1 0.4M463.7 742l-0.4 2.6"/>
<path stroke="#e2e3f1" stroke-opacity="0.7" stroke-width="4.5" d="M423.6 748.6l-0.2 0.5M400.4 764.2l0.2 1.3M413.9 715.1l1.5 0.8"/>
<path stroke="#e2e3f1" stroke-opacity="0.7" stroke-width="5" d="M395.2 743.9l-0.5 1.6M380.7 728.6l-0.1 0.1M372.4 724.8l0.1 0"/>
<path stroke="#e2e3f1" stroke-opacity="0.7" stroke-width="5.5" d="M413.1 748.5l-0.4 0.5"/>
<path stroke="#e9eaf5" stroke-opacity="0.7" stroke-width="2.5" d="M370.3 757.6l1.4 0.8"/>
<path stroke="#e9eaf5" stroke-opacity="0.7" stroke-width="3" d="M396.2 762.8l-1.3 0"/>
<path stroke="#e9eaf5" stroke-opacity="0.7" stroke-width="3.5" d="M419.2 762.7l-0.1 1M387.5 757.8l0.2 1"/>
<path stroke="#e9eaf5" stroke-opacity="0.7" stroke-width="4" d="M377.1 775.4l0.3 0.4"/>
<path stroke="#e9eaf5" stroke-opacity="0.7" stroke-width="4.5" d="M378.4 722.4l-0.2 0"/>
<path stroke="#e9eaf5" stroke-opacity="0.7" stroke-width="5" d="M407.2 746.4l-0.2 1.7M409.6 786.7l-0.3 0.5"/>
<path stroke="#e9eaf5" stroke-opacity="0.7" stroke-width="5.5" d="M467.9 721.9l0.1 0"/>
<path stroke="#eff0f8" stroke-opacity="0.7" stroke-width="3" d="M405.6 730.5l0 1.5M374.5 730.5l1.6 1.7"/>
<path stroke="#eff0f8" stroke-opacity="0.7" stroke-width="3.5" d="M390.9 734.4l1.2 0.4M417.7 745.7l-0.5 1.7"/>
<path stroke="#eff0f8" stroke-opacity="0.7" stroke-width="4" d="M392.8 753.2l0.1 0.3"/>
<path stroke="#eff0f8" stroke-opacity="0.7" stroke-width="4.5" d="M370.7 783.8l1.1 1.1"/>
<path stroke="#eff0f8" stroke-opacity="0.7" stroke-width="5.5" d="M474.3 720.6l0 0.2"/>
<path stroke="#eff0f8" stroke-opacity="0.7" stroke-width="6" d="M415.9 769l0.6 0.3"/>
</g>
<g filter="url(#b0)">
<path stroke="#c92f95" stroke-opacity="0.85" stroke-width="1" d="M416.1 694.7l-0.3 0.5"/>
<path stroke="#c92f95" stroke-opacity="0.85" stroke-width="1.5" d="M468.5 703.5l0.1 0M414.7 768.3l-0.1 0.3M463.4 712.7l0.1 0"/>
<path stroke="#c92f95" stroke-opacity="0.85" stroke-width="2" d="M382.7 718.3l0.1 0"/>
<path stroke="#d63aa0" stroke-opacity="0.85" stroke-width="1" d="M471.2 699.5l-0.2 0.2"/>
<path stroke="#e04aa8" stroke-opacity="0.85" stroke-width="1" d="M401.9 783.5l0.2 0.5M467.5 716.7l-0.4 0.8"/>
<path stroke="#e04aa8" stroke-opacity="0.85" stroke-width="1.5" d="M393.1 729.9l-0.2 0"/>
<path stroke="#2a2540" stroke-opacity="0.8" stroke-width="1" d="M380.3 717.6l0.8 0.3"/>
<path stroke="#2a2540" stroke-opacity="0.8" stroke-width="1.5" d="M443.5 770.7l0.4 0M471.8 754.2l0.4 0"/>
</g>
</g>
<g clip-path="url(#cp8)" fill="none" stroke-linecap="round">
<rect x="44.4" y="792" width="103.4" height="102.4" fill="#c6cfe8"/>
<g filter="url(#b2)">
<path stroke="#e8ecf6" stroke-opacity="0.7" stroke-width="6" d="M145.7 812.2l-1.3 0.2"/>
<path stroke="#e8ecf6" stroke-opacity="0.7" stroke-width="6.5" d="M56 846.6l2 0.8"/>
<path stroke="#e8ecf6" stroke-opacity="0.7" stroke-width="7" d="M99.9 865.7l0.1 0M105.3 841.1l-2.9 0.2"/>
<path stroke="#e8ecf6" stroke-opacity="0.7" stroke-width="7.5" d="M44.1 801.8l-0.8 0.1"/>
<path stroke="#e8ecf6" stroke-opacity="0.7" stroke-width="8" d="M137.4 856.3l-2.3 2.9"/>
<path stroke="#e8ecf6" stroke-opacity="0.7" stroke-width="8.5" d="M63.4 887.5l-0.6 1"/>
<path stroke="#e8ecf6" stroke-opacity="0.7" stroke-width="9" d="M127.9 836.6l1.2 1.3"/>
<path stroke="#e8ecf6" stroke-opacity="0.7" stroke-width="10.5" d="M72.9 822.2l0.1 0.5"/>
<path stroke="#eef1f8" stroke-opacity="0.7" stroke-width="4.5" d="M62.3 857l1.7 2.2"/>
<path stroke="#eef1f8" stroke-opacity="0.7" stroke-width="5.5" d="M124.7 883.3l1 2.3M148.1 873.7l2.2 0.7"/>
<path stroke="#eef1f8" stroke-opacity="0.7" stroke-width="7" d="M132.5 827.8l0.2 0M122.4 881.3l-1.9 2.2"/>
<path stroke="#eef1f8" stroke-opacity="0.7" stroke-width="8" d="M134.7 840.4l-0.9 0.4"/>
<path stroke="#eef1f8" stroke-opacity="0.7" stroke-width="9" d="M147.7 842l0.5 0.2"/>
<path stroke="#cfa896" stroke-opacity="0.5" stroke-width="5.5" d="M84.4 799.8l-1.5 4M74.4 810.9l-2.7 0.8M62.8 815.6l2.7 0.4"/>
<path stroke="#cfa896" stroke-opacity="0.5" stroke-width="6" d="M82.4 800.5l0.6 0.5M86.6 807.5l1.3 2.5"/>
<path stroke="#cfa896" stroke-opacity="0.5" stroke-width="6.5" d="M79.9 819.3l0.7 0.3"/>
<path stroke="#cfa896" stroke-opacity="0.5" stroke-width="7.5" d="M60.7 810.3l0.5 0.4M65.3 806.6l0.2 0.3"/>
<path stroke="#cfa896" stroke-opacity="0.5" stroke-width="9" d="M73.1 791.1l0 0.9"/>
<path stroke="#bb8c76" stroke-opacity="0.5" stroke-width="4" d="M77 793.1l1.9 2.3"/>
<path stroke="#bb8c76" stroke-opacity="0.5" stroke-width="5.5" d="M62.4 814.6l-0.2 1.4"/>
<path stroke="#bb8c76" stroke-opacity="0.5" stroke-width="6.5" d="M68.3 812.5l-0.3 1.2M69 790.1l1.1 0.7"/>
<path stroke="#bb8c76" stroke-opacity="0.5" stroke-width="8.5" d="M86.8 817.2l0.2 0.4"/>
<path stroke="#bb8c76" stroke-opacity="0.5" stroke-width="9" d="M87.3 795.7l0.7 0.4"/>
<path stroke="#c79c88" stroke-opacity="0.5" stroke-width="5.5" d="M73.6 795.4l-3.4 1.3M88.6 808.9l-1.7 0.1"/>
<path stroke="#c79c88" stroke-opacity="0.5" stroke-width="6" d="M77.4 809.6l-0.5 0.1"/>
<path stroke="#c79c88" stroke-opacity="0.5" stroke-width="7" d="M73.8 815.4l-0 0.1"/>
<path stroke="#c79c88" stroke-opacity="0.5" stroke-width="7.5" d="M75.4 802.4l1.1 0.5"/>
</g>
<g filter="url(#bl)">
<path stroke="#b47e66" stroke-opacity="0.7" stroke-width="3.5" d="M78.6 818.7l-2.2 1.6"/>
<path stroke="#b47e66" stroke-opacity="0.7" stroke-width="4" d="M65 798.9l-0.3 1"/>
<path stroke="#b47e66" stroke-opacity="0.7" stroke-width="4.5" d="M62.7 800.1l-0.3 0.4M82.6 796.2l0.2 0.7"/>
<path stroke="#b47e66" stroke-opacity="0.7" stroke-width="5.5" d="M85.3 805.9l0.1 0M71.4 814.3l0.2 0M79.3 807.5l0.1 1.7"/>
<path stroke="#b47e66" stroke-opacity="0.7" stroke-width="6" d="M86.3 799.6l0.6 1.2"/>
<path stroke="#a86e54" stroke-opacity="0.7" stroke-width="4" d="M70.1 817.8l-2.1 2.4"/>
<path stroke="#a86e54" stroke-opacity="0.7" stroke-width="4.5" d="M81.8 796.3l-0.4 2.6M81.3 816.6l0 0.1"/>
<path stroke="#a86e54" stroke-opacity="0.7" stroke-width="5" d="M78.1 812.6l0.1 0"/>
<path stroke="#9c6046" stroke-opacity="0.7" stroke-width="5" d="M77.1 796.7l-2 0.4"/>
<path stroke="#9c6046" stroke-opacity="0.7" stroke-width="5.5" d="M63 801.7l-1.1 2.2"/>
<path stroke="#8e543a" stroke-opacity="0.7" stroke-width="3" d="M80.9 813l0.9 1.4"/>
<path stroke="#8e543a" stroke-opacity="0.7" stroke-width="3.5" d="M64.5 801.4l-2.1 0.9M78.5 801.7l1 1.8"/>
<path stroke="#8e543a" stroke-opacity="0.7" stroke-width="5" d="M65.8 809.6l0.7 0.6M74.2 796.4l0.1 0.6M81.7 804.7l-0.9 0.6"/>
<path stroke="#9b5434" stroke-opacity="0.6" stroke-width="1.5" d="M79.2 800.1l0.4 1.3"/>
<path stroke="#9b5434" stroke-opacity="0.6" stroke-width="2" d="M70.7 806l-0.8 1.4"/>
<path stroke="#8f4a2c" stroke-opacity="0.6" stroke-width="2" d="M63.9 804.5l0.4 1.3"/>
<path stroke="#8f4a2c" stroke-opacity="0.6" stroke-width="2.5" d="M83.7 800.9l-1.5 1"/>
<path stroke="#8f4a2c" stroke-opacity="0.6" stroke-width="3" d="M77.6 809.7l-1 1.1"/>
<path stroke="#8f4a2c" stroke-opacity="0.6" stroke-width="4" d="M69.9 802.5l-0.3 0.3"/>
</g>
<g filter="url(#b2)">
<path stroke="#c79c88" stroke-opacity="0.5" stroke-width="3.5" d="M73.4 846.1l0.9 2.5"/>
<path stroke="#c79c88" stroke-opacity="0.5" stroke-width="5" d="M77.6 851.7l0.7 1.9M81.5 851.1l-3.6 0.5M75.9 855l2 0.8"/>
<path stroke="#c79c88" stroke-opacity="0.5" stroke-width="5.5" d="M77.5 867.8l2.4 2.4M94.1 826.3l2.6 1.3"/>
<path stroke="#c79c88" stroke-opacity="0.5" stroke-width="6" d="M81.2 870.4l0.3 1.3"/>
<path stroke="#c79c88" stroke-opacity="0.5" stroke-width="7" d="M76.8 858.6l0.1 0"/>
<path stroke="#c79c88" stroke-opacity="0.5" stroke-width="7.5" d="M79.4 837.4l-0.3 0.5M78.6 864.6l0.8 2"/>
<path stroke="#c79c88" stroke-opacity="0.5" stroke-width="8" d="M90.4 834.9l-0.4 0.2M74.8 850.8l-0.2 0.2"/>
<path stroke="#c79c88" stroke-opacity="0.5" stroke-width="9" d="M63.9 852.3l0.1 0M97.4 852.7l0.6 0.2"/>
<path stroke="#cfa896" stroke-opacity="0.5" stroke-width="4" d="M69.2 858.8l-0.2 2.3"/>
<path stroke="#cfa896" stroke-opacity="0.5" stroke-width="4.5" d="M93.1 840l2 1.1M61.6 837.6l-0.2 1.7"/>
<path stroke="#cfa896" stroke-opacity="0.5" stroke-width="6.5" d="M83.7 853.6l-0.3 2.2M104.2 856.7l0.4 0.7"/>
<path stroke="#cfa896" stroke-opacity="0.5" stroke-width="7" d="M96.5 833.1l0.6 2.6"/>
<path stroke="#cfa896" stroke-opacity="0.5" stroke-width="9.5" d="M85.1 868.3l-0.3 0.3"/>
<path stroke="#bb8c76" stroke-opacity="0.5" stroke-width="4" d="M100.2 853l2.5 0.7"/>
<path stroke="#bb8c76" stroke-opacity="0.5" stroke-width="5" d="M85.9 855.6l-1.1 0.5"/>
<path stroke="#bb8c76" stroke-opacity="0.5" stroke-width="5.5" d="M100.4 839.3l-0.6 0.9M74.2 825.9l-0.1 1"/>
<path stroke="#bb8c76" stroke-opacity="0.5" stroke-width="6" d="M69.6 851.2l-0.9 0.1M65.3 835.2l-0.5 1.6"/>
<path stroke="#bb8c76" stroke-opacity="0.5" stroke-width="6.5" d="M73.9 828.8l1.3 0.1"/>
<path stroke="#bb8c76" stroke-opacity="0.5" stroke-width="7.5" d="M96.4 828l0.2 2.5"/>
<path stroke="#bb8c76" stroke-opacity="0.5" stroke-width="8.5" d="M103.6 846.7l-0.3 1.4"/>
</g>
<g filter="url(#bl)">
<path stroke="#a86e54" stroke-opacity="0.7" stroke-width="3" d="M91.4 832.6l0.7 1.8"/>
<path stroke="#a86e54" stroke-opacity="0.7" stroke-width="4" d="M66.2 856.4l1.6 0.6M87.2 837.7l-1.9 0.3"/>
<path stroke="#a86e54" stroke-opacity="0.7" stroke-width="5.5" d="M76.9 840l2.3 0.5"/>
<path stroke="#a86e54" stroke-opacity="0.7" stroke-width="6" d="M95.5 860.8l-0.4 0.6M71 853.6l-0.4 0.7M93.1 854.7l-0.1 0.2M93.2 858.9l0.1 0"/>
<path stroke="#a86e54" stroke-opacity="0.7" stroke-width="6.5" d="M78.1 834.7l-0.9 0.2M84.3 859.9l-0.4 0.8"/>
<path stroke="#b47e66" stroke-opacity="0.7" stroke-width="3" d="M78.5 853.9l-0.9 1.9"/>
<path stroke="#b47e66" stroke-opacity="0.7" stroke-width="3.5" d="M73.5 862.4l0.9 1.2"/>
<path stroke="#b47e66" stroke-opacity="0.7" stroke-width="5" d="M100.8 854.5l0.1 0M95.8 851l-1 2.5"/>
<path stroke="#9c6046" stroke-opacity="0.7" stroke-width="2.5" d="M83 834l-1.6 1"/>
<path stroke="#9c6046" stroke-opacity="0.7" stroke-width="3" d="M76 831.5l-1 0.1"/>
<path stroke="#9c6046" stroke-opacity="0.7" stroke-width="3.5" d="M95.3 835.6l-0.8 1.1"/>
<path stroke="#9c6046" stroke-opacity="0.7" stroke-width="4" d="M74.6 833.8l-0.9 0.4M96.8 856.2l-0.1 1.7"/>
<path stroke="#9c6046" stroke-opacity="0.7" stroke-width="5" d="M83.8 859.4l-0.4 0.9"/>
<path stroke="#9c6046" stroke-opacity="0.7" stroke-width="5.5" d="M89.6 837.9l-1.4 1.7M88.3 858.6l0.1 0.8"/>
<path stroke="#8e543a" stroke-opacity="0.7" stroke-width="2.5" d="M70.2 857.9l1.2 1"/>
<path stroke="#8e543a" stroke-opacity="0.7" stroke-width="3.5" d="M89.5 835l1.3 0.3M83.6 856.4l-0.1 0.5"/>
<path stroke="#8e543a" stroke-opacity="0.7" stroke-width="5" d="M94.2 850.6l-0.1 0.4M93.1 831.7l0 0.1"/>
<path stroke="#8e543a" stroke-opacity="0.7" stroke-width="5.5" d="M85.1 835.1l1.1 0.8M98.9 856.1l1.1 0.7M79.6 865.2l-0 0.8"/>
<path stroke="#9b5434" stroke-opacity="0.6" stroke-width="2.5" d="M91.9 853.2l-0.3 1"/>
<path stroke="#9b5434" stroke-opacity="0.6" stroke-width="3" d="M85.3 836.3l-0.1 0.2M96.1 839.2l0.4 0.1"/>
<path stroke="#9b5434" stroke-opacity="0.6" stroke-width="3.5" d="M80.2 848l0.1 0"/>
<path stroke="#9b5434" stroke-opacity="0.6" stroke-width="4" d="M76.7 836.2l0.1 0"/>
<path stroke="#8f4a2c" stroke-opacity="0.6" stroke-width="2" d="M88.5 862.2l0.1 1.4M94.2 839.1l0.4 0.3"/>
<path stroke="#8f4a2c" stroke-opacity="0.6" stroke-width="3" d="M87.3 852.1l0.3 0.8M69.7 843.2l0.3 0.6M95.3 842.5l-1.2 0.1"/>
</g>
<g filter="url(#b2)">
<path stroke="#cfa896" stroke-opacity="0.5" stroke-width="4.5" d="M122.9 845.6l-2.2 1.3"/>
<path stroke="#cfa896" stroke-opacity="0.5" stroke-width="5" d="M119.6 836.5l1.9 0.1M126.9 840.2l1.6 1.9"/>
<path stroke="#cfa896" stroke-opacity="0.5" stroke-width="6.5" d="M119.5 849.1l-1 3.3"/>
<path stroke="#bb8c76" stroke-opacity="0.5" stroke-width="3.5" d="M113.9 856.5l2.6 1"/>
<path stroke="#bb8c76" stroke-opacity="0.5" stroke-width="6.5" d="M125.1 839.8l-1.4 0.2"/>
<path stroke="#bb8c76" stroke-opacity="0.5" stroke-width="7.5" d="M109.2 844.6l-0.4 0.4"/>
<path stroke="#bb8c76" stroke-opacity="0.5" stroke-width="8.5" d="M113.9 855.3l0 0.2"/>
<path stroke="#c79c88" stroke-opacity="0.5" stroke-width="5" d="M113.1 850.8l-2.7 2.6"/>
<path stroke="#c79c88" stroke-opacity="0.5" stroke-width="5.5" d="M111.8 841.1l-1.5 0.3"/>
<path stroke="#c79c88" stroke-opacity="0.5" stroke-width="6.5" d="M131 853.8l-0.7 0.3M111.5 841.9l1.1 0.1M109.9 843.5l-2.9 0.8"/>
<path stroke="#c79c88" stroke-opacity="0.5" stroke-width="7" d="M113.2 853.8l-0.1 0.1"/>
</g>
<g filter="url(#bl)">
<path stroke="#8e543a" stroke-opacity="0.7" stroke-width="3" d="M132.5 847.7l0.2 1.6"/>
<path stroke="#8e543a" stroke-opacity="0.7" stroke-width="6" d="M130.9 848.3l0.1 0.7"/>
<path stroke="#8e543a" stroke-opacity="0.7" stroke-width="6.5" d="M110.6 851.2l1.1 0.5"/>
<path stroke="#b47e66" stroke-opacity="0.7" stroke-width="4.5" d="M124.2 852.9l-0.7 1.1M124 840.4l-1.7 1.6"/>
<path stroke="#b47e66" stroke-opacity="0.7" stroke-width="5.5" d="M123.5 851.2l-1.1 1.2"/>
<path stroke="#b47e66" stroke-opacity="0.7" stroke-width="6" d="M132.9 848l0.8 0.3"/>
<path stroke="#a86e54" stroke-opacity="0.7" stroke-width="4" d="M123.3 855.8l-1.3 2.5"/>
<path stroke="#a86e54" stroke-opacity="0.7" stroke-width="4.5" d="M120.4 843.9l-3.2 1.4"/>
<path stroke="#a86e54" stroke-opacity="0.7" stroke-width="5.5" d="M124.6 846l1 1.7"/>
<path stroke="#a86e54" stroke-opacity="0.7" stroke-width="6" d="M118.1 853.4l0.1 0"/>
<path stroke="#9c6046" stroke-opacity="0.7" stroke-width="3.5" d="M123.9 852.2l-1.4 0.5"/>
<path stroke="#9c6046" stroke-opacity="0.7" stroke-width="4.5" d="M118.1 848l1.3 0.1"/>
<path stroke="#9c6046" stroke-opacity="0.7" stroke-width="5.5" d="M118.5 855.9l0.9 0.4"/>
<path stroke="#8f4a2c" stroke-opacity="0.6" stroke-width="2.5" d="M120.3 843.4l0.5 1.4M130.5 845.6l-1.7 0.3"/>
<path stroke="#8f4a2c" stroke-opacity="0.6" stroke-width="3" d="M116.6 853.8l0.6 0.1"/>
<path stroke="#9b5434" stroke-opacity="0.6" stroke-width="2.5" d="M126.1 848.6l1 0.2"/>
</g>
<g filter="url(#b2)">
<path stroke="#c79c88" stroke-opacity="0.5" stroke-width="4.5" d="M51.8 873.9l2.8 1.6M48.8 855.3l0.1 2.5"/>
<path stroke="#c79c88" stroke-opacity="0.5" stroke-width="5" d="M42.6 868.7l1.9 0.3"/>
<path stroke="#c79c88" stroke-opacity="0.5" stroke-width="6" d="M55.5 878.3l0.6 0"/>
<path stroke="#cfa896" stroke-opacity="0.5" stroke-width="5" d="M56.2 867.9l-0 1.1"/>
<path stroke="#cfa896" stroke-opacity="0.5" stroke-width="5.5" d="M58.1 871.4l-2.2 3.7"/>
<path stroke="#cfa896" stroke-opacity="0.5" stroke-width="7" d="M46.8 870.5l2.2 0.8"/>
<path stroke="#cfa896" stroke-opacity="0.5" stroke-width="7.5" d="M56 872l-0.3 0.7"/>
<path stroke="#bb8c76" stroke-opacity="0.5" stroke-width="6.5" d="M40.1 873.8l-0 0.2"/>
<path stroke="#bb8c76" stroke-opacity="0.5" stroke-width="9.5" d="M45.9 875.8l0.1 0"/>
</g>
<g filter="url(#bl)">
<path stroke="#b47e66" stroke-opacity="0.7" stroke-width="3" d="M51 860.7l-0.8 1.2"/>
<path stroke="#b47e66" stroke-opacity="0.7" stroke-width="4" d="M51.4 872.3l-1.8 1.3"/>
<path stroke="#b47e66" stroke-opacity="0.7" stroke-width="5" d="M47.4 871l-0.8 1.1"/>
<path stroke="#b47e66" stroke-opacity="0.7" stroke-width="6" d="M52.6 859.6l-0.5 0.6"/>
<path stroke="#a86e54" stroke-opacity="0.7" stroke-width="5" d="M42.1 870.3l-0.3 0.6"/>
<path stroke="#a86e54" stroke-opacity="0.7" stroke-width="6.5" d="M47.2 872.7l0.7 0.6"/>
<path stroke="#8e543a" stroke-opacity="0.7" stroke-width="6" d="M47.1 872.2l-0.4 0.4"/>
<path stroke="#9c6046" stroke-opacity="0.7" stroke-width="2" d="M46.3 871.5l-2 0.3"/>
<path stroke="#9c6046" stroke-opacity="0.7" stroke-width="4.5" d="M44.3 866.7l0 0.6"/>
<path stroke="#9c6046" stroke-opacity="0.7" stroke-width="6.5" d="M60.9 873.3l-0.2 0.2"/>
<path stroke="#8f4a2c" stroke-opacity="0.6" stroke-width="2" d="M47.7 862.9l-0 1.6"/>
<path stroke="#8f4a2c" stroke-opacity="0.6" stroke-width="2.5" d="M51.3 861l-0.3 0.8"/>
<path stroke="#8f4a2c" stroke-opacity="0.6" stroke-width="3.5" d="M60.2 865.4l-0.3 0.6"/>
</g>
<g filter="url(#b2)">
<path stroke="#c79c88" stroke-opacity="0.5" stroke-width="4" d="M113.1 897l2.3 2.5"/>
<path stroke="#c79c88" stroke-opacity="0.5" stroke-width="5.5" d="M107.1 887.8l0.9 2.6"/>
<path stroke="#c79c88" stroke-opacity="0.5" stroke-width="6" d="M125.4 898l-3.6 1.7"/>
<path stroke="#c79c88" stroke-opacity="0.5" stroke-width="6.5" d="M117 884.2l0.1 1.3"/>
<path stroke="#c79c88" stroke-opacity="0.5" stroke-width="7" d="M118 883.5l0.3 1.4"/>
<path stroke="#c79c88" stroke-opacity="0.5" stroke-width="8.5" d="M130.7 898.3l-0.4 0.2"/>
<path stroke="#cfa896" stroke-opacity="0.5" stroke-width="7" d="M121.2 891.2l0 0.1"/>
<path stroke="#bb8c76" stroke-opacity="0.5" stroke-width="4" d="M125 889.1l0.6 2.5M124.5 892.7l0.7 1.9"/>
</g>
<g filter="url(#bl)">
<path stroke="#a86e54" stroke-opacity="0.7" stroke-width="4.5" d="M110.3 886.1l0.2 0.3"/>
<path stroke="#a86e54" stroke-opacity="0.7" stroke-width="5.5" d="M121.8 896.5l-0.3 0.8"/>
<path stroke="#9c6046" stroke-opacity="0.7" stroke-width="3.5" d="M114.5 887.1l0.6 1.1M124.6 884.8l0.9 1"/>
<path stroke="#9c6046" stroke-opacity="0.7" stroke-width="4" d="M114.6 881.7l2.8 1.3"/>
<path stroke="#9c6046" stroke-opacity="0.7" stroke-width="5" d="M112.8 895.8l0.2 1.7"/>
<path stroke="#8e543a" stroke-opacity="0.7" stroke-width="4.5" d="M124.8 882.5l0.1 0"/>
<path stroke="#8e543a" stroke-opacity="0.7" stroke-width="5" d="M121.6 899.3l0.4 0.8"/>
<path stroke="#8e543a" stroke-opacity="0.7" stroke-width="6.5" d="M111.8 896.9l0.3 1.3"/>
<path stroke="#9b5434" stroke-opacity="0.6" stroke-width="3.5" d="M111.9 887.7l-0.6 0.3"/>
<path stroke="#8f4a2c" stroke-opacity="0.6" stroke-width="1.5" d="M112.7 891.4l0.9 0.4"/>
<path stroke="#8f4a2c" stroke-opacity="0.6" stroke-width="2.5" d="M111.2 891.1l-0.1 0.6"/>
</g>
<g filter="url(#b2)">
<path stroke="#c79c88" stroke-opacity="0.5" stroke-width="5" d="M150.6 823.1l0.9 0.8"/>
<path stroke="#c79c88" stroke-opacity="0.5" stroke-width="5.5" d="M142.2 829l-1.4 0.5"/>
<path stroke="#cfa896" stroke-opacity="0.5" stroke-width="4.5" d="M141.5 820.4l2.2 2.1"/>
<path stroke="#bb8c76" stroke-opacity="0.5" stroke-width="6.5" d="M144 828l1.5 2.6"/>
<path stroke="#bb8c76" stroke-opacity="0.5" stroke-width="7" d="M146.7 818.5l0.5 0.9"/>
</g>
<g filter="url(#bl)">
<path stroke="#b47e66" stroke-opacity="0.7" stroke-width="3.5" d="M142.1 824.3l0.8 1.2"/>
<path stroke="#b47e66" stroke-opacity="0.7" stroke-width="5" d="M139.1 824.1l-1.3 0.6"/>
<path stroke="#9c6046" stroke-opacity="0.7" stroke-width="4" d="M142.2 822.1l-1.9 0.8"/>
<path stroke="#a86e54" stroke-opacity="0.7" stroke-width="4" d="M148.9 823l1.1 0.1"/>
<path stroke="#a86e54" stroke-opacity="0.7" stroke-width="6" d="M142.8 817.8l-0 1.8"/>
<path stroke="#8f4a2c" stroke-opacity="0.6" stroke-width="3.5" d="M143.3 825.8l-0.2 0.1"/>
<path stroke="#9b5434" stroke-opacity="0.6" stroke-width="3.5" d="M145.6 821.8l-0 0.3"/>
</g>
<g filter="url(#b2)">
<path stroke="#bb8c76" stroke-opacity="0.5" stroke-width="6" d="M117.9 807.4l0.1 2.2"/>
<path stroke="#bb8c76" stroke-opacity="0.5" stroke-width="6.5" d="M116.5 812.2l0.6 0.3"/>
<path stroke="#cfa896" stroke-opacity="0.5" stroke-width="5.5" d="M120.3 809.6l0.6 0.7"/>
<path stroke="#c79c88" stroke-opacity="0.5" stroke-width="5.5" d="M114.9 812.5l-3.8 0.8"/>
</g>
<g filter="url(#bl)">
<path stroke="#a86e54" stroke-opacity="0.7" stroke-width="6.5" d="M115.3 818.4l0.1 0"/>
<path stroke="#a86e54" stroke-opacity="0.7" stroke-width="7" d="M119.8 817.2l0.1 0.6"/>
<path stroke="#9c6046" stroke-opacity="0.7" stroke-width="3.5" d="M115.4 812.8l0.7 0"/>
<path stroke="#b47e66" stroke-opacity="0.7" stroke-width="6" d="M117.5 818.5l-0.1 0"/>
<path stroke="#8f4a2c" stroke-opacity="0.6" stroke-width="4" d="M119.4 811.7l-0.1 0.3"/>
<path stroke="#9b5434" stroke-opacity="0.6" stroke-width="4" d="M113.9 814l-0.3 0.6"/>
</g>
<g filter="url(#b2)">
<path stroke="#bb8c76" stroke-opacity="0.5" stroke-width="4.5" d="M59.6 884.4l1.9 1.5"/>
<path stroke="#c79c88" stroke-opacity="0.5" stroke-width="5" d="M50.9 891.2l-4.3 0.2"/>
<path stroke="#c79c88" stroke-opacity="0.5" stroke-width="8.5" d="M66.2 880.9l0 0.1M57.1 898.6l-0.1 0.4"/>
<path stroke="#c79c88" stroke-opacity="0.5" stroke-width="9.5" d="M52.6 886.7l0.1 0"/>
<path stroke="#cfa896" stroke-opacity="0.5" stroke-width="9" d="M55.4 877.8l-0.9 0.3"/>
</g>
<g filter="url(#bl)">
<path stroke="#a86e54" stroke-opacity="0.7" stroke-width="4.5" d="M54.8 898.9l1.6 0.3M48.5 895l-0 0.7"/>
<path stroke="#a86e54" stroke-opacity="0.7" stroke-width="6.5" d="M54.7 884.2l0.7 0.8"/>
<path stroke="#8e543a" stroke-opacity="0.7" stroke-width="3.5" d="M57.2 880.1l-0.1 0.6"/>
<path stroke="#8e543a" stroke-opacity="0.7" stroke-width="4" d="M54.3 887.4l-0 0.4"/>
<path stroke="#b47e66" stroke-opacity="0.7" stroke-width="5" d="M63.2 893.9l-0.8 0.6"/>
<path stroke="#9b5434" stroke-opacity="0.6" stroke-width="1.5" d="M51.3 891.6l0.9 0.4"/>
<path stroke="#9b5434" stroke-opacity="0.6" stroke-width="3" d="M60 881.9l-0.8 0.1"/>
</g>
<g filter="url(#b2)">
<path stroke="#c79c88" stroke-opacity="0.5" stroke-width="4" d="M57.8 827.5l2.7 0.6"/>
<path stroke="#c79c88" stroke-opacity="0.5" stroke-width="6" d="M53.5 827.2l-1.2 1.6"/>
<path stroke="#c79c88" stroke-opacity="0.5" stroke-width="6.5" d="M68.3 829.4l-2.9 0.3"/>
<path stroke="#bb8c76" stroke-opacity="0.5" stroke-width="6" d="M77.3 827.6l0.8 1.2M63.4 833.2l-0.2 0.7"/>
<path stroke="#bb8c76" stroke-opacity="0.5" stroke-width="7.5" d="M69.5 818.9l-1.1 0.1"/>
<path stroke="#cfa896" stroke-opacity="0.5" stroke-width="6" d="M64.8 829.8l-0.2 0.2"/>
</g>
<g filter="url(#bl)">
<path stroke="#8e543a" stroke-opacity="0.7" stroke-width="3.5" d="M63.3 831.3l-0.8 2.2"/>
<path stroke="#8e543a" stroke-opacity="0.7" stroke-width="4" d="M65.6 824.1l0.9 0.8"/>
<path stroke="#8e543a" stroke-opacity="0.7" stroke-width="7" d="M63 829.6l0 0.6"/>
<path stroke="#a86e54" stroke-opacity="0.7" stroke-width="3" d="M65.8 837l0.4 1.2"/>
<path stroke="#b47e66" stroke-opacity="0.7" stroke-width="4" d="M74.9 833.9l-0.8 0.3M66.8 834.2l3.3 0.3"/>
<path stroke="#9c6046" stroke-opacity="0.7" stroke-width="4.5" d="M69.8 821.5l-3.2 0.4"/>
<path stroke="#9b5434" stroke-opacity="0.6" stroke-width="2.5" d="M63.9 825.4l1.2 0.3"/>
<path stroke="#9b5434" stroke-opacity="0.6" stroke-width="3.5" d="M61.5 826.8l-1.1 0.1"/>
</g>
<g filter="url(#b2)">
<path stroke="#c79c88" stroke-opacity="0.5" stroke-width="4.5" d="M101.9 865.9l-1.4 1.2"/>
<path stroke="#c79c88" stroke-opacity="0.5" stroke-width="5" d="M109 864.5l-3.7 0.3"/>
<path stroke="#bb8c76" stroke-opacity="0.5" stroke-width="4.5" d="M96.5 868.9l-2.3 2.1"/>
<path stroke="#cfa896" stroke-opacity="0.5" stroke-width="5" d="M108.3 871l0.6 1.8"/>
<path stroke="#cfa896" stroke-opacity="0.5" stroke-width="7" d="M100.8 876.7l-0.1 0.2"/>
</g>
<g filter="url(#bl)">
<path stroke="#8e543a" stroke-opacity="0.7" stroke-width="3.5" d="M96.4 872.9l-1.1 0.4"/>
<path stroke="#8e543a" stroke-opacity="0.7" stroke-width="4.5" d="M98.8 865.6l2.5 0.7"/>
<path stroke="#8e543a" stroke-opacity="0.7" stroke-width="5.5" d="M106.2 868.1l-0 0.2"/>
<path stroke="#9c6046" stroke-opacity="0.7" stroke-width="3" d="M101.7 873.9l-2.1 0.3"/>
<path stroke="#9c6046" stroke-opacity="0.7" stroke-width="4.5" d="M102.6 873.2l0.9 2"/>
<path stroke="#8f4a2c" stroke-opacity="0.6" stroke-width="2.5" d="M102.4 871.8l-0.8 0.3"/>
<path stroke="#9b5434" stroke-opacity="0.6" stroke-width="2.5" d="M104.9 868.5l-0.6 1.6"/>
<path stroke="#7a8fca" stroke-opacity="0.78" stroke-width="4" d="M84.2 879.4l1.8 1.6M54.5 789.5l1.8 0.1M106.7 883.9l-1.7 1M131.1 849.2l0.5 1.8"/>
<path stroke="#7a8fca" stroke-opacity="0.78" stroke-width="4.5" d="M138.1 851.2l-2.1 1.4M48 854.1l2.4 0.8M64.6 893.9l0.5 1.6M101.4 827.7l0.6 2.9"/>
<path stroke="#7a8fca" stroke-opacity="0.78" stroke-width="5" d="M148.8 870.2l-0.8 2.5M137.8 894.7l0.9 1M123.1 807.3l-1.4 0.9M41 800.6l2.5 1.2M84.8 828.9l2.5 0.5M69.6 840l-1 0.3M80.9 893.9l-2.1 1.1M115.6 896.7l0.5 1.9"/>
<path stroke="#7a8fca" stroke-opacity="0.78" stroke-width="5.5" d="M140.1 806.3l0.4 0.3M59 875.2l0.2 1.3M140.1 875.8l-0.6 0.5M95.9 896.1l-0.1 1.1M86.6 873.3l-1.2 0.1M144.6 820.4l-1.7 1.4M90.2 838.2l1.3 0.3M79.4 877.6l-0.8 0.5M50.3 803.2l0.4 1.7M73.1 809.9l0.4 1.1M69.1 857.5l0.6 1.4M95.7 821.8l1.5 0.2"/>
<path stroke="#7a8fca" stroke-opacity="0.78" stroke-width="6" d="M114.7 874.5l-0.6 1.1M142.2 887l0.2 0M142.8 869.8l-1.2 0.1"/>
<path stroke="#7a8fca" stroke-opacity="0.78" stroke-width="6.5" d="M84.2 836.2l0.1 0M114.1 856.6l-0.6 0.1M117.2 833.1l0.6 0.4M93.2 829.2l-0.3 0.3M130.1 862.9l0.8 0.7M93.4 850.5l-0.1 0.9M146.4 864l0.4 0.4M104 890l-0.4 0.5"/>
<path stroke="#7a8fca" stroke-opacity="0.78" stroke-width="7" d="M48.7 884l0.2 0.5"/>
<path stroke="#90a3d6" stroke-opacity="0.78" stroke-width="4" d="M56.8 813.5l2.2 1.3M70.3 895l1.9 2M50.8 796.6l1.8 0.5M121.2 840.1l2.4 1.2M134.4 788.8l2.5 0.6M41.8 857.8l-0.2 2.5"/>
<path stroke="#90a3d6" stroke-opacity="0.78" stroke-width="4.5" d="M108.4 843.2l-2.1 0.5M145.7 790.3l-1.9 1.1M85.3 796.6l-2.5 0.3M116.2 802.7l-0.7 1.6"/>
<path stroke="#90a3d6" stroke-opacity="0.78" stroke-width="5" d="M61.8 805.8l-1.8 0.6M119.8 872.5l0.4 1.1M139.1 796l-1.6 0.4M62.4 846.2l1.5 1.1M116 884.9l-0.8 0.5M125.7 893.9l-0.9 1"/>
<path stroke="#90a3d6" stroke-opacity="0.78" stroke-width="5.5" d="M70 803.5l-0.5 1.1M124.1 824.6l-1.1 1.6M85.6 853.4l-0.4 1.1M80.4 888.4l0.8 0.9M132.5 793.7l-0.4 0.2M61.3 856.9l0.2 1.2M119.2 878.3l0.3 1.3M124.7 793.2l1 1.5"/>
<path stroke="#90a3d6" stroke-opacity="0.78" stroke-width="6" d="M102 820.8l0.6 1.3M137.3 817.5l0.5 0.5M91.8 795.4l0.4 1.7M144.4 839.3l0.1 0M135.8 810.7l-0.6 1.6"/>
<path stroke="#90a3d6" stroke-opacity="0.78" stroke-width="6.5" d="M95.2 857.5l-0.2 0M71.8 866.3l1 0.1M91.5 817.9l-0.1 0M103.5 812.1l1.1 0.3M94.3 875.3l-0.5 0.5"/>
<path stroke="#90a3d6" stroke-opacity="0.78" stroke-width="7" d="M86.1 789.6l0.1 0"/>
<path stroke="#90a3d6" stroke-opacity="0.78" stroke-width="7.5" d="M49.5 810l0.1 0.1"/>
<path stroke="#869ad2" stroke-opacity="0.78" stroke-width="4" d="M60.5 883.4l1.2 1.3M127.7 818.2l1.7 1.6M45.6 835.6l0.9 1.6M125.1 813l2.8 0.1M123.6 866.5l1.1 2.2"/>
<path stroke="#869ad2" stroke-opacity="0.78" stroke-width="4.5" d="M95.9 867.6l2.1 0.4M58 890.6l-1.6 1.4M67.1 823.3l-1.5 0.1M106.5 796l0.7 1.7M54.3 838.8l1.7 0.8M127.8 887.1l-1.3 2.1M130.7 828.2l2.6 0.7M146.8 803.2l-1.8 0.1M123 857l-0.9 1.9M113.7 837.7l0 1.4"/>
<path stroke="#869ad2" stroke-opacity="0.78" stroke-width="5" d="M100.3 880.8l-0.5 0.7M138.4 840.8l-0.4 1.3M108.4 878.1l1.1 2.6"/>
<path stroke="#869ad2" stroke-opacity="0.78" stroke-width="5.5" d="M135.1 869.9l0.6 1.3M81.4 841.6l-0.4 1.5M68.9 796.1l-0.6 0.2M48.4 896.4l0.5 0.1M74.6 818l1.4 0.1M129.9 856.4l1.7 0.2M58 796.9l0.8 0.8M146.3 814.6l1.7 1.3M42.7 851l-0.2 1.5M112.7 848.2l0.8 0.8M56.7 844.6l-0.5 2.2M79.4 869.8l-0.3 0.9M56.4 820.2l1.3 1.4"/>
<path stroke="#869ad2" stroke-opacity="0.78" stroke-width="6" d="M91.3 882.5l-0.2 0.2M45.5 791.5l-1.2 1.3M127.2 843.1l0.1 0M109.5 865.9l1.4 0.2"/>
<path stroke="#869ad2" stroke-opacity="0.78" stroke-width="6.5" d="M108.2 806.9l-0.1 0.3M79 789l-0.6 1.2M129.2 800l0.5 0.6"/>
<path stroke="#869ad2" stroke-opacity="0.78" stroke-width="7" d="M103.3 789.6l0.1 0M131.1 837.3l0.6 0.2M89.9 807.1l0.1 0M61.6 789.2l-0.1 0.4"/>
<path stroke="#869ad2" stroke-opacity="0.78" stroke-width="7.5" d="M150.4 894.1l0.2 0.2"/>
<path stroke="#7085c2" stroke-opacity="0.78" stroke-width="4" d="M77.9 857.3l-1.8 0.6M118.8 825l-1.6 1.7"/>
<path stroke="#7085c2" stroke-opacity="0.78" stroke-width="4.5" d="M109.7 892.7l-0.9 2.4M82.5 814.3l0.9 1.9M140.3 863.5l-1.3 0.3M130.8 874.9l0.3 3.1M62.8 868.8l1.5 2.6M132.2 892.5l-0.6 1.6M96.8 888.4l-1.1 2M146.4 895.1l-2.6 1.2M139.6 823.5l-2.2 1.6"/>
<path stroke="#7085c2" stroke-opacity="0.78" stroke-width="5" d="M87 891.9l1.9 0.1M117.1 812.7l1.1 1.6M47.7 818.7l0.4 0.9M73.9 845.5l-0.1 1M62.1 828.4l1.6 0.8M117.8 864.4l0.2 2.2M77.3 802l-1.2 0.3M148.3 885.2l0.8 0.9M54.5 879.8l-1.2 2.3"/>
<path stroke="#7085c2" stroke-opacity="0.78" stroke-width="5.5" d="M124.4 832l0 0.4M76.7 851.7l0.9 0.1M149.6 878l-0.2 0.3M117.8 791.9l1.4 1.2M96.4 789.1l-0.8 0M131.9 806.4l0.4 0.2M63.9 813.6l1.1 0.5"/>
<path stroke="#7085c2" stroke-opacity="0.78" stroke-width="6" d="M143.2 831l0.3 0.1M145.6 857.1l-0.3 1.4M47.2 876.8l0.1 0.2M106.1 861.1l-1.7 0.3M71.1 828.9l0.9 0.4M80.5 863.7l-0 0.1M43.6 808.3l-0.3 0.1"/>
<path stroke="#7085c2" stroke-opacity="0.78" stroke-width="6.5" d="M43.1 815l-0.4 0.3M106.9 855.3l-0.6 0M107.7 816.8l-0.2 0.8M68.1 883.1l0.1 0M87.2 844.6l0.1 1.3M41.3 885.8l0.8 0.9"/>
<path stroke="#7085c2" stroke-opacity="0.78" stroke-width="7" d="M53.4 871.4l-0.2 0.4"/>
<path stroke="#7085c2" stroke-opacity="0.78" stroke-width="8" d="M93.1 844.4l0.1 0"/>
<path stroke="#e6ebf6" stroke-opacity="0.4" stroke-width="2" d="M51.5 832.6l-0.8 0.6M50 864.3l1.3 0.3"/>
<path stroke="#e6ebf6" stroke-opacity="0.4" stroke-width="2.5" d="M79.1 824.2l0.4 0.7M146.3 848.6l0.8 0.6M71.1 872.9l1.2 0.6M76.3 794.9l0.2 1.4M75.1 883.4l0 0.5M91.5 861.8l-0.4 0.9M133.1 884l-0.5 0.3M42.6 893.1l-1.3 1.1M114.2 819.7l-0.5 0.5M69.5 849.5l-1.1 0.1"/>
<path stroke="#e6ebf6" stroke-opacity="0.4" stroke-width="3" d="M121.6 846.6l0.2 0.1M123.3 800.8l0.4 0.1M99.9 801l-0.4 0.6M149.9 822.1l0.2 0M108.9 827.9l0.8 0.8M42.6 867.1l-0.6 0.4M150.2 830.6l0.4 0.1M45.7 846.3l0.9 0M56.1 829l1.2 0.2M102.4 896.6l-0 0.6M77.1 836.3l1.1 0.2M120 819l0.8 0.7M97.8 812.7l-1.5 0.8"/>
<path stroke="#e6ebf6" stroke-opacity="0.4" stroke-width="3.5" d="M80.4 806.9l0.4 1.1M118.8 891.4l1.5 0.1M101.8 836.5l0.1 0M49.4 825.9l-0.7 0.1M101.6 848.1l-1 0.4M111.7 789.5l0.1 0M71.1 889.2l-0.1 0.1M150.7 797.6l0.2 0.9"/>
<path stroke="#e6ebf6" stroke-opacity="0.4" stroke-width="4" d="M106.3 871.8l0.1 0M42.1 825.4l0.3 0.4M70.9 789.9l-0.2 0.5M137.5 832.2l0.9 0M150.8 844.2l0.3 0.2"/>
<path stroke="#e6ebf6" stroke-opacity="0.4" stroke-width="4.5" d="M63.7 836l0.2 0.2M63.2 863.1l-0.1 0.4"/>
<path stroke="#6378c0" stroke-opacity="0.45" stroke-width="1" d="M124.9 826.2l-0.6 0.8M91.3 808.3l-1.2 0.3M57.5 796.9l0.7 0.7"/>
<path stroke="#6378c0" stroke-opacity="0.45" stroke-width="1.5" d="M55.2 839.1l0.6 0.3M75.6 851.9l0.9 0.1M99.5 880.9l-0.6 0.8M148.8 879.4l-0.4 0.6M86.2 835.9l-1 0.5M103.2 789.8l-0.6 0.1M138.3 795.9l-0.9 0.2M48.7 895.8l0.5 0.1M48 854l1 0.4M93.5 842.6l-0.1 1.1M138.7 841.4l-0.4 1.4M46.8 790.3l-1.2 1.2M42.1 800.7l1.2 0.6M143.5 839.5l0.3 0.8M86.1 789.5l1.1 0.7M63.2 871.2l0.5 0.8M77.7 856.8l-0.6 0.2M114.1 848.7l0.6 0.6M90.7 838.5l1.6 0.4M116.7 803.6l-0.5 1.3M124.8 893.9l-0.4 0.5M128.1 800.6l0.6 0.7"/>
<path stroke="#6378c0" stroke-opacity="0.45" stroke-width="2" d="M65.8 823.2l-0.7 0.1M143.9 830.6l0.1 0M125.1 832.4l0.2 1.6M145.2 858.3l0.1 0M87.8 892.1l1.5 0.1M131.5 828l0.5 0.1M120.5 873.6l0.1 0.2M138.3 851.8l-0.3 0.2M48.3 818.7l0.2 0.4M106.6 807l-0.2 0.4M45.9 836.2l0.7 1.3M80.3 888.7l0.2 0.3M54.2 870.8l-0.4 0.7M62.1 846.8l1.2 0.9M129.2 855.6l1.2 0.2M133.5 793.3l-1.3 0.8M147.1 815.3l0.1 0M87.7 843.8l0.1 1M81.4 893.2l-1.7 0.9M145.6 865.1l0.8 0.9M77.6 801.1l-1.1 0.3M73.9 809.3l0.4 1M109.3 867.1l0.6 0.1M79.1 868.3l-0.5 1.6M43.1 857.7l-0 0.4"/>
<path stroke="#6378c0" stroke-opacity="0.45" stroke-width="2.5" d="M57.5 892.3l-0.2 0.2M84 878.7l0.8 0.7M138.4 894.5l0.1 0.1M59.2 875.3l0.1 0.7M117.2 811.8l0.7 1.1M139.5 876.4l-0.8 0.7M116.3 833.4l1 0.7M108.5 894.5l-0.3 0.8M126.7 817.8l1 1M146 802.4l0.1 0M57.5 813.8l0.8 0.5M106.7 885.1l-1.1 0.7M93.9 851.8l-0 0.3M79.1 877.1l-0.3 0.2M84.9 796.3l0.1 0M117.8 827.4l0.1 0M116.9 897.2l0.1 0.5M79.2 789.5l-0.2 0.5M44.4 806.8l-1.1 0.5"/>
<path stroke="#6378c0" stroke-opacity="0.45" stroke-width="3" d="M139.6 805.8l0.2 0.1M96.9 868l0.6 0.1M60.5 882.7l0.5 0.5M135.2 870.4l0.3 0.8M80.7 842l0.1 0M69.6 796.4l-0.3 0.1M145.9 791l-0.1 0.1M62.1 828.6l0.5 0.3M131.2 893.7l-0.3 0.8M57.3 846.9l-0.1 0.3M40.9 885.3l0.2 0.3M93.9 875.1l-0.7 0.6M96.9 821.8l0.2 0"/>
<path stroke="#6378c0" stroke-opacity="0.45" stroke-width="3.5" d="M102.8 822l0.1 0.3M75.6 818.8l0.3 0M129.3 862.9l0.1 0M144.2 894.6l-0.2 0.1"/>
<path stroke="#596db8" stroke-opacity="0.45" stroke-width="1" d="M66.2 882.1l1.1 0.6"/>
<path stroke="#596db8" stroke-opacity="0.45" stroke-width="1.5" d="M69 803.5l-0.4 0.7M62.2 805.6l-0.6 0.2M107.4 816.6l-0.4 1.5M85.5 853.5l-0.5 1.6M118.7 792.6l0.5 0.4M81.3 815.3l0.5 1M70.5 840.3l-1.3 0.4M118.4 864.9l0.1 0.6M103.3 812.5l1.5 0.3M118.4 877.6l0.3 1.2M149.1 885.5l1.1 1.2"/>
<path stroke="#596db8" stroke-opacity="0.45" stroke-width="2" d="M107.5 795.6l0.5 1.3M54.5 789.9l1.4 0.1M45.5 875.1l1 1.7M121.4 807.7l-0.8 0.5M48.1 883.1l0.4 1M105.4 861.9l-1.3 0.2M130.1 837.2l0.9 0.3M96.2 896.1l-0.1 0.9M69.7 896.9l1 1.1M141.7 886.1l1.2 0.2M124.5 866.2l0.7 1.5M64.7 893.6l0.4 1.2M109.6 879.2l0.1 0.2M150.3 893.4l0.2 0.2M116.7 885.6l-0.1 0.1M90.5 819l-0.1 0M131.9 848.9l0.4 1.5M130.9 876.1l0.1 0.9M130.8 805.5l1.1 0.5M64.6 813.2l0.4 0.2M81.1 863.6l-0.3 1.4M103.8 889.1l-0.6 0.8M53.2 880.9l0.1 0M70.5 857.7l0.2 0.5M135.1 789.9l0.5 0.1M62.9 789.8l-0.4 1.5M137.7 824.5l-0.7 0.5M136.6 812.4l-0.1 0.3"/>
<path stroke="#596db8" stroke-opacity="0.45" stroke-width="2.5" d="M128.4 887.7l-0.7 1.2M95.1 857.3l-1.4 0.1M136.9 817.8l0.6 0.6M72.6 867l1 0.1M125.6 812l0.1 0M143.9 820l-0.1 0.1M74.1 845.4l-0.1 1.1M113.1 838.2l0 0.1M70.6 828.8l0.6 0.3M128.7 843.3l0.1 0.9M100.3 828.6l0 0.1"/>
<path stroke="#596db8" stroke-opacity="0.45" stroke-width="3" d="M106.8 843l-0.2 0M149.2 872.2l-0.1 0.2M114.7 874.7l-0.2 0.4M49.6 811l0.2 0.2M122.1 856.9l0.1 0M93.6 830.2l-0.4 0.5M141 864.7l-1 0.2M122.9 840.3l0.2 0.1M96.7 789.1l-0.4 0M60.6 857l0.2 1M50.3 802.8l0.1 0.4M96.9 888.7l0.1 0M55.9 820.3l0.5 0.5M141.7 869.6l-0.7 0"/>
<path stroke="#596db8" stroke-opacity="0.45" stroke-width="3.5" d="M44 813.9l0.1 0M107.8 856.2l-0.3 0M114.9 855.8l-0.4 0M51.2 797.5l0.1 0M84.6 873.1l0.1 0M91.9 796.2l0.1 0M86.7 829.8l0.1 0M42 850.2l-0 0.2M126.4 794l0.2 0.3"/>
<path stroke="#596db8" stroke-opacity="0.45" stroke-width="4" d="M91.9 881.4l0.1 0"/>
</g>
</g>
<g clip-path="url(#cp9)" fill="none" stroke-linecap="round">
<rect x="155.1" y="792" width="102.3" height="102.4" fill="#a9b5db"/>
<g filter="url(#b2)">
<path stroke="#eef1f8" stroke-opacity="0.75" stroke-width="5" d="M155.9 794.2l-1.6 1.8M194.1 828.2l2.6 1.9"/>
<path stroke="#eef1f8" stroke-opacity="0.75" stroke-width="5.5" d="M245.2 882.7l1.1 2.7"/>
<path stroke="#eef1f8" stroke-opacity="0.75" stroke-width="6" d="M162.5 893.7l0.9 1.1"/>
<path stroke="#eef1f8" stroke-opacity="0.75" stroke-width="6.5" d="M207.3 800.4l-2.2 1.9"/>
<path stroke="#eef1f8" stroke-opacity="0.75" stroke-width="8.5" d="M233.1 808.6l-0.1 0.4"/>
<path stroke="#e6eaf5" stroke-opacity="0.75" stroke-width="4.5" d="M210.3 830.4l2.5 1"/>
<path stroke="#e6eaf5" stroke-opacity="0.75" stroke-width="6.5" d="M199.7 885.6l2.6 1.1"/>
</g>
<g filter="url(#bl)">
<path stroke="#f0f3fa" stroke-opacity="0.8" stroke-width="2" d="M219.9 821.1l-0.3 1.7"/>
<path stroke="#f0f3fa" stroke-opacity="0.8" stroke-width="2.5" d="M222.7 819.7l0.6 1.2"/>
<path stroke="#f0f3fa" stroke-opacity="0.8" stroke-width="3.5" d="M223.9 833l-0.9 1.2"/>
<path stroke="#f0f3fa" stroke-opacity="0.8" stroke-width="4" d="M219.4 834.3l0.6 0.8M224.3 831.4l1.1 0.3"/>
<path stroke="#f0f3fa" stroke-opacity="0.8" stroke-width="5" d="M224.3 826.7l0.4 0.1"/>
</g>
<g filter="url(#b2)">
<path stroke="#c79c88" stroke-opacity="0.45" stroke-width="5" d="M177.3 842.8l1.2 1.3M163.7 834.5l3.6 1.2"/>
<path stroke="#c79c88" stroke-opacity="0.45" stroke-width="5.5" d="M167.2 825.4l-0.5 0.4"/>
<path stroke="#c79c88" stroke-opacity="0.45" stroke-width="6.5" d="M159.4 826l-2.3 0.4M159.8 824.6l0.7 2"/>
<path stroke="#c79c88" stroke-opacity="0.45" stroke-width="8" d="M168.6 835.8l0.4 0.2"/>
<path stroke="#c79c88" stroke-opacity="0.45" stroke-width="8.5" d="M169.6 829.4l0.5 0.7"/>
<path stroke="#c79c88" stroke-opacity="0.45" stroke-width="9" d="M169.3 831.6l-0 0.1"/>
<path stroke="#cfa896" stroke-opacity="0.45" stroke-width="3.5" d="M170.4 836.4l2.6 0.6"/>
<path stroke="#cfa896" stroke-opacity="0.45" stroke-width="4.5" d="M162.7 827.7l0.6 2.8"/>
<path stroke="#cfa896" stroke-opacity="0.45" stroke-width="7" d="M161.5 829.1l-0.6 1"/>
<path stroke="#cfa896" stroke-opacity="0.45" stroke-width="8.5" d="M176.9 833.7l0.2 1.3"/>
<path stroke="#cfa896" stroke-opacity="0.45" stroke-width="9" d="M176.3 833.5l-1 0.2"/>
<path stroke="#bb8c76" stroke-opacity="0.45" stroke-width="4.5" d="M170 839.9l0.4 2.2"/>
<path stroke="#bb8c76" stroke-opacity="0.45" stroke-width="5" d="M162.3 836l1.6 0.2M166.6 828.8l0.2 1"/>
<path stroke="#bb8c76" stroke-opacity="0.45" stroke-width="6" d="M168.8 834.2l2.4 0.1"/>
<path stroke="#bb8c76" stroke-opacity="0.45" stroke-width="6.5" d="M159.1 840l-2 1.5"/>
</g>
<g filter="url(#bl)">
<path stroke="#9c6046" stroke-opacity="0.65" stroke-width="3.5" d="M161.8 835.6l-1.9 0.7"/>
<path stroke="#9c6046" stroke-opacity="0.65" stroke-width="4" d="M174.7 832.2l-2.1 0.3"/>
<path stroke="#9c6046" stroke-opacity="0.65" stroke-width="4.5" d="M162.7 845.3l1 0"/>
<path stroke="#9c6046" stroke-opacity="0.65" stroke-width="5.5" d="M162.6 845.1l1.4 0.6"/>
<path stroke="#b47e66" stroke-opacity="0.65" stroke-width="4" d="M173.6 835.4l-1.2 0.1M167.6 836.4l0.1 0.7"/>
<path stroke="#b47e66" stroke-opacity="0.65" stroke-width="4.5" d="M159.6 844.6l-0.8 1.9"/>
<path stroke="#b47e66" stroke-opacity="0.65" stroke-width="5" d="M173 837.1l0.1 1"/>
<path stroke="#b47e66" stroke-opacity="0.65" stroke-width="6" d="M161.7 836l0.2 0.2"/>
<path stroke="#8e543a" stroke-opacity="0.65" stroke-width="4.5" d="M157.9 842.7l-0.1 1.7"/>
<path stroke="#8e543a" stroke-opacity="0.65" stroke-width="5" d="M163.3 841.6l-0.5 0.3"/>
<path stroke="#8e543a" stroke-opacity="0.65" stroke-width="6" d="M170.9 842.7l-0 0.7"/>
<path stroke="#a86e54" stroke-opacity="0.65" stroke-width="4" d="M164.2 848.2l1.8 0.5"/>
<path stroke="#a86e54" stroke-opacity="0.65" stroke-width="6" d="M167.4 842.3l0.6 0.7M156 840.5l-0.4 0.3M163.2 832.8l-0.1 0.6"/>
<path stroke="#a86e54" stroke-opacity="0.65" stroke-width="7" d="M162.2 827.7l-0.1 0.5"/>
<path stroke="#a86e54" stroke-opacity="0.65" stroke-width="7.5" d="M161.6 828.7l-0.2 0.4"/>
<path stroke="#9b5434" stroke-opacity="0.55" stroke-width="3.5" d="M159.1 831.7l-0.6 1M164.7 830.2l0.9 0.9"/>
<path stroke="#8f4a2c" stroke-opacity="0.55" stroke-width="2.5" d="M165.6 833.3l-1.5 1.6M163.4 830.9l0.2 0.6M159.4 842.3l-0.1 0.1"/>
<path stroke="#8f4a2c" stroke-opacity="0.55" stroke-width="3" d="M171.8 836.7l-0.6 1"/>
</g>
<g filter="url(#b2)">
<path stroke="#c79c88" stroke-opacity="0.45" stroke-width="4" d="M202 842.9l0.8 1.9"/>
<path stroke="#c79c88" stroke-opacity="0.45" stroke-width="5" d="M196.3 839l-0.4 2.6"/>
<path stroke="#c79c88" stroke-opacity="0.45" stroke-width="5.5" d="M206.9 842.7l1.2 0.5"/>
<path stroke="#c79c88" stroke-opacity="0.45" stroke-width="7.5" d="M200.2 846.3l2.3 0.3"/>
<path stroke="#bb8c76" stroke-opacity="0.45" stroke-width="6.5" d="M202.8 843.8l2.2 0.7"/>
<path stroke="#cfa896" stroke-opacity="0.45" stroke-width="6" d="M203.6 848.5l-2.9 0.8"/>
<path stroke="#cfa896" stroke-opacity="0.45" stroke-width="7.5" d="M194.3 844l-0.9 0.3"/>
</g>
<g filter="url(#bl)">
<path stroke="#9c6046" stroke-opacity="0.65" stroke-width="4" d="M198.4 844.5l0.6 1.3"/>
<path stroke="#9c6046" stroke-opacity="0.65" stroke-width="4.5" d="M201 841.3l-1.4 0.7"/>
<path stroke="#9c6046" stroke-opacity="0.65" stroke-width="5" d="M201 848.9l-2.8 0.8M199 850l-0.2 1.1"/>
<path stroke="#9c6046" stroke-opacity="0.65" stroke-width="6" d="M203.4 840.3l0.2 1.2"/>
<path stroke="#8e543a" stroke-opacity="0.65" stroke-width="3.5" d="M199.9 842.5l-0.8 0.3"/>
<path stroke="#8e543a" stroke-opacity="0.65" stroke-width="4.5" d="M201.9 845.5l0.9 0.7"/>
<path stroke="#8f4a2c" stroke-opacity="0.55" stroke-width="2.5" d="M205.4 846.4l0.3 1.3M201.6 845.3l0.8 1.1"/>
</g>
<g filter="url(#b2)">
<path stroke="#bb8c76" stroke-opacity="0.45" stroke-width="4.5" d="M222.1 884.8l1.6 1.9M222.4 889.7l2.3 0.2"/>
<path stroke="#bb8c76" stroke-opacity="0.45" stroke-width="7" d="M218.4 883.4l1.6 1.6"/>
<path stroke="#c79c88" stroke-opacity="0.45" stroke-width="6" d="M227.6 883.4l-0.6 0.4"/>
<path stroke="#c79c88" stroke-opacity="0.45" stroke-width="7" d="M244.2 869.2l0.6 1.3"/>
<path stroke="#c79c88" stroke-opacity="0.45" stroke-width="7.5" d="M239.4 874.5l-0.4 0.5"/>
<path stroke="#c79c88" stroke-opacity="0.45" stroke-width="9" d="M232.8 868.5l-0.1 0"/>
<path stroke="#cfa896" stroke-opacity="0.45" stroke-width="4.5" d="M235.6 873.6l3.5 0.5"/>
<path stroke="#cfa896" stroke-opacity="0.45" stroke-width="5" d="M227.5 891.4l3.4 0.2M236.5 886.2l-0.2 2"/>
<path stroke="#cfa896" stroke-opacity="0.45" stroke-width="5.5" d="M229.4 883.2l-0 1.7"/>
<path stroke="#cfa896" stroke-opacity="0.45" stroke-width="6" d="M235 866.2l2.6 1.4M222.2 870.2l0.9 3.7M237.6 866.6l-3.1 1.1M236 876.8l-3.6 1.7M227.4 867l-1.3 1.9"/>
</g>
<g filter="url(#bl)">
<path stroke="#9c6046" stroke-opacity="0.65" stroke-width="4" d="M234.8 889.3l2.3 0.7M237.4 877.4l0 1.1"/>
<path stroke="#9c6046" stroke-opacity="0.65" stroke-width="5" d="M228.4 888.6l-0.5 0.5"/>
<path stroke="#9c6046" stroke-opacity="0.65" stroke-width="7" d="M231.3 890.9l0 0.4"/>
<path stroke="#b47e66" stroke-opacity="0.65" stroke-width="4" d="M237.3 870.5l0.8 0.5"/>
<path stroke="#b47e66" stroke-opacity="0.65" stroke-width="4.5" d="M228.8 883l-0.4 1.5"/>
<path stroke="#b47e66" stroke-opacity="0.65" stroke-width="5" d="M233.5 875l0 0.1"/>
<path stroke="#b47e66" stroke-opacity="0.65" stroke-width="5.5" d="M232.1 869.9l-2.1 1.2"/>
<path stroke="#b47e66" stroke-opacity="0.65" stroke-width="6" d="M225.7 888l0.7 1"/>
<path stroke="#a86e54" stroke-opacity="0.65" stroke-width="2.5" d="M224.1 883.5l-0.5 1.7"/>
<path stroke="#a86e54" stroke-opacity="0.65" stroke-width="3" d="M221.9 875.4l-1.6 1.2"/>
<path stroke="#a86e54" stroke-opacity="0.65" stroke-width="4" d="M241.5 875.9l3.2 0.3"/>
<path stroke="#a86e54" stroke-opacity="0.65" stroke-width="4.5" d="M239.8 882.4l-1 1.3M221.8 882.9l2.7 0"/>
<path stroke="#a86e54" stroke-opacity="0.65" stroke-width="6" d="M225.6 872.3l0.3 0.3"/>
<path stroke="#8e543a" stroke-opacity="0.65" stroke-width="2.5" d="M238.5 869.4l1.6 1"/>
<path stroke="#9b5434" stroke-opacity="0.55" stroke-width="1.5" d="M225.3 871.9l1.1 0.5"/>
<path stroke="#9b5434" stroke-opacity="0.55" stroke-width="2.5" d="M231 873.3l-1 0.4"/>
<path stroke="#9b5434" stroke-opacity="0.55" stroke-width="3" d="M226.2 872.5l-0.9 0.1"/>
<path stroke="#8f4a2c" stroke-opacity="0.55" stroke-width="2" d="M237.4 872.6l-1.1 1.3"/>
<path stroke="#8f4a2c" stroke-opacity="0.55" stroke-width="5" d="M232.3 885.4l0.1 0"/>
</g>
<g filter="url(#b2)">
<path stroke="#c79c88" stroke-opacity="0.45" stroke-width="5.5" d="M234.5 801.7l0.5 1.4"/>
<path stroke="#c79c88" stroke-opacity="0.45" stroke-width="6.5" d="M235.3 809.4l-2.2 1"/>
<path stroke="#bb8c76" stroke-opacity="0.45" stroke-width="7" d="M235.9 803.6l0.1 0"/>
<path stroke="#bb8c76" stroke-opacity="0.45" stroke-width="9" d="M229.3 804l-0.2 0.7"/>
<path stroke="#cfa896" stroke-opacity="0.45" stroke-width="5" d="M228.1 802.9l-0.8 2"/>
</g>
<g filter="url(#bl)">
<path stroke="#9c6046" stroke-opacity="0.65" stroke-width="4.5" d="M229.5 805.4l-0.1 1"/>
<path stroke="#9c6046" stroke-opacity="0.65" stroke-width="5.5" d="M234.1 801.9l0.6 0.2"/>
<path stroke="#8e543a" stroke-opacity="0.65" stroke-width="3" d="M228.8 801.1l2 0.5"/>
<path stroke="#8e543a" stroke-opacity="0.65" stroke-width="4" d="M229.6 800.7l-0 0.1"/>
<path stroke="#8e543a" stroke-opacity="0.65" stroke-width="4.5" d="M231.1 801.2l-0.3 0.2"/>
<path stroke="#9b5434" stroke-opacity="0.55" stroke-width="3" d="M227 803.6l1.5 0.7"/>
<path stroke="#8f4a2c" stroke-opacity="0.55" stroke-width="3" d="M235.7 803.8l-0.2 0.4"/>
</g>
<g filter="url(#b2)">
<path stroke="#c79c88" stroke-opacity="0.45" stroke-width="3.5" d="M213.3 813l-2.5 0.5"/>
<path stroke="#c79c88" stroke-opacity="0.45" stroke-width="4" d="M209.5 804.8l1.3 1.7"/>
<path stroke="#c79c88" stroke-opacity="0.45" stroke-width="5.5" d="M203.4 811.3l2.1 0.7"/>
<path stroke="#c79c88" stroke-opacity="0.45" stroke-width="6.5" d="M220.6 808.5l-2.2 2.7"/>
</g>
<g filter="url(#bl)">
<path stroke="#9c6046" stroke-opacity="0.65" stroke-width="4" d="M209.2 801.8l0.3 0.7"/>
<path stroke="#9c6046" stroke-opacity="0.65" stroke-width="4.5" d="M212.9 810.8l-1.9 1.3"/>
<path stroke="#b47e66" stroke-opacity="0.65" stroke-width="4" d="M210.8 799.6l1.9 2.7"/>
<path stroke="#8e543a" stroke-opacity="0.65" stroke-width="3.5" d="M215.9 809.3l0.1 1.2"/>
<path stroke="#8f4a2c" stroke-opacity="0.55" stroke-width="2.5" d="M211.1 809.3l1.2 0.8"/>
<path stroke="#8f4a2c" stroke-opacity="0.55" stroke-width="3.5" d="M208 809.3l-0.6 0"/>
</g>
<g filter="url(#b2)">
<path stroke="#bb8c76" stroke-opacity="0.45" stroke-width="5" d="M177.5 862.4l0.6 3.1"/>
<path stroke="#bb8c76" stroke-opacity="0.45" stroke-width="5.5" d="M176.8 857.6l0.9 1.2"/>
<path stroke="#bb8c76" stroke-opacity="0.45" stroke-width="9" d="M194.5 873.3l-0.3 0.5M181 865.1l0.3 0.3"/>
<path stroke="#c79c88" stroke-opacity="0.45" stroke-width="6" d="M183.8 868l1 3.7M184.7 860.4l-2.7 0.1"/>
<path stroke="#c79c88" stroke-opacity="0.45" stroke-width="6.5" d="M179 865.7l-0.1 2.5"/>
<path stroke="#cfa896" stroke-opacity="0.45" stroke-width="8" d="M179.8 861.6l0.5 1.2"/>
</g>
<g filter="url(#bl)">
<path stroke="#8e543a" stroke-opacity="0.65" stroke-width="4" d="M187.3 867.5l1.1 0.5"/>
<path stroke="#8e543a" stroke-opacity="0.65" stroke-width="4.5" d="M175.8 863.2l0.1 0M179.8 858.5l0.2 2"/>
<path stroke="#8e543a" stroke-opacity="0.65" stroke-width="5" d="M191.7 863.5l0.1 0"/>
<path stroke="#8e543a" stroke-opacity="0.65" stroke-width="7" d="M186.6 874.8l0 0.1"/>
<path stroke="#9c6046" stroke-opacity="0.65" stroke-width="6.5" d="M184.2 868.9l0.1 0M184.5 876.8l-0.9 0.7"/>
<path stroke="#b47e66" stroke-opacity="0.65" stroke-width="4" d="M184.1 855.9l3.3 0.6"/>
<path stroke="#8f4a2c" stroke-opacity="0.55" stroke-width="3" d="M186.7 873l1.4 1"/>
<path stroke="#9b5434" stroke-opacity="0.55" stroke-width="2" d="M194.3 867.7l-0 0.8"/>
</g>
<g filter="url(#b2)">
<path stroke="#cfa896" stroke-opacity="0.45" stroke-width="9" d="M205.9 887l0.1 0"/>
<path stroke="#c79c88" stroke-opacity="0.45" stroke-width="5.5" d="M202.5 883.2l1.9 2.5"/>
<path stroke="#bb8c76" stroke-opacity="0.45" stroke-width="9" d="M202.1 884.4l-0.9 0.1"/>
</g>
<g filter="url(#bl)">
<path stroke="#9c6046" stroke-opacity="0.65" stroke-width="7.5" d="M205.3 885.4l0.2 0"/>
<path stroke="#8e543a" stroke-opacity="0.65" stroke-width="3" d="M209.9 888.8l-1.6 0.4"/>
<path stroke="#8e543a" stroke-opacity="0.65" stroke-width="4" d="M204.7 885.3l1.9 0.1"/>
<path stroke="#9b5434" stroke-opacity="0.55" stroke-width="2.5" d="M205.2 884.2l-0.5 0.1"/>
<path stroke="#8f4a2c" stroke-opacity="0.55" stroke-width="2" d="M204.3 883.2l0.1 1"/>
</g>
<g filter="url(#b2)">
<path stroke="#c79c88" stroke-opacity="0.45" stroke-width="5" d="M250 827.3l1.4 0.8"/>
<path stroke="#c79c88" stroke-opacity="0.45" stroke-width="6" d="M245.2 833.6l1.2 2.7"/>
<path stroke="#bb8c76" stroke-opacity="0.45" stroke-width="5" d="M252.9 836.3l-1.2 0.6"/>
</g>
<g filter="url(#bl)">
<path stroke="#b47e66" stroke-opacity="0.65" stroke-width="2.5" d="M247.2 835.5l-1.7 1"/>
<path stroke="#b47e66" stroke-opacity="0.65" stroke-width="4.5" d="M247.5 834.1l-0.3 0.1"/>
<path stroke="#8e543a" stroke-opacity="0.65" stroke-width="6" d="M244.1 834.5l0.7 1.6"/>
<path stroke="#8f4a2c" stroke-opacity="0.55" stroke-width="2.5" d="M246 830.3l0.3 0"/>
<path stroke="#8f4a2c" stroke-opacity="0.55" stroke-width="4" d="M245.2 832.2l-0.2 0.6"/>
</g>
<g filter="url(#b2)">
<path stroke="#c79c88" stroke-opacity="0.45" stroke-width="4" d="M170.9 819.5l-1.7 2.3"/>
<path stroke="#c79c88" stroke-opacity="0.45" stroke-width="6" d="M177.8 819.9l2.2 2.4"/>
<path stroke="#cfa896" stroke-opacity="0.45" stroke-width="5" d="M180.8 813.9l-3.2 0.6"/>
</g>
<g filter="url(#bl)">
<path stroke="#b47e66" stroke-opacity="0.65" stroke-width="4" d="M176.5 817l-0.5 0.5"/>
<path stroke="#a86e54" stroke-opacity="0.65" stroke-width="6.5" d="M177.4 821.9l0.3 0.2"/>
<path stroke="#8e543a" stroke-opacity="0.65" stroke-width="4.5" d="M172.4 819.8l2.7 0.5"/>
<path stroke="#8f4a2c" stroke-opacity="0.55" stroke-width="3" d="M179.8 815.4l-1.3 0.1"/>
<path stroke="#8f4a2c" stroke-opacity="0.55" stroke-width="4.5" d="M178.4 818.4l0.1 0"/>
<path stroke="#8898d0" stroke-opacity="0.8" stroke-width="3.5" d="M170.9 811.2l2.2 0.8"/>
<path stroke="#8898d0" stroke-opacity="0.8" stroke-width="4" d="M253.1 796.7l-1.8 1.1M153 856.9l-0.8 2.5M158.8 809.2l-1.4 1.7"/>
<path stroke="#8898d0" stroke-opacity="0.8" stroke-width="4.5" d="M182.7 793.1l1.1 2.7M250.1 857.1l1.8 0.6M171.7 876l-0.9 1M181.5 876.2l-1.6 2.2M214 805l0.7 2M184.8 856.2l1.9 2.4M198.5 844.1l-2 1.8M208.9 850.1l1 1M260.5 795.7l-0.6 1.5"/>
<path stroke="#8898d0" stroke-opacity="0.8" stroke-width="5" d="M200.5 881.1l-0.8 0M178.5 811.2l1.1 0.2M200.6 837.7l0.7 2.5M206 789.5l1.8 1.7"/>
<path stroke="#8898d0" stroke-opacity="0.8" stroke-width="5.5" d="M196.7 830.6l1.5 1.1M180.5 893.6l-1.3 0.1M243.8 855.2l1.2 1M153.9 824.6l1.3 0.1M251.9 874.2l0.2 1.4M240.8 832.2l-0.6 0.2M258.8 867.6l-0.4 1.1M252.5 895.7l0.1 1.7M208.9 894.7l-0.5 0.1M250.8 865.2l1.6 1.6M209.3 838.5l0.1 0.8M162.6 886.2l-0.9 2.1"/>
<path stroke="#8898d0" stroke-opacity="0.8" stroke-width="6" d="M178 883.9l-0.8 0.5M255 886.1l-0.5 1.1M213.1 791.7l-0.6 0.2M160.2 803.4l1 0.9M162.1 896.8l-1.2 0.7M224.3 893.5l0.3 1.1M164.8 857.8l0.4 0.3"/>
<path stroke="#8898d0" stroke-opacity="0.8" stroke-width="6.5" d="M210 869.4l-0.4 1M161.4 870.5l-0.8 1M202.5 868.2l0.5 0.2M202.4 814l0.1 0"/>
<path stroke="#8898d0" stroke-opacity="0.8" stroke-width="7" d="M165.1 844.9l0.3 0.4M226.6 790.8l0.2 0"/>
<path stroke="#8898d0" stroke-opacity="0.8" stroke-width="7.5" d="M161 863.7l0 0.2M222.6 801.4l-0.1 0.1"/>
<path stroke="#7386c4" stroke-opacity="0.8" stroke-width="3.5" d="M233.8 847.7l-1.1 2"/>
<path stroke="#7386c4" stroke-opacity="0.8" stroke-width="4.5" d="M248.1 803.7l0.9 2.3M217.6 868.7l2 0.3M180.4 852.8l0.3 1.5M161.6 814.4l2.6 0.7M257.8 816.5l-1.2 1.9M170.2 881.4l1.8 1.3M206 796.7l-1.6 2.3M218.2 820l-0.8 1.2M234.1 839.2l-0.9 2.7M169.5 805.5l-1.1 1.2M226 865.1l-0.3 1.4M230.5 818.4l-1.3 0.4M191 817.2l0.6 1.3M220.3 857.3l-1.2 0.9M248.9 819.9l1.4 1.2"/>
<path stroke="#7386c4" stroke-opacity="0.8" stroke-width="5" d="M216.2 836.3l-0.9 0.2M208.1 862.9l1.4 0.3M246.8 849l-0.9 1.6M176.7 820.1l0.7 2.3M213.5 854.4l-0.7 1.9M158.9 878l-2.6 0.8M192.5 854.4l-0.8 1.2M232.1 798.6l-0.7 1"/>
<path stroke="#7386c4" stroke-opacity="0.8" stroke-width="5.5" d="M192.7 888.3l-0.5 1.6M152.5 804.5l0.3 0M163.1 835.8l-0.8 0.1M154.6 817.7l-0.1 1.6M169.1 850.7l1 1.1M172.1 816.9l0.5 0.8M259.4 879.4l-1.1 1.2M253 850.8l0.1 0.3"/>
<path stroke="#7386c4" stroke-opacity="0.8" stroke-width="6" d="M200.6 792.1l0.2 0.2M189 893.7l-0.1 1.5M240 871.5l0.8 0.8M201.9 805.9l-0.4 0.7"/>
<path stroke="#7386c4" stroke-opacity="0.8" stroke-width="6.5" d="M238.5 808.7l-0.1 0.6M240.8 850.4l0.3 0.4M211.6 831.3l0.1 0"/>
<path stroke="#7386c4" stroke-opacity="0.8" stroke-width="7" d="M239.6 843.3l0.2 0.2M260 894.8l0.2 0.5"/>
<path stroke="#7386c4" stroke-opacity="0.8" stroke-width="7.5" d="M232.3 857.9l-0.1 0.2"/>
<path stroke="#7e91cc" stroke-opacity="0.8" stroke-width="3.5" d="M224.3 839.4l0.9 2.1"/>
<path stroke="#7e91cc" stroke-opacity="0.8" stroke-width="4" d="M235.3 880.7l-1.4 2.6M226.7 887.1l-2.2 0M236.5 800.8l2.5 0.2M258.4 829.4l-1.2 2.3M180.4 801.9l2.6 1.4M189.3 801.7l-2.4 0.9"/>
<path stroke="#7e91cc" stroke-opacity="0.8" stroke-width="4.5" d="M211.9 813.5l2.1 0.1M165.5 823.6l-1.7 0.1M208.7 886.5l-0.4 1.9M168.6 839.6l-0.5 2.1M249.5 885.9l-1.6 2.6M185.2 863.5l2.5 0.3M222.2 808.2l-0.6 1.3M244.7 824.7l1.1 2.3M222.9 815.4l-0.8 1.3"/>
<path stroke="#7e91cc" stroke-opacity="0.8" stroke-width="5" d="M232.7 792.1l1 0.4M249.4 790.1l0 1.5M209.1 844.4l1.4 0.8M190.7 810.3l-0.2 0.9M199.9 799.2l0 0.8M245.8 875l-0.6 1M171.2 858.1l0.9 1.7M179.7 829.9l-0.1 1.7M207.5 879.6l-0.3 0.8M216.7 895.6l-0.5 1.5M259.7 852.7l0.6 1.6M192.6 827.3l-1.9 0.1"/>
<path stroke="#7e91cc" stroke-opacity="0.8" stroke-width="5.5" d="M236.2 863.9l0.8 0.7M158.3 845.8l-2 0.9M230.1 873.2l-0.3 0.8M247.2 840.7l-0.3 0.8M157.5 853.6l1.7 1.1M156.7 837.8l-1.9 1.1M236.1 816.3l-0.4 1.2M165 877.4l1.4 0.4"/>
<path stroke="#7e91cc" stroke-opacity="0.8" stroke-width="6" d="M201.2 893.2l0.1 0M225.3 858.3l0.7 0.5M187.1 830.6l-0.4 0.5M175 844.1l0.5 0.4M215.1 799.2l0.5 1.3M154.8 791.9l0.3 0.2M166.3 789.3l0.1 0M218.3 828.7l-1.2 0.3"/>
<path stroke="#7e91cc" stroke-opacity="0.8" stroke-width="6.5" d="M219.5 852l-0.1 0.1M200.6 850.5l0.6 0.1M224.1 830.7l0.1 0M245.1 809.6l-0.2 0M168.4 870.8l-0.4 0.8"/>
<path stroke="#7e91cc" stroke-opacity="0.8" stroke-width="7" d="M175.4 793.6l0.1 0M176.7 836.7l0.2 0.3"/>
<path stroke="#7e91cc" stroke-opacity="0.8" stroke-width="7.5" d="M195.2 813.8l-0 0.1M167.2 800.3l-0.1 0.3"/>
<path stroke="#697bbb" stroke-opacity="0.8" stroke-width="3.5" d="M209.2 821l0.5 2.4"/>
<path stroke="#697bbb" stroke-opacity="0.8" stroke-width="4" d="M159.6 827l1.8 1.8M189.8 844.1l2.5 0.6M173.5 894.1l-0.5 1.8M152.1 895.6l1.5 1.6M181.7 867.3l1.2 1.6"/>
<path stroke="#697bbb" stroke-opacity="0.8" stroke-width="4.5" d="M218.9 890.4l-1.5 1.2M235 829.1l-2 0.6M184.7 884.4l-1.9 0.8M260.1 803.7l0.2 1.3M174.7 867.6l-1.2 1M225.3 878.5l-0.1 1.5M186 788.4l2.1 1.3M215.7 862.8l-1.9 0.8M198.7 822.9l-3 0.2M203.4 858l-0.9 1.2M155.9 831.4l-0.7 1.2"/>
<path stroke="#697bbb" stroke-opacity="0.8" stroke-width="5" d="M204.6 825.5l-0.8 0.6M184.1 815.1l0.3 1.1M154.6 888.1l0.9 2.5M244 816.3l-0.9 0.5M226.9 849.8l-0.7 0.8M258.7 789.7l-0.4 1.2"/>
<path stroke="#697bbb" stroke-opacity="0.8" stroke-width="5.5" d="M196 804.7l-0.7 0.9M255.8 844.1l-1.4 1.6M175.9 802.2l-2.1 0.8M174.3 825.8l0.6 1.6M230.9 866.7l1.5 1.1"/>
<path stroke="#697bbb" stroke-opacity="0.8" stroke-width="6" d="M190.4 796.1l-0.1 0.2M244 884.1l-1.5 0.5M195.3 868.9l1.7 0.2M254.2 822.6l1.2 0.3M219 843.9l0.6 1.4M242.2 865.2l0.5 1.2M242.6 794.5l0.9 1.5M209.1 802.3l0.7 1.1M193.9 790.7l-0.2 0.9"/>
<path stroke="#697bbb" stroke-opacity="0.8" stroke-width="6.5" d="M256.5 859.1l0.3 0.4M215.1 878.6l0.5 1.1M183.6 846.3l-0.7 0.1M240.4 892.7l0 0.3M252.1 811.2l0.6 0.6"/>
<path stroke="#697bbb" stroke-opacity="0.8" stroke-width="7" d="M189.9 836.3l-0.3 0.5M231.2 806.1l0.1 0.1M230.1 890.8l0.3 0.1M152.7 850.1l0.2 0.7M155.7 866.6l-0.3 0.7"/>
<path stroke="#697bbb" stroke-opacity="0.8" stroke-width="7.5" d="M249.1 832.6l0.1 0"/>
<path stroke="#e2e8f4" stroke-opacity="0.4" stroke-width="2.5" d="M160.7 794.9l-0 0.9M183.4 839.4l-0.1 1.2M167.4 889.6l0.8 1.2M256.7 836.9l1.1 0.4M239.9 820.6l0.8 1.2M232.6 895.9l1.1 1.7M153.5 873.1l-0.6 0.8M244.1 800.9l-1 0.9"/>
<path stroke="#e2e8f4" stroke-opacity="0.4" stroke-width="3" d="M208.4 808l-0 0.2M224.8 823.9l0.3 0.1"/>
<path stroke="#e2e8f4" stroke-opacity="0.4" stroke-width="3.5" d="M191 882.4l0.2 0.2M180.2 859.8l-0.5 0.3M189.2 873.9l0.1 0M196.7 860.1l0.1 0M167.7 865.1l0.7 0.4M228.1 835.1l0 0.1M222.7 872.9l0.3 1.2"/>
<path stroke="#e2e8f4" stroke-opacity="0.4" stroke-width="4" d="M228.2 812.3l0.2 0.1M152.1 881.7l-0.6 0.1"/>
<path stroke="#e2e8f4" stroke-opacity="0.4" stroke-width="4.5" d="M169.6 832l0.2 0.3M187.3 822.9l0.2 0.2M238.8 789.3l-0.1 0.1"/>
<path stroke="#596db8" stroke-opacity="0.45" stroke-width="1" d="M242.8 884.3l-1.1 0.3M196 830.6l0.9 0.7M165 877.6l1 0.3"/>
<path stroke="#596db8" stroke-opacity="0.45" stroke-width="1.5" d="M203.9 825.4l-0.5 0.4M250.3 791.3l0 1.5M178.1 812l0.7 0.1M187.9 829.7l-0.9 1.3M213.8 855.5l-0.3 0.9M167.4 798.5l-0.4 1.4M178.5 829.5l-0 0.9M226.3 865.7l-0.3 1.4M182.3 866.7l0.7 0.9M190.7 827.2l-0.7 0M186.3 856.8l0.4 0.4M197.1 845.2l-0.6 0.6"/>
<path stroke="#596db8" stroke-opacity="0.45" stroke-width="2" d="M249.7 857l1.9 0.6M211.2 869.6l-0.8 1.8M238.7 807.5l-0.4 1.5M208.2 864l0.3 0.1M177.5 884.2l-0.2 0.1M224.9 887l-0.7 0M163.3 835.6l-0.1 0M236.9 862.6l0.9 0.8M162.2 871.4l-0.8 1M191.1 810l-0.4 1.6M153.5 818.3l-0.1 0.8M188.6 893.7l-0.1 1.9M158.1 845.8l-1.7 0.7M253.5 873.9l0 0.3M170.1 851.7l0.1 0.1M230.3 874.5l0.1 0M214.1 791.6l-1.1 0.5M158.1 878.6l-1.3 0.4M259.8 868l-0.4 1.2M245.8 825.8l0.1 0.2M164.2 844l1 1.4M241.7 865.5l0.2 0.5M180.3 802.1l1.1 0.6M154.2 791.3l0.4 0.2M200.8 813.1l0.4 1.2M224.7 880.2l-0 0.4M156.7 832.1l-0.9 1.5M177 838.1l0.1 0.1M206.6 790.3l0.9 0.9M261.2 795.9l-0.5 1.2"/>
<path stroke="#596db8" stroke-opacity="0.45" stroke-width="2.5" d="M212.8 812.4l1.4 0M191.1 796.3l-0 0.1M200.2 882.2l-0.9 0M256.1 816.5l0.1 0M223 802.4l-0.3 0.2M185.7 884.3l-1.4 0.6M173.9 894l-0.3 1.1M195 804.4l-0.2 0.2M155.3 890.5l0.2 0.4M178.2 821.8l0.3 0.8M155.4 824.6l0.1 0M218.6 821.1l-0.1 0.2M219.3 844.1l0.2 0.5M223.9 829.3l-0.1 0.1M239.5 870.7l0.8 0.8M216 896.3l-0.1 0.4M250.2 865.3l0.8 0.8M191.5 817.1l0.1 0M258.6 880.2l-0.8 1M208.3 838.6l0.1 0.9M244.1 808.7l-0.3 0M218.5 829.7l-0.9 0.2"/>
<path stroke="#596db8" stroke-opacity="0.45" stroke-width="3" d="M219.3 851.9l-0.1 0.1M201.9 892.5l-0.3 0.9M180.3 892.6l-0.5 0M243.7 854.6l0.1 0.1M180.5 877.8l-0.4 0.6M241.2 891.6l0 0.4M199.8 849.1l0.1 0M168.8 805.9l0.1 0M230.9 818.6l-0.1 0M224.5 894.2l0.2 0.9M235.8 815.3l-0.3 0.8M249.9 819.6l0.2 0.2"/>
<path stroke="#596db8" stroke-opacity="0.45" stroke-width="3.5" d="M184.6 795.3l0.1 0.2M240.6 852l0 0.1M152 804.8l0.3 0M152.3 858.4l-0.1 0.3M199.5 799.9l0 0.2M219.7 858.8l-0.2 0.2M259.2 853.5l0.1 0.2M231.1 797.8l-0.2 0.3M163.3 887.1l-0.1 0.3M195.1 790.2l0.1 0"/>
<path stroke="#596db8" stroke-opacity="0.45" stroke-width="4" d="M232.6 849.1l0.1 0"/>
<path stroke="#6378c0" stroke-opacity="0.45" stroke-width="1" d="M204.9 796.1l-0.7 1"/>
<path stroke="#6378c0" stroke-opacity="0.45" stroke-width="1.5" d="M255.9 859.5l0.6 0.9M214.8 878.4l0.5 1.1M181 852l0.2 1M219.2 890l-1.1 0.9M224.7 858.1l1 0.7M237.7 800.3l0.7 0M252.1 797.7l-0.5 0.3M189.9 835.1l-0.7 0.9M174.8 843.4l0.6 0.5M208.5 895.2l-1.5 0.3M243.7 815l-0.8 0.4M215.8 862.9l-0.8 0.3M188.2 802.8l-0.8 0.3"/>
<path stroke="#6378c0" stroke-opacity="0.45" stroke-width="2" d="M218.8 869l0.7 0.1M165.1 824.8l-0.3 0M193.7 890.1l-0.3 0.7M159.7 827l1.1 1.1M196.1 868.8l0.4 0M190.1 844.1l0.3 0.1M209.2 822.9l0 0.2M215.5 837.3l0.1 0M233.4 829.6l-1 0.3M169.3 882.9l0.5 0.4M196.5 812.9l-0 1.4M202.9 869.4l1.5 0.7M168.6 840.1l-0.1 0.5M238.2 843.7l0.9 0.8M186.8 863.3l1.5 0.2M221.6 809.1l-0.5 1.1M256.5 830.5l-0.2 0.3M242 832.6l-1 0.3M172.4 857.8l0.2 0.4M175.4 793.4l0.6 0M224.8 839.4l0.3 0.9M192.3 855l-0.7 1M171.8 816l0.5 0.9M173.8 869.2l-0.3 0.3M251.9 810.7l0.6 0.7M256.7 844.4l-0.6 0.7M175.5 801.5l-1 0.4M260.6 893.3l0.6 1.1M201.2 806.3l-0.6 1.1M214.1 805.1l0.4 1.1M225.7 850.7l-0.3 0.3M257.8 789.6l-0.2 0.7M222 815.2l-0.5 0.8M156.3 865.7l-0.3 0.6M173.1 810.5l0.5 0.2M209.6 849.5l0.4 0.4"/>
<path stroke="#6378c0" stroke-opacity="0.45" stroke-width="2.5" d="M249.1 803.8l0.1 0M235.3 882.9l-0.2 0.3M208.8 888.7l-0.1 0.3M163.4 815l0.9 0.3M160.4 864.8l0 0.2M182.4 847.1l-1.3 0.2M183.5 814.2l0.2 0.8M208.9 844.7l0.5 0.3M200.4 792l0.7 0.6M256 886.2l-0.4 0.8M232.6 857.1l-0.1 0.2M247.4 841l-0.2 0.5M252.6 896.7l0 0.7M159.3 852.8l1 0.7M151.8 897.9l0.1 0M163.2 895.5l-1.3 0.8M207.1 880.2l-0.4 1M248.3 833.9l0.2 0M243.6 793.4l0.8 1.2M227.4 790.6l1.3 0.2M229.5 890.4l1 0.3M153.6 850.7l0.3 1.3M212.9 831.7l0.4 0.7M198.2 823.6l-0.3 0M202.8 858.2l-0.3 0.4M166.3 790.4l0.1 0M230.4 867.9l0.3 0.2"/>
<path stroke="#6378c0" stroke-opacity="0.45" stroke-width="3" d="M172.2 874.8l-0.3 0.4M246.2 849.1l-0.4 0.8M260.1 804.2l0.1 0.5M161.1 804.1l0.5 0.4M246 876.4l-0.3 0.5M155 839l-0.7 0.4M187.9 790.3l0.1 0M163.5 856.3l0.5 0.4"/>
<path stroke="#6378c0" stroke-opacity="0.45" stroke-width="3.5" d="M232.1 792.5l0.3 0.1M201.2 838.2l0.1 0.2M254.2 822.6l0.1 0M248 885.9l-0.2 0.3M232.7 839.2l-0.1 0.3M157.6 808.7l-0.2 0.3M231 804.7l0.2 0.3M173.3 827.4l0.1 0.3M253.4 851.9l0.1 0M168.5 870.4l-0.1 0.2M209.1 803.2l0.1 0"/>
<path stroke="#6378c0" stroke-opacity="0.45" stroke-width="4" d="M215.3 800.5l0.1 0"/>
</g>
</g>
<g clip-path="url(#cp10)" fill="none" stroke-linecap="round">
<rect x="264.4" y="792" width="102.7" height="102.4" fill="#c8d2ec"/>
<g filter="url(#b2)">
<path stroke="#eef1f9" stroke-opacity="0.7" stroke-width="5" d="M306.2 875l-2.8 0.8"/>
<path stroke="#eef1f9" stroke-opacity="0.7" stroke-width="7" d="M368.2 796.4l-0 1.2"/>
<path stroke="#eef1f9" stroke-opacity="0.7" stroke-width="7.5" d="M268.9 802l3.6 0.7"/>
<path stroke="#eef1f9" stroke-opacity="0.7" stroke-width="8" d="M324.8 857.1l-2.9 0.2"/>
<path stroke="#eef1f9" stroke-opacity="0.7" stroke-width="10" d="M273.5 793.3l1.2 0.2"/>
<path stroke="#eef1f9" stroke-opacity="0.7" stroke-width="11" d="M309 876l-0.5 0.3"/>
<path stroke="#f4f6fb" stroke-opacity="0.7" stroke-width="4" d="M323.1 862.4l-2.7 0"/>
<path stroke="#f4f6fb" stroke-opacity="0.7" stroke-width="4.5" d="M271.7 875.5l1.2 0.9M330.4 866.1l-2.5 1.3"/>
<path stroke="#f4f6fb" stroke-opacity="0.7" stroke-width="5.5" d="M364.3 857.2l-2.2 0.7M310.3 880l1.3 3.2"/>
<path stroke="#f4f6fb" stroke-opacity="0.7" stroke-width="7" d="M359 889.9l0.2 0.9M283.2 858.7l-0.5 1.7M347.1 800.1l-2.7 3.2"/>
<path stroke="#f4f6fb" stroke-opacity="0.7" stroke-width="7.5" d="M298.2 890.3l-3.4 2"/>
<path stroke="#f4f6fb" stroke-opacity="0.7" stroke-width="8" d="M295.8 827.1l1.6 1.1M272.9 853.8l-2.3 0.4"/>
<path stroke="#f4f6fb" stroke-opacity="0.7" stroke-width="9" d="M305.4 840.2l0.7 0"/>
<path stroke="#f4f6fb" stroke-opacity="0.7" stroke-width="9.5" d="M342 881.4l-0.5 0.1"/>
<path stroke="#f4f6fb" stroke-opacity="0.7" stroke-width="11" d="M355.5 879.7l0.2 0"/>
<path stroke="#cfa896" stroke-opacity="0.55" stroke-width="4" d="M318.9 824.2l0.9 1"/>
<path stroke="#cfa896" stroke-opacity="0.55" stroke-width="5.5" d="M325.1 825l1.2 0"/>
<path stroke="#c79c88" stroke-opacity="0.55" stroke-width="5.5" d="M329.6 820.1l0.8 2.7"/>
<path stroke="#c79c88" stroke-opacity="0.55" stroke-width="7.5" d="M321.4 830.9l-0.3 0.3"/>
<path stroke="#c79c88" stroke-opacity="0.55" stroke-width="8" d="M330.8 823.5l0.1 0.7"/>
<path stroke="#bb8c76" stroke-opacity="0.55" stroke-width="4.5" d="M326.6 819.5l1.3 0.5M326.5 824.6l0.3 0.5"/>
<path stroke="#bb8c76" stroke-opacity="0.55" stroke-width="5.5" d="M331.5 830.3l-1.1 1.2"/>
</g>
<g filter="url(#bl)">
<path stroke="#8e543a" stroke-opacity="0.55" stroke-width="2" d="M326.5 825.3l1.1 1"/>
<path stroke="#8e543a" stroke-opacity="0.55" stroke-width="3.5" d="M322.4 822l-1 0.1"/>
<path stroke="#8e543a" stroke-opacity="0.55" stroke-width="5" d="M330.6 829.8l0.1 0M330.2 821.6l-0.4 0.4"/>
<path stroke="#9c6046" stroke-opacity="0.55" stroke-width="3" d="M325.2 830.7l0.4 0.8"/>
<path stroke="#a86e54" stroke-opacity="0.55" stroke-width="2.5" d="M322 829.3l-0.6 0.5"/>
<path stroke="#a86e54" stroke-opacity="0.55" stroke-width="3" d="M322.7 829l-1.6 1.2"/>
<path stroke="#b47e66" stroke-opacity="0.55" stroke-width="3" d="M330.4 822.9l-0.6 0.4"/>
</g>
<g filter="url(#b2)">
<path stroke="#c79c88" stroke-opacity="0.55" stroke-width="4" d="M300.1 832.6l-1.5 0.9"/>
<path stroke="#c79c88" stroke-opacity="0.55" stroke-width="5" d="M294.3 836.3l0.3 0.3M302.9 832.4l-0.3 0.1"/>
<path stroke="#cfa896" stroke-opacity="0.55" stroke-width="8" d="M300.6 837.3l-0.2 0.1"/>
</g>
<g filter="url(#bl)">
<path stroke="#b47e66" stroke-opacity="0.55" stroke-width="4.5" d="M295.2 834.2l0 0.3"/>
<path stroke="#8e543a" stroke-opacity="0.55" stroke-width="3.5" d="M295.6 834.3l-0.3 1.1"/>
<path stroke="#a86e54" stroke-opacity="0.55" stroke-width="2.5" d="M302.8 832.5l-1.6 0.7"/>
<path stroke="#a86e54" stroke-opacity="0.55" stroke-width="5.5" d="M296.7 839.2l0.2 0.2"/>
</g>
<g filter="url(#b2)">
<path stroke="#bb8c76" stroke-opacity="0.55" stroke-width="3.5" d="M295 812.9l-1.1 1.2"/>
<path stroke="#bb8c76" stroke-opacity="0.55" stroke-width="4.5" d="M299.8 813.2l-1.5 0.3"/>
</g>
<g filter="url(#bl)">
<path stroke="#8e543a" stroke-opacity="0.55" stroke-width="5" d="M293.2 810.2l-0.2 0.1"/>
<path stroke="#a86e54" stroke-opacity="0.55" stroke-width="3.5" d="M294.3 812.9l1.8 0.2"/>
<path stroke="#8fa2d8" stroke-opacity="0.78" stroke-width="3.5" d="M270.9 840.7l2.3 0.9"/>
<path stroke="#8fa2d8" stroke-opacity="0.78" stroke-width="4" d="M318.8 851.3l2.1 1.2M320.7 830.6l0.1 2.6M285.9 842.7l-0.9 1.7M290 836.4l-1.8 1.2M370.7 844.7l-1.7 2.3M335.1 850.8l-0.7 2"/>
<path stroke="#8fa2d8" stroke-opacity="0.78" stroke-width="4.5" d="M282.4 858.6l2.1 0.1M266.9 811l-0.5 1.4M283.8 826.8l-0.6 1.4M303.1 854.7l-0.8 2.8M356.1 839.9l-1.3 2.6M328.7 826.9l1.6 1.1M310.9 812.3l-1.4 1M308.5 789.7l-1 1.2M301 887.5l0.6 1.8"/>
<path stroke="#8fa2d8" stroke-opacity="0.78" stroke-width="5" d="M323.1 895.1l-1 0.8M297.2 810.7l2.3 0.6"/>
<path stroke="#8fa2d8" stroke-opacity="0.78" stroke-width="5.5" d="M339.6 795.4l0.4 0.2M316.3 826.7l1.3 0.9M344.4 825.6l-1.2 1M336.2 886.2l-0.3 0.7M274 894.3l1.5 0.1M287.9 878l-0.9 0.3M312.4 838l-0.8 0M350.8 819.7l1.3 1.5M369.1 812.5l-0.2 1.2M283.6 864.9l-1.9 0.2M327.6 851.9l1 0.9"/>
<path stroke="#8fa2d8" stroke-opacity="0.78" stroke-width="6" d="M269.1 789.9l-1.3 0.7M308.7 831.3l-0.4 0.3M354.3 877.7l0.2 0.3M310.6 887.3l-0.1 0.3M289.6 888.3l-0.4 0.7M336.2 860.3l0.8 0.2M344.9 858.2l0.6 0.8M271 795.9l0.6 0.3M358.1 855.4l-1 0.4M272.7 846.9l1 0.1"/>
<path stroke="#8fa2d8" stroke-opacity="0.78" stroke-width="6.5" d="M328.1 866l-0.4 0M358 828l0.1 0M294.2 844.5l-0.3 0.7M359.3 802.2l-0.2 0.2M345.4 795.2l0.9 0.9"/>
<path stroke="#8fa2d8" stroke-opacity="0.78" stroke-width="7" d="M340.3 813.7l0.1 0M275.9 832.5l-0.5 0M269.9 803.4l0.3 0.5M311.2 870.6l-0 0.3"/>
<path stroke="#99abdd" stroke-opacity="0.78" stroke-width="3.5" d="M335.7 842.8l2.4 0.8M280.5 790.6l-2.2 1M339.4 896l-2.6 0M342.5 882.9l1.3 2"/>
<path stroke="#99abdd" stroke-opacity="0.78" stroke-width="4" d="M304.1 873.7l1.7 0.9"/>
<path stroke="#99abdd" stroke-opacity="0.78" stroke-width="4.5" d="M363.9 807.8l-1.3 0.7M357.7 811.6l-0.8 2.6M285.5 806.4l1.7 0.3M350.9 860.8l2.7 0M306.5 893.5l-2 0.7M321.2 812.1l-1.7 0.8M316.3 881.5l-0.9 2.8M308.7 799.5l-2.7 1.3"/>
<path stroke="#99abdd" stroke-opacity="0.78" stroke-width="5" d="M295.4 882.7l1.6 0M317.1 788.2l1 2.3M273.9 824.1l0.3 2.8M364.6 895.2l-1.6 0.5M368.4 829.8l1 0.6M356.5 864.3l2.3 0.4M346.7 803.3l-0.1 0.8M310.7 895.3l0.9 1.6M268.6 871.9l0.6 2.4M274.8 869l1.7 0.7M315.2 805.2l-1.6 2M302.7 840.6l-0.2 1.3M339.8 865.8l-0.7 1.7M261.2 854.5l0.1 1.9"/>
<path stroke="#99abdd" stroke-opacity="0.78" stroke-width="5.5" d="M289.4 815.4l-0.4 0.7M280.2 876.5l0.1 0.5M366.4 822.4l-0.7 1.1M360.7 871.6l-0.6 0.5M342.3 890.9l0.1 0.3M292.8 856.9l0.5 2M369.5 883.6l0 1.5M311.8 851.2l-1 1.2M337.3 830.6l0.4 0.1M265.3 890.3l1.6 0.4M315.8 817.5l-1.8 0.4M279.6 808.4l-0.2 0.4M280 852.6l-0.7 0.7M302.4 796.2l0.5 0.4M344.7 818l-0.3 0.6M299.7 822.8l0.2 0.7"/>
<path stroke="#99abdd" stroke-opacity="0.78" stroke-width="6" d="M322.3 879.4l-1.3 0M350.2 849.7l-0.1 0M362.7 788.4l0.7 0.8M361.2 818.4l-0.8 0.8M306.8 864.8l-1.4 0.1M353.5 799.4l-0 0.1M292.6 804l-0.5 0.3M369.1 838.6l0.1 1.5M261.7 872.9l0.4 1.2M262.9 896.2l-0.9 0.2"/>
<path stroke="#99abdd" stroke-opacity="0.78" stroke-width="6.5" d="M334.6 816.6l-0.9 0.4M281 893.5l0.1 0M322.9 888.2l0.2 0"/>
<path stroke="#99abdd" stroke-opacity="0.78" stroke-width="7" d="M301 829.4l-0.2 0.1M264.3 846.1l-0.8 0M271.4 886.7l0.3 0"/>
<path stroke="#8597d1" stroke-opacity="0.78" stroke-width="4" d="M357.8 887.1l2.8 0.1M351.4 870.7l-0.2 2.5M281.4 886.2l-2.2 1.5M297.3 849.6l1 1.7M308.4 857l1.8 0.9"/>
<path stroke="#8597d1" stroke-opacity="0.78" stroke-width="4.5" d="M367.8 797.3l2.3 0.2M278.2 846.6l1.7 0.7M324.6 844.9l1 1.1M278.7 818.2l-1.6 1.4M367.5 871.1l2.2 0.6M344.6 873.3l-1.2 0.6M260.6 827l1 1.5M303.8 849.8l2.6 0.2"/>
<path stroke="#8597d1" stroke-opacity="0.78" stroke-width="5" d="M305.6 806.4l1.7 1M344.2 789.9l0 0.9M314.4 876.1l-1.1 1.5M298.5 838.3l-1.5 0.2M355.7 792.1l-0.5 0.8M266.9 824.3l0.9 1.6M268.4 896.2l-0.2 0.8"/>
<path stroke="#8597d1" stroke-opacity="0.78" stroke-width="5.5" d="M329.9 858.5l-0.1 1.1M276.6 800.6l0.5 0.2M336.9 877.3l1.4 0.8M331.5 790.9l0.8 0.5M287.5 853.5l0.5 0.6M343 837.8l-0.2 0.8M266.3 881.8l0.2 1.1M272.2 815.1l-0.7 2.1M343 845.8l1 0.6"/>
<path stroke="#8597d1" stroke-opacity="0.78" stroke-width="6" d="M326.2 795.2l-0.3 0.3M328.9 884.1l-0.4 0.1M315.4 863.2l-1.1 1.2M332.9 832.6l-0.7 1.4M360.6 848.6l0.3 0.1M262.8 798.5l0.3 0.1M273.5 858.2l-0.9 0.8M264.3 805.2l-0.5 0.2M356 896.3l-0.4 0.4M295.9 873.6l-1.2 0.1M346 810.6l-0.8 0.4M314.8 889.9l1.7 0M283.1 813.9l-0.2 1.3"/>
<path stroke="#8597d1" stroke-opacity="0.78" stroke-width="6.5" d="M330.4 809.5l0.2 0.9M351.6 884.2l0.2 0.2M294.8 794.6l0.3 0.5"/>
<path stroke="#8597d1" stroke-opacity="0.78" stroke-width="7" d="M265.7 862.1l0.1 0.4M291.6 867.1l0.1 0"/>
<path stroke="#8597d1" stroke-opacity="0.78" stroke-width="7.5" d="M287.6 896l-0.1 0M332.1 892l0.1 0"/>
<path stroke="#e6ebf6" stroke-opacity="0.7" stroke-width="2.5" d="M350.4 832.2l-1.5 1.3"/>
<path stroke="#e6ebf6" stroke-opacity="0.7" stroke-width="3" d="M297.1 788.7l1.3 0.9M262.7 819.9l0.7 1.3M325.8 788.5l-0.8 0.6"/>
<path stroke="#e6ebf6" stroke-opacity="0.7" stroke-width="3.5" d="M367.8 854.2l-0.5 1.6"/>
<path stroke="#e6ebf6" stroke-opacity="0.7" stroke-width="4" d="M321.2 868.9l0.6 0.2M298.7 867.7l-0.6 0.3M323.6 860.6l0.4 0.5M328.1 816.7l-0.8 1.2"/>
<path stroke="#e6ebf6" stroke-opacity="0.7" stroke-width="4.5" d="M359.3 835.9l0.1 0.3M314.9 797.2l0.2 0.1M296.2 893.4l0.1 0"/>
<path stroke="#e6ebf6" stroke-opacity="0.7" stroke-width="5" d="M306.3 823.1l0.9 0.5M293.3 824.2l0 0.5M284 871.2l-0 0.1M337.3 823l0.1 0.3M370.3 863.6l-0.5 0M318.6 840.2l0.4 0.1"/>
<path stroke="#e6ebf6" stroke-opacity="0.7" stroke-width="5.5" d="M325.3 838.2l-0.2 0.8M319.8 802.7l0.6 0.3"/>
<path stroke="#edf0f8" stroke-opacity="0.7" stroke-width="3" d="M351 807.3l2.3 0.5M286.6 797.8l-0.6 0.9"/>
<path stroke="#edf0f8" stroke-opacity="0.7" stroke-width="3.5" d="M325.9 822.8l-1.1 0.6M361.1 859.7l1.5 0.8M332.9 870.1l-0.5 0.8M281.2 834.7l1.3 1.3M271.5 877.9l1.6 1.1M349 896.2l-1 0.4M306.5 880.5l0.2 1.7"/>
<path stroke="#edf0f8" stroke-opacity="0.7" stroke-width="4" d="M339.2 802.9l-0.2 0.2M326.3 873.5l0.2 0.3M340.6 854.8l0 0.6M268.4 831.3l0.5 2.3M315.4 845.9l-1.2 0.8M288.7 790.5l-0.1 0.7"/>
<path stroke="#edf0f8" stroke-opacity="0.7" stroke-width="4.5" d="M298.3 817.8l0.1 0M263 836l-0.2 0.9M363.4 878.3l-0.1 0M298.1 802.2l0.5 0.9M290.8 830.5l0.5 0.6M287.9 821.6l-0.9 0.1"/>
<path stroke="#edf0f8" stroke-opacity="0.7" stroke-width="5" d="M347 866l0.1 0M332.4 802.4l0.1 0.2"/>
<path stroke="#edf0f8" stroke-opacity="0.7" stroke-width="6" d="M268.9 852.1l0 0.1"/>
<path stroke="#6378c0" stroke-opacity="0.45" stroke-width="1" d="M282.3 891.4l-0.5 1M363.2 808l-0.9 0.5M279.1 851.7l-0.7 0.7"/>
<path stroke="#6378c0" stroke-opacity="0.45" stroke-width="1.5" d="M360.2 871.4l-0.4 0.3M292 857.4l0.2 0.6M275.1 800.1l1.4 0.6M302.2 829.1l-1 0.5M351.6 848.5l-0.9 0.2M261.6 797.4l0.6 0.3M369.7 813l-0.1 0.6M294.3 843.4l-0.6 1.4M285.8 844.3l-0.3 0.6M346.4 859.5l0.4 0.5M341.2 813.8l-0.6 1.1M314.8 806.6l-0.8 1M292.4 802.9l-0.5 0.3M260.3 827.2l0.3 0.5M261.9 896.1l-0.8 0.2"/>
<path stroke="#6378c0" stroke-opacity="0.45" stroke-width="2" d="M335.8 816.4l-0.9 0.4M367.9 798.6l0.7 0.1M329.4 808.6l0.1 0.4M267.9 810.8l-0.7 1.8M317.6 787.9l0.2 0.4M282.6 826.1l-0.3 0.5M274 825.3l0.1 1.3M279.8 791.1l-1.4 0.6M296 794.8l0.5 1.1M286.1 807.3l0.1 0M355.1 876.1l0.9 1.2M269.5 871.2l0.3 1.1M313 850.5l-0.7 0.8M287.5 877.7l-0.2 0.1M353 800.2l-0.6 1.4M264.9 880.6l0.1 0.6M350.2 820.7l0.5 0.7M274.6 858.5l-0.7 0.6M357.2 896.4l-1 0.9M267.4 825.4l0.1 0.2M344 817.3l-0.5 1.1M300.3 823.1l0.3 0.9M309.7 813.1l-0.2 0.1M369.3 846.5l-0.3 0.4M341.9 846.4l1.5 0.9M346.6 810.3l-1.2 0.6M357.5 856.4l-0.6 0.2M269 804.1l0.2 0.3M260.6 854.7l0.1 1.3"/>
<path stroke="#6378c0" stroke-opacity="0.45" stroke-width="2.5" d="M337.9 794.9l0.6 0.3M317 827.8l0.6 0.4M289.9 815.4l-0.6 1.1M320 851.1l0.5 0.3M283.3 858.5l0.4 0M315.8 863.8l-0.8 0.9M335.5 885.5l-0.6 1.1M362.1 818.9l0.1 0M316.2 818.2l-0.8 0.2M303.3 795.5l0.4 0.3M272.5 814.6l-0.4 1.2M359.7 802.4l-0.8 0.7M269.6 897.4l-0.1 0.3M320.7 812.3l0.1 0M323 888.4l0.7 0.1M294.4 873.8l-0.1 0M282.7 864.9l-0.6 0.1"/>
<path stroke="#6378c0" stroke-opacity="0.45" stroke-width="3" d="M264.9 845.6l0.1 0M304.5 874.8l0.6 0.3M273.6 893.4l0.8 0.1M290.9 866.5l-0.2 0.1M354.8 841.1l-0.1 0.1M298.2 849.9l0.5 0.8M303.7 849.3l0.2 0"/>
<path stroke="#6378c0" stroke-opacity="0.45" stroke-width="3.5" d="M328 867l-0.1 0M357.9 888l0.3 0M331.4 834.6l-0.1 0.2M350 873.1l-0 0.2M280 809.1l-0.1 0.2M301.6 887.4l0.1 0.2"/>
<path stroke="#6378c0" stroke-opacity="0.45" stroke-width="4" d="M363.6 789.8l0.1 0"/>
<path stroke="#596db8" stroke-opacity="0.45" stroke-width="1" d="M322.3 893.6l-0.9 0.7M368.3 871l1.2 0.3"/>
<path stroke="#596db8" stroke-opacity="0.45" stroke-width="1.5" d="M326.8 795.4l-0.3 0.4M309.5 830l-0.8 0.6M360.8 848.5l0.5 0.1M364 895l-0.5 0.2M368.9 831l0.4 0.3M338.4 830.2l0.5 0.1M332.2 791.6l0.7 0.4M305.8 865.5l-1.2 0.1M288.5 852.3l0.4 0.5M280.5 886l-1 0.6M289.4 887.4l-0.6 1.2M351 861.2l1 0M290 836.4l-0.6 0.4M333.8 850.6l-0.5 1.5M282.7 813.1l-0.2 1.5M273.7 846.6l0.5 0.1"/>
<path stroke="#596db8" stroke-opacity="0.45" stroke-width="2" d="M278.5 847.7l0.8 0.3M343.7 826.4l-0.2 0.2M330.4 882.5l-1.7 0.6M350.5 884.7l1.4 1.4M337.5 842l0.4 0.1M359.4 826.3l0.1 1.7M321.2 880l-0.5 0M289.5 896l-1.6 0M303.8 854.5l-0.2 0.8M369.8 885.4l0 0.8M266.6 890.3l1.3 0.3M277.3 818l-0.9 0.7M335.6 861.2l0.8 0.2M272.1 840.3l0.1 0M305.7 893.8l-1.5 0.5M342.9 874.2l-0.1 0.1M297.4 810.6l0.4 0.1M340.2 866.9l-0.1 0.1M309.1 789.3l-0.1 0.1M328.5 850.8l0.4 0.3M308.3 799l-1.2 0.6"/>
<path stroke="#596db8" stroke-opacity="0.45" stroke-width="2.5" d="M305.1 806.3l0.8 0.5M344.8 790.6l0 1.2M367.6 823.4l-0.8 1.2M320.3 831l0 0.4M330.9 858.9l-0.1 1.2M343.1 891l0.2 0.5M338.4 876.9l0.1 0M347.1 803.2l-0.1 1.1M275.7 869.2l1.4 0.6M264.9 862l0.3 1.1M270.5 887.8l1 0.1M263.3 806l-0.2 0.1M261.2 873.3l0.3 0.9M343.2 885.2l0.2 0.3M271.2 797.3l1 0.6M275.4 831.6l-1.1 0.1M310.8 870.2l-0.1 1.1"/>
<path stroke="#596db8" stroke-opacity="0.45" stroke-width="3" d="M295 883.8l0.1 0M357.8 812.9l-0.2 0.8M311 886.3l-0.2 0.5M310.2 897.2l0.1 0.2M325.3 846.3l0.1 0.1M343.4 839.2l-0 0.2M312.5 837.5l-0.2 0M355.9 791.1l-0.4 0.7M369.9 839.9l0 0.4M330.9 826.7l0.5 0.3M317.1 882.3l-0 0.1M345.3 795.7l0.2 0.2M310 857.2l0.1 0.1"/>
<path stroke="#596db8" stroke-opacity="0.45" stroke-width="3.5" d="M269.1 790.7l-0.3 0.2M279.7 876.8l0.1 0.4M332.8 891.8l-0.1 0.2M298.1 837.6l0.1 0M338.4 895.6l-0.4 0M303.5 840.5l-0.1 0.4M315.5 889.7l0.3 0"/>
<path stroke="#596db8" stroke-opacity="0.45" stroke-width="4" d="M358 864.5l0.1 0M313.3 877.4l0.1 0"/>
</g>
<g filter="url(#b0)">
<path stroke="#5b6cb8" stroke-opacity="0.9" stroke-width="1.5" d="M289.6 800l1.2 0.3M271.7 829.4l-0.1 0.8M280.8 816.8l0.3 1.2M284.9 830.4l-0.2 0.8"/>
<path stroke="#5b6cb8" stroke-opacity="0.9" stroke-width="2" d="M315.3 876.7l-0.5 0.5M270.6 808.8l0.1 1.1M282.6 840.7l0.2 0.3M287.1 807.8l-0.5 0.3M308.4 860.5l-0.4 0.4M302.3 835.3l0.4 0.2"/>
<path stroke="#5b6cb8" stroke-opacity="0.9" stroke-width="2.5" d="M266.3 823.4l-0.3 0.1"/>
<path stroke="#5b6cb8" stroke-opacity="0.9" stroke-width="3" d="M325.9 856.8l-0.6 0.4M306.6 838l0 0.1"/>
<path stroke="#4e5fae" stroke-opacity="0.9" stroke-width="2" d="M283.4 825.9l-0.3 0.4M362.9 824l-0.8 0"/>
<path stroke="#4e5fae" stroke-opacity="0.9" stroke-width="2.5" d="M307.9 816l-0.1 0.6"/>
<path stroke="#4e5fae" stroke-opacity="0.9" stroke-width="3" d="M365.7 881l-0.2 0.3"/>
<path stroke="#44549f" stroke-opacity="0.9" stroke-width="2" d="M289 806.7l0.3 0.5M281.8 817.5l0 0.3"/>
<path stroke="#44549f" stroke-opacity="0.9" stroke-width="2.5" d="M313.8 813.8l1.1 0.1M265.2 800.3l-0.6 0.9M277.6 829l0.7 0.7M284.3 814.9l0.6 0.6M362.8 799.1l0.1 0"/>
<path stroke="#5566b0" stroke-opacity="0.8" stroke-width="1" d="M276.1 867.8l2.3 2.1M357.5 874.7l2.5 1.6M270 811.6l-1.8 0M264.5 856.5l-0.6 1.9M319.2 856.9l3 1.2M354.7 816.3l-1.8 2.5"/>
<path stroke="#5566b0" stroke-opacity="0.8" stroke-width="1.5" d="M271.5 847.8l3.3 4.4"/>
</g>
</g>
<g clip-path="url(#cp11)" fill="none" stroke-linecap="round">
<rect x="372.9" y="792" width="103.5" height="102.4" fill="#abb9df"/>
<g filter="url(#b2)">
<path stroke="#cfa896" stroke-opacity="0.5" stroke-width="6.5" d="M415.7 837.2l-0.7 0.1"/>
<path stroke="#cfa896" stroke-opacity="0.5" stroke-width="8" d="M407 834.9l0.2 0.3"/>
<path stroke="#bb8c76" stroke-opacity="0.5" stroke-width="3" d="M414.5 837.9l1.9 0.5"/>
<path stroke="#bb8c76" stroke-opacity="0.5" stroke-width="3.5" d="M417.5 833.9l-2.3 1.4"/>
<path stroke="#c79c88" stroke-opacity="0.5" stroke-width="4.5" d="M407.5 832.3l0.2 1.6"/>
</g>
<g filter="url(#bl)">
<path stroke="#a86e54" stroke-opacity="0.45" stroke-width="4" d="M412.6 837.2l0.8 0.8"/>
<path stroke="#8e543a" stroke-opacity="0.45" stroke-width="5" d="M413.7 832.3l0.1 0.2"/>
</g>
<g filter="url(#b2)">
<path stroke="#cfa896" stroke-opacity="0.5" stroke-width="3.5" d="M394.7 852.4l0.4 2.3"/>
<path stroke="#cfa896" stroke-opacity="0.5" stroke-width="4" d="M400.2 859.1l-0.1 1.6"/>
<path stroke="#cfa896" stroke-opacity="0.5" stroke-width="5.5" d="M411.4 854l0.9 0.2"/>
<path stroke="#cfa896" stroke-opacity="0.5" stroke-width="6.5" d="M410 853.5l0.8 1.6M399.7 854.8l-1.6 1.5"/>
<path stroke="#bb8c76" stroke-opacity="0.5" stroke-width="5.5" d="M403.2 852l0.2 0.8"/>
</g>
<g filter="url(#bl)">
<path stroke="#8e543a" stroke-opacity="0.45" stroke-width="2.5" d="M397.2 859l-0 0.5"/>
<path stroke="#9c6046" stroke-opacity="0.45" stroke-width="2" d="M405.3 855l-1.2 0.6"/>
<path stroke="#a86e54" stroke-opacity="0.45" stroke-width="3" d="M396.9 856l0.1 0.8"/>
</g>
<g filter="url(#b2)">
<path stroke="#c79c88" stroke-opacity="0.5" stroke-width="5.5" d="M379.2 880.4l2.3 0.8"/>
<path stroke="#c79c88" stroke-opacity="0.5" stroke-width="6" d="M383.4 876.5l1.3 0.7"/>
<path stroke="#cfa896" stroke-opacity="0.5" stroke-width="5" d="M376.9 878.2l-0.3 0.4"/>
<path stroke="#bb8c76" stroke-opacity="0.5" stroke-width="7" d="M382.4 871.4l-1.4 0.2"/>
</g>
<g filter="url(#bl)">
<path stroke="#b47e66" stroke-opacity="0.45" stroke-width="4" d="M374 878.9l0.1 0"/>
<path stroke="#8e543a" stroke-opacity="0.45" stroke-width="4" d="M375.1 877.6l-0.8 0.8"/>
</g>
<g filter="url(#b2)">
<path stroke="#bb8c76" stroke-opacity="0.5" stroke-width="5" d="M458.9 846.3l0.5 0.8"/>
<path stroke="#cfa896" stroke-opacity="0.5" stroke-width="4" d="M461.9 848.2l-1.3 0.7"/>
<path stroke="#cfa896" stroke-opacity="0.5" stroke-width="7" d="M459.2 852.8l0 0.1"/>
</g>
<g filter="url(#bl)">
<path stroke="#9c6046" stroke-opacity="0.45" stroke-width="2.5" d="M464 846.2l-0.5 1.8"/>
<path stroke="#9c6046" stroke-opacity="0.45" stroke-width="5.5" d="M461.3 845.5l0.1 0.1"/>
<path stroke="#6e82c1" stroke-opacity="0.8" stroke-width="4" d="M398.4 895.4l0.8 2.7M411.4 874.2l-0.7 2.5M370.4 793.1l0.1 1.8"/>
<path stroke="#6e82c1" stroke-opacity="0.8" stroke-width="4.5" d="M435.2 831.5l2.2 0.8M449.9 859.9l-2.7 0.7M474.8 874.7l1.3 0.6M474.3 840.1l-0.5 1.6M379 867.2l-1.7 1.8M471.7 794.6l0.4 2.1M406.3 817l2.8 0.2"/>
<path stroke="#6e82c1" stroke-opacity="0.8" stroke-width="5" d="M463.8 792.8l-2.3 0.1M459 837.6l0.8 0.9M401.7 874.6l0.5 1.7M409.9 891.8l1.6 1.1M376.4 854.9l1.1 2.5M372.5 862.2l2.2 0.8M417.9 877.4l0.2 2.2M448 888.2l1.1 0.3M448.6 793.8l-1.3 0.9M413.4 845.7l-0.1 1.1M478.7 797.2l-0.7 1.5M465.5 837.2l0.1 1.4"/>
<path stroke="#6e82c1" stroke-opacity="0.8" stroke-width="5.5" d="M463.1 821.3l0.7 0.6M390.6 814.4l-1.4 0M432.7 822.2l-1.7 0M438.7 889.1l-1.6 0.8M474.1 789.3l-1.3 0.5M390.7 801.6l0.1 0.8M450.7 868.2l0.2 0.4M417.4 802l0.5 2.1"/>
<path stroke="#6e82c1" stroke-opacity="0.8" stroke-width="6" d="M446.1 826.6l-0.4 0.9M377.7 849.7l0 0.3M385.4 859l-0.1 0.7M455.1 890.8l0.1 0M408.7 797.3l0.4 1.2M400.2 803.7l-0.8 0.4"/>
<path stroke="#6e82c1" stroke-opacity="0.8" stroke-width="6.5" d="M415.8 862.3l-0 0.1M426.5 871.2l-0 0.4M432.3 808.3l0.8 0.9M402.7 843.4l0.9 0.5M401.5 822.1l1.2 0.1M371.4 869.4l0.1 0.2M451.7 806.5l1.2 0.3"/>
<path stroke="#6e82c1" stroke-opacity="0.8" stroke-width="7" d="M457.5 816.2l-0 0.1M375.4 840.8l-0 0.3M419.6 884.6l0.1 0.1M430 815.8l0.5 0.1"/>
<path stroke="#6e82c1" stroke-opacity="0.8" stroke-width="7.5" d="M449.1 800l0.1 0"/>
<path stroke="#8c9fd6" stroke-opacity="0.8" stroke-width="3.5" d="M461.6 854l2.1 1M412.9 851.7l1.4 1.9"/>
<path stroke="#8c9fd6" stroke-opacity="0.8" stroke-width="4" d="M475.4 832.8l2.6 0.2M476.2 880.7l1 2M414.3 839l1.6 2.4M452.6 788.4l-0.3 2.2M424.4 823.4l-1.7 1.1"/>
<path stroke="#8c9fd6" stroke-opacity="0.8" stroke-width="4.5" d="M463.5 874.1l0.8 1.8M477.4 864l2.5 0.2M455.3 856.5l2.8 0.5M461.4 829.7l0.5 1.7M455.3 882.9l-2.4 0.7M478.8 891.7l-1.5 0.7M380.1 821.7l1.2 1.2M375.2 818.1l1.6 0.4"/>
<path stroke="#8c9fd6" stroke-opacity="0.8" stroke-width="5" d="M380.5 889.4l-1 1.4M420.4 853.1l-1.4 0.5M437.5 822.7l1 1.7M430.6 801.3l-1.6 2M387.1 826.9l1.2 0.3M443.6 814.9l2.4 0.3M394.3 795.9l-0.3 1.6M454.3 872.9l-1.1 2.5"/>
<path stroke="#8c9fd6" stroke-opacity="0.8" stroke-width="5.5" d="M470.7 865.3l-1 1.5M376.2 884.1l-1.3 0.5M376.4 876.3l0.2 0.3M421.9 830.8l-0 0.6M443.2 879.9l-0.3 0.5M371.1 895.6l0.8 1.2"/>
<path stroke="#8c9fd6" stroke-opacity="0.8" stroke-width="6" d="M384.7 882.7l-0.7 1.6M472 807.7l0.6 1.4M465.6 801.4l-0 0.7M385.4 895.5l1.4 0.7M437.5 878.4l-1.3 0.5M430.9 791.6l0.1 0.3M396.1 850.8l0.1 0.4M447.5 833.9l-0.3 0.7M371.2 849.2l-0.2 1.2"/>
<path stroke="#8c9fd6" stroke-opacity="0.8" stroke-width="6.5" d="M429.2 827.9l-0.7 0.1M468.3 851.9l-0 0.6"/>
<path stroke="#8c9fd6" stroke-opacity="0.8" stroke-width="7" d="M476 846.2l-0.3 0.1M437.2 792.9l0.1 0.2M440.6 836.3l0.4 0.2"/>
<path stroke="#8c9fd6" stroke-opacity="0.8" stroke-width="7.5" d="M479.2 821.4l0.1 0"/>
<path stroke="#8397d0" stroke-opacity="0.8" stroke-width="3.5" d="M466.1 842.6l1.4 2M434 840.4l-2.4 0.5"/>
<path stroke="#8397d0" stroke-opacity="0.8" stroke-width="4" d="M409.6 823.1l-1.6 0.8M476.9 852.5l1.5 1.8M412 790.4l2.5 0.6M407.3 863.1l-1.9 0.5"/>
<path stroke="#8397d0" stroke-opacity="0.8" stroke-width="4.5" d="M385.3 871.4l0.8 1.1M479.1 804.5l0.7 1.6M399.7 830.7l-2.5 2M410 855.9l-1.7 0.8M460.1 805.8l1.7 0.4M456.7 824.4l1.5 1.2M433.4 867.7l1.2 1.5M404.9 896.5l1.3 0.9M444.4 865.6l-0.4 2.7"/>
<path stroke="#8397d0" stroke-opacity="0.8" stroke-width="5" d="M418.1 895.4l-2.4 0.3M422.7 788.7l1.1 2.3M400.1 860.1l1.1 0.8M370 835.7l0.8 1.9M407.9 805.5l-2.8 0.1M422.1 865.2l1.2 0.9M471.6 886.2l0.7 1.6"/>
<path stroke="#8397d0" stroke-opacity="0.8" stroke-width="5.5" d="M433.5 849.7l0.5 0.4M460.1 862.9l-0.4 0.3M391.2 883.6l1.5 0.5M406.8 868.6l-1.1 1.9M391.1 846.5l-2 1M377.7 896.2l-0.5 0.1M439.5 872.9l-0 1.5"/>
<path stroke="#8397d0" stroke-opacity="0.8" stroke-width="6" d="M470.6 881.2l0.1 0.1M469 817.6l-0.6 0.4M380.1 813l-0.2 0.6M471.9 859.2l0.3 1.6M405 832.1l-0.1 0.4M433 860.7l0.3 0.2M382.7 840l-0.4 0.2"/>
<path stroke="#8397d0" stroke-opacity="0.8" stroke-width="6.5" d="M441.9 796.6l-0.2 0.9M415.3 870.1l-0.9 0.9M385.5 807.3l-0.3 1M405.3 885l-0 0.2M393.5 823.5l0.3 0.5M402.2 793.3l0.1 0.8M424.6 838.1l0.3 0.4M477.9 813.1l1.1 0.4M369.9 876.7l-0.2 0.2M370.5 815.2l0 0.2"/>
<path stroke="#8397d0" stroke-opacity="0.8" stroke-width="7" d="M453.6 831.4l0.1 0.2M393.3 877.6l-0.1 0.2M379.7 833.5l0.2 0M467.6 810.8l0.1 0.4M371.5 800.6l0.3 0.2"/>
<path stroke="#788cc9" stroke-opacity="0.8" stroke-width="4" d="M471.4 834.3l-0.5 2.2"/>
<path stroke="#788cc9" stroke-opacity="0.8" stroke-width="4.5" d="M440.1 857.9l-1.8 1.3M470.2 891.9l-1.2 1.9M392.8 807.8l-0.5 2.2M376.4 804.5l2.6 0.1M423.6 802.5l0.4 1.3M464.6 886.2l2.1 0.7M445.5 893.7l-0.7 1.8M448.7 812.7l2.7 1.1M438.7 864.6l1.7 0.4M414.9 825.6l0.3 1.6"/>
<path stroke="#788cc9" stroke-opacity="0.8" stroke-width="5" d="M446.3 804.9l-1.5 1.4M429.9 834.1l-1.5 1.1M394.1 789l1.6 1.5M460.6 848.5l1.3 1M433.8 894l0.9 0.7M392.5 857.7l1 0.4M385.8 852.1l-0.1 0.9"/>
<path stroke="#788cc9" stroke-opacity="0.8" stroke-width="5.5" d="M421.8 797.2l-1.2 0.1M412.4 885.1l-0.2 1.2M445.8 874.3l0.2 0.6M401 867.5l-1.7 0.8M439.4 842.9l1.4 0.2M451.8 841.8l0.9 1.1M474.9 825.3l0.8 1.6M423.4 858.5l0.5 0.2M445.8 845.2l-0.3 2.1M422.1 845.3l-0.2 0.5M384.6 817.4l-0.1 0.8M461.2 896.4l-0.6 0M393.8 890.6l0.6 0.4M451.2 820.5l0.4 1.6M422.7 815.1l-0.1 0.3M370.8 823.2l-0.8 1.3M434.7 883.2l-1.9 1.1M441.1 852.8l0.7 0.7"/>
<path stroke="#788cc9" stroke-opacity="0.8" stroke-width="6" d="M375.4 827.1l-0.1 0M415.3 820.3l0.1 0M371.3 889.2l0.5 0.1M460.1 869l-1 1.2"/>
<path stroke="#788cc9" stroke-opacity="0.8" stroke-width="6.5" d="M392.6 864.4l-0.7 0.5M380.4 796.5l1.1 0.6M392.2 831.8l-0.9 0.9"/>
<path stroke="#788cc9" stroke-opacity="0.8" stroke-width="7" d="M427.9 883.2l-0.1 0M436.6 803.2l0 0.2M427.9 895.4l0.1 0M442.3 788.7l-0 0.7M459.8 883.9l0.3 0.1"/>
<path stroke="#788cc9" stroke-opacity="0.8" stroke-width="7.5" d="M402.2 851.2l-0.1 0M400.5 890.6l-0.1 0.1M421.8 893.1l0.1 0"/>
<path stroke="#e4e9f5" stroke-opacity="0.5" stroke-width="2" d="M455.5 794.7l1.4 0.6M404.6 811l-0.1 1.1"/>
<path stroke="#e4e9f5" stroke-opacity="0.5" stroke-width="2.5" d="M449.2 852.8l-0.4 0.4M371.1 808.4l0.3 0.7M469.4 829.4l-1.1 1"/>
<path stroke="#e4e9f5" stroke-opacity="0.5" stroke-width="3" d="M408.9 840l0.8 1.7M393.3 839.8l-0.3 1M412.9 812.1l0.7 0.2M437.4 816.2l0.1 0.2M398.2 815.9l0.8 1.1"/>
<path stroke="#e4e9f5" stroke-opacity="0.5" stroke-width="4" d="M386.2 790.4l-0.2 0.8M419.1 809.3l0.9 0M427.4 853.4l0.4 0.1M428.1 845.8l0.7 0.4"/>
<path stroke="#e4e9f5" stroke-opacity="0.5" stroke-width="4.5" d="M413.6 833.8l-0.1 0.1"/>
<path stroke="#6378c0" stroke-opacity="0.45" stroke-width="1" d="M378.4 804l1.1 0M450 820.4l0.3 1.1"/>
<path stroke="#6378c0" stroke-opacity="0.45" stroke-width="1.5" d="M435.2 831.7l0.8 0.3M469.4 864.9l-0.3 0.5M466.9 842.2l0.4 0.6M447.2 874.1l0.2 0.5M458.2 838.4l0.4 0.4M375.7 827.9l-0.8 0.6M476.5 832.8l0.6 0M379.9 867.6l-0.5 0.6M389.6 846.5l-0.8 0.4M390.8 831.4l-0.4 0.4M396.7 849.3l0.2 1M411.1 790.9l1.7 0.4M422.8 824.8l-1 0.6M424.7 837.9l0.5 0.7M477.9 891.6l-1 0.5M450.9 806.6l0.8 0.2M379.8 821.5l0.9 1M400 859.3l0.6 0.5M413.7 851.6l0.6 0.8M417.5 803.5l0.2 0.7M422.3 866.1l0.8 0.6M471.9 885.9l0.3 0.6"/>
<path stroke="#6378c0" stroke-opacity="0.45" stroke-width="2" d="M452.4 830.1l0.4 0.9M468.7 816l-1.3 0.8M464 875.3l0 0.1M420.2 854l-0.6 0.3M421.6 798.3l-0.7 0.1M416 861.8l0.1 0M383.7 881.8l-0.2 0.4M386.8 871.3l0.1 0M465.8 800.9l-0 0.1M429.3 834.7l-1.5 1.1M475.2 875.5l0.2 0.1M471.5 835.4l-0.3 1.2M455.3 889.6l-0.4 0.4M429.7 800.7l-0.8 1M386.4 895l0.8 0.4M393.8 788.3l0.7 0.7M391.5 802.6l0.1 0M431.6 791.7l0 0.2M456.8 825.9l0.6 0.5M422.4 830.2l-0.1 0.9M399.5 802.5l-0.4 0.2M400.9 821.5l0.2 0M414.9 840.1l0.4 0.5M379 834.5l0.4 0M463.2 853.9l0.9 0.4M428.5 828.7l-0.7 0.1M422.4 789.6l0.3 0.6M375.5 817.2l1.7 0.4M464.5 886.9l0.7 0.2M479.3 798.1l-0.3 0.6M368.8 835.8l0.6 1.3M438.2 792.3l0.3 0.6M422.3 892.9l0.4 0.1M435.3 884.4l-0.5 0.3M407.1 805.3l-1 0.1"/>
<path stroke="#6378c0" stroke-opacity="0.45" stroke-width="2.5" d="M462.1 793.4l-0.6 0M409 824.4l-0.8 0.4M431.7 821.1l-1.4 0M432.9 848.7l0.4 0.3M411.9 885l-0.1 0.7M478.6 863.8l1 0.1M409.9 856.6l-0.8 0.4M459.4 806.5l1 0.2M421.7 859l1.3 0.4M375.5 856.1l0.2 0.4M408.6 798l0.2 0.6M410.5 875.8l-0.4 1.2M453.7 789.8l-0.2 1.3M446.4 834.6l-0.3 0.7M472.2 859.8l0.1 0.5M460.1 871.2l0.1 0M444.1 880.4l-0.6 1.2M441.7 852l0.1 0"/>
<path stroke="#6378c0" stroke-opacity="0.45" stroke-width="3" d="M444.7 825.9l-0.2 0.4M445 806.7l-0.5 0.4M425.3 870l0.1 0M474.6 790l0.1 0M414.9 819.7l0.2 0.1M406.8 869.4l-0.3 0.5M417.2 895.3l-0.3 0M476.2 880.4l0.2 0.4M371.1 793.2l0.1 1M393.5 797.1l-0.2 0.8M451.1 867.3l0.4 0.9M460.4 896l-0.6 0M371 895l0.4 0.6M414.6 826.1l0.1 0"/>
<path stroke="#6378c0" stroke-opacity="0.45" stroke-width="3.5" d="M463.6 822.1l0.2 0.1M378.5 850.4l0.1 0.4M400.5 892l-0.2 0.3M459.9 849.4l0.3 0.2M369.4 824.5l0.1 0M393.5 858.1l0.3 0.1"/>
<path stroke="#6378c0" stroke-opacity="0.45" stroke-width="4" d="M378.8 894.9l0.1 0"/>
<path stroke="#596db8" stroke-opacity="0.45" stroke-width="1" d="M427.6 883.7l-1.1 0M477.5 854.4l0.7 0.9"/>
<path stroke="#596db8" stroke-opacity="0.45" stroke-width="1.5" d="M437.3 821.8l0.3 0.6M438.6 887.7l-0.8 0.4M385.3 859.4l-0.1 0.8M404 852.5l-0.8 0.3M475.6 825.3l0.3 0.6M385.8 807.8l-0.3 0.9M431 808.2l0.9 1M445.1 846.2l-0.3 1.5M427.6 895.1l-0.4 1.6M402.5 843.4l0.6 0.3M379.2 812.8l-0.4 0.9M475.7 845.7l-1.1 0.4M383.7 817.8l-0.1 0.6M418.8 884.6l0.3 0.5M466 810l0.1 0.6M371 869.7l0.8 1.3M434.5 895.7l0.6 0.5M448.4 888.6l1 0.2M459 884.9l1.2 0.5M448 799.3l1.5 0.8"/>
<path stroke="#596db8" stroke-opacity="0.45" stroke-width="2" d="M440.8 858.9l-0.2 0.2M392.6 876.3l-0.3 0.8M450.2 859.2l-0.4 0.1M479.4 821.6l-0.3 0M414.2 871.3l-0.2 0.2M392.6 863.7l-1.2 0.8M380.7 795.8l0.3 0.2M410.6 893.1l0.4 0.3M375.7 876.2l0.7 1.1M439.3 873.3l-0 1.4M422 845.1l-0.4 0.9M373.7 863.4l0.8 0.3M385.6 827l1.7 0.4M370.5 889.4l0.3 0.1M455.1 883.1l-1 0.3M417.8 879.2l0 0.3M429.6 816.4l1.8 0.5M422.5 802l0.4 1.6M432.8 841l-1.1 0.2M413.9 844.8l-0.1 1.9M405.4 897.4l1.6 1.1M422.3 815l-0.2 1M477.5 813.3l1.7 0.7M468 851.2l-0.1 1M470.9 794.3l0.1 0.5M465.3 836.7l0.1 1.3M384.9 851.3l-0.2 1M370.6 814.1l0.2 1.9"/>
<path stroke="#596db8" stroke-opacity="0.45" stroke-width="2.5" d="M398.2 896.4l0.3 1M469.3 880.7l0.5 0.5M472.1 806.3l0.5 1.1M441.7 796.9l-0.2 1.3M401.2 866.9l-1 0.5M391.3 882.6l0.2 0.1M436.3 803.2l0.1 0.9M450.9 842.6l0.3 0.4M399.2 832l-0.4 0.3M474.9 841.4l0.1 0M401.9 876.3l0.4 1.4M436.1 879.3l-0.5 0.2M456.7 858.1l0.3 0M461.8 828.9l0.3 1.1M405 884.8l-0.1 0.6M392.8 824.3l0.5 0.8M443.2 788.1l-0 0.6M433.5 869.1l0.2 0.2M402.8 793l0 0.2M433.6 861.4l0.1 0.1M383.7 839.4l-0.1 0.1M445.1 894.7l-0.5 1.2M443.6 866.7l-0.1 1.1M450.8 813.6l0.1 0M441.3 837.5l0.1 0"/>
<path stroke="#596db8" stroke-opacity="0.45" stroke-width="3" d="M469.8 892.6l0.1 0M392.1 809.7l-0.1 0.4M480.1 805.7l0.1 0.3M440.3 843.3l0.8 0.1M374.1 884.3l-0.2 0.1M376.2 840.2l-0.1 0.8M443.5 815.7l0.4 0M447.7 793.7l-0.7 0.5M372 800.9l0.7 0.4M439.7 865.8l0.2 0M406.7 863.1l-0.7 0.2"/>
<path stroke="#596db8" stroke-opacity="0.45" stroke-width="3.5" d="M389.2 815.5l-0.4 0M456.4 817.3l0.1 0M461 864l-0.2 0.2M404.8 833l-0.1 0.3M371.7 849.4l-0 0.2M453.8 874.6l-0.2 0.4M394.7 891.2l0.3 0.2M407.6 817.8l0.5 0"/>
<path stroke="#596db8" stroke-opacity="0.45" stroke-width="4" d="M381.2 891.3l0.1 0M370.9 876.2l0.1 0"/>
<path stroke="#f6f8fc" stroke-opacity="0.95" stroke-width="3.5" d="M399.1 844.7l2.3 1.1"/>
<path stroke="#f6f8fc" stroke-opacity="0.95" stroke-width="4" d="M400.9 845.8l-1.2 0.6"/>
<path stroke="#f6f8fc" stroke-opacity="0.95" stroke-width="5.5" d="M403 844.5l-0.6 0.2"/>
</g>
</g>
<rect x="379.5" y="885.2" width="31.4" height="3.4" fill="#000"/>
<rect x="44.4" y="575.7" width="103.4" height="103.2" fill="none" stroke="#141210" stroke-width="1.5"/>
<rect x="155.1" y="575.7" width="102.3" height="103.2" fill="none" stroke="#141210" stroke-width="1.5"/>
<rect x="264.4" y="575.7" width="102.7" height="103.2" fill="none" stroke="#141210" stroke-width="1.5"/>
<rect x="372.9" y="575.7" width="103.5" height="103.2" fill="none" stroke="#141210" stroke-width="1.5"/>
<rect x="44.4" y="685" width="103.4" height="101.9" fill="none" stroke="#141210" stroke-width="1.5"/>
<rect x="155.1" y="685" width="102.3" height="101.9" fill="none" stroke="#141210" stroke-width="1.5"/>
<rect x="264.4" y="685" width="102.7" height="101.9" fill="none" stroke="#141210" stroke-width="1.5"/>
<rect x="372.9" y="685" width="103.5" height="101.9" fill="none" stroke="#141210" stroke-width="1.5"/>
<rect x="44.4" y="792" width="103.4" height="102.4" fill="none" stroke="#141210" stroke-width="1.5"/>
<rect x="155.1" y="792" width="102.3" height="102.4" fill="none" stroke="#141210" stroke-width="1.5"/>
<rect x="264.4" y="792" width="102.7" height="102.4" fill="none" stroke="#141210" stroke-width="1.5"/>
<rect x="372.9" y="792" width="103.5" height="102.4" fill="none" stroke="#141210" stroke-width="1.5"/>
</g>
</svg></body></html>
